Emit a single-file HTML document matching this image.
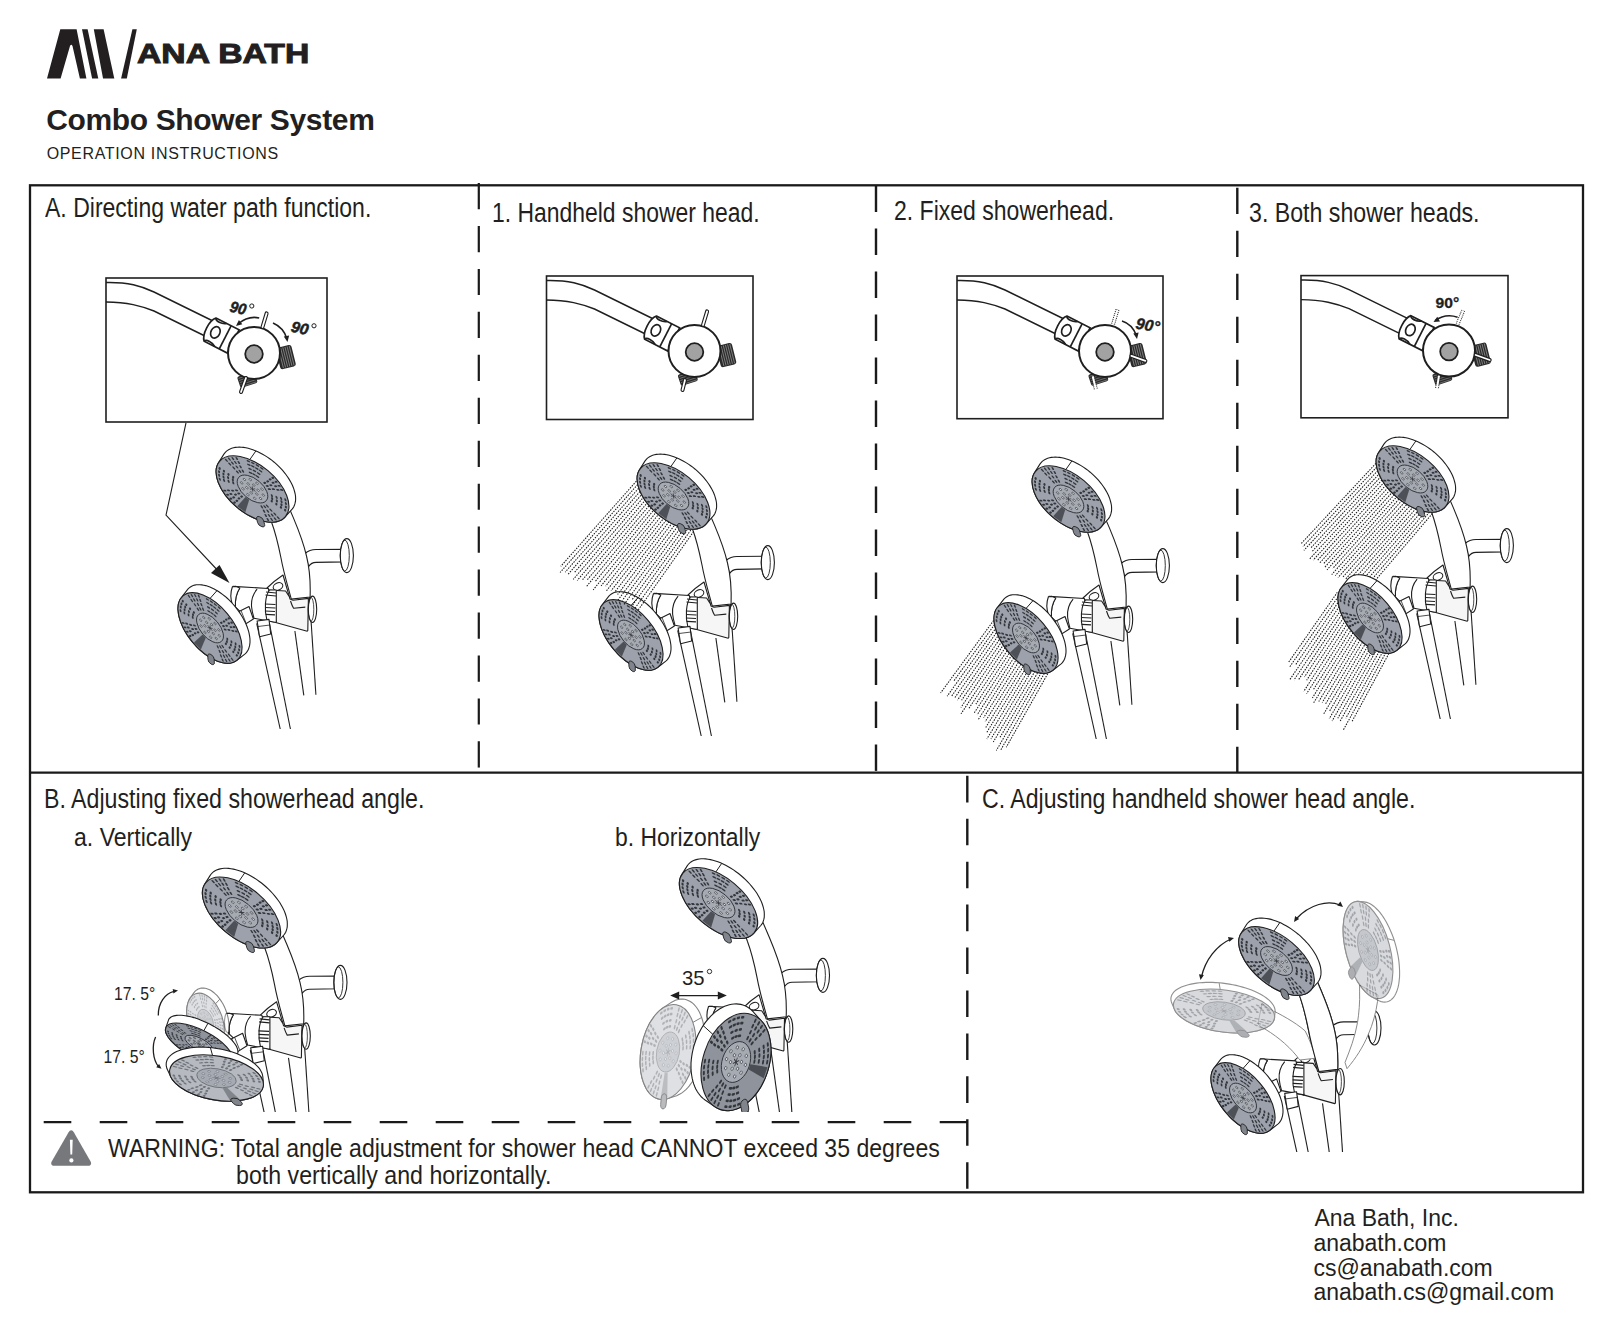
<!DOCTYPE html>
<html><head><meta charset="utf-8"><style>
html,body{margin:0;padding:0;background:#fff;}
body{width:1618px;height:1336px;position:relative;overflow:hidden;font-family:"Liberation Sans",sans-serif;}
.abs{position:absolute;left:0;top:0;}
.t{position:absolute;white-space:nowrap;line-height:1;transform-origin:0 0;}
</style></head><body>

<svg class="abs" width="1618" height="1336" viewBox="0 0 1618 1336">
 <g fill="#231f20">
  <path d="M47,78.5 L60.3,29.3 L76.6,29.3 L86.4,78.5 L79.9,78.5 L72.5,46 Q71.3,43.5 70,46 L60.6,78.5 Z"/>
  <path d="M82,29.3 L87.6,29.3 L98.3,78.5 L92.1,78.5 Z"/>
  <path d="M93.8,29.3 L103.6,29.3 L114.3,78.5 L103,78.5 Z"/>
  <path d="M132.4,29.3 L136.8,29.3 L126.8,78.5 L121.1,78.5 Z"/>
 </g>
</svg>
<svg class="abs" width="1618" height="1336" viewBox="0 0 1618 1336"><defs></defs>
<clipPath id="clipA"><rect x="106" y="278" width="221" height="144"/></clipPath><rect x="106" y="278" width="221" height="144" fill="#fff" stroke="#1f1f1f" stroke-width="1.6"/><g clip-path="url(#clipA)"><g transform="translate(106,278)"><g fill="none" stroke="#1f1f1f" stroke-width="1.45"><path d="M0,4.5 C22,4 35,8 48,14 L108,43.5"/><path d="M-2,24 C22,24 35,28 48,33 L101,59"/></g><g transform="translate(116.5,58) rotate(27)" stroke="#1f1f1f" stroke-width="1.7" fill="#fff"><path d="M-14,-13 L12,-13 L12,13 L-14,13 C-19,8 -19,-8 -14,-13 Z"/><ellipse cx="-8" cy="0" rx="4.5" ry="6" fill="none"/><path d="M-2,-13 C-6,-10 -13,-10 -14,-13" fill="none"/><path d="M-2,13 C-6,10 -13,10 -14,13" fill="none"/><path d="M3,-13 L3,13"/></g><g transform="translate(174,80.5) rotate(-14)"><rect x="-2" y="-11" width="16" height="22" rx="2.5" fill="#2a2a2a"/><g stroke="#8a8a8a" stroke-width="0.8"><line x1="1.0" y1="-10" x2="1.0" y2="10"/><line x1="3.2" y1="-10" x2="3.2" y2="10"/><line x1="5.4" y1="-10" x2="5.4" y2="10"/><line x1="7.6" y1="-10" x2="7.6" y2="10"/><line x1="9.8" y1="-10" x2="9.8" y2="10"/><line x1="12.0" y1="-10" x2="12.0" y2="10"/></g></g><g transform="translate(139.5,96) rotate(72)"><rect x="0" y="-9" width="12" height="18" rx="2" fill="#2a2a2a"/><g stroke="#777" stroke-width="0.8"><line x1="2.0" y1="-8" x2="2.0" y2="8"/><line x1="4.2" y1="-8" x2="4.2" y2="8"/><line x1="6.4" y1="-8" x2="6.4" y2="8"/><line x1="8.6" y1="-8" x2="8.6" y2="8"/><line x1="10.8" y1="-8" x2="10.8" y2="8"/></g></g><circle cx="148" cy="75" r="26" fill="#fff" stroke="#1f1f1f" stroke-width="2"/><circle cx="148" cy="76" r="8.8" fill="#a2a2a2" stroke="#1f1f1f" stroke-width="1.8"/><line x1="160.6" y1="35.4" x2="156.5" y2="49" stroke="#1f1f1f" stroke-width="4" stroke-linecap="round"/><line x1="160.6" y1="35.4" x2="156.5" y2="49" stroke="#fff" stroke-width="1.8" stroke-linecap="round"/><line x1="140" y1="100" x2="135" y2="114" stroke="#1f1f1f" stroke-width="4" stroke-linecap="round"/><line x1="140" y1="100" x2="135" y2="114" stroke="#fff" stroke-width="1.8" stroke-linecap="round"/><path d="M153.2,40 C145,38 138,41 132,46" fill="none" stroke="#1f1f1f" stroke-width="1.6"/><path d="M130.0,48.0 L132.9,42.1 L136.3,46.2 Z" fill="#1f1f1f"/><path d="M167,45 C174,48 179,54 181,61" fill="none" stroke="#1f1f1f" stroke-width="1.6"/><path d="M181.5,64.0 L177.8,58.6 L183.1,57.6 Z" fill="#1f1f1f"/><text x="122.96" y="33.50" font-family="Liberation Sans" font-size="15.5" font-weight="bold" font-style="italic" fill="#1f1f1f" stroke="#1f1f1f" stroke-width="0.5" textLength="16.47" lengthAdjust="spacingAndGlyphs" transform="rotate(12 123.2 33.5)">90</text><circle cx="145.8" cy="28" r="2.1" fill="none" stroke="#1f1f1f" stroke-width="1"/><text x="184.25" y="53.50" font-family="Liberation Sans" font-size="15.5" font-weight="bold" font-style="italic" fill="#1f1f1f" stroke="#1f1f1f" stroke-width="0.5" textLength="17.40" lengthAdjust="spacingAndGlyphs" transform="rotate(12 184.5 53.5)">90</text><circle cx="208" cy="47.8" r="2.1" fill="none" stroke="#1f1f1f" stroke-width="1"/></g></g>
<path d="M186,422.8 L166,515.2 L222,575" fill="none" stroke="#1f1f1f" stroke-width="1.1"/>
<path d="M229.5,583 L211,573 L219.5,565 Z" fill="#1f1f1f"/>
<g stroke="#1f1f1f" stroke-width="1.1" fill="none"><path d="M256.7,623.4 L280.2,729"/><path d="M269.4,623.4 L290.4,729"/><path d="M294.9,631 L303.8,695.3"/><path d="M309.5,597 L315.9,694.7"/></g><path d="M305,553.5 C309,550 312,549.5 316,549.5 L344,549.3 L344,561.9 L316,562.4 C313,562.4 311,563 308.5,566.6 Z" fill="#fff" stroke="#1f1f1f" stroke-width="1.1"/><ellipse cx="346.8" cy="555.6" rx="6.6" ry="17" fill="#fff" stroke="#1f1f1f" stroke-width="1.1"/><ellipse cx="344.8" cy="555.6" rx="4.5" ry="15.5" fill="none" stroke="#1f1f1f" stroke-width="0.9"/><path d="M266,506 L271.3,521.5 C276,534 279,548 281,558 C283.5,572 287.5,585 291.3,599.1 L310.1,597 C310.5,585 309.5,568 306.5,556 C303.5,543 298.5,530 293.4,517.9 L287,503 Z" fill="#fff" stroke="#1f1f1f" stroke-width="1.1"/><g stroke="#1f1f1f" stroke-width="1.1" fill="#fff" stroke-linejoin="round"><path d="M267,588 C271,584 277,579 283,575 L289.3,596.6 L270,592 Z"/><ellipse cx="278" cy="586.5" rx="5" ry="3.6" transform="rotate(-25 278 586.5)"/><path d="M285.6,591 L289.3,596.6 L290,599 L293,600.3 L308.4,598.4 L307.8,630.6 L307.2,631.2 L275.7,622.5 L268,590 Z" fill="#f6f6f6"/><path d="M290.5,601 C291.5,604 292.5,606.5 293.6,608.3 L305.3,607.1" fill="none"/><path d="M233,586.4 L268.3,588.5 L276.3,622.5 L254,618.2 C246,616 240,612 235.5,607 Z"/><path d="M257.1,589.2 C253,594 251,600 251.6,607 C252,611 253,615 254,618.2" fill="none"/><path d="M239.8,588 C236.5,593 235,600 235.5,607" fill="none"/><path d="M232.4,586.7 L236.1,586.4 L239.8,588 C236.5,593 235,600 235.5,607 L232.4,604.6 C230.5,599 230.5,592 232.4,586.7 Z"/><path d="M269.5,590 C265,596 264,610 267,620.7 L276.3,622.5 L276.3,590 Z" fill="#fff"/><path d="M265,604 L275.5,604.5 M265,607.5 L275.5,608 M265.2,611 L275,611.5 M265.6,614.3 L275,614.8 M266,592 L276,593 M265.5,595 L276,596" stroke-width="1.2"/><ellipse cx="312.5" cy="609.3" rx="4.2" ry="13.2"/><ellipse cx="311" cy="609.3" rx="2.8" ry="12" fill="none" stroke-width="0.8"/><path d="M238,612 L249,606.5 L253.4,619 L243,625.6 Z"/><path d="M241,610.5 L246,623" fill="none" stroke-width="0.8"/><path d="M257.1,621 L269,619.4 L270.7,634 L259.6,636.8 Z"/><path d="M258,626.5 L270,625" fill="none" stroke-width="0.8"/></g>
<g opacity="1.0"><path d="M178.0,609.3 L178.0,607.4 L178.2,605.5 L178.5,603.8 L178.9,602.2 L179.5,600.7 L180.2,599.3 L181.0,598.0 L187.1,590.1 L188.1,588.9 L189.2,587.9 L190.4,587.0 L191.7,586.2 L193.2,585.6 L194.7,585.1 L196.4,584.8 L198.1,584.7 L199.9,584.7 L201.8,584.9 L203.7,585.2 L205.7,585.6 L207.8,586.3 L209.9,587.0 L212.0,588.0 L214.2,589.0 L216.3,590.2 L218.5,591.5 L220.6,593.0 L222.8,594.6 L224.9,596.2 L227.0,598.0 L229.0,599.9 L231.0,601.9 L232.9,604.0 L234.8,606.1 L236.5,608.3 L238.2,610.6 L239.8,612.9 L241.3,615.2 L242.7,617.5 L244.0,619.9 L245.2,622.3 L246.3,624.7 L247.2,627.0 L248.0,629.4 L248.7,631.7 L249.2,633.9 L249.6,636.1 L249.9,638.2 L250.0,640.3 L250.0,642.3 L249.8,644.1 L249.5,645.9 L249.0,647.6 L248.5,649.2 L247.7,650.6 L246.9,651.9 L245.9,653.1 L244.8,654.1 L237.0,660.2 L235.8,661.1 L234.5,661.8 L233.1,662.4 L231.6,662.8 L230.0,663.1 L228.3,663.3 L226.6,663.3 L224.8,663.1 L222.9,662.8 L220.9,662.3 L218.9,661.7 L216.9,661.0 L214.8,660.1 L212.8,659.1 L210.7,657.9 L208.6,656.6 L206.5,655.2 L204.4,653.7 L202.4,652.0 L200.3,650.3 L198.4,648.5 L196.4,646.5 L194.6,644.5 L192.8,642.5 L191.0,640.3 L189.4,638.1 L187.8,635.9 L186.4,633.6 L185.0,631.4 L183.7,629.0 L182.6,626.7 L181.6,624.4 L180.7,622.2 L179.9,619.9 L179.2,617.7 L178.7,615.5 L178.3,613.3 L178.1,611.3 Z" fill="#fff" stroke="#1f1f1f" stroke-width="1.1"/><line x1="210.0" y1="598.5" x2="217.0" y2="590.6" stroke="#1f1f1f" stroke-width="1"/><g transform="translate(210.0,628.0) rotate(50.0) scale(0.8400,0.4500)"><circle r="50" fill="#9ca1ab" stroke="#1f1f1f" stroke-width="1.1" vector-effect="non-scaling-stroke"/><g fill="#33363b"><rect x="-2.4" y="-1.35" width="4.8" height="2.7" rx="1.3" transform="translate(26.6,4.7) rotate(10)"/><rect x="-2.4" y="-1.35" width="4.8" height="2.7" rx="1.3" transform="translate(25.3,9.4) rotate(20)"/><rect x="-2.4" y="-1.35" width="4.8" height="2.7" rx="1.3" transform="translate(23.2,13.8) rotate(31)"/><rect x="-2.4" y="-1.35" width="4.8" height="2.7" rx="1.3" transform="translate(33.0,5.9) rotate(10)"/><rect x="-2.4" y="-1.35" width="4.8" height="2.7" rx="1.3" transform="translate(31.4,11.7) rotate(20)"/><rect x="-2.4" y="-1.35" width="4.8" height="2.7" rx="1.3" transform="translate(28.8,17.1) rotate(31)"/><rect x="-2.4" y="-1.35" width="4.8" height="2.7" rx="1.3" transform="translate(39.5,6.1) rotate(9)"/><rect x="-2.4" y="-1.35" width="4.8" height="2.7" rx="1.3" transform="translate(38.3,11.4) rotate(17)"/><rect x="-2.4" y="-1.35" width="4.8" height="2.7" rx="1.3" transform="translate(36.5,16.4) rotate(24)"/><rect x="-2.4" y="-1.35" width="4.8" height="2.7" rx="1.3" transform="translate(33.9,21.2) rotate(32)"/><rect x="-2.4" y="-1.35" width="4.8" height="2.7" rx="1.3" transform="translate(45.5,7.0) rotate(9)"/><rect x="-2.4" y="-1.35" width="4.8" height="2.7" rx="1.3" transform="translate(44.1,13.1) rotate(17)"/><rect x="-2.4" y="-1.35" width="4.8" height="2.7" rx="1.3" transform="translate(41.9,18.9) rotate(24)"/><rect x="-2.4" y="-1.35" width="4.8" height="2.7" rx="1.3" transform="translate(39.0,24.4) rotate(32)"/><rect x="-2.4" y="-1.35" width="4.8" height="2.7" rx="1.3" transform="translate(-5.2,26.5) rotate(101)"/><rect x="-2.4" y="-1.35" width="4.8" height="2.7" rx="1.3" transform="translate(-9.9,25.1) rotate(111)"/><rect x="-2.4" y="-1.35" width="4.8" height="2.7" rx="1.3" transform="translate(-14.2,22.9) rotate(122)"/><rect x="-2.4" y="-1.35" width="4.8" height="2.7" rx="1.3" transform="translate(-6.5,32.9) rotate(101)"/><rect x="-2.4" y="-1.35" width="4.8" height="2.7" rx="1.3" transform="translate(-12.3,31.2) rotate(111)"/><rect x="-2.4" y="-1.35" width="4.8" height="2.7" rx="1.3" transform="translate(-17.6,28.5) rotate(122)"/><rect x="-2.4" y="-1.35" width="4.8" height="2.7" rx="1.3" transform="translate(-6.8,39.4) rotate(100)"/><rect x="-2.4" y="-1.35" width="4.8" height="2.7" rx="1.3" transform="translate(-12.1,38.1) rotate(108)"/><rect x="-2.4" y="-1.35" width="4.8" height="2.7" rx="1.3" transform="translate(-17.1,36.2) rotate(115)"/><rect x="-2.4" y="-1.35" width="4.8" height="2.7" rx="1.3" transform="translate(-21.8,33.5) rotate(123)"/><rect x="-2.4" y="-1.35" width="4.8" height="2.7" rx="1.3" transform="translate(-7.9,45.3) rotate(100)"/><rect x="-2.4" y="-1.35" width="4.8" height="2.7" rx="1.3" transform="translate(-13.9,43.9) rotate(108)"/><rect x="-2.4" y="-1.35" width="4.8" height="2.7" rx="1.3" transform="translate(-19.7,41.6) rotate(115)"/><rect x="-2.4" y="-1.35" width="4.8" height="2.7" rx="1.3" transform="translate(-25.1,38.5) rotate(123)"/><rect x="-2.4" y="-1.35" width="4.8" height="2.7" rx="1.3" transform="translate(-22.9,14.3) rotate(238)"/><rect x="-2.4" y="-1.35" width="4.8" height="2.7" rx="1.3" transform="translate(-25.1,10.0) rotate(248)"/><rect x="-2.4" y="-1.35" width="4.8" height="2.7" rx="1.3" transform="translate(-26.5,5.3) rotate(259)"/><rect x="-2.4" y="-1.35" width="4.8" height="2.7" rx="1.3" transform="translate(-28.4,17.8) rotate(238)"/><rect x="-2.4" y="-1.35" width="4.8" height="2.7" rx="1.3" transform="translate(-31.1,12.4) rotate(248)"/><rect x="-2.4" y="-1.35" width="4.8" height="2.7" rx="1.3" transform="translate(-32.8,6.6) rotate(259)"/><rect x="-2.4" y="-1.35" width="4.8" height="2.7" rx="1.3" transform="translate(-33.4,22.0) rotate(237)"/><rect x="-2.4" y="-1.35" width="4.8" height="2.7" rx="1.3" transform="translate(-36.1,17.2) rotate(244)"/><rect x="-2.4" y="-1.35" width="4.8" height="2.7" rx="1.3" transform="translate(-38.1,12.2) rotate(252)"/><rect x="-2.4" y="-1.35" width="4.8" height="2.7" rx="1.3" transform="translate(-39.4,7.0) rotate(260)"/><rect x="-2.4" y="-1.35" width="4.8" height="2.7" rx="1.3" transform="translate(-38.4,25.3) rotate(237)"/><rect x="-2.4" y="-1.35" width="4.8" height="2.7" rx="1.3" transform="translate(-41.5,19.8) rotate(244)"/><rect x="-2.4" y="-1.35" width="4.8" height="2.7" rx="1.3" transform="translate(-43.8,14.1) rotate(252)"/><rect x="-2.4" y="-1.35" width="4.8" height="2.7" rx="1.3" transform="translate(-45.3,8.0) rotate(260)"/><rect x="-2.4" y="-1.35" width="4.8" height="2.7" rx="1.3" transform="translate(-26.3,-6.2) rotate(193)"/><rect x="-2.4" y="-1.35" width="4.8" height="2.7" rx="1.3" transform="translate(-24.8,-10.8) rotate(204)"/><rect x="-2.4" y="-1.35" width="4.8" height="2.7" rx="1.3" transform="translate(-22.4,-15.0) rotate(214)"/><rect x="-2.4" y="-1.35" width="4.8" height="2.7" rx="1.3" transform="translate(-32.6,-7.6) rotate(193)"/><rect x="-2.4" y="-1.35" width="4.8" height="2.7" rx="1.3" transform="translate(-30.7,-13.4) rotate(204)"/><rect x="-2.4" y="-1.35" width="4.8" height="2.7" rx="1.3" transform="translate(-27.8,-18.7) rotate(214)"/><rect x="-2.4" y="-1.35" width="4.8" height="2.7" rx="1.3" transform="translate(-39.1,-8.2) rotate(192)"/><rect x="-2.4" y="-1.35" width="4.8" height="2.7" rx="1.3" transform="translate(-37.7,-13.4) rotate(200)"/><rect x="-2.4" y="-1.35" width="4.8" height="2.7" rx="1.3" transform="translate(-35.5,-18.4) rotate(207)"/><rect x="-2.4" y="-1.35" width="4.8" height="2.7" rx="1.3" transform="translate(-32.7,-23.0) rotate(215)"/><rect x="-2.4" y="-1.35" width="4.8" height="2.7" rx="1.3" transform="translate(-45.0,-9.5) rotate(192)"/><rect x="-2.4" y="-1.35" width="4.8" height="2.7" rx="1.3" transform="translate(-43.3,-15.5) rotate(200)"/><rect x="-2.4" y="-1.35" width="4.8" height="2.7" rx="1.3" transform="translate(-40.8,-21.2) rotate(207)"/><rect x="-2.4" y="-1.35" width="4.8" height="2.7" rx="1.3" transform="translate(-37.6,-26.5) rotate(215)"/><rect x="-2.4" y="-1.35" width="4.8" height="2.7" rx="1.3" transform="translate(-16.0,-21.8) rotate(324)"/><rect x="-2.4" y="-1.35" width="4.8" height="2.7" rx="1.3" transform="translate(-11.8,-24.3) rotate(334)"/><rect x="-2.4" y="-1.35" width="4.8" height="2.7" rx="1.3" transform="translate(-7.3,-26.0) rotate(344)"/><rect x="-2.4" y="-1.35" width="4.8" height="2.7" rx="1.3" transform="translate(-19.8,-27.0) rotate(324)"/><rect x="-2.4" y="-1.35" width="4.8" height="2.7" rx="1.3" transform="translate(-14.7,-30.1) rotate(334)"/><rect x="-2.4" y="-1.35" width="4.8" height="2.7" rx="1.3" transform="translate(-9.0,-32.3) rotate(344)"/><rect x="-2.4" y="-1.35" width="4.8" height="2.7" rx="1.3" transform="translate(-24.4,-31.7) rotate(322)"/><rect x="-2.4" y="-1.35" width="4.8" height="2.7" rx="1.3" transform="translate(-19.9,-34.7) rotate(330)"/><rect x="-2.4" y="-1.35" width="4.8" height="2.7" rx="1.3" transform="translate(-15.0,-37.1) rotate(338)"/><rect x="-2.4" y="-1.35" width="4.8" height="2.7" rx="1.3" transform="translate(-9.9,-38.8) rotate(346)"/><rect x="-2.4" y="-1.35" width="4.8" height="2.7" rx="1.3" transform="translate(-28.1,-36.4) rotate(322)"/><rect x="-2.4" y="-1.35" width="4.8" height="2.7" rx="1.3" transform="translate(-22.9,-39.9) rotate(330)"/><rect x="-2.4" y="-1.35" width="4.8" height="2.7" rx="1.3" transform="translate(-17.3,-42.6) rotate(338)"/><rect x="-2.4" y="-1.35" width="4.8" height="2.7" rx="1.3" transform="translate(-11.4,-44.6) rotate(346)"/><rect x="-2.4" y="-1.35" width="4.8" height="2.7" rx="1.3" transform="translate(3.9,-26.7) rotate(278)"/><rect x="-2.4" y="-1.35" width="4.8" height="2.7" rx="1.3" transform="translate(8.6,-25.6) rotate(289)"/><rect x="-2.4" y="-1.35" width="4.8" height="2.7" rx="1.3" transform="translate(13.1,-23.6) rotate(299)"/><rect x="-2.4" y="-1.35" width="4.8" height="2.7" rx="1.3" transform="translate(4.8,-33.2) rotate(278)"/><rect x="-2.4" y="-1.35" width="4.8" height="2.7" rx="1.3" transform="translate(10.7,-31.7) rotate(289)"/><rect x="-2.4" y="-1.35" width="4.8" height="2.7" rx="1.3" transform="translate(16.2,-29.3) rotate(299)"/><rect x="-2.4" y="-1.35" width="4.8" height="2.7" rx="1.3" transform="translate(4.9,-39.7) rotate(277)"/><rect x="-2.4" y="-1.35" width="4.8" height="2.7" rx="1.3" transform="translate(10.2,-38.7) rotate(285)"/><rect x="-2.4" y="-1.35" width="4.8" height="2.7" rx="1.3" transform="translate(15.3,-37.0) rotate(292)"/><rect x="-2.4" y="-1.35" width="4.8" height="2.7" rx="1.3" transform="translate(20.1,-34.6) rotate(300)"/><rect x="-2.4" y="-1.35" width="4.8" height="2.7" rx="1.3" transform="translate(5.6,-45.7) rotate(277)"/><rect x="-2.4" y="-1.35" width="4.8" height="2.7" rx="1.3" transform="translate(11.7,-44.5) rotate(285)"/><rect x="-2.4" y="-1.35" width="4.8" height="2.7" rx="1.3" transform="translate(17.6,-42.5) rotate(292)"/><rect x="-2.4" y="-1.35" width="4.8" height="2.7" rx="1.3" transform="translate(23.2,-39.7) rotate(300)"/><rect x="-2.4" y="-1.35" width="4.8" height="2.7" rx="1.3" transform="translate(23.4,-13.6) rotate(420)"/><rect x="-2.4" y="-1.35" width="4.8" height="2.7" rx="1.3" transform="translate(25.4,-9.1) rotate(430)"/><rect x="-2.4" y="-1.35" width="4.8" height="2.7" rx="1.3" transform="translate(26.6,-4.4) rotate(441)"/><rect x="-2.4" y="-1.35" width="4.8" height="2.7" rx="1.3" transform="translate(29.0,-16.8) rotate(420)"/><rect x="-2.4" y="-1.35" width="4.8" height="2.7" rx="1.3" transform="translate(31.5,-11.3) rotate(430)"/><rect x="-2.4" y="-1.35" width="4.8" height="2.7" rx="1.3" transform="translate(33.0,-5.5) rotate(441)"/><rect x="-2.4" y="-1.35" width="4.8" height="2.7" rx="1.3" transform="translate(34.1,-20.9) rotate(419)"/><rect x="-2.4" y="-1.35" width="4.8" height="2.7" rx="1.3" transform="translate(36.6,-16.1) rotate(426)"/><rect x="-2.4" y="-1.35" width="4.8" height="2.7" rx="1.3" transform="translate(38.5,-11.0) rotate(434)"/><rect x="-2.4" y="-1.35" width="4.8" height="2.7" rx="1.3" transform="translate(39.6,-5.7) rotate(442)"/><rect x="-2.4" y="-1.35" width="4.8" height="2.7" rx="1.3" transform="translate(39.3,-24.0) rotate(419)"/><rect x="-2.4" y="-1.35" width="4.8" height="2.7" rx="1.3" transform="translate(42.1,-18.5) rotate(426)"/><rect x="-2.4" y="-1.35" width="4.8" height="2.7" rx="1.3" transform="translate(44.2,-12.6) rotate(434)"/><rect x="-2.4" y="-1.35" width="4.8" height="2.7" rx="1.3" transform="translate(45.5,-6.5) rotate(442)"/></g><path d="M5.8,21.2 L12.6,46.3 L1.0,48.0 L0.4,22.0 Z" fill="#33363b" opacity="0.75"/><circle r="21" fill="#a6aab2" stroke="#33363b" stroke-width="1" vector-effect="non-scaling-stroke"/><circle cx="7.6" cy="2.4" r="1.7" fill="#dfe1e4" stroke="#33363b" stroke-width="0.7" vector-effect="non-scaling-stroke"/><circle cx="1.8" cy="7.8" r="1.7" fill="#dfe1e4" stroke="#33363b" stroke-width="0.7" vector-effect="non-scaling-stroke"/><circle cx="-5.9" cy="5.4" r="1.7" fill="#dfe1e4" stroke="#33363b" stroke-width="0.7" vector-effect="non-scaling-stroke"/><circle cx="-7.6" cy="-2.4" r="1.7" fill="#dfe1e4" stroke="#33363b" stroke-width="0.7" vector-effect="non-scaling-stroke"/><circle cx="-1.8" cy="-7.8" r="1.7" fill="#dfe1e4" stroke="#33363b" stroke-width="0.7" vector-effect="non-scaling-stroke"/><circle cx="5.9" cy="-5.4" r="1.7" fill="#dfe1e4" stroke="#33363b" stroke-width="0.7" vector-effect="non-scaling-stroke"/><circle cx="14.3" cy="4.4" r="1.7" fill="#dfe1e4" stroke="#33363b" stroke-width="0.7" vector-effect="non-scaling-stroke"/><circle cx="9.0" cy="12.0" r="1.7" fill="#dfe1e4" stroke="#33363b" stroke-width="0.7" vector-effect="non-scaling-stroke"/><circle cx="0.2" cy="15.0" r="1.7" fill="#dfe1e4" stroke="#33363b" stroke-width="0.7" vector-effect="non-scaling-stroke"/><circle cx="-8.6" cy="12.3" r="1.7" fill="#dfe1e4" stroke="#33363b" stroke-width="0.7" vector-effect="non-scaling-stroke"/><circle cx="-14.2" cy="4.8" r="1.7" fill="#dfe1e4" stroke="#33363b" stroke-width="0.7" vector-effect="non-scaling-stroke"/><circle cx="-14.3" cy="-4.4" r="1.7" fill="#dfe1e4" stroke="#33363b" stroke-width="0.7" vector-effect="non-scaling-stroke"/><circle cx="-9.0" cy="-12.0" r="1.7" fill="#dfe1e4" stroke="#33363b" stroke-width="0.7" vector-effect="non-scaling-stroke"/><circle cx="-0.2" cy="-15.0" r="1.7" fill="#dfe1e4" stroke="#33363b" stroke-width="0.7" vector-effect="non-scaling-stroke"/><circle cx="8.6" cy="-12.3" r="1.7" fill="#dfe1e4" stroke="#33363b" stroke-width="0.7" vector-effect="non-scaling-stroke"/><circle cx="14.2" cy="-4.8" r="1.7" fill="#dfe1e4" stroke="#33363b" stroke-width="0.7" vector-effect="non-scaling-stroke"/><g stroke="#33363b" stroke-width="1.1" vector-effect="non-scaling-stroke"><line x1="0" y1="0" x2="4.5" y2="0.0"/><line x1="0" y1="0" x2="2.3" y2="3.9"/><line x1="0" y1="0" x2="-2.2" y2="3.9"/><line x1="0" y1="0" x2="-4.5" y2="0.0"/><line x1="0" y1="0" x2="-2.3" y2="-3.9"/><line x1="0" y1="0" x2="2.3" y2="-3.9"/></g><g transform="rotate(55.6)"><rect x="44" y="-5" width="16" height="10" rx="5" fill="#80848c" stroke="#1f1f1f" stroke-width="0.9" vector-effect="non-scaling-stroke"/></g></g></g><g opacity="1.0"><path d="M216.1,472.3 L216.2,470.5 L216.3,468.7 L216.7,467.1 L217.2,465.5 L217.8,464.0 L218.6,462.6 L223.9,454.1 L224.9,452.8 L226.0,451.6 L227.2,450.6 L228.6,449.7 L230.1,448.9 L231.7,448.3 L233.5,447.8 L235.3,447.4 L237.3,447.2 L239.3,447.1 L241.4,447.2 L243.6,447.4 L245.9,447.8 L248.2,448.3 L250.5,449.0 L252.9,449.7 L255.3,450.7 L257.8,451.7 L260.2,452.9 L262.6,454.2 L265.0,455.6 L267.4,457.1 L269.7,458.7 L272.0,460.4 L274.2,462.2 L276.4,464.1 L278.5,466.1 L280.5,468.1 L282.4,470.2 L284.2,472.3 L285.9,474.5 L287.5,476.7 L288.9,478.9 L290.2,481.1 L291.4,483.3 L292.5,485.5 L293.4,487.7 L294.1,489.8 L294.7,492.0 L295.2,494.0 L295.5,496.0 L295.6,498.0 L295.6,499.9 L295.4,501.7 L295.0,503.4 L294.5,505.0 L293.9,506.5 L293.1,507.9 L292.1,509.2 L285.4,516.6 L284.4,517.8 L283.1,518.8 L281.8,519.7 L280.3,520.5 L278.7,521.1 L277.0,521.6 L275.2,521.9 L273.3,522.1 L271.3,522.2 L269.2,522.1 L267.1,521.9 L264.9,521.5 L262.6,521.0 L260.3,520.4 L258.0,519.6 L255.6,518.7 L253.2,517.7 L250.9,516.6 L248.5,515.3 L246.1,513.9 L243.8,512.4 L241.5,510.8 L239.3,509.2 L237.1,507.4 L235.0,505.5 L232.9,503.6 L230.9,501.6 L229.1,499.6 L227.3,497.5 L225.6,495.4 L224.1,493.3 L222.7,491.1 L221.4,488.9 L220.2,486.8 L219.2,484.6 L218.3,482.5 L217.6,480.3 L217.0,478.3 L216.5,476.2 L216.3,474.3 Z" fill="#fff" stroke="#1f1f1f" stroke-width="1.1"/><line x1="249.9" y1="459.5" x2="255.9" y2="450.9" stroke="#1f1f1f" stroke-width="1"/><g transform="translate(252.5,489.0) rotate(40.0) scale(0.8600,0.4800)"><circle r="50" fill="#9ca1ab" stroke="#1f1f1f" stroke-width="1.1" vector-effect="non-scaling-stroke"/><g fill="#33363b"><rect x="-2.4" y="-1.35" width="4.8" height="2.7" rx="1.3" transform="translate(26.0,7.4) rotate(16)"/><rect x="-2.4" y="-1.35" width="4.8" height="2.7" rx="1.3" transform="translate(24.2,11.9) rotate(26)"/><rect x="-2.4" y="-1.35" width="4.8" height="2.7" rx="1.3" transform="translate(21.7,16.1) rotate(36)"/><rect x="-2.4" y="-1.35" width="4.8" height="2.7" rx="1.3" transform="translate(32.2,9.1) rotate(16)"/><rect x="-2.4" y="-1.35" width="4.8" height="2.7" rx="1.3" transform="translate(30.1,14.8) rotate(26)"/><rect x="-2.4" y="-1.35" width="4.8" height="2.7" rx="1.3" transform="translate(26.9,19.9) rotate(36)"/><rect x="-2.4" y="-1.35" width="4.8" height="2.7" rx="1.3" transform="translate(38.7,10.0) rotate(15)"/><rect x="-2.4" y="-1.35" width="4.8" height="2.7" rx="1.3" transform="translate(37.0,15.2) rotate(22)"/><rect x="-2.4" y="-1.35" width="4.8" height="2.7" rx="1.3" transform="translate(34.6,20.0) rotate(30)"/><rect x="-2.4" y="-1.35" width="4.8" height="2.7" rx="1.3" transform="translate(31.6,24.5) rotate(38)"/><rect x="-2.4" y="-1.35" width="4.8" height="2.7" rx="1.3" transform="translate(44.5,11.5) rotate(15)"/><rect x="-2.4" y="-1.35" width="4.8" height="2.7" rx="1.3" transform="translate(42.6,17.4) rotate(22)"/><rect x="-2.4" y="-1.35" width="4.8" height="2.7" rx="1.3" transform="translate(39.8,23.0) rotate(30)"/><rect x="-2.4" y="-1.35" width="4.8" height="2.7" rx="1.3" transform="translate(36.4,28.2) rotate(38)"/><rect x="-2.4" y="-1.35" width="4.8" height="2.7" rx="1.3" transform="translate(-4.0,26.7) rotate(99)"/><rect x="-2.4" y="-1.35" width="4.8" height="2.7" rx="1.3" transform="translate(-8.8,25.5) rotate(109)"/><rect x="-2.4" y="-1.35" width="4.8" height="2.7" rx="1.3" transform="translate(-13.2,23.5) rotate(119)"/><rect x="-2.4" y="-1.35" width="4.8" height="2.7" rx="1.3" transform="translate(-5.0,33.1) rotate(99)"/><rect x="-2.4" y="-1.35" width="4.8" height="2.7" rx="1.3" transform="translate(-10.9,31.7) rotate(109)"/><rect x="-2.4" y="-1.35" width="4.8" height="2.7" rx="1.3" transform="translate(-16.4,29.2) rotate(119)"/><rect x="-2.4" y="-1.35" width="4.8" height="2.7" rx="1.3" transform="translate(-5.1,39.7) rotate(97)"/><rect x="-2.4" y="-1.35" width="4.8" height="2.7" rx="1.3" transform="translate(-10.4,38.6) rotate(105)"/><rect x="-2.4" y="-1.35" width="4.8" height="2.7" rx="1.3" transform="translate(-15.5,36.9) rotate(113)"/><rect x="-2.4" y="-1.35" width="4.8" height="2.7" rx="1.3" transform="translate(-20.3,34.4) rotate(121)"/><rect x="-2.4" y="-1.35" width="4.8" height="2.7" rx="1.3" transform="translate(-5.9,45.6) rotate(97)"/><rect x="-2.4" y="-1.35" width="4.8" height="2.7" rx="1.3" transform="translate(-12.0,44.4) rotate(105)"/><rect x="-2.4" y="-1.35" width="4.8" height="2.7" rx="1.3" transform="translate(-17.8,42.4) rotate(113)"/><rect x="-2.4" y="-1.35" width="4.8" height="2.7" rx="1.3" transform="translate(-23.4,39.6) rotate(121)"/><rect x="-2.4" y="-1.35" width="4.8" height="2.7" rx="1.3" transform="translate(-21.8,15.9) rotate(234)"/><rect x="-2.4" y="-1.35" width="4.8" height="2.7" rx="1.3" transform="translate(-24.3,11.8) rotate(244)"/><rect x="-2.4" y="-1.35" width="4.8" height="2.7" rx="1.3" transform="translate(-26.0,7.2) rotate(255)"/><rect x="-2.4" y="-1.35" width="4.8" height="2.7" rx="1.3" transform="translate(-27.0,19.8) rotate(234)"/><rect x="-2.4" y="-1.35" width="4.8" height="2.7" rx="1.3" transform="translate(-30.2,14.6) rotate(244)"/><rect x="-2.4" y="-1.35" width="4.8" height="2.7" rx="1.3" transform="translate(-32.3,8.9) rotate(255)"/><rect x="-2.4" y="-1.35" width="4.8" height="2.7" rx="1.3" transform="translate(-31.8,24.3) rotate(233)"/><rect x="-2.4" y="-1.35" width="4.8" height="2.7" rx="1.3" transform="translate(-34.7,19.8) rotate(240)"/><rect x="-2.4" y="-1.35" width="4.8" height="2.7" rx="1.3" transform="translate(-37.1,14.9) rotate(248)"/><rect x="-2.4" y="-1.35" width="4.8" height="2.7" rx="1.3" transform="translate(-38.8,9.8) rotate(256)"/><rect x="-2.4" y="-1.35" width="4.8" height="2.7" rx="1.3" transform="translate(-36.5,28.0) rotate(233)"/><rect x="-2.4" y="-1.35" width="4.8" height="2.7" rx="1.3" transform="translate(-40.0,22.8) rotate(240)"/><rect x="-2.4" y="-1.35" width="4.8" height="2.7" rx="1.3" transform="translate(-42.7,17.2) rotate(248)"/><rect x="-2.4" y="-1.35" width="4.8" height="2.7" rx="1.3" transform="translate(-44.6,11.3) rotate(256)"/><rect x="-2.4" y="-1.35" width="4.8" height="2.7" rx="1.3" transform="translate(-26.1,-6.9) rotate(195)"/><rect x="-2.4" y="-1.35" width="4.8" height="2.7" rx="1.3" transform="translate(-24.4,-11.5) rotate(205)"/><rect x="-2.4" y="-1.35" width="4.8" height="2.7" rx="1.3" transform="translate(-22.0,-15.7) rotate(216)"/><rect x="-2.4" y="-1.35" width="4.8" height="2.7" rx="1.3" transform="translate(-32.4,-8.6) rotate(195)"/><rect x="-2.4" y="-1.35" width="4.8" height="2.7" rx="1.3" transform="translate(-30.3,-14.3) rotate(205)"/><rect x="-2.4" y="-1.35" width="4.8" height="2.7" rx="1.3" transform="translate(-27.3,-19.5) rotate(216)"/><rect x="-2.4" y="-1.35" width="4.8" height="2.7" rx="1.3" transform="translate(-38.9,-9.4) rotate(194)"/><rect x="-2.4" y="-1.35" width="4.8" height="2.7" rx="1.3" transform="translate(-37.3,-14.5) rotate(201)"/><rect x="-2.4" y="-1.35" width="4.8" height="2.7" rx="1.3" transform="translate(-35.0,-19.4) rotate(209)"/><rect x="-2.4" y="-1.35" width="4.8" height="2.7" rx="1.3" transform="translate(-32.0,-24.0) rotate(217)"/><rect x="-2.4" y="-1.35" width="4.8" height="2.7" rx="1.3" transform="translate(-44.7,-10.8) rotate(194)"/><rect x="-2.4" y="-1.35" width="4.8" height="2.7" rx="1.3" transform="translate(-42.9,-16.7) rotate(201)"/><rect x="-2.4" y="-1.35" width="4.8" height="2.7" rx="1.3" transform="translate(-40.2,-22.3) rotate(209)"/><rect x="-2.4" y="-1.35" width="4.8" height="2.7" rx="1.3" transform="translate(-36.8,-27.6) rotate(217)"/><rect x="-2.4" y="-1.35" width="4.8" height="2.7" rx="1.3" transform="translate(-13.9,-23.2) rotate(329)"/><rect x="-2.4" y="-1.35" width="4.8" height="2.7" rx="1.3" transform="translate(-9.5,-25.3) rotate(339)"/><rect x="-2.4" y="-1.35" width="4.8" height="2.7" rx="1.3" transform="translate(-4.8,-26.6) rotate(350)"/><rect x="-2.4" y="-1.35" width="4.8" height="2.7" rx="1.3" transform="translate(-17.2,-28.7) rotate(329)"/><rect x="-2.4" y="-1.35" width="4.8" height="2.7" rx="1.3" transform="translate(-11.8,-31.4) rotate(339)"/><rect x="-2.4" y="-1.35" width="4.8" height="2.7" rx="1.3" transform="translate(-6.0,-33.0) rotate(350)"/><rect x="-2.4" y="-1.35" width="4.8" height="2.7" rx="1.3" transform="translate(-21.3,-33.8) rotate(328)"/><rect x="-2.4" y="-1.35" width="4.8" height="2.7" rx="1.3" transform="translate(-16.6,-36.4) rotate(336)"/><rect x="-2.4" y="-1.35" width="4.8" height="2.7" rx="1.3" transform="translate(-11.5,-38.3) rotate(343)"/><rect x="-2.4" y="-1.35" width="4.8" height="2.7" rx="1.3" transform="translate(-6.2,-39.5) rotate(351)"/><rect x="-2.4" y="-1.35" width="4.8" height="2.7" rx="1.3" transform="translate(-24.5,-38.9) rotate(328)"/><rect x="-2.4" y="-1.35" width="4.8" height="2.7" rx="1.3" transform="translate(-19.1,-41.9) rotate(336)"/><rect x="-2.4" y="-1.35" width="4.8" height="2.7" rx="1.3" transform="translate(-13.2,-44.1) rotate(343)"/><rect x="-2.4" y="-1.35" width="4.8" height="2.7" rx="1.3" transform="translate(-7.2,-45.4) rotate(351)"/><rect x="-2.4" y="-1.35" width="4.8" height="2.7" rx="1.3" transform="translate(6.3,-26.3) rotate(284)"/><rect x="-2.4" y="-1.35" width="4.8" height="2.7" rx="1.3" transform="translate(10.9,-24.7) rotate(294)"/><rect x="-2.4" y="-1.35" width="4.8" height="2.7" rx="1.3" transform="translate(15.2,-22.3) rotate(304)"/><rect x="-2.4" y="-1.35" width="4.8" height="2.7" rx="1.3" transform="translate(7.8,-32.6) rotate(284)"/><rect x="-2.4" y="-1.35" width="4.8" height="2.7" rx="1.3" transform="translate(13.5,-30.6) rotate(294)"/><rect x="-2.4" y="-1.35" width="4.8" height="2.7" rx="1.3" transform="translate(18.8,-27.7) rotate(304)"/><rect x="-2.4" y="-1.35" width="4.8" height="2.7" rx="1.3" transform="translate(8.5,-39.1) rotate(282)"/><rect x="-2.4" y="-1.35" width="4.8" height="2.7" rx="1.3" transform="translate(13.7,-37.6) rotate(290)"/><rect x="-2.4" y="-1.35" width="4.8" height="2.7" rx="1.3" transform="translate(18.6,-35.4) rotate(298)"/><rect x="-2.4" y="-1.35" width="4.8" height="2.7" rx="1.3" transform="translate(23.2,-32.6) rotate(305)"/><rect x="-2.4" y="-1.35" width="4.8" height="2.7" rx="1.3" transform="translate(9.7,-45.0) rotate(282)"/><rect x="-2.4" y="-1.35" width="4.8" height="2.7" rx="1.3" transform="translate(15.7,-43.2) rotate(290)"/><rect x="-2.4" y="-1.35" width="4.8" height="2.7" rx="1.3" transform="translate(21.4,-40.7) rotate(298)"/><rect x="-2.4" y="-1.35" width="4.8" height="2.7" rx="1.3" transform="translate(26.7,-37.5) rotate(305)"/><rect x="-2.4" y="-1.35" width="4.8" height="2.7" rx="1.3" transform="translate(22.3,-15.2) rotate(416)"/><rect x="-2.4" y="-1.35" width="4.8" height="2.7" rx="1.3" transform="translate(24.7,-11.0) rotate(426)"/><rect x="-2.4" y="-1.35" width="4.8" height="2.7" rx="1.3" transform="translate(26.2,-6.4) rotate(436)"/><rect x="-2.4" y="-1.35" width="4.8" height="2.7" rx="1.3" transform="translate(27.7,-18.9) rotate(416)"/><rect x="-2.4" y="-1.35" width="4.8" height="2.7" rx="1.3" transform="translate(30.6,-13.6) rotate(426)"/><rect x="-2.4" y="-1.35" width="4.8" height="2.7" rx="1.3" transform="translate(32.5,-7.9) rotate(436)"/><rect x="-2.4" y="-1.35" width="4.8" height="2.7" rx="1.3" transform="translate(32.5,-23.3) rotate(414)"/><rect x="-2.4" y="-1.35" width="4.8" height="2.7" rx="1.3" transform="translate(35.3,-18.7) rotate(422)"/><rect x="-2.4" y="-1.35" width="4.8" height="2.7" rx="1.3" transform="translate(37.5,-13.8) rotate(430)"/><rect x="-2.4" y="-1.35" width="4.8" height="2.7" rx="1.3" transform="translate(39.1,-8.6) rotate(438)"/><rect x="-2.4" y="-1.35" width="4.8" height="2.7" rx="1.3" transform="translate(37.4,-26.8) rotate(414)"/><rect x="-2.4" y="-1.35" width="4.8" height="2.7" rx="1.3" transform="translate(40.6,-21.5) rotate(422)"/><rect x="-2.4" y="-1.35" width="4.8" height="2.7" rx="1.3" transform="translate(43.2,-15.9) rotate(430)"/><rect x="-2.4" y="-1.35" width="4.8" height="2.7" rx="1.3" transform="translate(44.9,-9.9) rotate(438)"/></g><path d="M5.0,21.4 L11.0,46.7 L-0.7,48.0 L-0.3,22.0 Z" fill="#33363b" opacity="0.75"/><circle r="21" fill="#a6aab2" stroke="#33363b" stroke-width="1" vector-effect="non-scaling-stroke"/><circle cx="7.6" cy="2.4" r="1.7" fill="#dfe1e4" stroke="#33363b" stroke-width="0.7" vector-effect="non-scaling-stroke"/><circle cx="1.8" cy="7.8" r="1.7" fill="#dfe1e4" stroke="#33363b" stroke-width="0.7" vector-effect="non-scaling-stroke"/><circle cx="-5.9" cy="5.4" r="1.7" fill="#dfe1e4" stroke="#33363b" stroke-width="0.7" vector-effect="non-scaling-stroke"/><circle cx="-7.6" cy="-2.4" r="1.7" fill="#dfe1e4" stroke="#33363b" stroke-width="0.7" vector-effect="non-scaling-stroke"/><circle cx="-1.8" cy="-7.8" r="1.7" fill="#dfe1e4" stroke="#33363b" stroke-width="0.7" vector-effect="non-scaling-stroke"/><circle cx="5.9" cy="-5.4" r="1.7" fill="#dfe1e4" stroke="#33363b" stroke-width="0.7" vector-effect="non-scaling-stroke"/><circle cx="14.3" cy="4.4" r="1.7" fill="#dfe1e4" stroke="#33363b" stroke-width="0.7" vector-effect="non-scaling-stroke"/><circle cx="9.0" cy="12.0" r="1.7" fill="#dfe1e4" stroke="#33363b" stroke-width="0.7" vector-effect="non-scaling-stroke"/><circle cx="0.2" cy="15.0" r="1.7" fill="#dfe1e4" stroke="#33363b" stroke-width="0.7" vector-effect="non-scaling-stroke"/><circle cx="-8.6" cy="12.3" r="1.7" fill="#dfe1e4" stroke="#33363b" stroke-width="0.7" vector-effect="non-scaling-stroke"/><circle cx="-14.2" cy="4.8" r="1.7" fill="#dfe1e4" stroke="#33363b" stroke-width="0.7" vector-effect="non-scaling-stroke"/><circle cx="-14.3" cy="-4.4" r="1.7" fill="#dfe1e4" stroke="#33363b" stroke-width="0.7" vector-effect="non-scaling-stroke"/><circle cx="-9.0" cy="-12.0" r="1.7" fill="#dfe1e4" stroke="#33363b" stroke-width="0.7" vector-effect="non-scaling-stroke"/><circle cx="-0.2" cy="-15.0" r="1.7" fill="#dfe1e4" stroke="#33363b" stroke-width="0.7" vector-effect="non-scaling-stroke"/><circle cx="8.6" cy="-12.3" r="1.7" fill="#dfe1e4" stroke="#33363b" stroke-width="0.7" vector-effect="non-scaling-stroke"/><circle cx="14.2" cy="-4.8" r="1.7" fill="#dfe1e4" stroke="#33363b" stroke-width="0.7" vector-effect="non-scaling-stroke"/><g stroke="#33363b" stroke-width="1.1" vector-effect="non-scaling-stroke"><line x1="0" y1="0" x2="4.5" y2="0.0"/><line x1="0" y1="0" x2="2.3" y2="3.9"/><line x1="0" y1="0" x2="-2.2" y2="3.9"/><line x1="0" y1="0" x2="-4.5" y2="0.0"/><line x1="0" y1="0" x2="-2.3" y2="-3.9"/><line x1="0" y1="0" x2="2.3" y2="-3.9"/></g><g transform="rotate(52.5)"><rect x="44" y="-5" width="16" height="10" rx="5" fill="#80848c" stroke="#1f1f1f" stroke-width="0.9" vector-effect="non-scaling-stroke"/></g></g></g>
<clipPath id="clipB"><rect x="546.5" y="276" width="206.5" height="143.5"/></clipPath><rect x="546.5" y="276" width="206.5" height="143.5" fill="#fff" stroke="#1f1f1f" stroke-width="1.6"/><g clip-path="url(#clipB)"><g transform="translate(546.5,276)"><g fill="none" stroke="#1f1f1f" stroke-width="1.45"><path d="M0,4.5 C22,4 35,8 48,14 L108,43.5"/><path d="M-2,24 C22,24 35,28 48,33 L101,59"/></g><g transform="translate(116.5,58) rotate(27)" stroke="#1f1f1f" stroke-width="1.7" fill="#fff"><path d="M-14,-13 L12,-13 L12,13 L-14,13 C-19,8 -19,-8 -14,-13 Z"/><ellipse cx="-8" cy="0" rx="4.5" ry="6" fill="none"/><path d="M-2,-13 C-6,-10 -13,-10 -14,-13" fill="none"/><path d="M-2,13 C-6,10 -13,10 -14,13" fill="none"/><path d="M3,-13 L3,13"/></g><g transform="translate(174,80.5) rotate(-14)"><rect x="-2" y="-11" width="16" height="22" rx="2.5" fill="#2a2a2a"/><g stroke="#8a8a8a" stroke-width="0.8"><line x1="1.0" y1="-10" x2="1.0" y2="10"/><line x1="3.2" y1="-10" x2="3.2" y2="10"/><line x1="5.4" y1="-10" x2="5.4" y2="10"/><line x1="7.6" y1="-10" x2="7.6" y2="10"/><line x1="9.8" y1="-10" x2="9.8" y2="10"/><line x1="12.0" y1="-10" x2="12.0" y2="10"/></g></g><g transform="translate(139.5,96) rotate(72)"><rect x="0" y="-9" width="12" height="18" rx="2" fill="#2a2a2a"/><g stroke="#777" stroke-width="0.8"><line x1="2.0" y1="-8" x2="2.0" y2="8"/><line x1="4.2" y1="-8" x2="4.2" y2="8"/><line x1="6.4" y1="-8" x2="6.4" y2="8"/><line x1="8.6" y1="-8" x2="8.6" y2="8"/><line x1="10.8" y1="-8" x2="10.8" y2="8"/></g></g><circle cx="148" cy="75" r="26" fill="#fff" stroke="#1f1f1f" stroke-width="2"/><circle cx="148" cy="76" r="8.8" fill="#a2a2a2" stroke="#1f1f1f" stroke-width="1.8"/><line x1="160.6" y1="35.4" x2="156.5" y2="49" stroke="#1f1f1f" stroke-width="4" stroke-linecap="round"/><line x1="160.6" y1="35.4" x2="156.5" y2="49" stroke="#fff" stroke-width="1.8" stroke-linecap="round"/><line x1="138.5" y1="104" x2="136" y2="114" stroke="#1f1f1f" stroke-width="4" stroke-linecap="round"/><line x1="138.5" y1="104" x2="136" y2="114" stroke="#fff" stroke-width="1.8" stroke-linecap="round"/></g></g>
<g transform="translate(421,7)"><g stroke="#1f1f1f" stroke-width="1.1" fill="none"><path d="M256.7,623.4 L280.2,729"/><path d="M269.4,623.4 L290.4,729"/><path d="M294.9,631 L303.8,695.3"/><path d="M309.5,597 L315.9,694.7"/></g><path d="M305,553.5 C309,550 312,549.5 316,549.5 L344,549.3 L344,561.9 L316,562.4 C313,562.4 311,563 308.5,566.6 Z" fill="#fff" stroke="#1f1f1f" stroke-width="1.1"/><ellipse cx="346.8" cy="555.6" rx="6.6" ry="17" fill="#fff" stroke="#1f1f1f" stroke-width="1.1"/><ellipse cx="344.8" cy="555.6" rx="4.5" ry="15.5" fill="none" stroke="#1f1f1f" stroke-width="0.9"/><path d="M266,506 L271.3,521.5 C276,534 279,548 281,558 C283.5,572 287.5,585 291.3,599.1 L310.1,597 C310.5,585 309.5,568 306.5,556 C303.5,543 298.5,530 293.4,517.9 L287,503 Z" fill="#fff" stroke="#1f1f1f" stroke-width="1.1"/><g stroke="#1f1f1f" stroke-width="1.1" fill="#fff" stroke-linejoin="round"><path d="M267,588 C271,584 277,579 283,575 L289.3,596.6 L270,592 Z"/><ellipse cx="278" cy="586.5" rx="5" ry="3.6" transform="rotate(-25 278 586.5)"/><path d="M285.6,591 L289.3,596.6 L290,599 L293,600.3 L308.4,598.4 L307.8,630.6 L307.2,631.2 L275.7,622.5 L268,590 Z" fill="#f6f6f6"/><path d="M290.5,601 C291.5,604 292.5,606.5 293.6,608.3 L305.3,607.1" fill="none"/><path d="M233,586.4 L268.3,588.5 L276.3,622.5 L254,618.2 C246,616 240,612 235.5,607 Z"/><path d="M257.1,589.2 C253,594 251,600 251.6,607 C252,611 253,615 254,618.2" fill="none"/><path d="M239.8,588 C236.5,593 235,600 235.5,607" fill="none"/><path d="M232.4,586.7 L236.1,586.4 L239.8,588 C236.5,593 235,600 235.5,607 L232.4,604.6 C230.5,599 230.5,592 232.4,586.7 Z"/><path d="M269.5,590 C265,596 264,610 267,620.7 L276.3,622.5 L276.3,590 Z" fill="#fff"/><path d="M265,604 L275.5,604.5 M265,607.5 L275.5,608 M265.2,611 L275,611.5 M265.6,614.3 L275,614.8 M266,592 L276,593 M265.5,595 L276,596" stroke-width="1.2"/><ellipse cx="312.5" cy="609.3" rx="4.2" ry="13.2"/><ellipse cx="311" cy="609.3" rx="2.8" ry="12" fill="none" stroke-width="0.8"/><path d="M238,612 L249,606.5 L253.4,619 L243,625.6 Z"/><path d="M241,610.5 L246,623" fill="none" stroke-width="0.8"/><path d="M257.1,621 L269,619.4 L270.7,634 L259.6,636.8 Z"/><path d="M258,626.5 L270,625" fill="none" stroke-width="0.8"/></g></g>
<g transform="translate(421,7)"><g opacity="1.0"><path d="M178.0,609.3 L178.0,607.4 L178.2,605.5 L178.5,603.8 L178.9,602.2 L179.5,600.7 L180.2,599.3 L181.0,598.0 L187.1,590.1 L188.1,588.9 L189.2,587.9 L190.4,587.0 L191.7,586.2 L193.2,585.6 L194.7,585.1 L196.4,584.8 L198.1,584.7 L199.9,584.7 L201.8,584.9 L203.7,585.2 L205.7,585.6 L207.8,586.3 L209.9,587.0 L212.0,588.0 L214.2,589.0 L216.3,590.2 L218.5,591.5 L220.6,593.0 L222.8,594.6 L224.9,596.2 L227.0,598.0 L229.0,599.9 L231.0,601.9 L232.9,604.0 L234.8,606.1 L236.5,608.3 L238.2,610.6 L239.8,612.9 L241.3,615.2 L242.7,617.5 L244.0,619.9 L245.2,622.3 L246.3,624.7 L247.2,627.0 L248.0,629.4 L248.7,631.7 L249.2,633.9 L249.6,636.1 L249.9,638.2 L250.0,640.3 L250.0,642.3 L249.8,644.1 L249.5,645.9 L249.0,647.6 L248.5,649.2 L247.7,650.6 L246.9,651.9 L245.9,653.1 L244.8,654.1 L237.0,660.2 L235.8,661.1 L234.5,661.8 L233.1,662.4 L231.6,662.8 L230.0,663.1 L228.3,663.3 L226.6,663.3 L224.8,663.1 L222.9,662.8 L220.9,662.3 L218.9,661.7 L216.9,661.0 L214.8,660.1 L212.8,659.1 L210.7,657.9 L208.6,656.6 L206.5,655.2 L204.4,653.7 L202.4,652.0 L200.3,650.3 L198.4,648.5 L196.4,646.5 L194.6,644.5 L192.8,642.5 L191.0,640.3 L189.4,638.1 L187.8,635.9 L186.4,633.6 L185.0,631.4 L183.7,629.0 L182.6,626.7 L181.6,624.4 L180.7,622.2 L179.9,619.9 L179.2,617.7 L178.7,615.5 L178.3,613.3 L178.1,611.3 Z" fill="#fff" stroke="#1f1f1f" stroke-width="1.1"/><line x1="210.0" y1="598.5" x2="217.0" y2="590.6" stroke="#1f1f1f" stroke-width="1"/><g transform="translate(210.0,628.0) rotate(50.0) scale(0.8400,0.4500)"><circle r="50" fill="#9ca1ab" stroke="#1f1f1f" stroke-width="1.1" vector-effect="non-scaling-stroke"/><g fill="#33363b"><rect x="-2.4" y="-1.35" width="4.8" height="2.7" rx="1.3" transform="translate(26.6,4.7) rotate(10)"/><rect x="-2.4" y="-1.35" width="4.8" height="2.7" rx="1.3" transform="translate(25.3,9.4) rotate(20)"/><rect x="-2.4" y="-1.35" width="4.8" height="2.7" rx="1.3" transform="translate(23.2,13.8) rotate(31)"/><rect x="-2.4" y="-1.35" width="4.8" height="2.7" rx="1.3" transform="translate(33.0,5.9) rotate(10)"/><rect x="-2.4" y="-1.35" width="4.8" height="2.7" rx="1.3" transform="translate(31.4,11.7) rotate(20)"/><rect x="-2.4" y="-1.35" width="4.8" height="2.7" rx="1.3" transform="translate(28.8,17.1) rotate(31)"/><rect x="-2.4" y="-1.35" width="4.8" height="2.7" rx="1.3" transform="translate(39.5,6.1) rotate(9)"/><rect x="-2.4" y="-1.35" width="4.8" height="2.7" rx="1.3" transform="translate(38.3,11.4) rotate(17)"/><rect x="-2.4" y="-1.35" width="4.8" height="2.7" rx="1.3" transform="translate(36.5,16.4) rotate(24)"/><rect x="-2.4" y="-1.35" width="4.8" height="2.7" rx="1.3" transform="translate(33.9,21.2) rotate(32)"/><rect x="-2.4" y="-1.35" width="4.8" height="2.7" rx="1.3" transform="translate(45.5,7.0) rotate(9)"/><rect x="-2.4" y="-1.35" width="4.8" height="2.7" rx="1.3" transform="translate(44.1,13.1) rotate(17)"/><rect x="-2.4" y="-1.35" width="4.8" height="2.7" rx="1.3" transform="translate(41.9,18.9) rotate(24)"/><rect x="-2.4" y="-1.35" width="4.8" height="2.7" rx="1.3" transform="translate(39.0,24.4) rotate(32)"/><rect x="-2.4" y="-1.35" width="4.8" height="2.7" rx="1.3" transform="translate(-5.2,26.5) rotate(101)"/><rect x="-2.4" y="-1.35" width="4.8" height="2.7" rx="1.3" transform="translate(-9.9,25.1) rotate(111)"/><rect x="-2.4" y="-1.35" width="4.8" height="2.7" rx="1.3" transform="translate(-14.2,22.9) rotate(122)"/><rect x="-2.4" y="-1.35" width="4.8" height="2.7" rx="1.3" transform="translate(-6.5,32.9) rotate(101)"/><rect x="-2.4" y="-1.35" width="4.8" height="2.7" rx="1.3" transform="translate(-12.3,31.2) rotate(111)"/><rect x="-2.4" y="-1.35" width="4.8" height="2.7" rx="1.3" transform="translate(-17.6,28.5) rotate(122)"/><rect x="-2.4" y="-1.35" width="4.8" height="2.7" rx="1.3" transform="translate(-6.8,39.4) rotate(100)"/><rect x="-2.4" y="-1.35" width="4.8" height="2.7" rx="1.3" transform="translate(-12.1,38.1) rotate(108)"/><rect x="-2.4" y="-1.35" width="4.8" height="2.7" rx="1.3" transform="translate(-17.1,36.2) rotate(115)"/><rect x="-2.4" y="-1.35" width="4.8" height="2.7" rx="1.3" transform="translate(-21.8,33.5) rotate(123)"/><rect x="-2.4" y="-1.35" width="4.8" height="2.7" rx="1.3" transform="translate(-7.9,45.3) rotate(100)"/><rect x="-2.4" y="-1.35" width="4.8" height="2.7" rx="1.3" transform="translate(-13.9,43.9) rotate(108)"/><rect x="-2.4" y="-1.35" width="4.8" height="2.7" rx="1.3" transform="translate(-19.7,41.6) rotate(115)"/><rect x="-2.4" y="-1.35" width="4.8" height="2.7" rx="1.3" transform="translate(-25.1,38.5) rotate(123)"/><rect x="-2.4" y="-1.35" width="4.8" height="2.7" rx="1.3" transform="translate(-22.9,14.3) rotate(238)"/><rect x="-2.4" y="-1.35" width="4.8" height="2.7" rx="1.3" transform="translate(-25.1,10.0) rotate(248)"/><rect x="-2.4" y="-1.35" width="4.8" height="2.7" rx="1.3" transform="translate(-26.5,5.3) rotate(259)"/><rect x="-2.4" y="-1.35" width="4.8" height="2.7" rx="1.3" transform="translate(-28.4,17.8) rotate(238)"/><rect x="-2.4" y="-1.35" width="4.8" height="2.7" rx="1.3" transform="translate(-31.1,12.4) rotate(248)"/><rect x="-2.4" y="-1.35" width="4.8" height="2.7" rx="1.3" transform="translate(-32.8,6.6) rotate(259)"/><rect x="-2.4" y="-1.35" width="4.8" height="2.7" rx="1.3" transform="translate(-33.4,22.0) rotate(237)"/><rect x="-2.4" y="-1.35" width="4.8" height="2.7" rx="1.3" transform="translate(-36.1,17.2) rotate(244)"/><rect x="-2.4" y="-1.35" width="4.8" height="2.7" rx="1.3" transform="translate(-38.1,12.2) rotate(252)"/><rect x="-2.4" y="-1.35" width="4.8" height="2.7" rx="1.3" transform="translate(-39.4,7.0) rotate(260)"/><rect x="-2.4" y="-1.35" width="4.8" height="2.7" rx="1.3" transform="translate(-38.4,25.3) rotate(237)"/><rect x="-2.4" y="-1.35" width="4.8" height="2.7" rx="1.3" transform="translate(-41.5,19.8) rotate(244)"/><rect x="-2.4" y="-1.35" width="4.8" height="2.7" rx="1.3" transform="translate(-43.8,14.1) rotate(252)"/><rect x="-2.4" y="-1.35" width="4.8" height="2.7" rx="1.3" transform="translate(-45.3,8.0) rotate(260)"/><rect x="-2.4" y="-1.35" width="4.8" height="2.7" rx="1.3" transform="translate(-26.3,-6.2) rotate(193)"/><rect x="-2.4" y="-1.35" width="4.8" height="2.7" rx="1.3" transform="translate(-24.8,-10.8) rotate(204)"/><rect x="-2.4" y="-1.35" width="4.8" height="2.7" rx="1.3" transform="translate(-22.4,-15.0) rotate(214)"/><rect x="-2.4" y="-1.35" width="4.8" height="2.7" rx="1.3" transform="translate(-32.6,-7.6) rotate(193)"/><rect x="-2.4" y="-1.35" width="4.8" height="2.7" rx="1.3" transform="translate(-30.7,-13.4) rotate(204)"/><rect x="-2.4" y="-1.35" width="4.8" height="2.7" rx="1.3" transform="translate(-27.8,-18.7) rotate(214)"/><rect x="-2.4" y="-1.35" width="4.8" height="2.7" rx="1.3" transform="translate(-39.1,-8.2) rotate(192)"/><rect x="-2.4" y="-1.35" width="4.8" height="2.7" rx="1.3" transform="translate(-37.7,-13.4) rotate(200)"/><rect x="-2.4" y="-1.35" width="4.8" height="2.7" rx="1.3" transform="translate(-35.5,-18.4) rotate(207)"/><rect x="-2.4" y="-1.35" width="4.8" height="2.7" rx="1.3" transform="translate(-32.7,-23.0) rotate(215)"/><rect x="-2.4" y="-1.35" width="4.8" height="2.7" rx="1.3" transform="translate(-45.0,-9.5) rotate(192)"/><rect x="-2.4" y="-1.35" width="4.8" height="2.7" rx="1.3" transform="translate(-43.3,-15.5) rotate(200)"/><rect x="-2.4" y="-1.35" width="4.8" height="2.7" rx="1.3" transform="translate(-40.8,-21.2) rotate(207)"/><rect x="-2.4" y="-1.35" width="4.8" height="2.7" rx="1.3" transform="translate(-37.6,-26.5) rotate(215)"/><rect x="-2.4" y="-1.35" width="4.8" height="2.7" rx="1.3" transform="translate(-16.0,-21.8) rotate(324)"/><rect x="-2.4" y="-1.35" width="4.8" height="2.7" rx="1.3" transform="translate(-11.8,-24.3) rotate(334)"/><rect x="-2.4" y="-1.35" width="4.8" height="2.7" rx="1.3" transform="translate(-7.3,-26.0) rotate(344)"/><rect x="-2.4" y="-1.35" width="4.8" height="2.7" rx="1.3" transform="translate(-19.8,-27.0) rotate(324)"/><rect x="-2.4" y="-1.35" width="4.8" height="2.7" rx="1.3" transform="translate(-14.7,-30.1) rotate(334)"/><rect x="-2.4" y="-1.35" width="4.8" height="2.7" rx="1.3" transform="translate(-9.0,-32.3) rotate(344)"/><rect x="-2.4" y="-1.35" width="4.8" height="2.7" rx="1.3" transform="translate(-24.4,-31.7) rotate(322)"/><rect x="-2.4" y="-1.35" width="4.8" height="2.7" rx="1.3" transform="translate(-19.9,-34.7) rotate(330)"/><rect x="-2.4" y="-1.35" width="4.8" height="2.7" rx="1.3" transform="translate(-15.0,-37.1) rotate(338)"/><rect x="-2.4" y="-1.35" width="4.8" height="2.7" rx="1.3" transform="translate(-9.9,-38.8) rotate(346)"/><rect x="-2.4" y="-1.35" width="4.8" height="2.7" rx="1.3" transform="translate(-28.1,-36.4) rotate(322)"/><rect x="-2.4" y="-1.35" width="4.8" height="2.7" rx="1.3" transform="translate(-22.9,-39.9) rotate(330)"/><rect x="-2.4" y="-1.35" width="4.8" height="2.7" rx="1.3" transform="translate(-17.3,-42.6) rotate(338)"/><rect x="-2.4" y="-1.35" width="4.8" height="2.7" rx="1.3" transform="translate(-11.4,-44.6) rotate(346)"/><rect x="-2.4" y="-1.35" width="4.8" height="2.7" rx="1.3" transform="translate(3.9,-26.7) rotate(278)"/><rect x="-2.4" y="-1.35" width="4.8" height="2.7" rx="1.3" transform="translate(8.6,-25.6) rotate(289)"/><rect x="-2.4" y="-1.35" width="4.8" height="2.7" rx="1.3" transform="translate(13.1,-23.6) rotate(299)"/><rect x="-2.4" y="-1.35" width="4.8" height="2.7" rx="1.3" transform="translate(4.8,-33.2) rotate(278)"/><rect x="-2.4" y="-1.35" width="4.8" height="2.7" rx="1.3" transform="translate(10.7,-31.7) rotate(289)"/><rect x="-2.4" y="-1.35" width="4.8" height="2.7" rx="1.3" transform="translate(16.2,-29.3) rotate(299)"/><rect x="-2.4" y="-1.35" width="4.8" height="2.7" rx="1.3" transform="translate(4.9,-39.7) rotate(277)"/><rect x="-2.4" y="-1.35" width="4.8" height="2.7" rx="1.3" transform="translate(10.2,-38.7) rotate(285)"/><rect x="-2.4" y="-1.35" width="4.8" height="2.7" rx="1.3" transform="translate(15.3,-37.0) rotate(292)"/><rect x="-2.4" y="-1.35" width="4.8" height="2.7" rx="1.3" transform="translate(20.1,-34.6) rotate(300)"/><rect x="-2.4" y="-1.35" width="4.8" height="2.7" rx="1.3" transform="translate(5.6,-45.7) rotate(277)"/><rect x="-2.4" y="-1.35" width="4.8" height="2.7" rx="1.3" transform="translate(11.7,-44.5) rotate(285)"/><rect x="-2.4" y="-1.35" width="4.8" height="2.7" rx="1.3" transform="translate(17.6,-42.5) rotate(292)"/><rect x="-2.4" y="-1.35" width="4.8" height="2.7" rx="1.3" transform="translate(23.2,-39.7) rotate(300)"/><rect x="-2.4" y="-1.35" width="4.8" height="2.7" rx="1.3" transform="translate(23.4,-13.6) rotate(420)"/><rect x="-2.4" y="-1.35" width="4.8" height="2.7" rx="1.3" transform="translate(25.4,-9.1) rotate(430)"/><rect x="-2.4" y="-1.35" width="4.8" height="2.7" rx="1.3" transform="translate(26.6,-4.4) rotate(441)"/><rect x="-2.4" y="-1.35" width="4.8" height="2.7" rx="1.3" transform="translate(29.0,-16.8) rotate(420)"/><rect x="-2.4" y="-1.35" width="4.8" height="2.7" rx="1.3" transform="translate(31.5,-11.3) rotate(430)"/><rect x="-2.4" y="-1.35" width="4.8" height="2.7" rx="1.3" transform="translate(33.0,-5.5) rotate(441)"/><rect x="-2.4" y="-1.35" width="4.8" height="2.7" rx="1.3" transform="translate(34.1,-20.9) rotate(419)"/><rect x="-2.4" y="-1.35" width="4.8" height="2.7" rx="1.3" transform="translate(36.6,-16.1) rotate(426)"/><rect x="-2.4" y="-1.35" width="4.8" height="2.7" rx="1.3" transform="translate(38.5,-11.0) rotate(434)"/><rect x="-2.4" y="-1.35" width="4.8" height="2.7" rx="1.3" transform="translate(39.6,-5.7) rotate(442)"/><rect x="-2.4" y="-1.35" width="4.8" height="2.7" rx="1.3" transform="translate(39.3,-24.0) rotate(419)"/><rect x="-2.4" y="-1.35" width="4.8" height="2.7" rx="1.3" transform="translate(42.1,-18.5) rotate(426)"/><rect x="-2.4" y="-1.35" width="4.8" height="2.7" rx="1.3" transform="translate(44.2,-12.6) rotate(434)"/><rect x="-2.4" y="-1.35" width="4.8" height="2.7" rx="1.3" transform="translate(45.5,-6.5) rotate(442)"/></g><path d="M5.8,21.2 L12.6,46.3 L1.0,48.0 L0.4,22.0 Z" fill="#33363b" opacity="0.75"/><circle r="21" fill="#a6aab2" stroke="#33363b" stroke-width="1" vector-effect="non-scaling-stroke"/><circle cx="7.6" cy="2.4" r="1.7" fill="#dfe1e4" stroke="#33363b" stroke-width="0.7" vector-effect="non-scaling-stroke"/><circle cx="1.8" cy="7.8" r="1.7" fill="#dfe1e4" stroke="#33363b" stroke-width="0.7" vector-effect="non-scaling-stroke"/><circle cx="-5.9" cy="5.4" r="1.7" fill="#dfe1e4" stroke="#33363b" stroke-width="0.7" vector-effect="non-scaling-stroke"/><circle cx="-7.6" cy="-2.4" r="1.7" fill="#dfe1e4" stroke="#33363b" stroke-width="0.7" vector-effect="non-scaling-stroke"/><circle cx="-1.8" cy="-7.8" r="1.7" fill="#dfe1e4" stroke="#33363b" stroke-width="0.7" vector-effect="non-scaling-stroke"/><circle cx="5.9" cy="-5.4" r="1.7" fill="#dfe1e4" stroke="#33363b" stroke-width="0.7" vector-effect="non-scaling-stroke"/><circle cx="14.3" cy="4.4" r="1.7" fill="#dfe1e4" stroke="#33363b" stroke-width="0.7" vector-effect="non-scaling-stroke"/><circle cx="9.0" cy="12.0" r="1.7" fill="#dfe1e4" stroke="#33363b" stroke-width="0.7" vector-effect="non-scaling-stroke"/><circle cx="0.2" cy="15.0" r="1.7" fill="#dfe1e4" stroke="#33363b" stroke-width="0.7" vector-effect="non-scaling-stroke"/><circle cx="-8.6" cy="12.3" r="1.7" fill="#dfe1e4" stroke="#33363b" stroke-width="0.7" vector-effect="non-scaling-stroke"/><circle cx="-14.2" cy="4.8" r="1.7" fill="#dfe1e4" stroke="#33363b" stroke-width="0.7" vector-effect="non-scaling-stroke"/><circle cx="-14.3" cy="-4.4" r="1.7" fill="#dfe1e4" stroke="#33363b" stroke-width="0.7" vector-effect="non-scaling-stroke"/><circle cx="-9.0" cy="-12.0" r="1.7" fill="#dfe1e4" stroke="#33363b" stroke-width="0.7" vector-effect="non-scaling-stroke"/><circle cx="-0.2" cy="-15.0" r="1.7" fill="#dfe1e4" stroke="#33363b" stroke-width="0.7" vector-effect="non-scaling-stroke"/><circle cx="8.6" cy="-12.3" r="1.7" fill="#dfe1e4" stroke="#33363b" stroke-width="0.7" vector-effect="non-scaling-stroke"/><circle cx="14.2" cy="-4.8" r="1.7" fill="#dfe1e4" stroke="#33363b" stroke-width="0.7" vector-effect="non-scaling-stroke"/><g stroke="#33363b" stroke-width="1.1" vector-effect="non-scaling-stroke"><line x1="0" y1="0" x2="4.5" y2="0.0"/><line x1="0" y1="0" x2="2.3" y2="3.9"/><line x1="0" y1="0" x2="-2.2" y2="3.9"/><line x1="0" y1="0" x2="-4.5" y2="0.0"/><line x1="0" y1="0" x2="-2.3" y2="-3.9"/><line x1="0" y1="0" x2="2.3" y2="-3.9"/></g><g transform="rotate(55.6)"><rect x="44" y="-5" width="16" height="10" rx="5" fill="#80848c" stroke="#1f1f1f" stroke-width="0.9" vector-effect="non-scaling-stroke"/></g></g></g></g>
<g stroke="#1a1a1a" stroke-width="1.05" stroke-dasharray="1.5 1.2" fill="none"><line x1="636.5" y1="481.0" x2="560.8" y2="566.3" stroke-dashoffset="2.5"/><line x1="638.9" y1="483.1" x2="560.1" y2="572.5" stroke-dashoffset="0.8"/><line x1="641.3" y1="485.2" x2="565.2" y2="572.1" stroke-dashoffset="1.3"/><line x1="643.7" y1="487.2" x2="567.7" y2="574.8" stroke-dashoffset="2.4"/><line x1="646.1" y1="489.3" x2="574.6" y2="572.3" stroke-dashoffset="0.1"/><line x1="648.5" y1="491.4" x2="573.3" y2="579.4" stroke-dashoffset="1.3"/><line x1="650.9" y1="493.5" x2="577.2" y2="580.5" stroke-dashoffset="0.0"/><line x1="653.3" y1="495.6" x2="582.6" y2="579.7" stroke-dashoffset="2.2"/><line x1="655.7" y1="497.7" x2="587.4" y2="579.7" stroke-dashoffset="2.8"/><line x1="658.1" y1="499.8" x2="586.6" y2="586.4" stroke-dashoffset="0.1"/><line x1="660.5" y1="501.8" x2="595.4" y2="581.3" stroke-dashoffset="1.6"/><line x1="662.9" y1="503.9" x2="593.2" y2="589.9" stroke-dashoffset="1.1"/><line x1="665.2" y1="506.0" x2="601.1" y2="585.9" stroke-dashoffset="1.3"/><line x1="667.6" y1="508.1" x2="605.6" y2="586.1" stroke-dashoffset="0.7"/><line x1="670.0" y1="510.2" x2="606.5" y2="590.8" stroke-dashoffset="1.5"/><line x1="672.4" y1="512.2" x2="611.1" y2="590.8" stroke-dashoffset="0.7"/><line x1="674.8" y1="514.3" x2="614.6" y2="592.3" stroke-dashoffset="1.4"/><line x1="677.2" y1="516.4" x2="617.6" y2="594.5" stroke-dashoffset="0.1"/><line x1="679.6" y1="518.5" x2="617.8" y2="600.3" stroke-dashoffset="1.7"/><line x1="682.0" y1="520.6" x2="622.3" y2="600.4" stroke-dashoffset="0.6"/><line x1="684.4" y1="522.7" x2="623.7" y2="604.8" stroke-dashoffset="2.6"/><line x1="686.8" y1="524.8" x2="632.2" y2="599.5" stroke-dashoffset="1.0"/><line x1="689.2" y1="526.8" x2="632.1" y2="605.8" stroke-dashoffset="2.1"/><line x1="691.6" y1="528.9" x2="634.3" y2="609.2" stroke-dashoffset="1.3"/><line x1="694.0" y1="531.0" x2="638.3" y2="609.9" stroke-dashoffset="2.0"/></g>
<g transform="translate(421,7)"><g opacity="1.0"><path d="M216.1,472.3 L216.2,470.5 L216.3,468.7 L216.7,467.1 L217.2,465.5 L217.8,464.0 L218.6,462.6 L223.9,454.1 L224.9,452.8 L226.0,451.6 L227.2,450.6 L228.6,449.7 L230.1,448.9 L231.7,448.3 L233.5,447.8 L235.3,447.4 L237.3,447.2 L239.3,447.1 L241.4,447.2 L243.6,447.4 L245.9,447.8 L248.2,448.3 L250.5,449.0 L252.9,449.7 L255.3,450.7 L257.8,451.7 L260.2,452.9 L262.6,454.2 L265.0,455.6 L267.4,457.1 L269.7,458.7 L272.0,460.4 L274.2,462.2 L276.4,464.1 L278.5,466.1 L280.5,468.1 L282.4,470.2 L284.2,472.3 L285.9,474.5 L287.5,476.7 L288.9,478.9 L290.2,481.1 L291.4,483.3 L292.5,485.5 L293.4,487.7 L294.1,489.8 L294.7,492.0 L295.2,494.0 L295.5,496.0 L295.6,498.0 L295.6,499.9 L295.4,501.7 L295.0,503.4 L294.5,505.0 L293.9,506.5 L293.1,507.9 L292.1,509.2 L285.4,516.6 L284.4,517.8 L283.1,518.8 L281.8,519.7 L280.3,520.5 L278.7,521.1 L277.0,521.6 L275.2,521.9 L273.3,522.1 L271.3,522.2 L269.2,522.1 L267.1,521.9 L264.9,521.5 L262.6,521.0 L260.3,520.4 L258.0,519.6 L255.6,518.7 L253.2,517.7 L250.9,516.6 L248.5,515.3 L246.1,513.9 L243.8,512.4 L241.5,510.8 L239.3,509.2 L237.1,507.4 L235.0,505.5 L232.9,503.6 L230.9,501.6 L229.1,499.6 L227.3,497.5 L225.6,495.4 L224.1,493.3 L222.7,491.1 L221.4,488.9 L220.2,486.8 L219.2,484.6 L218.3,482.5 L217.6,480.3 L217.0,478.3 L216.5,476.2 L216.3,474.3 Z" fill="#fff" stroke="#1f1f1f" stroke-width="1.1"/><line x1="249.9" y1="459.5" x2="255.9" y2="450.9" stroke="#1f1f1f" stroke-width="1"/><g transform="translate(252.5,489.0) rotate(40.0) scale(0.8600,0.4800)"><circle r="50" fill="#9ca1ab" stroke="#1f1f1f" stroke-width="1.1" vector-effect="non-scaling-stroke"/><g fill="#33363b"><rect x="-2.4" y="-1.35" width="4.8" height="2.7" rx="1.3" transform="translate(26.0,7.4) rotate(16)"/><rect x="-2.4" y="-1.35" width="4.8" height="2.7" rx="1.3" transform="translate(24.2,11.9) rotate(26)"/><rect x="-2.4" y="-1.35" width="4.8" height="2.7" rx="1.3" transform="translate(21.7,16.1) rotate(36)"/><rect x="-2.4" y="-1.35" width="4.8" height="2.7" rx="1.3" transform="translate(32.2,9.1) rotate(16)"/><rect x="-2.4" y="-1.35" width="4.8" height="2.7" rx="1.3" transform="translate(30.1,14.8) rotate(26)"/><rect x="-2.4" y="-1.35" width="4.8" height="2.7" rx="1.3" transform="translate(26.9,19.9) rotate(36)"/><rect x="-2.4" y="-1.35" width="4.8" height="2.7" rx="1.3" transform="translate(38.7,10.0) rotate(15)"/><rect x="-2.4" y="-1.35" width="4.8" height="2.7" rx="1.3" transform="translate(37.0,15.2) rotate(22)"/><rect x="-2.4" y="-1.35" width="4.8" height="2.7" rx="1.3" transform="translate(34.6,20.0) rotate(30)"/><rect x="-2.4" y="-1.35" width="4.8" height="2.7" rx="1.3" transform="translate(31.6,24.5) rotate(38)"/><rect x="-2.4" y="-1.35" width="4.8" height="2.7" rx="1.3" transform="translate(44.5,11.5) rotate(15)"/><rect x="-2.4" y="-1.35" width="4.8" height="2.7" rx="1.3" transform="translate(42.6,17.4) rotate(22)"/><rect x="-2.4" y="-1.35" width="4.8" height="2.7" rx="1.3" transform="translate(39.8,23.0) rotate(30)"/><rect x="-2.4" y="-1.35" width="4.8" height="2.7" rx="1.3" transform="translate(36.4,28.2) rotate(38)"/><rect x="-2.4" y="-1.35" width="4.8" height="2.7" rx="1.3" transform="translate(-4.0,26.7) rotate(99)"/><rect x="-2.4" y="-1.35" width="4.8" height="2.7" rx="1.3" transform="translate(-8.8,25.5) rotate(109)"/><rect x="-2.4" y="-1.35" width="4.8" height="2.7" rx="1.3" transform="translate(-13.2,23.5) rotate(119)"/><rect x="-2.4" y="-1.35" width="4.8" height="2.7" rx="1.3" transform="translate(-5.0,33.1) rotate(99)"/><rect x="-2.4" y="-1.35" width="4.8" height="2.7" rx="1.3" transform="translate(-10.9,31.7) rotate(109)"/><rect x="-2.4" y="-1.35" width="4.8" height="2.7" rx="1.3" transform="translate(-16.4,29.2) rotate(119)"/><rect x="-2.4" y="-1.35" width="4.8" height="2.7" rx="1.3" transform="translate(-5.1,39.7) rotate(97)"/><rect x="-2.4" y="-1.35" width="4.8" height="2.7" rx="1.3" transform="translate(-10.4,38.6) rotate(105)"/><rect x="-2.4" y="-1.35" width="4.8" height="2.7" rx="1.3" transform="translate(-15.5,36.9) rotate(113)"/><rect x="-2.4" y="-1.35" width="4.8" height="2.7" rx="1.3" transform="translate(-20.3,34.4) rotate(121)"/><rect x="-2.4" y="-1.35" width="4.8" height="2.7" rx="1.3" transform="translate(-5.9,45.6) rotate(97)"/><rect x="-2.4" y="-1.35" width="4.8" height="2.7" rx="1.3" transform="translate(-12.0,44.4) rotate(105)"/><rect x="-2.4" y="-1.35" width="4.8" height="2.7" rx="1.3" transform="translate(-17.8,42.4) rotate(113)"/><rect x="-2.4" y="-1.35" width="4.8" height="2.7" rx="1.3" transform="translate(-23.4,39.6) rotate(121)"/><rect x="-2.4" y="-1.35" width="4.8" height="2.7" rx="1.3" transform="translate(-21.8,15.9) rotate(234)"/><rect x="-2.4" y="-1.35" width="4.8" height="2.7" rx="1.3" transform="translate(-24.3,11.8) rotate(244)"/><rect x="-2.4" y="-1.35" width="4.8" height="2.7" rx="1.3" transform="translate(-26.0,7.2) rotate(255)"/><rect x="-2.4" y="-1.35" width="4.8" height="2.7" rx="1.3" transform="translate(-27.0,19.8) rotate(234)"/><rect x="-2.4" y="-1.35" width="4.8" height="2.7" rx="1.3" transform="translate(-30.2,14.6) rotate(244)"/><rect x="-2.4" y="-1.35" width="4.8" height="2.7" rx="1.3" transform="translate(-32.3,8.9) rotate(255)"/><rect x="-2.4" y="-1.35" width="4.8" height="2.7" rx="1.3" transform="translate(-31.8,24.3) rotate(233)"/><rect x="-2.4" y="-1.35" width="4.8" height="2.7" rx="1.3" transform="translate(-34.7,19.8) rotate(240)"/><rect x="-2.4" y="-1.35" width="4.8" height="2.7" rx="1.3" transform="translate(-37.1,14.9) rotate(248)"/><rect x="-2.4" y="-1.35" width="4.8" height="2.7" rx="1.3" transform="translate(-38.8,9.8) rotate(256)"/><rect x="-2.4" y="-1.35" width="4.8" height="2.7" rx="1.3" transform="translate(-36.5,28.0) rotate(233)"/><rect x="-2.4" y="-1.35" width="4.8" height="2.7" rx="1.3" transform="translate(-40.0,22.8) rotate(240)"/><rect x="-2.4" y="-1.35" width="4.8" height="2.7" rx="1.3" transform="translate(-42.7,17.2) rotate(248)"/><rect x="-2.4" y="-1.35" width="4.8" height="2.7" rx="1.3" transform="translate(-44.6,11.3) rotate(256)"/><rect x="-2.4" y="-1.35" width="4.8" height="2.7" rx="1.3" transform="translate(-26.1,-6.9) rotate(195)"/><rect x="-2.4" y="-1.35" width="4.8" height="2.7" rx="1.3" transform="translate(-24.4,-11.5) rotate(205)"/><rect x="-2.4" y="-1.35" width="4.8" height="2.7" rx="1.3" transform="translate(-22.0,-15.7) rotate(216)"/><rect x="-2.4" y="-1.35" width="4.8" height="2.7" rx="1.3" transform="translate(-32.4,-8.6) rotate(195)"/><rect x="-2.4" y="-1.35" width="4.8" height="2.7" rx="1.3" transform="translate(-30.3,-14.3) rotate(205)"/><rect x="-2.4" y="-1.35" width="4.8" height="2.7" rx="1.3" transform="translate(-27.3,-19.5) rotate(216)"/><rect x="-2.4" y="-1.35" width="4.8" height="2.7" rx="1.3" transform="translate(-38.9,-9.4) rotate(194)"/><rect x="-2.4" y="-1.35" width="4.8" height="2.7" rx="1.3" transform="translate(-37.3,-14.5) rotate(201)"/><rect x="-2.4" y="-1.35" width="4.8" height="2.7" rx="1.3" transform="translate(-35.0,-19.4) rotate(209)"/><rect x="-2.4" y="-1.35" width="4.8" height="2.7" rx="1.3" transform="translate(-32.0,-24.0) rotate(217)"/><rect x="-2.4" y="-1.35" width="4.8" height="2.7" rx="1.3" transform="translate(-44.7,-10.8) rotate(194)"/><rect x="-2.4" y="-1.35" width="4.8" height="2.7" rx="1.3" transform="translate(-42.9,-16.7) rotate(201)"/><rect x="-2.4" y="-1.35" width="4.8" height="2.7" rx="1.3" transform="translate(-40.2,-22.3) rotate(209)"/><rect x="-2.4" y="-1.35" width="4.8" height="2.7" rx="1.3" transform="translate(-36.8,-27.6) rotate(217)"/><rect x="-2.4" y="-1.35" width="4.8" height="2.7" rx="1.3" transform="translate(-13.9,-23.2) rotate(329)"/><rect x="-2.4" y="-1.35" width="4.8" height="2.7" rx="1.3" transform="translate(-9.5,-25.3) rotate(339)"/><rect x="-2.4" y="-1.35" width="4.8" height="2.7" rx="1.3" transform="translate(-4.8,-26.6) rotate(350)"/><rect x="-2.4" y="-1.35" width="4.8" height="2.7" rx="1.3" transform="translate(-17.2,-28.7) rotate(329)"/><rect x="-2.4" y="-1.35" width="4.8" height="2.7" rx="1.3" transform="translate(-11.8,-31.4) rotate(339)"/><rect x="-2.4" y="-1.35" width="4.8" height="2.7" rx="1.3" transform="translate(-6.0,-33.0) rotate(350)"/><rect x="-2.4" y="-1.35" width="4.8" height="2.7" rx="1.3" transform="translate(-21.3,-33.8) rotate(328)"/><rect x="-2.4" y="-1.35" width="4.8" height="2.7" rx="1.3" transform="translate(-16.6,-36.4) rotate(336)"/><rect x="-2.4" y="-1.35" width="4.8" height="2.7" rx="1.3" transform="translate(-11.5,-38.3) rotate(343)"/><rect x="-2.4" y="-1.35" width="4.8" height="2.7" rx="1.3" transform="translate(-6.2,-39.5) rotate(351)"/><rect x="-2.4" y="-1.35" width="4.8" height="2.7" rx="1.3" transform="translate(-24.5,-38.9) rotate(328)"/><rect x="-2.4" y="-1.35" width="4.8" height="2.7" rx="1.3" transform="translate(-19.1,-41.9) rotate(336)"/><rect x="-2.4" y="-1.35" width="4.8" height="2.7" rx="1.3" transform="translate(-13.2,-44.1) rotate(343)"/><rect x="-2.4" y="-1.35" width="4.8" height="2.7" rx="1.3" transform="translate(-7.2,-45.4) rotate(351)"/><rect x="-2.4" y="-1.35" width="4.8" height="2.7" rx="1.3" transform="translate(6.3,-26.3) rotate(284)"/><rect x="-2.4" y="-1.35" width="4.8" height="2.7" rx="1.3" transform="translate(10.9,-24.7) rotate(294)"/><rect x="-2.4" y="-1.35" width="4.8" height="2.7" rx="1.3" transform="translate(15.2,-22.3) rotate(304)"/><rect x="-2.4" y="-1.35" width="4.8" height="2.7" rx="1.3" transform="translate(7.8,-32.6) rotate(284)"/><rect x="-2.4" y="-1.35" width="4.8" height="2.7" rx="1.3" transform="translate(13.5,-30.6) rotate(294)"/><rect x="-2.4" y="-1.35" width="4.8" height="2.7" rx="1.3" transform="translate(18.8,-27.7) rotate(304)"/><rect x="-2.4" y="-1.35" width="4.8" height="2.7" rx="1.3" transform="translate(8.5,-39.1) rotate(282)"/><rect x="-2.4" y="-1.35" width="4.8" height="2.7" rx="1.3" transform="translate(13.7,-37.6) rotate(290)"/><rect x="-2.4" y="-1.35" width="4.8" height="2.7" rx="1.3" transform="translate(18.6,-35.4) rotate(298)"/><rect x="-2.4" y="-1.35" width="4.8" height="2.7" rx="1.3" transform="translate(23.2,-32.6) rotate(305)"/><rect x="-2.4" y="-1.35" width="4.8" height="2.7" rx="1.3" transform="translate(9.7,-45.0) rotate(282)"/><rect x="-2.4" y="-1.35" width="4.8" height="2.7" rx="1.3" transform="translate(15.7,-43.2) rotate(290)"/><rect x="-2.4" y="-1.35" width="4.8" height="2.7" rx="1.3" transform="translate(21.4,-40.7) rotate(298)"/><rect x="-2.4" y="-1.35" width="4.8" height="2.7" rx="1.3" transform="translate(26.7,-37.5) rotate(305)"/><rect x="-2.4" y="-1.35" width="4.8" height="2.7" rx="1.3" transform="translate(22.3,-15.2) rotate(416)"/><rect x="-2.4" y="-1.35" width="4.8" height="2.7" rx="1.3" transform="translate(24.7,-11.0) rotate(426)"/><rect x="-2.4" y="-1.35" width="4.8" height="2.7" rx="1.3" transform="translate(26.2,-6.4) rotate(436)"/><rect x="-2.4" y="-1.35" width="4.8" height="2.7" rx="1.3" transform="translate(27.7,-18.9) rotate(416)"/><rect x="-2.4" y="-1.35" width="4.8" height="2.7" rx="1.3" transform="translate(30.6,-13.6) rotate(426)"/><rect x="-2.4" y="-1.35" width="4.8" height="2.7" rx="1.3" transform="translate(32.5,-7.9) rotate(436)"/><rect x="-2.4" y="-1.35" width="4.8" height="2.7" rx="1.3" transform="translate(32.5,-23.3) rotate(414)"/><rect x="-2.4" y="-1.35" width="4.8" height="2.7" rx="1.3" transform="translate(35.3,-18.7) rotate(422)"/><rect x="-2.4" y="-1.35" width="4.8" height="2.7" rx="1.3" transform="translate(37.5,-13.8) rotate(430)"/><rect x="-2.4" y="-1.35" width="4.8" height="2.7" rx="1.3" transform="translate(39.1,-8.6) rotate(438)"/><rect x="-2.4" y="-1.35" width="4.8" height="2.7" rx="1.3" transform="translate(37.4,-26.8) rotate(414)"/><rect x="-2.4" y="-1.35" width="4.8" height="2.7" rx="1.3" transform="translate(40.6,-21.5) rotate(422)"/><rect x="-2.4" y="-1.35" width="4.8" height="2.7" rx="1.3" transform="translate(43.2,-15.9) rotate(430)"/><rect x="-2.4" y="-1.35" width="4.8" height="2.7" rx="1.3" transform="translate(44.9,-9.9) rotate(438)"/></g><path d="M5.0,21.4 L11.0,46.7 L-0.7,48.0 L-0.3,22.0 Z" fill="#33363b" opacity="0.75"/><circle r="21" fill="#a6aab2" stroke="#33363b" stroke-width="1" vector-effect="non-scaling-stroke"/><circle cx="7.6" cy="2.4" r="1.7" fill="#dfe1e4" stroke="#33363b" stroke-width="0.7" vector-effect="non-scaling-stroke"/><circle cx="1.8" cy="7.8" r="1.7" fill="#dfe1e4" stroke="#33363b" stroke-width="0.7" vector-effect="non-scaling-stroke"/><circle cx="-5.9" cy="5.4" r="1.7" fill="#dfe1e4" stroke="#33363b" stroke-width="0.7" vector-effect="non-scaling-stroke"/><circle cx="-7.6" cy="-2.4" r="1.7" fill="#dfe1e4" stroke="#33363b" stroke-width="0.7" vector-effect="non-scaling-stroke"/><circle cx="-1.8" cy="-7.8" r="1.7" fill="#dfe1e4" stroke="#33363b" stroke-width="0.7" vector-effect="non-scaling-stroke"/><circle cx="5.9" cy="-5.4" r="1.7" fill="#dfe1e4" stroke="#33363b" stroke-width="0.7" vector-effect="non-scaling-stroke"/><circle cx="14.3" cy="4.4" r="1.7" fill="#dfe1e4" stroke="#33363b" stroke-width="0.7" vector-effect="non-scaling-stroke"/><circle cx="9.0" cy="12.0" r="1.7" fill="#dfe1e4" stroke="#33363b" stroke-width="0.7" vector-effect="non-scaling-stroke"/><circle cx="0.2" cy="15.0" r="1.7" fill="#dfe1e4" stroke="#33363b" stroke-width="0.7" vector-effect="non-scaling-stroke"/><circle cx="-8.6" cy="12.3" r="1.7" fill="#dfe1e4" stroke="#33363b" stroke-width="0.7" vector-effect="non-scaling-stroke"/><circle cx="-14.2" cy="4.8" r="1.7" fill="#dfe1e4" stroke="#33363b" stroke-width="0.7" vector-effect="non-scaling-stroke"/><circle cx="-14.3" cy="-4.4" r="1.7" fill="#dfe1e4" stroke="#33363b" stroke-width="0.7" vector-effect="non-scaling-stroke"/><circle cx="-9.0" cy="-12.0" r="1.7" fill="#dfe1e4" stroke="#33363b" stroke-width="0.7" vector-effect="non-scaling-stroke"/><circle cx="-0.2" cy="-15.0" r="1.7" fill="#dfe1e4" stroke="#33363b" stroke-width="0.7" vector-effect="non-scaling-stroke"/><circle cx="8.6" cy="-12.3" r="1.7" fill="#dfe1e4" stroke="#33363b" stroke-width="0.7" vector-effect="non-scaling-stroke"/><circle cx="14.2" cy="-4.8" r="1.7" fill="#dfe1e4" stroke="#33363b" stroke-width="0.7" vector-effect="non-scaling-stroke"/><g stroke="#33363b" stroke-width="1.1" vector-effect="non-scaling-stroke"><line x1="0" y1="0" x2="4.5" y2="0.0"/><line x1="0" y1="0" x2="2.3" y2="3.9"/><line x1="0" y1="0" x2="-2.2" y2="3.9"/><line x1="0" y1="0" x2="-4.5" y2="0.0"/><line x1="0" y1="0" x2="-2.3" y2="-3.9"/><line x1="0" y1="0" x2="2.3" y2="-3.9"/></g><g transform="rotate(52.5)"><rect x="44" y="-5" width="16" height="10" rx="5" fill="#80848c" stroke="#1f1f1f" stroke-width="0.9" vector-effect="non-scaling-stroke"/></g></g></g></g>
<clipPath id="clipC"><rect x="957" y="276" width="206" height="142.7"/></clipPath><rect x="957" y="276" width="206" height="142.7" fill="#fff" stroke="#1f1f1f" stroke-width="1.6"/><g clip-path="url(#clipC)"><g transform="translate(957,276)"><g fill="none" stroke="#1f1f1f" stroke-width="1.45"><path d="M0,4.5 C22,4 35,8 48,14 L108,43.5"/><path d="M-2,24 C22,24 35,28 48,33 L101,59"/></g><g transform="translate(116.5,58) rotate(27)" stroke="#1f1f1f" stroke-width="1.7" fill="#fff"><path d="M-14,-13 L12,-13 L12,13 L-14,13 C-19,8 -19,-8 -14,-13 Z"/><ellipse cx="-8" cy="0" rx="4.5" ry="6" fill="none"/><path d="M-2,-13 C-6,-10 -13,-10 -14,-13" fill="none"/><path d="M-2,13 C-6,10 -13,10 -14,13" fill="none"/><path d="M3,-13 L3,13"/></g><g transform="translate(174,80.5) rotate(-14)"><rect x="-2" y="-11" width="16" height="22" rx="2.5" fill="#2a2a2a"/><g stroke="#8a8a8a" stroke-width="0.8"><line x1="1.0" y1="-10" x2="1.0" y2="10"/><line x1="3.2" y1="-10" x2="3.2" y2="10"/><line x1="5.4" y1="-10" x2="5.4" y2="10"/><line x1="7.6" y1="-10" x2="7.6" y2="10"/><line x1="9.8" y1="-10" x2="9.8" y2="10"/><line x1="12.0" y1="-10" x2="12.0" y2="10"/></g></g><g transform="translate(139.5,96) rotate(72)"><rect x="0" y="-9" width="12" height="18" rx="2" fill="#2a2a2a"/><g stroke="#777" stroke-width="0.8"><line x1="2.0" y1="-8" x2="2.0" y2="8"/><line x1="4.2" y1="-8" x2="4.2" y2="8"/><line x1="6.4" y1="-8" x2="6.4" y2="8"/><line x1="8.6" y1="-8" x2="8.6" y2="8"/><line x1="10.8" y1="-8" x2="10.8" y2="8"/></g></g><circle cx="148" cy="75" r="26" fill="#fff" stroke="#1f1f1f" stroke-width="2"/><circle cx="148" cy="76" r="8.8" fill="#a2a2a2" stroke="#1f1f1f" stroke-width="1.8"/><line x1="174.4" y1="79.9" x2="188.4" y2="84.8" stroke="#1f1f1f" stroke-width="4" stroke-linecap="round"/><line x1="174.4" y1="79.9" x2="188.4" y2="84.8" stroke="#fff" stroke-width="1.8" stroke-linecap="round"/><line x1="160.5" y1="33.7" x2="156" y2="48.4" stroke="#1f1f1f" stroke-width="4" stroke-dasharray="1 1"/><line x1="160.5" y1="33.7" x2="156" y2="48.4" stroke="#fff" stroke-width="2"/><line x1="135.7" y1="100.3" x2="139" y2="113.8" stroke="#1f1f1f" stroke-width="4" stroke-dasharray="1 1"/><line x1="135.7" y1="100.3" x2="139" y2="113.8" stroke="#fff" stroke-width="2"/><path d="M165,45 C172,47 177,53 179.7,60" fill="none" stroke="#1f1f1f" stroke-width="1.6"/><path d="M180.0,63.0 L176.3,57.6 L181.6,56.6 Z" fill="#1f1f1f"/><text x="178.11" y="52.50" font-family="Liberation Sans" font-size="16" font-weight="bold" font-style="italic" fill="#1f1f1f" stroke="#1f1f1f" stroke-width="0.4" textLength="23.84" lengthAdjust="spacingAndGlyphs" transform="rotate(10 178.6 52.5)">90°</text></g></g>
<g transform="translate(816,10)"><g stroke="#1f1f1f" stroke-width="1.1" fill="none"><path d="M256.7,623.4 L280.2,729"/><path d="M269.4,623.4 L290.4,729"/><path d="M294.9,631 L303.8,695.3"/><path d="M309.5,597 L315.9,694.7"/></g><path d="M305,553.5 C309,550 312,549.5 316,549.5 L344,549.3 L344,561.9 L316,562.4 C313,562.4 311,563 308.5,566.6 Z" fill="#fff" stroke="#1f1f1f" stroke-width="1.1"/><ellipse cx="346.8" cy="555.6" rx="6.6" ry="17" fill="#fff" stroke="#1f1f1f" stroke-width="1.1"/><ellipse cx="344.8" cy="555.6" rx="4.5" ry="15.5" fill="none" stroke="#1f1f1f" stroke-width="0.9"/><path d="M266,506 L271.3,521.5 C276,534 279,548 281,558 C283.5,572 287.5,585 291.3,599.1 L310.1,597 C310.5,585 309.5,568 306.5,556 C303.5,543 298.5,530 293.4,517.9 L287,503 Z" fill="#fff" stroke="#1f1f1f" stroke-width="1.1"/><g stroke="#1f1f1f" stroke-width="1.1" fill="#fff" stroke-linejoin="round"><path d="M267,588 C271,584 277,579 283,575 L289.3,596.6 L270,592 Z"/><ellipse cx="278" cy="586.5" rx="5" ry="3.6" transform="rotate(-25 278 586.5)"/><path d="M285.6,591 L289.3,596.6 L290,599 L293,600.3 L308.4,598.4 L307.8,630.6 L307.2,631.2 L275.7,622.5 L268,590 Z" fill="#f6f6f6"/><path d="M290.5,601 C291.5,604 292.5,606.5 293.6,608.3 L305.3,607.1" fill="none"/><path d="M233,586.4 L268.3,588.5 L276.3,622.5 L254,618.2 C246,616 240,612 235.5,607 Z"/><path d="M257.1,589.2 C253,594 251,600 251.6,607 C252,611 253,615 254,618.2" fill="none"/><path d="M239.8,588 C236.5,593 235,600 235.5,607" fill="none"/><path d="M232.4,586.7 L236.1,586.4 L239.8,588 C236.5,593 235,600 235.5,607 L232.4,604.6 C230.5,599 230.5,592 232.4,586.7 Z"/><path d="M269.5,590 C265,596 264,610 267,620.7 L276.3,622.5 L276.3,590 Z" fill="#fff"/><path d="M265,604 L275.5,604.5 M265,607.5 L275.5,608 M265.2,611 L275,611.5 M265.6,614.3 L275,614.8 M266,592 L276,593 M265.5,595 L276,596" stroke-width="1.2"/><ellipse cx="312.5" cy="609.3" rx="4.2" ry="13.2"/><ellipse cx="311" cy="609.3" rx="2.8" ry="12" fill="none" stroke-width="0.8"/><path d="M238,612 L249,606.5 L253.4,619 L243,625.6 Z"/><path d="M241,610.5 L246,623" fill="none" stroke-width="0.8"/><path d="M257.1,621 L269,619.4 L270.7,634 L259.6,636.8 Z"/><path d="M258,626.5 L270,625" fill="none" stroke-width="0.8"/></g></g>
<g stroke="#1a1a1a" stroke-width="1.05" stroke-dasharray="1.5 1.2" fill="none"><line x1="993.6" y1="620.5" x2="940.6" y2="693.0" stroke-dashoffset="2.8"/><line x1="995.9" y1="622.7" x2="953.5" y2="681.4" stroke-dashoffset="0.3"/><line x1="998.2" y1="624.9" x2="947.1" y2="696.3" stroke-dashoffset="2.2"/><line x1="1000.4" y1="627.0" x2="951.5" y2="696.3" stroke-dashoffset="0.9"/><line x1="1002.7" y1="629.2" x2="954.7" y2="697.9" stroke-dashoffset="1.8"/><line x1="1005.0" y1="631.4" x2="957.5" y2="700.1" stroke-dashoffset="0.5"/><line x1="1007.3" y1="633.5" x2="961.6" y2="700.2" stroke-dashoffset="1.2"/><line x1="1009.6" y1="635.7" x2="960.9" y2="707.5" stroke-dashoffset="3.0"/><line x1="1011.8" y1="637.9" x2="961.0" y2="713.8" stroke-dashoffset="1.6"/><line x1="1014.1" y1="640.1" x2="969.0" y2="708.2" stroke-dashoffset="0.8"/><line x1="1016.4" y1="642.2" x2="975.9" y2="704.1" stroke-dashoffset="0.1"/><line x1="1018.7" y1="644.4" x2="973.7" y2="713.7" stroke-dashoffset="1.0"/><line x1="1021.0" y1="646.6" x2="977.1" y2="714.9" stroke-dashoffset="2.7"/><line x1="1023.2" y1="648.8" x2="978.1" y2="719.9" stroke-dashoffset="1.7"/><line x1="1025.5" y1="651.0" x2="983.6" y2="717.7" stroke-dashoffset="0.1"/><line x1="1027.8" y1="653.1" x2="985.2" y2="721.7" stroke-dashoffset="0.4"/><line x1="1030.1" y1="655.3" x2="985.8" y2="727.4" stroke-dashoffset="3.0"/><line x1="1032.3" y1="657.5" x2="986.6" y2="732.7" stroke-dashoffset="0.5"/><line x1="1034.6" y1="659.7" x2="986.9" y2="739.0" stroke-dashoffset="2.4"/><line x1="1036.9" y1="661.8" x2="991.0" y2="738.9" stroke-dashoffset="2.7"/><line x1="1039.2" y1="664.0" x2="993.3" y2="742.0" stroke-dashoffset="2.4"/><line x1="1041.5" y1="666.2" x2="999.8" y2="737.7" stroke-dashoffset="2.9"/><line x1="1043.7" y1="668.4" x2="996.3" y2="750.6" stroke-dashoffset="0.5"/><line x1="1046.0" y1="670.5" x2="1000.9" y2="749.7" stroke-dashoffset="2.1"/><line x1="1048.3" y1="672.7" x2="1006.2" y2="747.3" stroke-dashoffset="1.6"/></g>
<g transform="translate(816,10)"><g opacity="1.0"><path d="M178.0,609.3 L178.0,607.4 L178.2,605.5 L178.5,603.8 L178.9,602.2 L179.5,600.7 L180.2,599.3 L181.0,598.0 L187.1,590.1 L188.1,588.9 L189.2,587.9 L190.4,587.0 L191.7,586.2 L193.2,585.6 L194.7,585.1 L196.4,584.8 L198.1,584.7 L199.9,584.7 L201.8,584.9 L203.7,585.2 L205.7,585.6 L207.8,586.3 L209.9,587.0 L212.0,588.0 L214.2,589.0 L216.3,590.2 L218.5,591.5 L220.6,593.0 L222.8,594.6 L224.9,596.2 L227.0,598.0 L229.0,599.9 L231.0,601.9 L232.9,604.0 L234.8,606.1 L236.5,608.3 L238.2,610.6 L239.8,612.9 L241.3,615.2 L242.7,617.5 L244.0,619.9 L245.2,622.3 L246.3,624.7 L247.2,627.0 L248.0,629.4 L248.7,631.7 L249.2,633.9 L249.6,636.1 L249.9,638.2 L250.0,640.3 L250.0,642.3 L249.8,644.1 L249.5,645.9 L249.0,647.6 L248.5,649.2 L247.7,650.6 L246.9,651.9 L245.9,653.1 L244.8,654.1 L237.0,660.2 L235.8,661.1 L234.5,661.8 L233.1,662.4 L231.6,662.8 L230.0,663.1 L228.3,663.3 L226.6,663.3 L224.8,663.1 L222.9,662.8 L220.9,662.3 L218.9,661.7 L216.9,661.0 L214.8,660.1 L212.8,659.1 L210.7,657.9 L208.6,656.6 L206.5,655.2 L204.4,653.7 L202.4,652.0 L200.3,650.3 L198.4,648.5 L196.4,646.5 L194.6,644.5 L192.8,642.5 L191.0,640.3 L189.4,638.1 L187.8,635.9 L186.4,633.6 L185.0,631.4 L183.7,629.0 L182.6,626.7 L181.6,624.4 L180.7,622.2 L179.9,619.9 L179.2,617.7 L178.7,615.5 L178.3,613.3 L178.1,611.3 Z" fill="#fff" stroke="#1f1f1f" stroke-width="1.1"/><line x1="210.0" y1="598.5" x2="217.0" y2="590.6" stroke="#1f1f1f" stroke-width="1"/><g transform="translate(210.0,628.0) rotate(50.0) scale(0.8400,0.4500)"><circle r="50" fill="#9ca1ab" stroke="#1f1f1f" stroke-width="1.1" vector-effect="non-scaling-stroke"/><g fill="#33363b"><rect x="-2.4" y="-1.35" width="4.8" height="2.7" rx="1.3" transform="translate(26.6,4.7) rotate(10)"/><rect x="-2.4" y="-1.35" width="4.8" height="2.7" rx="1.3" transform="translate(25.3,9.4) rotate(20)"/><rect x="-2.4" y="-1.35" width="4.8" height="2.7" rx="1.3" transform="translate(23.2,13.8) rotate(31)"/><rect x="-2.4" y="-1.35" width="4.8" height="2.7" rx="1.3" transform="translate(33.0,5.9) rotate(10)"/><rect x="-2.4" y="-1.35" width="4.8" height="2.7" rx="1.3" transform="translate(31.4,11.7) rotate(20)"/><rect x="-2.4" y="-1.35" width="4.8" height="2.7" rx="1.3" transform="translate(28.8,17.1) rotate(31)"/><rect x="-2.4" y="-1.35" width="4.8" height="2.7" rx="1.3" transform="translate(39.5,6.1) rotate(9)"/><rect x="-2.4" y="-1.35" width="4.8" height="2.7" rx="1.3" transform="translate(38.3,11.4) rotate(17)"/><rect x="-2.4" y="-1.35" width="4.8" height="2.7" rx="1.3" transform="translate(36.5,16.4) rotate(24)"/><rect x="-2.4" y="-1.35" width="4.8" height="2.7" rx="1.3" transform="translate(33.9,21.2) rotate(32)"/><rect x="-2.4" y="-1.35" width="4.8" height="2.7" rx="1.3" transform="translate(45.5,7.0) rotate(9)"/><rect x="-2.4" y="-1.35" width="4.8" height="2.7" rx="1.3" transform="translate(44.1,13.1) rotate(17)"/><rect x="-2.4" y="-1.35" width="4.8" height="2.7" rx="1.3" transform="translate(41.9,18.9) rotate(24)"/><rect x="-2.4" y="-1.35" width="4.8" height="2.7" rx="1.3" transform="translate(39.0,24.4) rotate(32)"/><rect x="-2.4" y="-1.35" width="4.8" height="2.7" rx="1.3" transform="translate(-5.2,26.5) rotate(101)"/><rect x="-2.4" y="-1.35" width="4.8" height="2.7" rx="1.3" transform="translate(-9.9,25.1) rotate(111)"/><rect x="-2.4" y="-1.35" width="4.8" height="2.7" rx="1.3" transform="translate(-14.2,22.9) rotate(122)"/><rect x="-2.4" y="-1.35" width="4.8" height="2.7" rx="1.3" transform="translate(-6.5,32.9) rotate(101)"/><rect x="-2.4" y="-1.35" width="4.8" height="2.7" rx="1.3" transform="translate(-12.3,31.2) rotate(111)"/><rect x="-2.4" y="-1.35" width="4.8" height="2.7" rx="1.3" transform="translate(-17.6,28.5) rotate(122)"/><rect x="-2.4" y="-1.35" width="4.8" height="2.7" rx="1.3" transform="translate(-6.8,39.4) rotate(100)"/><rect x="-2.4" y="-1.35" width="4.8" height="2.7" rx="1.3" transform="translate(-12.1,38.1) rotate(108)"/><rect x="-2.4" y="-1.35" width="4.8" height="2.7" rx="1.3" transform="translate(-17.1,36.2) rotate(115)"/><rect x="-2.4" y="-1.35" width="4.8" height="2.7" rx="1.3" transform="translate(-21.8,33.5) rotate(123)"/><rect x="-2.4" y="-1.35" width="4.8" height="2.7" rx="1.3" transform="translate(-7.9,45.3) rotate(100)"/><rect x="-2.4" y="-1.35" width="4.8" height="2.7" rx="1.3" transform="translate(-13.9,43.9) rotate(108)"/><rect x="-2.4" y="-1.35" width="4.8" height="2.7" rx="1.3" transform="translate(-19.7,41.6) rotate(115)"/><rect x="-2.4" y="-1.35" width="4.8" height="2.7" rx="1.3" transform="translate(-25.1,38.5) rotate(123)"/><rect x="-2.4" y="-1.35" width="4.8" height="2.7" rx="1.3" transform="translate(-22.9,14.3) rotate(238)"/><rect x="-2.4" y="-1.35" width="4.8" height="2.7" rx="1.3" transform="translate(-25.1,10.0) rotate(248)"/><rect x="-2.4" y="-1.35" width="4.8" height="2.7" rx="1.3" transform="translate(-26.5,5.3) rotate(259)"/><rect x="-2.4" y="-1.35" width="4.8" height="2.7" rx="1.3" transform="translate(-28.4,17.8) rotate(238)"/><rect x="-2.4" y="-1.35" width="4.8" height="2.7" rx="1.3" transform="translate(-31.1,12.4) rotate(248)"/><rect x="-2.4" y="-1.35" width="4.8" height="2.7" rx="1.3" transform="translate(-32.8,6.6) rotate(259)"/><rect x="-2.4" y="-1.35" width="4.8" height="2.7" rx="1.3" transform="translate(-33.4,22.0) rotate(237)"/><rect x="-2.4" y="-1.35" width="4.8" height="2.7" rx="1.3" transform="translate(-36.1,17.2) rotate(244)"/><rect x="-2.4" y="-1.35" width="4.8" height="2.7" rx="1.3" transform="translate(-38.1,12.2) rotate(252)"/><rect x="-2.4" y="-1.35" width="4.8" height="2.7" rx="1.3" transform="translate(-39.4,7.0) rotate(260)"/><rect x="-2.4" y="-1.35" width="4.8" height="2.7" rx="1.3" transform="translate(-38.4,25.3) rotate(237)"/><rect x="-2.4" y="-1.35" width="4.8" height="2.7" rx="1.3" transform="translate(-41.5,19.8) rotate(244)"/><rect x="-2.4" y="-1.35" width="4.8" height="2.7" rx="1.3" transform="translate(-43.8,14.1) rotate(252)"/><rect x="-2.4" y="-1.35" width="4.8" height="2.7" rx="1.3" transform="translate(-45.3,8.0) rotate(260)"/><rect x="-2.4" y="-1.35" width="4.8" height="2.7" rx="1.3" transform="translate(-26.3,-6.2) rotate(193)"/><rect x="-2.4" y="-1.35" width="4.8" height="2.7" rx="1.3" transform="translate(-24.8,-10.8) rotate(204)"/><rect x="-2.4" y="-1.35" width="4.8" height="2.7" rx="1.3" transform="translate(-22.4,-15.0) rotate(214)"/><rect x="-2.4" y="-1.35" width="4.8" height="2.7" rx="1.3" transform="translate(-32.6,-7.6) rotate(193)"/><rect x="-2.4" y="-1.35" width="4.8" height="2.7" rx="1.3" transform="translate(-30.7,-13.4) rotate(204)"/><rect x="-2.4" y="-1.35" width="4.8" height="2.7" rx="1.3" transform="translate(-27.8,-18.7) rotate(214)"/><rect x="-2.4" y="-1.35" width="4.8" height="2.7" rx="1.3" transform="translate(-39.1,-8.2) rotate(192)"/><rect x="-2.4" y="-1.35" width="4.8" height="2.7" rx="1.3" transform="translate(-37.7,-13.4) rotate(200)"/><rect x="-2.4" y="-1.35" width="4.8" height="2.7" rx="1.3" transform="translate(-35.5,-18.4) rotate(207)"/><rect x="-2.4" y="-1.35" width="4.8" height="2.7" rx="1.3" transform="translate(-32.7,-23.0) rotate(215)"/><rect x="-2.4" y="-1.35" width="4.8" height="2.7" rx="1.3" transform="translate(-45.0,-9.5) rotate(192)"/><rect x="-2.4" y="-1.35" width="4.8" height="2.7" rx="1.3" transform="translate(-43.3,-15.5) rotate(200)"/><rect x="-2.4" y="-1.35" width="4.8" height="2.7" rx="1.3" transform="translate(-40.8,-21.2) rotate(207)"/><rect x="-2.4" y="-1.35" width="4.8" height="2.7" rx="1.3" transform="translate(-37.6,-26.5) rotate(215)"/><rect x="-2.4" y="-1.35" width="4.8" height="2.7" rx="1.3" transform="translate(-16.0,-21.8) rotate(324)"/><rect x="-2.4" y="-1.35" width="4.8" height="2.7" rx="1.3" transform="translate(-11.8,-24.3) rotate(334)"/><rect x="-2.4" y="-1.35" width="4.8" height="2.7" rx="1.3" transform="translate(-7.3,-26.0) rotate(344)"/><rect x="-2.4" y="-1.35" width="4.8" height="2.7" rx="1.3" transform="translate(-19.8,-27.0) rotate(324)"/><rect x="-2.4" y="-1.35" width="4.8" height="2.7" rx="1.3" transform="translate(-14.7,-30.1) rotate(334)"/><rect x="-2.4" y="-1.35" width="4.8" height="2.7" rx="1.3" transform="translate(-9.0,-32.3) rotate(344)"/><rect x="-2.4" y="-1.35" width="4.8" height="2.7" rx="1.3" transform="translate(-24.4,-31.7) rotate(322)"/><rect x="-2.4" y="-1.35" width="4.8" height="2.7" rx="1.3" transform="translate(-19.9,-34.7) rotate(330)"/><rect x="-2.4" y="-1.35" width="4.8" height="2.7" rx="1.3" transform="translate(-15.0,-37.1) rotate(338)"/><rect x="-2.4" y="-1.35" width="4.8" height="2.7" rx="1.3" transform="translate(-9.9,-38.8) rotate(346)"/><rect x="-2.4" y="-1.35" width="4.8" height="2.7" rx="1.3" transform="translate(-28.1,-36.4) rotate(322)"/><rect x="-2.4" y="-1.35" width="4.8" height="2.7" rx="1.3" transform="translate(-22.9,-39.9) rotate(330)"/><rect x="-2.4" y="-1.35" width="4.8" height="2.7" rx="1.3" transform="translate(-17.3,-42.6) rotate(338)"/><rect x="-2.4" y="-1.35" width="4.8" height="2.7" rx="1.3" transform="translate(-11.4,-44.6) rotate(346)"/><rect x="-2.4" y="-1.35" width="4.8" height="2.7" rx="1.3" transform="translate(3.9,-26.7) rotate(278)"/><rect x="-2.4" y="-1.35" width="4.8" height="2.7" rx="1.3" transform="translate(8.6,-25.6) rotate(289)"/><rect x="-2.4" y="-1.35" width="4.8" height="2.7" rx="1.3" transform="translate(13.1,-23.6) rotate(299)"/><rect x="-2.4" y="-1.35" width="4.8" height="2.7" rx="1.3" transform="translate(4.8,-33.2) rotate(278)"/><rect x="-2.4" y="-1.35" width="4.8" height="2.7" rx="1.3" transform="translate(10.7,-31.7) rotate(289)"/><rect x="-2.4" y="-1.35" width="4.8" height="2.7" rx="1.3" transform="translate(16.2,-29.3) rotate(299)"/><rect x="-2.4" y="-1.35" width="4.8" height="2.7" rx="1.3" transform="translate(4.9,-39.7) rotate(277)"/><rect x="-2.4" y="-1.35" width="4.8" height="2.7" rx="1.3" transform="translate(10.2,-38.7) rotate(285)"/><rect x="-2.4" y="-1.35" width="4.8" height="2.7" rx="1.3" transform="translate(15.3,-37.0) rotate(292)"/><rect x="-2.4" y="-1.35" width="4.8" height="2.7" rx="1.3" transform="translate(20.1,-34.6) rotate(300)"/><rect x="-2.4" y="-1.35" width="4.8" height="2.7" rx="1.3" transform="translate(5.6,-45.7) rotate(277)"/><rect x="-2.4" y="-1.35" width="4.8" height="2.7" rx="1.3" transform="translate(11.7,-44.5) rotate(285)"/><rect x="-2.4" y="-1.35" width="4.8" height="2.7" rx="1.3" transform="translate(17.6,-42.5) rotate(292)"/><rect x="-2.4" y="-1.35" width="4.8" height="2.7" rx="1.3" transform="translate(23.2,-39.7) rotate(300)"/><rect x="-2.4" y="-1.35" width="4.8" height="2.7" rx="1.3" transform="translate(23.4,-13.6) rotate(420)"/><rect x="-2.4" y="-1.35" width="4.8" height="2.7" rx="1.3" transform="translate(25.4,-9.1) rotate(430)"/><rect x="-2.4" y="-1.35" width="4.8" height="2.7" rx="1.3" transform="translate(26.6,-4.4) rotate(441)"/><rect x="-2.4" y="-1.35" width="4.8" height="2.7" rx="1.3" transform="translate(29.0,-16.8) rotate(420)"/><rect x="-2.4" y="-1.35" width="4.8" height="2.7" rx="1.3" transform="translate(31.5,-11.3) rotate(430)"/><rect x="-2.4" y="-1.35" width="4.8" height="2.7" rx="1.3" transform="translate(33.0,-5.5) rotate(441)"/><rect x="-2.4" y="-1.35" width="4.8" height="2.7" rx="1.3" transform="translate(34.1,-20.9) rotate(419)"/><rect x="-2.4" y="-1.35" width="4.8" height="2.7" rx="1.3" transform="translate(36.6,-16.1) rotate(426)"/><rect x="-2.4" y="-1.35" width="4.8" height="2.7" rx="1.3" transform="translate(38.5,-11.0) rotate(434)"/><rect x="-2.4" y="-1.35" width="4.8" height="2.7" rx="1.3" transform="translate(39.6,-5.7) rotate(442)"/><rect x="-2.4" y="-1.35" width="4.8" height="2.7" rx="1.3" transform="translate(39.3,-24.0) rotate(419)"/><rect x="-2.4" y="-1.35" width="4.8" height="2.7" rx="1.3" transform="translate(42.1,-18.5) rotate(426)"/><rect x="-2.4" y="-1.35" width="4.8" height="2.7" rx="1.3" transform="translate(44.2,-12.6) rotate(434)"/><rect x="-2.4" y="-1.35" width="4.8" height="2.7" rx="1.3" transform="translate(45.5,-6.5) rotate(442)"/></g><path d="M5.8,21.2 L12.6,46.3 L1.0,48.0 L0.4,22.0 Z" fill="#33363b" opacity="0.75"/><circle r="21" fill="#a6aab2" stroke="#33363b" stroke-width="1" vector-effect="non-scaling-stroke"/><circle cx="7.6" cy="2.4" r="1.7" fill="#dfe1e4" stroke="#33363b" stroke-width="0.7" vector-effect="non-scaling-stroke"/><circle cx="1.8" cy="7.8" r="1.7" fill="#dfe1e4" stroke="#33363b" stroke-width="0.7" vector-effect="non-scaling-stroke"/><circle cx="-5.9" cy="5.4" r="1.7" fill="#dfe1e4" stroke="#33363b" stroke-width="0.7" vector-effect="non-scaling-stroke"/><circle cx="-7.6" cy="-2.4" r="1.7" fill="#dfe1e4" stroke="#33363b" stroke-width="0.7" vector-effect="non-scaling-stroke"/><circle cx="-1.8" cy="-7.8" r="1.7" fill="#dfe1e4" stroke="#33363b" stroke-width="0.7" vector-effect="non-scaling-stroke"/><circle cx="5.9" cy="-5.4" r="1.7" fill="#dfe1e4" stroke="#33363b" stroke-width="0.7" vector-effect="non-scaling-stroke"/><circle cx="14.3" cy="4.4" r="1.7" fill="#dfe1e4" stroke="#33363b" stroke-width="0.7" vector-effect="non-scaling-stroke"/><circle cx="9.0" cy="12.0" r="1.7" fill="#dfe1e4" stroke="#33363b" stroke-width="0.7" vector-effect="non-scaling-stroke"/><circle cx="0.2" cy="15.0" r="1.7" fill="#dfe1e4" stroke="#33363b" stroke-width="0.7" vector-effect="non-scaling-stroke"/><circle cx="-8.6" cy="12.3" r="1.7" fill="#dfe1e4" stroke="#33363b" stroke-width="0.7" vector-effect="non-scaling-stroke"/><circle cx="-14.2" cy="4.8" r="1.7" fill="#dfe1e4" stroke="#33363b" stroke-width="0.7" vector-effect="non-scaling-stroke"/><circle cx="-14.3" cy="-4.4" r="1.7" fill="#dfe1e4" stroke="#33363b" stroke-width="0.7" vector-effect="non-scaling-stroke"/><circle cx="-9.0" cy="-12.0" r="1.7" fill="#dfe1e4" stroke="#33363b" stroke-width="0.7" vector-effect="non-scaling-stroke"/><circle cx="-0.2" cy="-15.0" r="1.7" fill="#dfe1e4" stroke="#33363b" stroke-width="0.7" vector-effect="non-scaling-stroke"/><circle cx="8.6" cy="-12.3" r="1.7" fill="#dfe1e4" stroke="#33363b" stroke-width="0.7" vector-effect="non-scaling-stroke"/><circle cx="14.2" cy="-4.8" r="1.7" fill="#dfe1e4" stroke="#33363b" stroke-width="0.7" vector-effect="non-scaling-stroke"/><g stroke="#33363b" stroke-width="1.1" vector-effect="non-scaling-stroke"><line x1="0" y1="0" x2="4.5" y2="0.0"/><line x1="0" y1="0" x2="2.3" y2="3.9"/><line x1="0" y1="0" x2="-2.2" y2="3.9"/><line x1="0" y1="0" x2="-4.5" y2="0.0"/><line x1="0" y1="0" x2="-2.3" y2="-3.9"/><line x1="0" y1="0" x2="2.3" y2="-3.9"/></g><g transform="rotate(55.6)"><rect x="44" y="-5" width="16" height="10" rx="5" fill="#80848c" stroke="#1f1f1f" stroke-width="0.9" vector-effect="non-scaling-stroke"/></g></g></g><g opacity="1.0"><path d="M216.1,472.3 L216.2,470.5 L216.3,468.7 L216.7,467.1 L217.2,465.5 L217.8,464.0 L218.6,462.6 L223.9,454.1 L224.9,452.8 L226.0,451.6 L227.2,450.6 L228.6,449.7 L230.1,448.9 L231.7,448.3 L233.5,447.8 L235.3,447.4 L237.3,447.2 L239.3,447.1 L241.4,447.2 L243.6,447.4 L245.9,447.8 L248.2,448.3 L250.5,449.0 L252.9,449.7 L255.3,450.7 L257.8,451.7 L260.2,452.9 L262.6,454.2 L265.0,455.6 L267.4,457.1 L269.7,458.7 L272.0,460.4 L274.2,462.2 L276.4,464.1 L278.5,466.1 L280.5,468.1 L282.4,470.2 L284.2,472.3 L285.9,474.5 L287.5,476.7 L288.9,478.9 L290.2,481.1 L291.4,483.3 L292.5,485.5 L293.4,487.7 L294.1,489.8 L294.7,492.0 L295.2,494.0 L295.5,496.0 L295.6,498.0 L295.6,499.9 L295.4,501.7 L295.0,503.4 L294.5,505.0 L293.9,506.5 L293.1,507.9 L292.1,509.2 L285.4,516.6 L284.4,517.8 L283.1,518.8 L281.8,519.7 L280.3,520.5 L278.7,521.1 L277.0,521.6 L275.2,521.9 L273.3,522.1 L271.3,522.2 L269.2,522.1 L267.1,521.9 L264.9,521.5 L262.6,521.0 L260.3,520.4 L258.0,519.6 L255.6,518.7 L253.2,517.7 L250.9,516.6 L248.5,515.3 L246.1,513.9 L243.8,512.4 L241.5,510.8 L239.3,509.2 L237.1,507.4 L235.0,505.5 L232.9,503.6 L230.9,501.6 L229.1,499.6 L227.3,497.5 L225.6,495.4 L224.1,493.3 L222.7,491.1 L221.4,488.9 L220.2,486.8 L219.2,484.6 L218.3,482.5 L217.6,480.3 L217.0,478.3 L216.5,476.2 L216.3,474.3 Z" fill="#fff" stroke="#1f1f1f" stroke-width="1.1"/><line x1="249.9" y1="459.5" x2="255.9" y2="450.9" stroke="#1f1f1f" stroke-width="1"/><g transform="translate(252.5,489.0) rotate(40.0) scale(0.8600,0.4800)"><circle r="50" fill="#9ca1ab" stroke="#1f1f1f" stroke-width="1.1" vector-effect="non-scaling-stroke"/><g fill="#33363b"><rect x="-2.4" y="-1.35" width="4.8" height="2.7" rx="1.3" transform="translate(26.0,7.4) rotate(16)"/><rect x="-2.4" y="-1.35" width="4.8" height="2.7" rx="1.3" transform="translate(24.2,11.9) rotate(26)"/><rect x="-2.4" y="-1.35" width="4.8" height="2.7" rx="1.3" transform="translate(21.7,16.1) rotate(36)"/><rect x="-2.4" y="-1.35" width="4.8" height="2.7" rx="1.3" transform="translate(32.2,9.1) rotate(16)"/><rect x="-2.4" y="-1.35" width="4.8" height="2.7" rx="1.3" transform="translate(30.1,14.8) rotate(26)"/><rect x="-2.4" y="-1.35" width="4.8" height="2.7" rx="1.3" transform="translate(26.9,19.9) rotate(36)"/><rect x="-2.4" y="-1.35" width="4.8" height="2.7" rx="1.3" transform="translate(38.7,10.0) rotate(15)"/><rect x="-2.4" y="-1.35" width="4.8" height="2.7" rx="1.3" transform="translate(37.0,15.2) rotate(22)"/><rect x="-2.4" y="-1.35" width="4.8" height="2.7" rx="1.3" transform="translate(34.6,20.0) rotate(30)"/><rect x="-2.4" y="-1.35" width="4.8" height="2.7" rx="1.3" transform="translate(31.6,24.5) rotate(38)"/><rect x="-2.4" y="-1.35" width="4.8" height="2.7" rx="1.3" transform="translate(44.5,11.5) rotate(15)"/><rect x="-2.4" y="-1.35" width="4.8" height="2.7" rx="1.3" transform="translate(42.6,17.4) rotate(22)"/><rect x="-2.4" y="-1.35" width="4.8" height="2.7" rx="1.3" transform="translate(39.8,23.0) rotate(30)"/><rect x="-2.4" y="-1.35" width="4.8" height="2.7" rx="1.3" transform="translate(36.4,28.2) rotate(38)"/><rect x="-2.4" y="-1.35" width="4.8" height="2.7" rx="1.3" transform="translate(-4.0,26.7) rotate(99)"/><rect x="-2.4" y="-1.35" width="4.8" height="2.7" rx="1.3" transform="translate(-8.8,25.5) rotate(109)"/><rect x="-2.4" y="-1.35" width="4.8" height="2.7" rx="1.3" transform="translate(-13.2,23.5) rotate(119)"/><rect x="-2.4" y="-1.35" width="4.8" height="2.7" rx="1.3" transform="translate(-5.0,33.1) rotate(99)"/><rect x="-2.4" y="-1.35" width="4.8" height="2.7" rx="1.3" transform="translate(-10.9,31.7) rotate(109)"/><rect x="-2.4" y="-1.35" width="4.8" height="2.7" rx="1.3" transform="translate(-16.4,29.2) rotate(119)"/><rect x="-2.4" y="-1.35" width="4.8" height="2.7" rx="1.3" transform="translate(-5.1,39.7) rotate(97)"/><rect x="-2.4" y="-1.35" width="4.8" height="2.7" rx="1.3" transform="translate(-10.4,38.6) rotate(105)"/><rect x="-2.4" y="-1.35" width="4.8" height="2.7" rx="1.3" transform="translate(-15.5,36.9) rotate(113)"/><rect x="-2.4" y="-1.35" width="4.8" height="2.7" rx="1.3" transform="translate(-20.3,34.4) rotate(121)"/><rect x="-2.4" y="-1.35" width="4.8" height="2.7" rx="1.3" transform="translate(-5.9,45.6) rotate(97)"/><rect x="-2.4" y="-1.35" width="4.8" height="2.7" rx="1.3" transform="translate(-12.0,44.4) rotate(105)"/><rect x="-2.4" y="-1.35" width="4.8" height="2.7" rx="1.3" transform="translate(-17.8,42.4) rotate(113)"/><rect x="-2.4" y="-1.35" width="4.8" height="2.7" rx="1.3" transform="translate(-23.4,39.6) rotate(121)"/><rect x="-2.4" y="-1.35" width="4.8" height="2.7" rx="1.3" transform="translate(-21.8,15.9) rotate(234)"/><rect x="-2.4" y="-1.35" width="4.8" height="2.7" rx="1.3" transform="translate(-24.3,11.8) rotate(244)"/><rect x="-2.4" y="-1.35" width="4.8" height="2.7" rx="1.3" transform="translate(-26.0,7.2) rotate(255)"/><rect x="-2.4" y="-1.35" width="4.8" height="2.7" rx="1.3" transform="translate(-27.0,19.8) rotate(234)"/><rect x="-2.4" y="-1.35" width="4.8" height="2.7" rx="1.3" transform="translate(-30.2,14.6) rotate(244)"/><rect x="-2.4" y="-1.35" width="4.8" height="2.7" rx="1.3" transform="translate(-32.3,8.9) rotate(255)"/><rect x="-2.4" y="-1.35" width="4.8" height="2.7" rx="1.3" transform="translate(-31.8,24.3) rotate(233)"/><rect x="-2.4" y="-1.35" width="4.8" height="2.7" rx="1.3" transform="translate(-34.7,19.8) rotate(240)"/><rect x="-2.4" y="-1.35" width="4.8" height="2.7" rx="1.3" transform="translate(-37.1,14.9) rotate(248)"/><rect x="-2.4" y="-1.35" width="4.8" height="2.7" rx="1.3" transform="translate(-38.8,9.8) rotate(256)"/><rect x="-2.4" y="-1.35" width="4.8" height="2.7" rx="1.3" transform="translate(-36.5,28.0) rotate(233)"/><rect x="-2.4" y="-1.35" width="4.8" height="2.7" rx="1.3" transform="translate(-40.0,22.8) rotate(240)"/><rect x="-2.4" y="-1.35" width="4.8" height="2.7" rx="1.3" transform="translate(-42.7,17.2) rotate(248)"/><rect x="-2.4" y="-1.35" width="4.8" height="2.7" rx="1.3" transform="translate(-44.6,11.3) rotate(256)"/><rect x="-2.4" y="-1.35" width="4.8" height="2.7" rx="1.3" transform="translate(-26.1,-6.9) rotate(195)"/><rect x="-2.4" y="-1.35" width="4.8" height="2.7" rx="1.3" transform="translate(-24.4,-11.5) rotate(205)"/><rect x="-2.4" y="-1.35" width="4.8" height="2.7" rx="1.3" transform="translate(-22.0,-15.7) rotate(216)"/><rect x="-2.4" y="-1.35" width="4.8" height="2.7" rx="1.3" transform="translate(-32.4,-8.6) rotate(195)"/><rect x="-2.4" y="-1.35" width="4.8" height="2.7" rx="1.3" transform="translate(-30.3,-14.3) rotate(205)"/><rect x="-2.4" y="-1.35" width="4.8" height="2.7" rx="1.3" transform="translate(-27.3,-19.5) rotate(216)"/><rect x="-2.4" y="-1.35" width="4.8" height="2.7" rx="1.3" transform="translate(-38.9,-9.4) rotate(194)"/><rect x="-2.4" y="-1.35" width="4.8" height="2.7" rx="1.3" transform="translate(-37.3,-14.5) rotate(201)"/><rect x="-2.4" y="-1.35" width="4.8" height="2.7" rx="1.3" transform="translate(-35.0,-19.4) rotate(209)"/><rect x="-2.4" y="-1.35" width="4.8" height="2.7" rx="1.3" transform="translate(-32.0,-24.0) rotate(217)"/><rect x="-2.4" y="-1.35" width="4.8" height="2.7" rx="1.3" transform="translate(-44.7,-10.8) rotate(194)"/><rect x="-2.4" y="-1.35" width="4.8" height="2.7" rx="1.3" transform="translate(-42.9,-16.7) rotate(201)"/><rect x="-2.4" y="-1.35" width="4.8" height="2.7" rx="1.3" transform="translate(-40.2,-22.3) rotate(209)"/><rect x="-2.4" y="-1.35" width="4.8" height="2.7" rx="1.3" transform="translate(-36.8,-27.6) rotate(217)"/><rect x="-2.4" y="-1.35" width="4.8" height="2.7" rx="1.3" transform="translate(-13.9,-23.2) rotate(329)"/><rect x="-2.4" y="-1.35" width="4.8" height="2.7" rx="1.3" transform="translate(-9.5,-25.3) rotate(339)"/><rect x="-2.4" y="-1.35" width="4.8" height="2.7" rx="1.3" transform="translate(-4.8,-26.6) rotate(350)"/><rect x="-2.4" y="-1.35" width="4.8" height="2.7" rx="1.3" transform="translate(-17.2,-28.7) rotate(329)"/><rect x="-2.4" y="-1.35" width="4.8" height="2.7" rx="1.3" transform="translate(-11.8,-31.4) rotate(339)"/><rect x="-2.4" y="-1.35" width="4.8" height="2.7" rx="1.3" transform="translate(-6.0,-33.0) rotate(350)"/><rect x="-2.4" y="-1.35" width="4.8" height="2.7" rx="1.3" transform="translate(-21.3,-33.8) rotate(328)"/><rect x="-2.4" y="-1.35" width="4.8" height="2.7" rx="1.3" transform="translate(-16.6,-36.4) rotate(336)"/><rect x="-2.4" y="-1.35" width="4.8" height="2.7" rx="1.3" transform="translate(-11.5,-38.3) rotate(343)"/><rect x="-2.4" y="-1.35" width="4.8" height="2.7" rx="1.3" transform="translate(-6.2,-39.5) rotate(351)"/><rect x="-2.4" y="-1.35" width="4.8" height="2.7" rx="1.3" transform="translate(-24.5,-38.9) rotate(328)"/><rect x="-2.4" y="-1.35" width="4.8" height="2.7" rx="1.3" transform="translate(-19.1,-41.9) rotate(336)"/><rect x="-2.4" y="-1.35" width="4.8" height="2.7" rx="1.3" transform="translate(-13.2,-44.1) rotate(343)"/><rect x="-2.4" y="-1.35" width="4.8" height="2.7" rx="1.3" transform="translate(-7.2,-45.4) rotate(351)"/><rect x="-2.4" y="-1.35" width="4.8" height="2.7" rx="1.3" transform="translate(6.3,-26.3) rotate(284)"/><rect x="-2.4" y="-1.35" width="4.8" height="2.7" rx="1.3" transform="translate(10.9,-24.7) rotate(294)"/><rect x="-2.4" y="-1.35" width="4.8" height="2.7" rx="1.3" transform="translate(15.2,-22.3) rotate(304)"/><rect x="-2.4" y="-1.35" width="4.8" height="2.7" rx="1.3" transform="translate(7.8,-32.6) rotate(284)"/><rect x="-2.4" y="-1.35" width="4.8" height="2.7" rx="1.3" transform="translate(13.5,-30.6) rotate(294)"/><rect x="-2.4" y="-1.35" width="4.8" height="2.7" rx="1.3" transform="translate(18.8,-27.7) rotate(304)"/><rect x="-2.4" y="-1.35" width="4.8" height="2.7" rx="1.3" transform="translate(8.5,-39.1) rotate(282)"/><rect x="-2.4" y="-1.35" width="4.8" height="2.7" rx="1.3" transform="translate(13.7,-37.6) rotate(290)"/><rect x="-2.4" y="-1.35" width="4.8" height="2.7" rx="1.3" transform="translate(18.6,-35.4) rotate(298)"/><rect x="-2.4" y="-1.35" width="4.8" height="2.7" rx="1.3" transform="translate(23.2,-32.6) rotate(305)"/><rect x="-2.4" y="-1.35" width="4.8" height="2.7" rx="1.3" transform="translate(9.7,-45.0) rotate(282)"/><rect x="-2.4" y="-1.35" width="4.8" height="2.7" rx="1.3" transform="translate(15.7,-43.2) rotate(290)"/><rect x="-2.4" y="-1.35" width="4.8" height="2.7" rx="1.3" transform="translate(21.4,-40.7) rotate(298)"/><rect x="-2.4" y="-1.35" width="4.8" height="2.7" rx="1.3" transform="translate(26.7,-37.5) rotate(305)"/><rect x="-2.4" y="-1.35" width="4.8" height="2.7" rx="1.3" transform="translate(22.3,-15.2) rotate(416)"/><rect x="-2.4" y="-1.35" width="4.8" height="2.7" rx="1.3" transform="translate(24.7,-11.0) rotate(426)"/><rect x="-2.4" y="-1.35" width="4.8" height="2.7" rx="1.3" transform="translate(26.2,-6.4) rotate(436)"/><rect x="-2.4" y="-1.35" width="4.8" height="2.7" rx="1.3" transform="translate(27.7,-18.9) rotate(416)"/><rect x="-2.4" y="-1.35" width="4.8" height="2.7" rx="1.3" transform="translate(30.6,-13.6) rotate(426)"/><rect x="-2.4" y="-1.35" width="4.8" height="2.7" rx="1.3" transform="translate(32.5,-7.9) rotate(436)"/><rect x="-2.4" y="-1.35" width="4.8" height="2.7" rx="1.3" transform="translate(32.5,-23.3) rotate(414)"/><rect x="-2.4" y="-1.35" width="4.8" height="2.7" rx="1.3" transform="translate(35.3,-18.7) rotate(422)"/><rect x="-2.4" y="-1.35" width="4.8" height="2.7" rx="1.3" transform="translate(37.5,-13.8) rotate(430)"/><rect x="-2.4" y="-1.35" width="4.8" height="2.7" rx="1.3" transform="translate(39.1,-8.6) rotate(438)"/><rect x="-2.4" y="-1.35" width="4.8" height="2.7" rx="1.3" transform="translate(37.4,-26.8) rotate(414)"/><rect x="-2.4" y="-1.35" width="4.8" height="2.7" rx="1.3" transform="translate(40.6,-21.5) rotate(422)"/><rect x="-2.4" y="-1.35" width="4.8" height="2.7" rx="1.3" transform="translate(43.2,-15.9) rotate(430)"/><rect x="-2.4" y="-1.35" width="4.8" height="2.7" rx="1.3" transform="translate(44.9,-9.9) rotate(438)"/></g><path d="M5.0,21.4 L11.0,46.7 L-0.7,48.0 L-0.3,22.0 Z" fill="#33363b" opacity="0.75"/><circle r="21" fill="#a6aab2" stroke="#33363b" stroke-width="1" vector-effect="non-scaling-stroke"/><circle cx="7.6" cy="2.4" r="1.7" fill="#dfe1e4" stroke="#33363b" stroke-width="0.7" vector-effect="non-scaling-stroke"/><circle cx="1.8" cy="7.8" r="1.7" fill="#dfe1e4" stroke="#33363b" stroke-width="0.7" vector-effect="non-scaling-stroke"/><circle cx="-5.9" cy="5.4" r="1.7" fill="#dfe1e4" stroke="#33363b" stroke-width="0.7" vector-effect="non-scaling-stroke"/><circle cx="-7.6" cy="-2.4" r="1.7" fill="#dfe1e4" stroke="#33363b" stroke-width="0.7" vector-effect="non-scaling-stroke"/><circle cx="-1.8" cy="-7.8" r="1.7" fill="#dfe1e4" stroke="#33363b" stroke-width="0.7" vector-effect="non-scaling-stroke"/><circle cx="5.9" cy="-5.4" r="1.7" fill="#dfe1e4" stroke="#33363b" stroke-width="0.7" vector-effect="non-scaling-stroke"/><circle cx="14.3" cy="4.4" r="1.7" fill="#dfe1e4" stroke="#33363b" stroke-width="0.7" vector-effect="non-scaling-stroke"/><circle cx="9.0" cy="12.0" r="1.7" fill="#dfe1e4" stroke="#33363b" stroke-width="0.7" vector-effect="non-scaling-stroke"/><circle cx="0.2" cy="15.0" r="1.7" fill="#dfe1e4" stroke="#33363b" stroke-width="0.7" vector-effect="non-scaling-stroke"/><circle cx="-8.6" cy="12.3" r="1.7" fill="#dfe1e4" stroke="#33363b" stroke-width="0.7" vector-effect="non-scaling-stroke"/><circle cx="-14.2" cy="4.8" r="1.7" fill="#dfe1e4" stroke="#33363b" stroke-width="0.7" vector-effect="non-scaling-stroke"/><circle cx="-14.3" cy="-4.4" r="1.7" fill="#dfe1e4" stroke="#33363b" stroke-width="0.7" vector-effect="non-scaling-stroke"/><circle cx="-9.0" cy="-12.0" r="1.7" fill="#dfe1e4" stroke="#33363b" stroke-width="0.7" vector-effect="non-scaling-stroke"/><circle cx="-0.2" cy="-15.0" r="1.7" fill="#dfe1e4" stroke="#33363b" stroke-width="0.7" vector-effect="non-scaling-stroke"/><circle cx="8.6" cy="-12.3" r="1.7" fill="#dfe1e4" stroke="#33363b" stroke-width="0.7" vector-effect="non-scaling-stroke"/><circle cx="14.2" cy="-4.8" r="1.7" fill="#dfe1e4" stroke="#33363b" stroke-width="0.7" vector-effect="non-scaling-stroke"/><g stroke="#33363b" stroke-width="1.1" vector-effect="non-scaling-stroke"><line x1="0" y1="0" x2="4.5" y2="0.0"/><line x1="0" y1="0" x2="2.3" y2="3.9"/><line x1="0" y1="0" x2="-2.2" y2="3.9"/><line x1="0" y1="0" x2="-4.5" y2="0.0"/><line x1="0" y1="0" x2="-2.3" y2="-3.9"/><line x1="0" y1="0" x2="2.3" y2="-3.9"/></g><g transform="rotate(52.5)"><rect x="44" y="-5" width="16" height="10" rx="5" fill="#80848c" stroke="#1f1f1f" stroke-width="0.9" vector-effect="non-scaling-stroke"/></g></g></g></g>
<clipPath id="clipD"><rect x="1301" y="275.6" width="207" height="142.2"/></clipPath><rect x="1301" y="275.6" width="207" height="142.2" fill="#fff" stroke="#1f1f1f" stroke-width="1.6"/><g clip-path="url(#clipD)"><g transform="translate(1301,275.6)"><g fill="none" stroke="#1f1f1f" stroke-width="1.45"><path d="M0,4.5 C22,4 35,8 48,14 L108,43.5"/><path d="M-2,24 C22,24 35,28 48,33 L101,59"/></g><g transform="translate(116.5,58) rotate(27)" stroke="#1f1f1f" stroke-width="1.7" fill="#fff"><path d="M-14,-13 L12,-13 L12,13 L-14,13 C-19,8 -19,-8 -14,-13 Z"/><ellipse cx="-8" cy="0" rx="4.5" ry="6" fill="none"/><path d="M-2,-13 C-6,-10 -13,-10 -14,-13" fill="none"/><path d="M-2,13 C-6,10 -13,10 -14,13" fill="none"/><path d="M3,-13 L3,13"/></g><g transform="translate(174,80.5) rotate(-14)"><rect x="-2" y="-11" width="16" height="22" rx="2.5" fill="#2a2a2a"/><g stroke="#8a8a8a" stroke-width="0.8"><line x1="1.0" y1="-10" x2="1.0" y2="10"/><line x1="3.2" y1="-10" x2="3.2" y2="10"/><line x1="5.4" y1="-10" x2="5.4" y2="10"/><line x1="7.6" y1="-10" x2="7.6" y2="10"/><line x1="9.8" y1="-10" x2="9.8" y2="10"/><line x1="12.0" y1="-10" x2="12.0" y2="10"/></g></g><g transform="translate(139.5,96) rotate(72)"><rect x="0" y="-9" width="12" height="18" rx="2" fill="#2a2a2a"/><g stroke="#777" stroke-width="0.8"><line x1="2.0" y1="-8" x2="2.0" y2="8"/><line x1="4.2" y1="-8" x2="4.2" y2="8"/><line x1="6.4" y1="-8" x2="6.4" y2="8"/><line x1="8.6" y1="-8" x2="8.6" y2="8"/><line x1="10.8" y1="-8" x2="10.8" y2="8"/></g></g><circle cx="148" cy="75" r="26" fill="#fff" stroke="#1f1f1f" stroke-width="2"/><circle cx="148" cy="76" r="8.8" fill="#a2a2a2" stroke="#1f1f1f" stroke-width="1.8"/><line x1="174.7" y1="79.4" x2="188.7" y2="84.4" stroke="#1f1f1f" stroke-width="4" stroke-linecap="round"/><line x1="174.7" y1="79.4" x2="188.7" y2="84.4" stroke="#fff" stroke-width="1.8" stroke-linecap="round"/><line x1="162.3" y1="34.8" x2="156.6" y2="48.4" stroke="#1f1f1f" stroke-width="4" stroke-dasharray="1 1"/><line x1="162.3" y1="34.8" x2="156.6" y2="48.4" stroke="#fff" stroke-width="2"/><line x1="136" y1="112.4" x2="138" y2="100" stroke="#1f1f1f" stroke-width="4" stroke-dasharray="1 1"/><line x1="136" y1="112.4" x2="138" y2="100" stroke="#fff" stroke-width="2"/><path d="M156.6,41.6 C149,39 141,40 134,45" fill="none" stroke="#1f1f1f" stroke-width="1.6"/><path d="M132.5,46.5 L136.3,41.2 L139.0,45.8 Z" fill="#1f1f1f"/><text x="134.56" y="32.90" font-family="Liberation Sans" font-size="14.5" font-weight="bold" font-style="normal" fill="#1f1f1f" stroke="#1f1f1f" stroke-width="0.3" textLength="23.70" lengthAdjust="spacingAndGlyphs">90°</text></g></g>
<g transform="translate(1160,-10)"><g stroke="#1f1f1f" stroke-width="1.1" fill="none"><path d="M256.7,623.4 L280.2,729"/><path d="M269.4,623.4 L290.4,729"/><path d="M294.9,631 L303.8,695.3"/><path d="M309.5,597 L315.9,694.7"/></g><path d="M305,553.5 C309,550 312,549.5 316,549.5 L344,549.3 L344,561.9 L316,562.4 C313,562.4 311,563 308.5,566.6 Z" fill="#fff" stroke="#1f1f1f" stroke-width="1.1"/><ellipse cx="346.8" cy="555.6" rx="6.6" ry="17" fill="#fff" stroke="#1f1f1f" stroke-width="1.1"/><ellipse cx="344.8" cy="555.6" rx="4.5" ry="15.5" fill="none" stroke="#1f1f1f" stroke-width="0.9"/><path d="M266,506 L271.3,521.5 C276,534 279,548 281,558 C283.5,572 287.5,585 291.3,599.1 L310.1,597 C310.5,585 309.5,568 306.5,556 C303.5,543 298.5,530 293.4,517.9 L287,503 Z" fill="#fff" stroke="#1f1f1f" stroke-width="1.1"/><g stroke="#1f1f1f" stroke-width="1.1" fill="#fff" stroke-linejoin="round"><path d="M267,588 C271,584 277,579 283,575 L289.3,596.6 L270,592 Z"/><ellipse cx="278" cy="586.5" rx="5" ry="3.6" transform="rotate(-25 278 586.5)"/><path d="M285.6,591 L289.3,596.6 L290,599 L293,600.3 L308.4,598.4 L307.8,630.6 L307.2,631.2 L275.7,622.5 L268,590 Z" fill="#f6f6f6"/><path d="M290.5,601 C291.5,604 292.5,606.5 293.6,608.3 L305.3,607.1" fill="none"/><path d="M233,586.4 L268.3,588.5 L276.3,622.5 L254,618.2 C246,616 240,612 235.5,607 Z"/><path d="M257.1,589.2 C253,594 251,600 251.6,607 C252,611 253,615 254,618.2" fill="none"/><path d="M239.8,588 C236.5,593 235,600 235.5,607" fill="none"/><path d="M232.4,586.7 L236.1,586.4 L239.8,588 C236.5,593 235,600 235.5,607 L232.4,604.6 C230.5,599 230.5,592 232.4,586.7 Z"/><path d="M269.5,590 C265,596 264,610 267,620.7 L276.3,622.5 L276.3,590 Z" fill="#fff"/><path d="M265,604 L275.5,604.5 M265,607.5 L275.5,608 M265.2,611 L275,611.5 M265.6,614.3 L275,614.8 M266,592 L276,593 M265.5,595 L276,596" stroke-width="1.2"/><ellipse cx="312.5" cy="609.3" rx="4.2" ry="13.2"/><ellipse cx="311" cy="609.3" rx="2.8" ry="12" fill="none" stroke-width="0.8"/><path d="M238,612 L249,606.5 L253.4,619 L243,625.6 Z"/><path d="M241,610.5 L246,623" fill="none" stroke-width="0.8"/><path d="M257.1,621 L269,619.4 L270.7,634 L259.6,636.8 Z"/><path d="M258,626.5 L270,625" fill="none" stroke-width="0.8"/></g></g>
<g stroke="#1a1a1a" stroke-width="1.05" stroke-dasharray="1.5 1.2" fill="none"><line x1="1376.7" y1="462.5" x2="1301.2" y2="543.6" stroke-dashoffset="1.6"/><line x1="1379.0" y1="464.6" x2="1303.0" y2="546.6" stroke-dashoffset="1.8"/><line x1="1381.3" y1="466.8" x2="1303.9" y2="550.4" stroke-dashoffset="0.2"/><line x1="1383.7" y1="468.9" x2="1310.7" y2="548.1" stroke-dashoffset="2.5"/><line x1="1386.0" y1="471.0" x2="1311.7" y2="551.9" stroke-dashoffset="0.7"/><line x1="1388.3" y1="473.1" x2="1309.5" y2="559.2" stroke-dashoffset="1.4"/><line x1="1390.6" y1="475.2" x2="1313.2" y2="560.1" stroke-dashoffset="1.4"/><line x1="1392.9" y1="477.4" x2="1317.2" y2="560.7" stroke-dashoffset="0.5"/><line x1="1395.3" y1="479.5" x2="1319.9" y2="562.8" stroke-dashoffset="2.6"/><line x1="1397.6" y1="481.6" x2="1323.3" y2="564.0" stroke-dashoffset="2.2"/><line x1="1399.9" y1="483.8" x2="1324.9" y2="567.1" stroke-dashoffset="0.2"/><line x1="1402.2" y1="485.9" x2="1327.0" y2="569.8" stroke-dashoffset="1.8"/><line x1="1404.6" y1="488.0" x2="1332.7" y2="568.5" stroke-dashoffset="0.1"/><line x1="1406.9" y1="490.1" x2="1331.7" y2="574.6" stroke-dashoffset="1.4"/><line x1="1409.2" y1="492.2" x2="1335.3" y2="575.6" stroke-dashoffset="2.6"/><line x1="1411.5" y1="494.4" x2="1338.0" y2="577.6" stroke-dashoffset="2.8"/><line x1="1413.8" y1="496.5" x2="1342.7" y2="577.3" stroke-dashoffset="2.4"/><line x1="1416.2" y1="498.6" x2="1345.1" y2="579.7" stroke-dashoffset="2.8"/><line x1="1418.5" y1="500.8" x2="1344.9" y2="585.0" stroke-dashoffset="0.3"/><line x1="1420.8" y1="502.9" x2="1352.4" y2="581.5" stroke-dashoffset="0.7"/><line x1="1423.1" y1="505.0" x2="1349.7" y2="589.7" stroke-dashoffset="1.3"/><line x1="1425.4" y1="507.1" x2="1354.6" y2="589.2" stroke-dashoffset="0.9"/><line x1="1427.8" y1="509.2" x2="1358.0" y2="590.4" stroke-dashoffset="1.2"/><line x1="1430.1" y1="511.4" x2="1361.7" y2="591.3" stroke-dashoffset="1.8"/><line x1="1432.4" y1="513.5" x2="1362.8" y2="595.0" stroke-dashoffset="2.7"/></g>
<g stroke="#1a1a1a" stroke-width="1.05" stroke-dasharray="1.5 1.2" fill="none"><line x1="1337.3" y1="592.4" x2="1288.5" y2="662.4" stroke-dashoffset="0.3"/><line x1="1339.5" y1="594.8" x2="1289.5" y2="667.2" stroke-dashoffset="0.5"/><line x1="1341.7" y1="597.2" x2="1295.3" y2="665.2" stroke-dashoffset="1.2"/><line x1="1344.0" y1="599.6" x2="1289.8" y2="679.7" stroke-dashoffset="2.4"/><line x1="1346.2" y1="602.1" x2="1293.9" y2="680.1" stroke-dashoffset="0.7"/><line x1="1348.4" y1="604.5" x2="1298.6" y2="679.6" stroke-dashoffset="0.8"/><line x1="1350.6" y1="606.9" x2="1304.5" y2="677.0" stroke-dashoffset="0.3"/><line x1="1352.8" y1="609.3" x2="1306.7" y2="680.2" stroke-dashoffset="2.8"/><line x1="1355.1" y1="611.7" x2="1303.7" y2="691.5" stroke-dashoffset="2.4"/><line x1="1357.3" y1="614.1" x2="1306.6" y2="693.7" stroke-dashoffset="0.6"/><line x1="1359.5" y1="616.6" x2="1313.6" y2="689.3" stroke-dashoffset="1.9"/><line x1="1361.7" y1="619.0" x2="1312.4" y2="697.9" stroke-dashoffset="2.6"/><line x1="1363.9" y1="621.4" x2="1313.7" y2="702.7" stroke-dashoffset="0.3"/><line x1="1366.2" y1="623.8" x2="1318.8" y2="701.4" stroke-dashoffset="2.0"/><line x1="1368.4" y1="626.2" x2="1322.2" y2="702.5" stroke-dashoffset="0.5"/><line x1="1370.6" y1="628.6" x2="1325.1" y2="704.7" stroke-dashoffset="0.3"/><line x1="1372.8" y1="631.1" x2="1323.7" y2="713.9" stroke-dashoffset="2.6"/><line x1="1375.1" y1="633.5" x2="1329.7" y2="710.9" stroke-dashoffset="0.9"/><line x1="1377.3" y1="635.9" x2="1329.2" y2="718.8" stroke-dashoffset="1.7"/><line x1="1379.5" y1="638.3" x2="1332.1" y2="721.0" stroke-dashoffset="2.5"/><line x1="1381.7" y1="640.7" x2="1337.8" y2="718.2" stroke-dashoffset="1.2"/><line x1="1383.9" y1="643.1" x2="1339.6" y2="722.1" stroke-dashoffset="1.3"/><line x1="1386.2" y1="645.6" x2="1345.8" y2="718.3" stroke-dashoffset="0.9"/><line x1="1388.4" y1="648.0" x2="1343.1" y2="730.4" stroke-dashoffset="0.1"/><line x1="1390.6" y1="650.4" x2="1351.9" y2="721.7" stroke-dashoffset="1.9"/></g>
<g transform="translate(1160,-10)"><g opacity="1.0"><path d="M178.0,609.3 L178.0,607.4 L178.2,605.5 L178.5,603.8 L178.9,602.2 L179.5,600.7 L180.2,599.3 L181.0,598.0 L187.1,590.1 L188.1,588.9 L189.2,587.9 L190.4,587.0 L191.7,586.2 L193.2,585.6 L194.7,585.1 L196.4,584.8 L198.1,584.7 L199.9,584.7 L201.8,584.9 L203.7,585.2 L205.7,585.6 L207.8,586.3 L209.9,587.0 L212.0,588.0 L214.2,589.0 L216.3,590.2 L218.5,591.5 L220.6,593.0 L222.8,594.6 L224.9,596.2 L227.0,598.0 L229.0,599.9 L231.0,601.9 L232.9,604.0 L234.8,606.1 L236.5,608.3 L238.2,610.6 L239.8,612.9 L241.3,615.2 L242.7,617.5 L244.0,619.9 L245.2,622.3 L246.3,624.7 L247.2,627.0 L248.0,629.4 L248.7,631.7 L249.2,633.9 L249.6,636.1 L249.9,638.2 L250.0,640.3 L250.0,642.3 L249.8,644.1 L249.5,645.9 L249.0,647.6 L248.5,649.2 L247.7,650.6 L246.9,651.9 L245.9,653.1 L244.8,654.1 L237.0,660.2 L235.8,661.1 L234.5,661.8 L233.1,662.4 L231.6,662.8 L230.0,663.1 L228.3,663.3 L226.6,663.3 L224.8,663.1 L222.9,662.8 L220.9,662.3 L218.9,661.7 L216.9,661.0 L214.8,660.1 L212.8,659.1 L210.7,657.9 L208.6,656.6 L206.5,655.2 L204.4,653.7 L202.4,652.0 L200.3,650.3 L198.4,648.5 L196.4,646.5 L194.6,644.5 L192.8,642.5 L191.0,640.3 L189.4,638.1 L187.8,635.9 L186.4,633.6 L185.0,631.4 L183.7,629.0 L182.6,626.7 L181.6,624.4 L180.7,622.2 L179.9,619.9 L179.2,617.7 L178.7,615.5 L178.3,613.3 L178.1,611.3 Z" fill="#fff" stroke="#1f1f1f" stroke-width="1.1"/><line x1="210.0" y1="598.5" x2="217.0" y2="590.6" stroke="#1f1f1f" stroke-width="1"/><g transform="translate(210.0,628.0) rotate(50.0) scale(0.8400,0.4500)"><circle r="50" fill="#9ca1ab" stroke="#1f1f1f" stroke-width="1.1" vector-effect="non-scaling-stroke"/><g fill="#33363b"><rect x="-2.4" y="-1.35" width="4.8" height="2.7" rx="1.3" transform="translate(26.6,4.7) rotate(10)"/><rect x="-2.4" y="-1.35" width="4.8" height="2.7" rx="1.3" transform="translate(25.3,9.4) rotate(20)"/><rect x="-2.4" y="-1.35" width="4.8" height="2.7" rx="1.3" transform="translate(23.2,13.8) rotate(31)"/><rect x="-2.4" y="-1.35" width="4.8" height="2.7" rx="1.3" transform="translate(33.0,5.9) rotate(10)"/><rect x="-2.4" y="-1.35" width="4.8" height="2.7" rx="1.3" transform="translate(31.4,11.7) rotate(20)"/><rect x="-2.4" y="-1.35" width="4.8" height="2.7" rx="1.3" transform="translate(28.8,17.1) rotate(31)"/><rect x="-2.4" y="-1.35" width="4.8" height="2.7" rx="1.3" transform="translate(39.5,6.1) rotate(9)"/><rect x="-2.4" y="-1.35" width="4.8" height="2.7" rx="1.3" transform="translate(38.3,11.4) rotate(17)"/><rect x="-2.4" y="-1.35" width="4.8" height="2.7" rx="1.3" transform="translate(36.5,16.4) rotate(24)"/><rect x="-2.4" y="-1.35" width="4.8" height="2.7" rx="1.3" transform="translate(33.9,21.2) rotate(32)"/><rect x="-2.4" y="-1.35" width="4.8" height="2.7" rx="1.3" transform="translate(45.5,7.0) rotate(9)"/><rect x="-2.4" y="-1.35" width="4.8" height="2.7" rx="1.3" transform="translate(44.1,13.1) rotate(17)"/><rect x="-2.4" y="-1.35" width="4.8" height="2.7" rx="1.3" transform="translate(41.9,18.9) rotate(24)"/><rect x="-2.4" y="-1.35" width="4.8" height="2.7" rx="1.3" transform="translate(39.0,24.4) rotate(32)"/><rect x="-2.4" y="-1.35" width="4.8" height="2.7" rx="1.3" transform="translate(-5.2,26.5) rotate(101)"/><rect x="-2.4" y="-1.35" width="4.8" height="2.7" rx="1.3" transform="translate(-9.9,25.1) rotate(111)"/><rect x="-2.4" y="-1.35" width="4.8" height="2.7" rx="1.3" transform="translate(-14.2,22.9) rotate(122)"/><rect x="-2.4" y="-1.35" width="4.8" height="2.7" rx="1.3" transform="translate(-6.5,32.9) rotate(101)"/><rect x="-2.4" y="-1.35" width="4.8" height="2.7" rx="1.3" transform="translate(-12.3,31.2) rotate(111)"/><rect x="-2.4" y="-1.35" width="4.8" height="2.7" rx="1.3" transform="translate(-17.6,28.5) rotate(122)"/><rect x="-2.4" y="-1.35" width="4.8" height="2.7" rx="1.3" transform="translate(-6.8,39.4) rotate(100)"/><rect x="-2.4" y="-1.35" width="4.8" height="2.7" rx="1.3" transform="translate(-12.1,38.1) rotate(108)"/><rect x="-2.4" y="-1.35" width="4.8" height="2.7" rx="1.3" transform="translate(-17.1,36.2) rotate(115)"/><rect x="-2.4" y="-1.35" width="4.8" height="2.7" rx="1.3" transform="translate(-21.8,33.5) rotate(123)"/><rect x="-2.4" y="-1.35" width="4.8" height="2.7" rx="1.3" transform="translate(-7.9,45.3) rotate(100)"/><rect x="-2.4" y="-1.35" width="4.8" height="2.7" rx="1.3" transform="translate(-13.9,43.9) rotate(108)"/><rect x="-2.4" y="-1.35" width="4.8" height="2.7" rx="1.3" transform="translate(-19.7,41.6) rotate(115)"/><rect x="-2.4" y="-1.35" width="4.8" height="2.7" rx="1.3" transform="translate(-25.1,38.5) rotate(123)"/><rect x="-2.4" y="-1.35" width="4.8" height="2.7" rx="1.3" transform="translate(-22.9,14.3) rotate(238)"/><rect x="-2.4" y="-1.35" width="4.8" height="2.7" rx="1.3" transform="translate(-25.1,10.0) rotate(248)"/><rect x="-2.4" y="-1.35" width="4.8" height="2.7" rx="1.3" transform="translate(-26.5,5.3) rotate(259)"/><rect x="-2.4" y="-1.35" width="4.8" height="2.7" rx="1.3" transform="translate(-28.4,17.8) rotate(238)"/><rect x="-2.4" y="-1.35" width="4.8" height="2.7" rx="1.3" transform="translate(-31.1,12.4) rotate(248)"/><rect x="-2.4" y="-1.35" width="4.8" height="2.7" rx="1.3" transform="translate(-32.8,6.6) rotate(259)"/><rect x="-2.4" y="-1.35" width="4.8" height="2.7" rx="1.3" transform="translate(-33.4,22.0) rotate(237)"/><rect x="-2.4" y="-1.35" width="4.8" height="2.7" rx="1.3" transform="translate(-36.1,17.2) rotate(244)"/><rect x="-2.4" y="-1.35" width="4.8" height="2.7" rx="1.3" transform="translate(-38.1,12.2) rotate(252)"/><rect x="-2.4" y="-1.35" width="4.8" height="2.7" rx="1.3" transform="translate(-39.4,7.0) rotate(260)"/><rect x="-2.4" y="-1.35" width="4.8" height="2.7" rx="1.3" transform="translate(-38.4,25.3) rotate(237)"/><rect x="-2.4" y="-1.35" width="4.8" height="2.7" rx="1.3" transform="translate(-41.5,19.8) rotate(244)"/><rect x="-2.4" y="-1.35" width="4.8" height="2.7" rx="1.3" transform="translate(-43.8,14.1) rotate(252)"/><rect x="-2.4" y="-1.35" width="4.8" height="2.7" rx="1.3" transform="translate(-45.3,8.0) rotate(260)"/><rect x="-2.4" y="-1.35" width="4.8" height="2.7" rx="1.3" transform="translate(-26.3,-6.2) rotate(193)"/><rect x="-2.4" y="-1.35" width="4.8" height="2.7" rx="1.3" transform="translate(-24.8,-10.8) rotate(204)"/><rect x="-2.4" y="-1.35" width="4.8" height="2.7" rx="1.3" transform="translate(-22.4,-15.0) rotate(214)"/><rect x="-2.4" y="-1.35" width="4.8" height="2.7" rx="1.3" transform="translate(-32.6,-7.6) rotate(193)"/><rect x="-2.4" y="-1.35" width="4.8" height="2.7" rx="1.3" transform="translate(-30.7,-13.4) rotate(204)"/><rect x="-2.4" y="-1.35" width="4.8" height="2.7" rx="1.3" transform="translate(-27.8,-18.7) rotate(214)"/><rect x="-2.4" y="-1.35" width="4.8" height="2.7" rx="1.3" transform="translate(-39.1,-8.2) rotate(192)"/><rect x="-2.4" y="-1.35" width="4.8" height="2.7" rx="1.3" transform="translate(-37.7,-13.4) rotate(200)"/><rect x="-2.4" y="-1.35" width="4.8" height="2.7" rx="1.3" transform="translate(-35.5,-18.4) rotate(207)"/><rect x="-2.4" y="-1.35" width="4.8" height="2.7" rx="1.3" transform="translate(-32.7,-23.0) rotate(215)"/><rect x="-2.4" y="-1.35" width="4.8" height="2.7" rx="1.3" transform="translate(-45.0,-9.5) rotate(192)"/><rect x="-2.4" y="-1.35" width="4.8" height="2.7" rx="1.3" transform="translate(-43.3,-15.5) rotate(200)"/><rect x="-2.4" y="-1.35" width="4.8" height="2.7" rx="1.3" transform="translate(-40.8,-21.2) rotate(207)"/><rect x="-2.4" y="-1.35" width="4.8" height="2.7" rx="1.3" transform="translate(-37.6,-26.5) rotate(215)"/><rect x="-2.4" y="-1.35" width="4.8" height="2.7" rx="1.3" transform="translate(-16.0,-21.8) rotate(324)"/><rect x="-2.4" y="-1.35" width="4.8" height="2.7" rx="1.3" transform="translate(-11.8,-24.3) rotate(334)"/><rect x="-2.4" y="-1.35" width="4.8" height="2.7" rx="1.3" transform="translate(-7.3,-26.0) rotate(344)"/><rect x="-2.4" y="-1.35" width="4.8" height="2.7" rx="1.3" transform="translate(-19.8,-27.0) rotate(324)"/><rect x="-2.4" y="-1.35" width="4.8" height="2.7" rx="1.3" transform="translate(-14.7,-30.1) rotate(334)"/><rect x="-2.4" y="-1.35" width="4.8" height="2.7" rx="1.3" transform="translate(-9.0,-32.3) rotate(344)"/><rect x="-2.4" y="-1.35" width="4.8" height="2.7" rx="1.3" transform="translate(-24.4,-31.7) rotate(322)"/><rect x="-2.4" y="-1.35" width="4.8" height="2.7" rx="1.3" transform="translate(-19.9,-34.7) rotate(330)"/><rect x="-2.4" y="-1.35" width="4.8" height="2.7" rx="1.3" transform="translate(-15.0,-37.1) rotate(338)"/><rect x="-2.4" y="-1.35" width="4.8" height="2.7" rx="1.3" transform="translate(-9.9,-38.8) rotate(346)"/><rect x="-2.4" y="-1.35" width="4.8" height="2.7" rx="1.3" transform="translate(-28.1,-36.4) rotate(322)"/><rect x="-2.4" y="-1.35" width="4.8" height="2.7" rx="1.3" transform="translate(-22.9,-39.9) rotate(330)"/><rect x="-2.4" y="-1.35" width="4.8" height="2.7" rx="1.3" transform="translate(-17.3,-42.6) rotate(338)"/><rect x="-2.4" y="-1.35" width="4.8" height="2.7" rx="1.3" transform="translate(-11.4,-44.6) rotate(346)"/><rect x="-2.4" y="-1.35" width="4.8" height="2.7" rx="1.3" transform="translate(3.9,-26.7) rotate(278)"/><rect x="-2.4" y="-1.35" width="4.8" height="2.7" rx="1.3" transform="translate(8.6,-25.6) rotate(289)"/><rect x="-2.4" y="-1.35" width="4.8" height="2.7" rx="1.3" transform="translate(13.1,-23.6) rotate(299)"/><rect x="-2.4" y="-1.35" width="4.8" height="2.7" rx="1.3" transform="translate(4.8,-33.2) rotate(278)"/><rect x="-2.4" y="-1.35" width="4.8" height="2.7" rx="1.3" transform="translate(10.7,-31.7) rotate(289)"/><rect x="-2.4" y="-1.35" width="4.8" height="2.7" rx="1.3" transform="translate(16.2,-29.3) rotate(299)"/><rect x="-2.4" y="-1.35" width="4.8" height="2.7" rx="1.3" transform="translate(4.9,-39.7) rotate(277)"/><rect x="-2.4" y="-1.35" width="4.8" height="2.7" rx="1.3" transform="translate(10.2,-38.7) rotate(285)"/><rect x="-2.4" y="-1.35" width="4.8" height="2.7" rx="1.3" transform="translate(15.3,-37.0) rotate(292)"/><rect x="-2.4" y="-1.35" width="4.8" height="2.7" rx="1.3" transform="translate(20.1,-34.6) rotate(300)"/><rect x="-2.4" y="-1.35" width="4.8" height="2.7" rx="1.3" transform="translate(5.6,-45.7) rotate(277)"/><rect x="-2.4" y="-1.35" width="4.8" height="2.7" rx="1.3" transform="translate(11.7,-44.5) rotate(285)"/><rect x="-2.4" y="-1.35" width="4.8" height="2.7" rx="1.3" transform="translate(17.6,-42.5) rotate(292)"/><rect x="-2.4" y="-1.35" width="4.8" height="2.7" rx="1.3" transform="translate(23.2,-39.7) rotate(300)"/><rect x="-2.4" y="-1.35" width="4.8" height="2.7" rx="1.3" transform="translate(23.4,-13.6) rotate(420)"/><rect x="-2.4" y="-1.35" width="4.8" height="2.7" rx="1.3" transform="translate(25.4,-9.1) rotate(430)"/><rect x="-2.4" y="-1.35" width="4.8" height="2.7" rx="1.3" transform="translate(26.6,-4.4) rotate(441)"/><rect x="-2.4" y="-1.35" width="4.8" height="2.7" rx="1.3" transform="translate(29.0,-16.8) rotate(420)"/><rect x="-2.4" y="-1.35" width="4.8" height="2.7" rx="1.3" transform="translate(31.5,-11.3) rotate(430)"/><rect x="-2.4" y="-1.35" width="4.8" height="2.7" rx="1.3" transform="translate(33.0,-5.5) rotate(441)"/><rect x="-2.4" y="-1.35" width="4.8" height="2.7" rx="1.3" transform="translate(34.1,-20.9) rotate(419)"/><rect x="-2.4" y="-1.35" width="4.8" height="2.7" rx="1.3" transform="translate(36.6,-16.1) rotate(426)"/><rect x="-2.4" y="-1.35" width="4.8" height="2.7" rx="1.3" transform="translate(38.5,-11.0) rotate(434)"/><rect x="-2.4" y="-1.35" width="4.8" height="2.7" rx="1.3" transform="translate(39.6,-5.7) rotate(442)"/><rect x="-2.4" y="-1.35" width="4.8" height="2.7" rx="1.3" transform="translate(39.3,-24.0) rotate(419)"/><rect x="-2.4" y="-1.35" width="4.8" height="2.7" rx="1.3" transform="translate(42.1,-18.5) rotate(426)"/><rect x="-2.4" y="-1.35" width="4.8" height="2.7" rx="1.3" transform="translate(44.2,-12.6) rotate(434)"/><rect x="-2.4" y="-1.35" width="4.8" height="2.7" rx="1.3" transform="translate(45.5,-6.5) rotate(442)"/></g><path d="M5.8,21.2 L12.6,46.3 L1.0,48.0 L0.4,22.0 Z" fill="#33363b" opacity="0.75"/><circle r="21" fill="#a6aab2" stroke="#33363b" stroke-width="1" vector-effect="non-scaling-stroke"/><circle cx="7.6" cy="2.4" r="1.7" fill="#dfe1e4" stroke="#33363b" stroke-width="0.7" vector-effect="non-scaling-stroke"/><circle cx="1.8" cy="7.8" r="1.7" fill="#dfe1e4" stroke="#33363b" stroke-width="0.7" vector-effect="non-scaling-stroke"/><circle cx="-5.9" cy="5.4" r="1.7" fill="#dfe1e4" stroke="#33363b" stroke-width="0.7" vector-effect="non-scaling-stroke"/><circle cx="-7.6" cy="-2.4" r="1.7" fill="#dfe1e4" stroke="#33363b" stroke-width="0.7" vector-effect="non-scaling-stroke"/><circle cx="-1.8" cy="-7.8" r="1.7" fill="#dfe1e4" stroke="#33363b" stroke-width="0.7" vector-effect="non-scaling-stroke"/><circle cx="5.9" cy="-5.4" r="1.7" fill="#dfe1e4" stroke="#33363b" stroke-width="0.7" vector-effect="non-scaling-stroke"/><circle cx="14.3" cy="4.4" r="1.7" fill="#dfe1e4" stroke="#33363b" stroke-width="0.7" vector-effect="non-scaling-stroke"/><circle cx="9.0" cy="12.0" r="1.7" fill="#dfe1e4" stroke="#33363b" stroke-width="0.7" vector-effect="non-scaling-stroke"/><circle cx="0.2" cy="15.0" r="1.7" fill="#dfe1e4" stroke="#33363b" stroke-width="0.7" vector-effect="non-scaling-stroke"/><circle cx="-8.6" cy="12.3" r="1.7" fill="#dfe1e4" stroke="#33363b" stroke-width="0.7" vector-effect="non-scaling-stroke"/><circle cx="-14.2" cy="4.8" r="1.7" fill="#dfe1e4" stroke="#33363b" stroke-width="0.7" vector-effect="non-scaling-stroke"/><circle cx="-14.3" cy="-4.4" r="1.7" fill="#dfe1e4" stroke="#33363b" stroke-width="0.7" vector-effect="non-scaling-stroke"/><circle cx="-9.0" cy="-12.0" r="1.7" fill="#dfe1e4" stroke="#33363b" stroke-width="0.7" vector-effect="non-scaling-stroke"/><circle cx="-0.2" cy="-15.0" r="1.7" fill="#dfe1e4" stroke="#33363b" stroke-width="0.7" vector-effect="non-scaling-stroke"/><circle cx="8.6" cy="-12.3" r="1.7" fill="#dfe1e4" stroke="#33363b" stroke-width="0.7" vector-effect="non-scaling-stroke"/><circle cx="14.2" cy="-4.8" r="1.7" fill="#dfe1e4" stroke="#33363b" stroke-width="0.7" vector-effect="non-scaling-stroke"/><g stroke="#33363b" stroke-width="1.1" vector-effect="non-scaling-stroke"><line x1="0" y1="0" x2="4.5" y2="0.0"/><line x1="0" y1="0" x2="2.3" y2="3.9"/><line x1="0" y1="0" x2="-2.2" y2="3.9"/><line x1="0" y1="0" x2="-4.5" y2="0.0"/><line x1="0" y1="0" x2="-2.3" y2="-3.9"/><line x1="0" y1="0" x2="2.3" y2="-3.9"/></g><g transform="rotate(55.6)"><rect x="44" y="-5" width="16" height="10" rx="5" fill="#80848c" stroke="#1f1f1f" stroke-width="0.9" vector-effect="non-scaling-stroke"/></g></g></g><g opacity="1.0"><path d="M216.1,472.3 L216.2,470.5 L216.3,468.7 L216.7,467.1 L217.2,465.5 L217.8,464.0 L218.6,462.6 L223.9,454.1 L224.9,452.8 L226.0,451.6 L227.2,450.6 L228.6,449.7 L230.1,448.9 L231.7,448.3 L233.5,447.8 L235.3,447.4 L237.3,447.2 L239.3,447.1 L241.4,447.2 L243.6,447.4 L245.9,447.8 L248.2,448.3 L250.5,449.0 L252.9,449.7 L255.3,450.7 L257.8,451.7 L260.2,452.9 L262.6,454.2 L265.0,455.6 L267.4,457.1 L269.7,458.7 L272.0,460.4 L274.2,462.2 L276.4,464.1 L278.5,466.1 L280.5,468.1 L282.4,470.2 L284.2,472.3 L285.9,474.5 L287.5,476.7 L288.9,478.9 L290.2,481.1 L291.4,483.3 L292.5,485.5 L293.4,487.7 L294.1,489.8 L294.7,492.0 L295.2,494.0 L295.5,496.0 L295.6,498.0 L295.6,499.9 L295.4,501.7 L295.0,503.4 L294.5,505.0 L293.9,506.5 L293.1,507.9 L292.1,509.2 L285.4,516.6 L284.4,517.8 L283.1,518.8 L281.8,519.7 L280.3,520.5 L278.7,521.1 L277.0,521.6 L275.2,521.9 L273.3,522.1 L271.3,522.2 L269.2,522.1 L267.1,521.9 L264.9,521.5 L262.6,521.0 L260.3,520.4 L258.0,519.6 L255.6,518.7 L253.2,517.7 L250.9,516.6 L248.5,515.3 L246.1,513.9 L243.8,512.4 L241.5,510.8 L239.3,509.2 L237.1,507.4 L235.0,505.5 L232.9,503.6 L230.9,501.6 L229.1,499.6 L227.3,497.5 L225.6,495.4 L224.1,493.3 L222.7,491.1 L221.4,488.9 L220.2,486.8 L219.2,484.6 L218.3,482.5 L217.6,480.3 L217.0,478.3 L216.5,476.2 L216.3,474.3 Z" fill="#fff" stroke="#1f1f1f" stroke-width="1.1"/><line x1="249.9" y1="459.5" x2="255.9" y2="450.9" stroke="#1f1f1f" stroke-width="1"/><g transform="translate(252.5,489.0) rotate(40.0) scale(0.8600,0.4800)"><circle r="50" fill="#9ca1ab" stroke="#1f1f1f" stroke-width="1.1" vector-effect="non-scaling-stroke"/><g fill="#33363b"><rect x="-2.4" y="-1.35" width="4.8" height="2.7" rx="1.3" transform="translate(26.0,7.4) rotate(16)"/><rect x="-2.4" y="-1.35" width="4.8" height="2.7" rx="1.3" transform="translate(24.2,11.9) rotate(26)"/><rect x="-2.4" y="-1.35" width="4.8" height="2.7" rx="1.3" transform="translate(21.7,16.1) rotate(36)"/><rect x="-2.4" y="-1.35" width="4.8" height="2.7" rx="1.3" transform="translate(32.2,9.1) rotate(16)"/><rect x="-2.4" y="-1.35" width="4.8" height="2.7" rx="1.3" transform="translate(30.1,14.8) rotate(26)"/><rect x="-2.4" y="-1.35" width="4.8" height="2.7" rx="1.3" transform="translate(26.9,19.9) rotate(36)"/><rect x="-2.4" y="-1.35" width="4.8" height="2.7" rx="1.3" transform="translate(38.7,10.0) rotate(15)"/><rect x="-2.4" y="-1.35" width="4.8" height="2.7" rx="1.3" transform="translate(37.0,15.2) rotate(22)"/><rect x="-2.4" y="-1.35" width="4.8" height="2.7" rx="1.3" transform="translate(34.6,20.0) rotate(30)"/><rect x="-2.4" y="-1.35" width="4.8" height="2.7" rx="1.3" transform="translate(31.6,24.5) rotate(38)"/><rect x="-2.4" y="-1.35" width="4.8" height="2.7" rx="1.3" transform="translate(44.5,11.5) rotate(15)"/><rect x="-2.4" y="-1.35" width="4.8" height="2.7" rx="1.3" transform="translate(42.6,17.4) rotate(22)"/><rect x="-2.4" y="-1.35" width="4.8" height="2.7" rx="1.3" transform="translate(39.8,23.0) rotate(30)"/><rect x="-2.4" y="-1.35" width="4.8" height="2.7" rx="1.3" transform="translate(36.4,28.2) rotate(38)"/><rect x="-2.4" y="-1.35" width="4.8" height="2.7" rx="1.3" transform="translate(-4.0,26.7) rotate(99)"/><rect x="-2.4" y="-1.35" width="4.8" height="2.7" rx="1.3" transform="translate(-8.8,25.5) rotate(109)"/><rect x="-2.4" y="-1.35" width="4.8" height="2.7" rx="1.3" transform="translate(-13.2,23.5) rotate(119)"/><rect x="-2.4" y="-1.35" width="4.8" height="2.7" rx="1.3" transform="translate(-5.0,33.1) rotate(99)"/><rect x="-2.4" y="-1.35" width="4.8" height="2.7" rx="1.3" transform="translate(-10.9,31.7) rotate(109)"/><rect x="-2.4" y="-1.35" width="4.8" height="2.7" rx="1.3" transform="translate(-16.4,29.2) rotate(119)"/><rect x="-2.4" y="-1.35" width="4.8" height="2.7" rx="1.3" transform="translate(-5.1,39.7) rotate(97)"/><rect x="-2.4" y="-1.35" width="4.8" height="2.7" rx="1.3" transform="translate(-10.4,38.6) rotate(105)"/><rect x="-2.4" y="-1.35" width="4.8" height="2.7" rx="1.3" transform="translate(-15.5,36.9) rotate(113)"/><rect x="-2.4" y="-1.35" width="4.8" height="2.7" rx="1.3" transform="translate(-20.3,34.4) rotate(121)"/><rect x="-2.4" y="-1.35" width="4.8" height="2.7" rx="1.3" transform="translate(-5.9,45.6) rotate(97)"/><rect x="-2.4" y="-1.35" width="4.8" height="2.7" rx="1.3" transform="translate(-12.0,44.4) rotate(105)"/><rect x="-2.4" y="-1.35" width="4.8" height="2.7" rx="1.3" transform="translate(-17.8,42.4) rotate(113)"/><rect x="-2.4" y="-1.35" width="4.8" height="2.7" rx="1.3" transform="translate(-23.4,39.6) rotate(121)"/><rect x="-2.4" y="-1.35" width="4.8" height="2.7" rx="1.3" transform="translate(-21.8,15.9) rotate(234)"/><rect x="-2.4" y="-1.35" width="4.8" height="2.7" rx="1.3" transform="translate(-24.3,11.8) rotate(244)"/><rect x="-2.4" y="-1.35" width="4.8" height="2.7" rx="1.3" transform="translate(-26.0,7.2) rotate(255)"/><rect x="-2.4" y="-1.35" width="4.8" height="2.7" rx="1.3" transform="translate(-27.0,19.8) rotate(234)"/><rect x="-2.4" y="-1.35" width="4.8" height="2.7" rx="1.3" transform="translate(-30.2,14.6) rotate(244)"/><rect x="-2.4" y="-1.35" width="4.8" height="2.7" rx="1.3" transform="translate(-32.3,8.9) rotate(255)"/><rect x="-2.4" y="-1.35" width="4.8" height="2.7" rx="1.3" transform="translate(-31.8,24.3) rotate(233)"/><rect x="-2.4" y="-1.35" width="4.8" height="2.7" rx="1.3" transform="translate(-34.7,19.8) rotate(240)"/><rect x="-2.4" y="-1.35" width="4.8" height="2.7" rx="1.3" transform="translate(-37.1,14.9) rotate(248)"/><rect x="-2.4" y="-1.35" width="4.8" height="2.7" rx="1.3" transform="translate(-38.8,9.8) rotate(256)"/><rect x="-2.4" y="-1.35" width="4.8" height="2.7" rx="1.3" transform="translate(-36.5,28.0) rotate(233)"/><rect x="-2.4" y="-1.35" width="4.8" height="2.7" rx="1.3" transform="translate(-40.0,22.8) rotate(240)"/><rect x="-2.4" y="-1.35" width="4.8" height="2.7" rx="1.3" transform="translate(-42.7,17.2) rotate(248)"/><rect x="-2.4" y="-1.35" width="4.8" height="2.7" rx="1.3" transform="translate(-44.6,11.3) rotate(256)"/><rect x="-2.4" y="-1.35" width="4.8" height="2.7" rx="1.3" transform="translate(-26.1,-6.9) rotate(195)"/><rect x="-2.4" y="-1.35" width="4.8" height="2.7" rx="1.3" transform="translate(-24.4,-11.5) rotate(205)"/><rect x="-2.4" y="-1.35" width="4.8" height="2.7" rx="1.3" transform="translate(-22.0,-15.7) rotate(216)"/><rect x="-2.4" y="-1.35" width="4.8" height="2.7" rx="1.3" transform="translate(-32.4,-8.6) rotate(195)"/><rect x="-2.4" y="-1.35" width="4.8" height="2.7" rx="1.3" transform="translate(-30.3,-14.3) rotate(205)"/><rect x="-2.4" y="-1.35" width="4.8" height="2.7" rx="1.3" transform="translate(-27.3,-19.5) rotate(216)"/><rect x="-2.4" y="-1.35" width="4.8" height="2.7" rx="1.3" transform="translate(-38.9,-9.4) rotate(194)"/><rect x="-2.4" y="-1.35" width="4.8" height="2.7" rx="1.3" transform="translate(-37.3,-14.5) rotate(201)"/><rect x="-2.4" y="-1.35" width="4.8" height="2.7" rx="1.3" transform="translate(-35.0,-19.4) rotate(209)"/><rect x="-2.4" y="-1.35" width="4.8" height="2.7" rx="1.3" transform="translate(-32.0,-24.0) rotate(217)"/><rect x="-2.4" y="-1.35" width="4.8" height="2.7" rx="1.3" transform="translate(-44.7,-10.8) rotate(194)"/><rect x="-2.4" y="-1.35" width="4.8" height="2.7" rx="1.3" transform="translate(-42.9,-16.7) rotate(201)"/><rect x="-2.4" y="-1.35" width="4.8" height="2.7" rx="1.3" transform="translate(-40.2,-22.3) rotate(209)"/><rect x="-2.4" y="-1.35" width="4.8" height="2.7" rx="1.3" transform="translate(-36.8,-27.6) rotate(217)"/><rect x="-2.4" y="-1.35" width="4.8" height="2.7" rx="1.3" transform="translate(-13.9,-23.2) rotate(329)"/><rect x="-2.4" y="-1.35" width="4.8" height="2.7" rx="1.3" transform="translate(-9.5,-25.3) rotate(339)"/><rect x="-2.4" y="-1.35" width="4.8" height="2.7" rx="1.3" transform="translate(-4.8,-26.6) rotate(350)"/><rect x="-2.4" y="-1.35" width="4.8" height="2.7" rx="1.3" transform="translate(-17.2,-28.7) rotate(329)"/><rect x="-2.4" y="-1.35" width="4.8" height="2.7" rx="1.3" transform="translate(-11.8,-31.4) rotate(339)"/><rect x="-2.4" y="-1.35" width="4.8" height="2.7" rx="1.3" transform="translate(-6.0,-33.0) rotate(350)"/><rect x="-2.4" y="-1.35" width="4.8" height="2.7" rx="1.3" transform="translate(-21.3,-33.8) rotate(328)"/><rect x="-2.4" y="-1.35" width="4.8" height="2.7" rx="1.3" transform="translate(-16.6,-36.4) rotate(336)"/><rect x="-2.4" y="-1.35" width="4.8" height="2.7" rx="1.3" transform="translate(-11.5,-38.3) rotate(343)"/><rect x="-2.4" y="-1.35" width="4.8" height="2.7" rx="1.3" transform="translate(-6.2,-39.5) rotate(351)"/><rect x="-2.4" y="-1.35" width="4.8" height="2.7" rx="1.3" transform="translate(-24.5,-38.9) rotate(328)"/><rect x="-2.4" y="-1.35" width="4.8" height="2.7" rx="1.3" transform="translate(-19.1,-41.9) rotate(336)"/><rect x="-2.4" y="-1.35" width="4.8" height="2.7" rx="1.3" transform="translate(-13.2,-44.1) rotate(343)"/><rect x="-2.4" y="-1.35" width="4.8" height="2.7" rx="1.3" transform="translate(-7.2,-45.4) rotate(351)"/><rect x="-2.4" y="-1.35" width="4.8" height="2.7" rx="1.3" transform="translate(6.3,-26.3) rotate(284)"/><rect x="-2.4" y="-1.35" width="4.8" height="2.7" rx="1.3" transform="translate(10.9,-24.7) rotate(294)"/><rect x="-2.4" y="-1.35" width="4.8" height="2.7" rx="1.3" transform="translate(15.2,-22.3) rotate(304)"/><rect x="-2.4" y="-1.35" width="4.8" height="2.7" rx="1.3" transform="translate(7.8,-32.6) rotate(284)"/><rect x="-2.4" y="-1.35" width="4.8" height="2.7" rx="1.3" transform="translate(13.5,-30.6) rotate(294)"/><rect x="-2.4" y="-1.35" width="4.8" height="2.7" rx="1.3" transform="translate(18.8,-27.7) rotate(304)"/><rect x="-2.4" y="-1.35" width="4.8" height="2.7" rx="1.3" transform="translate(8.5,-39.1) rotate(282)"/><rect x="-2.4" y="-1.35" width="4.8" height="2.7" rx="1.3" transform="translate(13.7,-37.6) rotate(290)"/><rect x="-2.4" y="-1.35" width="4.8" height="2.7" rx="1.3" transform="translate(18.6,-35.4) rotate(298)"/><rect x="-2.4" y="-1.35" width="4.8" height="2.7" rx="1.3" transform="translate(23.2,-32.6) rotate(305)"/><rect x="-2.4" y="-1.35" width="4.8" height="2.7" rx="1.3" transform="translate(9.7,-45.0) rotate(282)"/><rect x="-2.4" y="-1.35" width="4.8" height="2.7" rx="1.3" transform="translate(15.7,-43.2) rotate(290)"/><rect x="-2.4" y="-1.35" width="4.8" height="2.7" rx="1.3" transform="translate(21.4,-40.7) rotate(298)"/><rect x="-2.4" y="-1.35" width="4.8" height="2.7" rx="1.3" transform="translate(26.7,-37.5) rotate(305)"/><rect x="-2.4" y="-1.35" width="4.8" height="2.7" rx="1.3" transform="translate(22.3,-15.2) rotate(416)"/><rect x="-2.4" y="-1.35" width="4.8" height="2.7" rx="1.3" transform="translate(24.7,-11.0) rotate(426)"/><rect x="-2.4" y="-1.35" width="4.8" height="2.7" rx="1.3" transform="translate(26.2,-6.4) rotate(436)"/><rect x="-2.4" y="-1.35" width="4.8" height="2.7" rx="1.3" transform="translate(27.7,-18.9) rotate(416)"/><rect x="-2.4" y="-1.35" width="4.8" height="2.7" rx="1.3" transform="translate(30.6,-13.6) rotate(426)"/><rect x="-2.4" y="-1.35" width="4.8" height="2.7" rx="1.3" transform="translate(32.5,-7.9) rotate(436)"/><rect x="-2.4" y="-1.35" width="4.8" height="2.7" rx="1.3" transform="translate(32.5,-23.3) rotate(414)"/><rect x="-2.4" y="-1.35" width="4.8" height="2.7" rx="1.3" transform="translate(35.3,-18.7) rotate(422)"/><rect x="-2.4" y="-1.35" width="4.8" height="2.7" rx="1.3" transform="translate(37.5,-13.8) rotate(430)"/><rect x="-2.4" y="-1.35" width="4.8" height="2.7" rx="1.3" transform="translate(39.1,-8.6) rotate(438)"/><rect x="-2.4" y="-1.35" width="4.8" height="2.7" rx="1.3" transform="translate(37.4,-26.8) rotate(414)"/><rect x="-2.4" y="-1.35" width="4.8" height="2.7" rx="1.3" transform="translate(40.6,-21.5) rotate(422)"/><rect x="-2.4" y="-1.35" width="4.8" height="2.7" rx="1.3" transform="translate(43.2,-15.9) rotate(430)"/><rect x="-2.4" y="-1.35" width="4.8" height="2.7" rx="1.3" transform="translate(44.9,-9.9) rotate(438)"/></g><path d="M5.0,21.4 L11.0,46.7 L-0.7,48.0 L-0.3,22.0 Z" fill="#33363b" opacity="0.75"/><circle r="21" fill="#a6aab2" stroke="#33363b" stroke-width="1" vector-effect="non-scaling-stroke"/><circle cx="7.6" cy="2.4" r="1.7" fill="#dfe1e4" stroke="#33363b" stroke-width="0.7" vector-effect="non-scaling-stroke"/><circle cx="1.8" cy="7.8" r="1.7" fill="#dfe1e4" stroke="#33363b" stroke-width="0.7" vector-effect="non-scaling-stroke"/><circle cx="-5.9" cy="5.4" r="1.7" fill="#dfe1e4" stroke="#33363b" stroke-width="0.7" vector-effect="non-scaling-stroke"/><circle cx="-7.6" cy="-2.4" r="1.7" fill="#dfe1e4" stroke="#33363b" stroke-width="0.7" vector-effect="non-scaling-stroke"/><circle cx="-1.8" cy="-7.8" r="1.7" fill="#dfe1e4" stroke="#33363b" stroke-width="0.7" vector-effect="non-scaling-stroke"/><circle cx="5.9" cy="-5.4" r="1.7" fill="#dfe1e4" stroke="#33363b" stroke-width="0.7" vector-effect="non-scaling-stroke"/><circle cx="14.3" cy="4.4" r="1.7" fill="#dfe1e4" stroke="#33363b" stroke-width="0.7" vector-effect="non-scaling-stroke"/><circle cx="9.0" cy="12.0" r="1.7" fill="#dfe1e4" stroke="#33363b" stroke-width="0.7" vector-effect="non-scaling-stroke"/><circle cx="0.2" cy="15.0" r="1.7" fill="#dfe1e4" stroke="#33363b" stroke-width="0.7" vector-effect="non-scaling-stroke"/><circle cx="-8.6" cy="12.3" r="1.7" fill="#dfe1e4" stroke="#33363b" stroke-width="0.7" vector-effect="non-scaling-stroke"/><circle cx="-14.2" cy="4.8" r="1.7" fill="#dfe1e4" stroke="#33363b" stroke-width="0.7" vector-effect="non-scaling-stroke"/><circle cx="-14.3" cy="-4.4" r="1.7" fill="#dfe1e4" stroke="#33363b" stroke-width="0.7" vector-effect="non-scaling-stroke"/><circle cx="-9.0" cy="-12.0" r="1.7" fill="#dfe1e4" stroke="#33363b" stroke-width="0.7" vector-effect="non-scaling-stroke"/><circle cx="-0.2" cy="-15.0" r="1.7" fill="#dfe1e4" stroke="#33363b" stroke-width="0.7" vector-effect="non-scaling-stroke"/><circle cx="8.6" cy="-12.3" r="1.7" fill="#dfe1e4" stroke="#33363b" stroke-width="0.7" vector-effect="non-scaling-stroke"/><circle cx="14.2" cy="-4.8" r="1.7" fill="#dfe1e4" stroke="#33363b" stroke-width="0.7" vector-effect="non-scaling-stroke"/><g stroke="#33363b" stroke-width="1.1" vector-effect="non-scaling-stroke"><line x1="0" y1="0" x2="4.5" y2="0.0"/><line x1="0" y1="0" x2="2.3" y2="3.9"/><line x1="0" y1="0" x2="-2.2" y2="3.9"/><line x1="0" y1="0" x2="-4.5" y2="0.0"/><line x1="0" y1="0" x2="-2.3" y2="-3.9"/><line x1="0" y1="0" x2="2.3" y2="-3.9"/></g><g transform="rotate(52.5)"><rect x="44" y="-5" width="16" height="10" rx="5" fill="#80848c" stroke="#1f1f1f" stroke-width="0.9" vector-effect="non-scaling-stroke"/></g></g></g></g>
<clipPath id="clipBa"><rect x="40" y="840" width="900" height="272"/></clipPath>
<g clip-path="url(#clipBa)">
<g transform="translate(-6.4,426.8)"><g stroke="#1f1f1f" stroke-width="1.1" fill="none"><path d="M256.7,623.4 L280.2,729"/><path d="M269.4,623.4 L290.4,729"/><path d="M294.9,631 L303.8,695.3"/><path d="M309.5,597 L315.9,694.7"/></g><path d="M305,553.5 C309,550 312,549.5 316,549.5 L344,549.3 L344,561.9 L316,562.4 C313,562.4 311,563 308.5,566.6 Z" fill="#fff" stroke="#1f1f1f" stroke-width="1.1"/><ellipse cx="346.8" cy="555.6" rx="6.6" ry="17" fill="#fff" stroke="#1f1f1f" stroke-width="1.1"/><ellipse cx="344.8" cy="555.6" rx="4.5" ry="15.5" fill="none" stroke="#1f1f1f" stroke-width="0.9"/><path d="M266,506 L271.3,521.5 C276,534 279,548 281,558 C283.5,572 287.5,585 291.3,599.1 L310.1,597 C310.5,585 309.5,568 306.5,556 C303.5,543 298.5,530 293.4,517.9 L287,503 Z" fill="#fff" stroke="#1f1f1f" stroke-width="1.1"/><g stroke="#1f1f1f" stroke-width="1.1" fill="#fff" stroke-linejoin="round"><path d="M267,588 C271,584 277,579 283,575 L289.3,596.6 L270,592 Z"/><ellipse cx="278" cy="586.5" rx="5" ry="3.6" transform="rotate(-25 278 586.5)"/><path d="M285.6,591 L289.3,596.6 L290,599 L293,600.3 L308.4,598.4 L307.8,630.6 L307.2,631.2 L275.7,622.5 L268,590 Z" fill="#f6f6f6"/><path d="M290.5,601 C291.5,604 292.5,606.5 293.6,608.3 L305.3,607.1" fill="none"/><path d="M233,586.4 L268.3,588.5 L276.3,622.5 L254,618.2 C246,616 240,612 235.5,607 Z"/><path d="M257.1,589.2 C253,594 251,600 251.6,607 C252,611 253,615 254,618.2" fill="none"/><path d="M239.8,588 C236.5,593 235,600 235.5,607" fill="none"/><path d="M232.4,586.7 L236.1,586.4 L239.8,588 C236.5,593 235,600 235.5,607 L232.4,604.6 C230.5,599 230.5,592 232.4,586.7 Z"/><path d="M269.5,590 C265,596 264,610 267,620.7 L276.3,622.5 L276.3,590 Z" fill="#fff"/><path d="M265,604 L275.5,604.5 M265,607.5 L275.5,608 M265.2,611 L275,611.5 M265.6,614.3 L275,614.8 M266,592 L276,593 M265.5,595 L276,596" stroke-width="1.2"/><ellipse cx="312.5" cy="609.3" rx="4.2" ry="13.2"/><ellipse cx="311" cy="609.3" rx="2.8" ry="12" fill="none" stroke-width="0.8"/><path d="M238,612 L249,606.5 L253.4,619 L243,625.6 Z"/><path d="M241,610.5 L246,623" fill="none" stroke-width="0.8"/><path d="M257.1,621 L269,619.4 L270.7,634 L259.6,636.8 Z"/><path d="M258,626.5 L270,625" fill="none" stroke-width="0.8"/></g></g>
<g opacity="0.55"><path d="M186.7,1012.4 L186.7,1010.7 L186.8,1009.0 L186.9,1007.4 L187.2,1005.8 L187.5,1004.3 L187.9,1002.9 L188.4,1001.6 L188.9,1000.3 L189.5,999.1 L190.2,998.0 L193.6,993.1 L194.4,992.1 L195.2,991.2 L196.1,990.4 L197.1,989.7 L198.1,989.1 L199.2,988.7 L200.3,988.3 L201.4,988.1 L202.6,988.0 L203.8,988.1 L205.1,988.2 L206.3,988.5 L207.6,988.9 L208.9,989.4 L210.2,990.1 L211.4,990.8 L212.7,991.7 L214.0,992.7 L215.2,993.8 L216.4,994.9 L217.6,996.2 L218.7,997.6 L219.8,999.0 L220.9,1000.6 L221.9,1002.2 L222.9,1003.8 L223.8,1005.5 L224.6,1007.3 L225.4,1009.1 L226.1,1011.0 L226.8,1012.8 L227.3,1014.7 L227.8,1016.6 L228.2,1018.5 L228.5,1020.4 L228.8,1022.3 L229.0,1024.1 L229.0,1025.9 L229.0,1027.7 L229.0,1029.5 L228.8,1031.1 L228.5,1032.8 L228.2,1034.3 L227.8,1035.8 L227.3,1037.2 L226.7,1038.5 L226.1,1039.7 L225.4,1040.9 L224.6,1041.9 L223.8,1042.8 L222.9,1043.6 L221.9,1044.3 L217.4,1047.3 L216.4,1047.8 L215.4,1048.3 L214.4,1048.6 L213.2,1048.8 L212.1,1048.9 L210.9,1048.8 L209.8,1048.7 L208.6,1048.4 L207.3,1048.0 L206.1,1047.5 L204.9,1046.9 L203.6,1046.2 L202.4,1045.3 L201.2,1044.4 L200.0,1043.3 L198.9,1042.2 L197.7,1041.0 L196.6,1039.7 L195.6,1038.3 L194.5,1036.8 L193.6,1035.3 L192.6,1033.7 L191.8,1032.0 L191.0,1030.3 L190.2,1028.6 L189.5,1026.8 L188.9,1025.0 L188.4,1023.2 L187.9,1021.4 L187.5,1019.6 L187.2,1017.7 L186.9,1015.9 L186.8,1014.2 Z" fill="#fff" stroke="#1f1f1f" stroke-width="1.1"/><line x1="215.5" y1="1003.8" x2="219.9" y2="999.1" stroke="#1f1f1f" stroke-width="1"/><g transform="translate(205.5,1021.0) rotate(70.0) scale(0.5800,0.3400)"><circle r="50" fill="#c4c7cd" stroke="#1f1f1f" stroke-width="1.1" vector-effect="non-scaling-stroke"/><g fill="#6f737a"><rect x="-2.4" y="-1.35" width="4.8" height="2.7" rx="1.3" transform="translate(26.3,6.1) rotate(13)"/><rect x="-2.4" y="-1.35" width="4.8" height="2.7" rx="1.3" transform="translate(24.8,10.8) rotate(23)"/><rect x="-2.4" y="-1.35" width="4.8" height="2.7" rx="1.3" transform="translate(22.4,15.0) rotate(34)"/><rect x="-2.4" y="-1.35" width="4.8" height="2.7" rx="1.3" transform="translate(32.6,7.6) rotate(13)"/><rect x="-2.4" y="-1.35" width="4.8" height="2.7" rx="1.3" transform="translate(30.7,13.3) rotate(23)"/><rect x="-2.4" y="-1.35" width="4.8" height="2.7" rx="1.3" transform="translate(27.8,18.6) rotate(34)"/><rect x="-2.4" y="-1.35" width="4.8" height="2.7" rx="1.3" transform="translate(39.1,8.2) rotate(12)"/><rect x="-2.4" y="-1.35" width="4.8" height="2.7" rx="1.3" transform="translate(37.7,13.4) rotate(20)"/><rect x="-2.4" y="-1.35" width="4.8" height="2.7" rx="1.3" transform="translate(35.5,18.4) rotate(27)"/><rect x="-2.4" y="-1.35" width="4.8" height="2.7" rx="1.3" transform="translate(32.7,23.0) rotate(35)"/><rect x="-2.4" y="-1.35" width="4.8" height="2.7" rx="1.3" transform="translate(45.0,9.5) rotate(12)"/><rect x="-2.4" y="-1.35" width="4.8" height="2.7" rx="1.3" transform="translate(43.3,15.4) rotate(20)"/><rect x="-2.4" y="-1.35" width="4.8" height="2.7" rx="1.3" transform="translate(40.9,21.1) rotate(27)"/><rect x="-2.4" y="-1.35" width="4.8" height="2.7" rx="1.3" transform="translate(37.6,26.5) rotate(35)"/><rect x="-2.4" y="-1.35" width="4.8" height="2.7" rx="1.3" transform="translate(-6.8,26.1) rotate(105)"/><rect x="-2.4" y="-1.35" width="4.8" height="2.7" rx="1.3" transform="translate(-11.4,24.5) rotate(115)"/><rect x="-2.4" y="-1.35" width="4.8" height="2.7" rx="1.3" transform="translate(-15.6,22.1) rotate(125)"/><rect x="-2.4" y="-1.35" width="4.8" height="2.7" rx="1.3" transform="translate(-8.4,32.4) rotate(105)"/><rect x="-2.4" y="-1.35" width="4.8" height="2.7" rx="1.3" transform="translate(-14.1,30.4) rotate(115)"/><rect x="-2.4" y="-1.35" width="4.8" height="2.7" rx="1.3" transform="translate(-19.3,27.4) rotate(125)"/><rect x="-2.4" y="-1.35" width="4.8" height="2.7" rx="1.3" transform="translate(-9.2,38.9) rotate(103)"/><rect x="-2.4" y="-1.35" width="4.8" height="2.7" rx="1.3" transform="translate(-14.3,37.3) rotate(111)"/><rect x="-2.4" y="-1.35" width="4.8" height="2.7" rx="1.3" transform="translate(-19.2,35.1) rotate(119)"/><rect x="-2.4" y="-1.35" width="4.8" height="2.7" rx="1.3" transform="translate(-23.8,32.2) rotate(126)"/><rect x="-2.4" y="-1.35" width="4.8" height="2.7" rx="1.3" transform="translate(-10.5,44.8) rotate(103)"/><rect x="-2.4" y="-1.35" width="4.8" height="2.7" rx="1.3" transform="translate(-16.5,42.9) rotate(111)"/><rect x="-2.4" y="-1.35" width="4.8" height="2.7" rx="1.3" transform="translate(-22.1,40.3) rotate(119)"/><rect x="-2.4" y="-1.35" width="4.8" height="2.7" rx="1.3" transform="translate(-27.4,37.0) rotate(126)"/><rect x="-2.4" y="-1.35" width="4.8" height="2.7" rx="1.3" transform="translate(-23.5,13.2) rotate(241)"/><rect x="-2.4" y="-1.35" width="4.8" height="2.7" rx="1.3" transform="translate(-25.5,8.8) rotate(251)"/><rect x="-2.4" y="-1.35" width="4.8" height="2.7" rx="1.3" transform="translate(-26.7,4.1) rotate(261)"/><rect x="-2.4" y="-1.35" width="4.8" height="2.7" rx="1.3" transform="translate(-29.2,16.4) rotate(241)"/><rect x="-2.4" y="-1.35" width="4.8" height="2.7" rx="1.3" transform="translate(-31.7,10.9) rotate(251)"/><rect x="-2.4" y="-1.35" width="4.8" height="2.7" rx="1.3" transform="translate(-33.1,5.0) rotate(261)"/><rect x="-2.4" y="-1.35" width="4.8" height="2.7" rx="1.3" transform="translate(-34.4,20.4) rotate(239)"/><rect x="-2.4" y="-1.35" width="4.8" height="2.7" rx="1.3" transform="translate(-36.9,15.5) rotate(247)"/><rect x="-2.4" y="-1.35" width="4.8" height="2.7" rx="1.3" transform="translate(-38.6,10.4) rotate(255)"/><rect x="-2.4" y="-1.35" width="4.8" height="2.7" rx="1.3" transform="translate(-39.7,5.1) rotate(263)"/><rect x="-2.4" y="-1.35" width="4.8" height="2.7" rx="1.3" transform="translate(-39.6,23.4) rotate(239)"/><rect x="-2.4" y="-1.35" width="4.8" height="2.7" rx="1.3" transform="translate(-42.4,17.9) rotate(247)"/><rect x="-2.4" y="-1.35" width="4.8" height="2.7" rx="1.3" transform="translate(-44.4,12.0) rotate(255)"/><rect x="-2.4" y="-1.35" width="4.8" height="2.7" rx="1.3" transform="translate(-45.6,5.9) rotate(263)"/><rect x="-2.4" y="-1.35" width="4.8" height="2.7" rx="1.3" transform="translate(-26.2,-6.6) rotate(194)"/><rect x="-2.4" y="-1.35" width="4.8" height="2.7" rx="1.3" transform="translate(-24.6,-11.2) rotate(204)"/><rect x="-2.4" y="-1.35" width="4.8" height="2.7" rx="1.3" transform="translate(-22.2,-15.4) rotate(215)"/><rect x="-2.4" y="-1.35" width="4.8" height="2.7" rx="1.3" transform="translate(-32.5,-8.2) rotate(194)"/><rect x="-2.4" y="-1.35" width="4.8" height="2.7" rx="1.3" transform="translate(-30.5,-13.8) rotate(204)"/><rect x="-2.4" y="-1.35" width="4.8" height="2.7" rx="1.3" transform="translate(-27.5,-19.1) rotate(215)"/><rect x="-2.4" y="-1.35" width="4.8" height="2.7" rx="1.3" transform="translate(-39.0,-8.9) rotate(193)"/><rect x="-2.4" y="-1.35" width="4.8" height="2.7" rx="1.3" transform="translate(-37.5,-14.0) rotate(201)"/><rect x="-2.4" y="-1.35" width="4.8" height="2.7" rx="1.3" transform="translate(-35.2,-19.0) rotate(208)"/><rect x="-2.4" y="-1.35" width="4.8" height="2.7" rx="1.3" transform="translate(-32.3,-23.5) rotate(216)"/><rect x="-2.4" y="-1.35" width="4.8" height="2.7" rx="1.3" transform="translate(-44.9,-10.2) rotate(193)"/><rect x="-2.4" y="-1.35" width="4.8" height="2.7" rx="1.3" transform="translate(-43.1,-16.1) rotate(201)"/><rect x="-2.4" y="-1.35" width="4.8" height="2.7" rx="1.3" transform="translate(-40.5,-21.8) rotate(208)"/><rect x="-2.4" y="-1.35" width="4.8" height="2.7" rx="1.3" transform="translate(-37.2,-27.1) rotate(216)"/><rect x="-2.4" y="-1.35" width="4.8" height="2.7" rx="1.3" transform="translate(-13.3,-23.5) rotate(331)"/><rect x="-2.4" y="-1.35" width="4.8" height="2.7" rx="1.3" transform="translate(-8.8,-25.5) rotate(341)"/><rect x="-2.4" y="-1.35" width="4.8" height="2.7" rx="1.3" transform="translate(-4.1,-26.7) rotate(351)"/><rect x="-2.4" y="-1.35" width="4.8" height="2.7" rx="1.3" transform="translate(-16.5,-29.2) rotate(331)"/><rect x="-2.4" y="-1.35" width="4.8" height="2.7" rx="1.3" transform="translate(-11.0,-31.7) rotate(341)"/><rect x="-2.4" y="-1.35" width="4.8" height="2.7" rx="1.3" transform="translate(-5.1,-33.1) rotate(351)"/><rect x="-2.4" y="-1.35" width="4.8" height="2.7" rx="1.3" transform="translate(-20.4,-34.4) rotate(329)"/><rect x="-2.4" y="-1.35" width="4.8" height="2.7" rx="1.3" transform="translate(-15.6,-36.8) rotate(337)"/><rect x="-2.4" y="-1.35" width="4.8" height="2.7" rx="1.3" transform="translate(-10.5,-38.6) rotate(345)"/><rect x="-2.4" y="-1.35" width="4.8" height="2.7" rx="1.3" transform="translate(-5.2,-39.7) rotate(353)"/><rect x="-2.4" y="-1.35" width="4.8" height="2.7" rx="1.3" transform="translate(-23.5,-39.5) rotate(329)"/><rect x="-2.4" y="-1.35" width="4.8" height="2.7" rx="1.3" transform="translate(-18.0,-42.3) rotate(337)"/><rect x="-2.4" y="-1.35" width="4.8" height="2.7" rx="1.3" transform="translate(-12.1,-44.4) rotate(345)"/><rect x="-2.4" y="-1.35" width="4.8" height="2.7" rx="1.3" transform="translate(-6.0,-45.6) rotate(353)"/><rect x="-2.4" y="-1.35" width="4.8" height="2.7" rx="1.3" transform="translate(3.9,-26.7) rotate(278)"/><rect x="-2.4" y="-1.35" width="4.8" height="2.7" rx="1.3" transform="translate(8.7,-25.6) rotate(289)"/><rect x="-2.4" y="-1.35" width="4.8" height="2.7" rx="1.3" transform="translate(13.1,-23.6) rotate(299)"/><rect x="-2.4" y="-1.35" width="4.8" height="2.7" rx="1.3" transform="translate(4.9,-33.1) rotate(278)"/><rect x="-2.4" y="-1.35" width="4.8" height="2.7" rx="1.3" transform="translate(10.8,-31.7) rotate(289)"/><rect x="-2.4" y="-1.35" width="4.8" height="2.7" rx="1.3" transform="translate(16.3,-29.3) rotate(299)"/><rect x="-2.4" y="-1.35" width="4.8" height="2.7" rx="1.3" transform="translate(4.9,-39.7) rotate(277)"/><rect x="-2.4" y="-1.35" width="4.8" height="2.7" rx="1.3" transform="translate(10.3,-38.7) rotate(285)"/><rect x="-2.4" y="-1.35" width="4.8" height="2.7" rx="1.3" transform="translate(15.4,-36.9) rotate(293)"/><rect x="-2.4" y="-1.35" width="4.8" height="2.7" rx="1.3" transform="translate(20.2,-34.5) rotate(300)"/><rect x="-2.4" y="-1.35" width="4.8" height="2.7" rx="1.3" transform="translate(5.7,-45.6) rotate(277)"/><rect x="-2.4" y="-1.35" width="4.8" height="2.7" rx="1.3" transform="translate(11.8,-44.5) rotate(285)"/><rect x="-2.4" y="-1.35" width="4.8" height="2.7" rx="1.3" transform="translate(17.7,-42.5) rotate(293)"/><rect x="-2.4" y="-1.35" width="4.8" height="2.7" rx="1.3" transform="translate(23.2,-39.7) rotate(300)"/><rect x="-2.4" y="-1.35" width="4.8" height="2.7" rx="1.3" transform="translate(22.6,-14.7) rotate(417)"/><rect x="-2.4" y="-1.35" width="4.8" height="2.7" rx="1.3" transform="translate(24.9,-10.5) rotate(427)"/><rect x="-2.4" y="-1.35" width="4.8" height="2.7" rx="1.3" transform="translate(26.4,-5.8) rotate(438)"/><rect x="-2.4" y="-1.35" width="4.8" height="2.7" rx="1.3" transform="translate(28.1,-18.3) rotate(417)"/><rect x="-2.4" y="-1.35" width="4.8" height="2.7" rx="1.3" transform="translate(30.9,-13.0) rotate(427)"/><rect x="-2.4" y="-1.35" width="4.8" height="2.7" rx="1.3" transform="translate(32.7,-7.2) rotate(438)"/><rect x="-2.4" y="-1.35" width="4.8" height="2.7" rx="1.3" transform="translate(33.0,-22.6) rotate(416)"/><rect x="-2.4" y="-1.35" width="4.8" height="2.7" rx="1.3" transform="translate(35.8,-17.9) rotate(423)"/><rect x="-2.4" y="-1.35" width="4.8" height="2.7" rx="1.3" transform="translate(37.8,-13.0) rotate(431)"/><rect x="-2.4" y="-1.35" width="4.8" height="2.7" rx="1.3" transform="translate(39.2,-7.7) rotate(439)"/><rect x="-2.4" y="-1.35" width="4.8" height="2.7" rx="1.3" transform="translate(38.0,-26.0) rotate(416)"/><rect x="-2.4" y="-1.35" width="4.8" height="2.7" rx="1.3" transform="translate(41.1,-20.6) rotate(423)"/><rect x="-2.4" y="-1.35" width="4.8" height="2.7" rx="1.3" transform="translate(43.5,-14.9) rotate(431)"/><rect x="-2.4" y="-1.35" width="4.8" height="2.7" rx="1.3" transform="translate(45.1,-8.9) rotate(439)"/></g><path d="M12.0,18.4 L26.3,40.2 L15.8,45.3 L7.2,20.8 Z" fill="#6f737a" opacity="0.75"/><circle r="21" fill="#a6aab2" stroke="#6f737a" stroke-width="1" vector-effect="non-scaling-stroke"/><circle cx="7.6" cy="2.4" r="1.7" fill="#dfe1e4" stroke="#6f737a" stroke-width="0.7" vector-effect="non-scaling-stroke"/><circle cx="1.8" cy="7.8" r="1.7" fill="#dfe1e4" stroke="#6f737a" stroke-width="0.7" vector-effect="non-scaling-stroke"/><circle cx="-5.9" cy="5.4" r="1.7" fill="#dfe1e4" stroke="#6f737a" stroke-width="0.7" vector-effect="non-scaling-stroke"/><circle cx="-7.6" cy="-2.4" r="1.7" fill="#dfe1e4" stroke="#6f737a" stroke-width="0.7" vector-effect="non-scaling-stroke"/><circle cx="-1.8" cy="-7.8" r="1.7" fill="#dfe1e4" stroke="#6f737a" stroke-width="0.7" vector-effect="non-scaling-stroke"/><circle cx="5.9" cy="-5.4" r="1.7" fill="#dfe1e4" stroke="#6f737a" stroke-width="0.7" vector-effect="non-scaling-stroke"/><circle cx="14.3" cy="4.4" r="1.7" fill="#dfe1e4" stroke="#6f737a" stroke-width="0.7" vector-effect="non-scaling-stroke"/><circle cx="9.0" cy="12.0" r="1.7" fill="#dfe1e4" stroke="#6f737a" stroke-width="0.7" vector-effect="non-scaling-stroke"/><circle cx="0.2" cy="15.0" r="1.7" fill="#dfe1e4" stroke="#6f737a" stroke-width="0.7" vector-effect="non-scaling-stroke"/><circle cx="-8.6" cy="12.3" r="1.7" fill="#dfe1e4" stroke="#6f737a" stroke-width="0.7" vector-effect="non-scaling-stroke"/><circle cx="-14.2" cy="4.8" r="1.7" fill="#dfe1e4" stroke="#6f737a" stroke-width="0.7" vector-effect="non-scaling-stroke"/><circle cx="-14.3" cy="-4.4" r="1.7" fill="#dfe1e4" stroke="#6f737a" stroke-width="0.7" vector-effect="non-scaling-stroke"/><circle cx="-9.0" cy="-12.0" r="1.7" fill="#dfe1e4" stroke="#6f737a" stroke-width="0.7" vector-effect="non-scaling-stroke"/><circle cx="-0.2" cy="-15.0" r="1.7" fill="#dfe1e4" stroke="#6f737a" stroke-width="0.7" vector-effect="non-scaling-stroke"/><circle cx="8.6" cy="-12.3" r="1.7" fill="#dfe1e4" stroke="#6f737a" stroke-width="0.7" vector-effect="non-scaling-stroke"/><circle cx="14.2" cy="-4.8" r="1.7" fill="#dfe1e4" stroke="#6f737a" stroke-width="0.7" vector-effect="non-scaling-stroke"/><g stroke="#6f737a" stroke-width="1.1" vector-effect="non-scaling-stroke"><line x1="0" y1="0" x2="4.5" y2="0.0"/><line x1="0" y1="0" x2="2.3" y2="3.9"/><line x1="0" y1="0" x2="-2.2" y2="3.9"/><line x1="0" y1="0" x2="-4.5" y2="0.0"/><line x1="0" y1="0" x2="-2.3" y2="-3.9"/><line x1="0" y1="0" x2="2.3" y2="-3.9"/></g></g></g>
<g opacity="1.0"><path d="M165.4,1030.0 L165.5,1029.0 L165.7,1028.1 L168.4,1020.4 L168.7,1019.5 L169.2,1018.7 L169.9,1018.0 L170.7,1017.3 L171.6,1016.8 L172.7,1016.3 L173.9,1015.9 L175.2,1015.6 L176.6,1015.4 L178.2,1015.3 L179.8,1015.2 L181.6,1015.3 L183.4,1015.5 L185.4,1015.7 L187.4,1016.1 L189.4,1016.5 L191.6,1017.0 L193.8,1017.6 L196.0,1018.3 L198.2,1019.1 L200.5,1019.9 L202.8,1020.9 L205.1,1021.9 L207.4,1022.9 L209.6,1024.0 L211.8,1025.2 L214.0,1026.4 L216.2,1027.7 L218.3,1029.0 L220.3,1030.3 L222.2,1031.7 L224.1,1033.1 L225.9,1034.5 L227.5,1035.9 L229.1,1037.3 L230.6,1038.8 L231.9,1040.2 L233.1,1041.6 L234.2,1043.0 L235.2,1044.3 L236.0,1045.6 L236.7,1046.9 L237.2,1048.2 L237.6,1049.4 L237.8,1050.5 L237.9,1051.6 L237.9,1052.6 L237.6,1053.6 L237.3,1054.5 L236.8,1055.3 L231.5,1061.6 L230.9,1062.3 L230.1,1062.9 L229.2,1063.5 L228.2,1063.9 L227.0,1064.3 L225.8,1064.6 L224.4,1064.8 L222.9,1064.9 L221.3,1064.9 L219.6,1064.9 L217.8,1064.7 L216.0,1064.5 L214.0,1064.1 L212.0,1063.7 L210.0,1063.2 L207.9,1062.6 L205.7,1062.0 L203.6,1061.2 L201.4,1060.4 L199.2,1059.5 L197.0,1058.6 L194.8,1057.5 L192.6,1056.5 L190.5,1055.3 L188.4,1054.2 L186.3,1053.0 L184.3,1051.7 L182.4,1050.4 L180.5,1049.1 L178.7,1047.8 L177.0,1046.4 L175.4,1045.0 L173.9,1043.7 L172.5,1042.3 L171.2,1040.9 L170.0,1039.6 L169.0,1038.3 L168.1,1037.0 L167.3,1035.7 L166.6,1034.5 L166.1,1033.3 L165.7,1032.1 L165.5,1031.0 Z" fill="#fff" stroke="#1f1f1f" stroke-width="1.1"/><line x1="203.8" y1="1030.8" x2="208.0" y2="1023.2" stroke="#1f1f1f" stroke-width="1"/><g transform="translate(199.0,1044.0) rotate(27.0) scale(0.7400,0.2800)"><circle r="50" fill="#8f939c" stroke="#1f1f1f" stroke-width="1.1" vector-effect="non-scaling-stroke"/><g fill="#33363b"><rect x="-2.4" y="-1.35" width="4.8" height="2.7" rx="1.3" transform="translate(26.1,6.8) rotate(15)"/><rect x="-2.4" y="-1.35" width="4.8" height="2.7" rx="1.3" transform="translate(24.5,11.3) rotate(25)"/><rect x="-2.4" y="-1.35" width="4.8" height="2.7" rx="1.3" transform="translate(22.1,15.6) rotate(35)"/><rect x="-2.4" y="-1.35" width="4.8" height="2.7" rx="1.3" transform="translate(32.4,8.4) rotate(15)"/><rect x="-2.4" y="-1.35" width="4.8" height="2.7" rx="1.3" transform="translate(30.4,14.1) rotate(25)"/><rect x="-2.4" y="-1.35" width="4.8" height="2.7" rx="1.3" transform="translate(27.4,19.3) rotate(35)"/><rect x="-2.4" y="-1.35" width="4.8" height="2.7" rx="1.3" transform="translate(38.9,9.1) rotate(13)"/><rect x="-2.4" y="-1.35" width="4.8" height="2.7" rx="1.3" transform="translate(37.4,14.3) rotate(21)"/><rect x="-2.4" y="-1.35" width="4.8" height="2.7" rx="1.3" transform="translate(35.1,19.2) rotate(29)"/><rect x="-2.4" y="-1.35" width="4.8" height="2.7" rx="1.3" transform="translate(32.2,23.8) rotate(36)"/><rect x="-2.4" y="-1.35" width="4.8" height="2.7" rx="1.3" transform="translate(44.8,10.5) rotate(13)"/><rect x="-2.4" y="-1.35" width="4.8" height="2.7" rx="1.3" transform="translate(43.0,16.5) rotate(21)"/><rect x="-2.4" y="-1.35" width="4.8" height="2.7" rx="1.3" transform="translate(40.3,22.1) rotate(29)"/><rect x="-2.4" y="-1.35" width="4.8" height="2.7" rx="1.3" transform="translate(37.0,27.3) rotate(36)"/><rect x="-2.4" y="-1.35" width="4.8" height="2.7" rx="1.3" transform="translate(13.6,23.3) rotate(150)"/><rect x="-2.4" y="-1.35" width="4.8" height="2.7" rx="1.3" transform="translate(9.2,25.4) rotate(160)"/><rect x="-2.4" y="-1.35" width="4.8" height="2.7" rx="1.3" transform="translate(4.5,26.6) rotate(170)"/><rect x="-2.4" y="-1.35" width="4.8" height="2.7" rx="1.3" transform="translate(16.9,28.9) rotate(150)"/><rect x="-2.4" y="-1.35" width="4.8" height="2.7" rx="1.3" transform="translate(11.4,31.5) rotate(160)"/><rect x="-2.4" y="-1.35" width="4.8" height="2.7" rx="1.3" transform="translate(5.6,33.0) rotate(170)"/><rect x="-2.4" y="-1.35" width="4.8" height="2.7" rx="1.3" transform="translate(20.9,34.1) rotate(148)"/><rect x="-2.4" y="-1.35" width="4.8" height="2.7" rx="1.3" transform="translate(16.1,36.6) rotate(156)"/><rect x="-2.4" y="-1.35" width="4.8" height="2.7" rx="1.3" transform="translate(11.1,38.4) rotate(164)"/><rect x="-2.4" y="-1.35" width="4.8" height="2.7" rx="1.3" transform="translate(5.8,39.6) rotate(172)"/><rect x="-2.4" y="-1.35" width="4.8" height="2.7" rx="1.3" transform="translate(24.1,39.2) rotate(148)"/><rect x="-2.4" y="-1.35" width="4.8" height="2.7" rx="1.3" transform="translate(18.6,42.1) rotate(156)"/><rect x="-2.4" y="-1.35" width="4.8" height="2.7" rx="1.3" transform="translate(12.7,44.2) rotate(164)"/><rect x="-2.4" y="-1.35" width="4.8" height="2.7" rx="1.3" transform="translate(6.6,45.5) rotate(172)"/><rect x="-2.4" y="-1.35" width="4.8" height="2.7" rx="1.3" transform="translate(-5.6,26.4) rotate(102)"/><rect x="-2.4" y="-1.35" width="4.8" height="2.7" rx="1.3" transform="translate(-10.3,25.0) rotate(112)"/><rect x="-2.4" y="-1.35" width="4.8" height="2.7" rx="1.3" transform="translate(-14.6,22.7) rotate(123)"/><rect x="-2.4" y="-1.35" width="4.8" height="2.7" rx="1.3" transform="translate(-7.0,32.8) rotate(102)"/><rect x="-2.4" y="-1.35" width="4.8" height="2.7" rx="1.3" transform="translate(-12.8,31.0) rotate(112)"/><rect x="-2.4" y="-1.35" width="4.8" height="2.7" rx="1.3" transform="translate(-18.1,28.2) rotate(123)"/><rect x="-2.4" y="-1.35" width="4.8" height="2.7" rx="1.3" transform="translate(-7.5,39.3) rotate(101)"/><rect x="-2.4" y="-1.35" width="4.8" height="2.7" rx="1.3" transform="translate(-12.7,37.9) rotate(109)"/><rect x="-2.4" y="-1.35" width="4.8" height="2.7" rx="1.3" transform="translate(-17.7,35.9) rotate(116)"/><rect x="-2.4" y="-1.35" width="4.8" height="2.7" rx="1.3" transform="translate(-22.4,33.2) rotate(124)"/><rect x="-2.4" y="-1.35" width="4.8" height="2.7" rx="1.3" transform="translate(-8.6,45.2) rotate(101)"/><rect x="-2.4" y="-1.35" width="4.8" height="2.7" rx="1.3" transform="translate(-14.6,43.6) rotate(109)"/><rect x="-2.4" y="-1.35" width="4.8" height="2.7" rx="1.3" transform="translate(-20.3,41.3) rotate(116)"/><rect x="-2.4" y="-1.35" width="4.8" height="2.7" rx="1.3" transform="translate(-25.7,38.1) rotate(124)"/><rect x="-2.4" y="-1.35" width="4.8" height="2.7" rx="1.3" transform="translate(-22.2,15.4) rotate(235)"/><rect x="-2.4" y="-1.35" width="4.8" height="2.7" rx="1.3" transform="translate(-24.6,11.2) rotate(246)"/><rect x="-2.4" y="-1.35" width="4.8" height="2.7" rx="1.3" transform="translate(-26.2,6.6) rotate(256)"/><rect x="-2.4" y="-1.35" width="4.8" height="2.7" rx="1.3" transform="translate(-27.5,19.1) rotate(235)"/><rect x="-2.4" y="-1.35" width="4.8" height="2.7" rx="1.3" transform="translate(-30.5,13.8) rotate(246)"/><rect x="-2.4" y="-1.35" width="4.8" height="2.7" rx="1.3" transform="translate(-32.5,8.1) rotate(256)"/><rect x="-2.4" y="-1.35" width="4.8" height="2.7" rx="1.3" transform="translate(-32.3,23.5) rotate(234)"/><rect x="-2.4" y="-1.35" width="4.8" height="2.7" rx="1.3" transform="translate(-35.2,19.0) rotate(242)"/><rect x="-2.4" y="-1.35" width="4.8" height="2.7" rx="1.3" transform="translate(-37.5,14.0) rotate(249)"/><rect x="-2.4" y="-1.35" width="4.8" height="2.7" rx="1.3" transform="translate(-39.0,8.8) rotate(257)"/><rect x="-2.4" y="-1.35" width="4.8" height="2.7" rx="1.3" transform="translate(-37.2,27.1) rotate(234)"/><rect x="-2.4" y="-1.35" width="4.8" height="2.7" rx="1.3" transform="translate(-40.5,21.8) rotate(242)"/><rect x="-2.4" y="-1.35" width="4.8" height="2.7" rx="1.3" transform="translate(-43.1,16.1) rotate(249)"/><rect x="-2.4" y="-1.35" width="4.8" height="2.7" rx="1.3" transform="translate(-44.9,10.2) rotate(257)"/><rect x="-2.4" y="-1.35" width="4.8" height="2.7" rx="1.3" transform="translate(-26.7,-3.8) rotate(188)"/><rect x="-2.4" y="-1.35" width="4.8" height="2.7" rx="1.3" transform="translate(-25.6,-8.6) rotate(199)"/><rect x="-2.4" y="-1.35" width="4.8" height="2.7" rx="1.3" transform="translate(-23.7,-13.0) rotate(209)"/><rect x="-2.4" y="-1.35" width="4.8" height="2.7" rx="1.3" transform="translate(-33.2,-4.8) rotate(188)"/><rect x="-2.4" y="-1.35" width="4.8" height="2.7" rx="1.3" transform="translate(-31.8,-10.6) rotate(199)"/><rect x="-2.4" y="-1.35" width="4.8" height="2.7" rx="1.3" transform="translate(-29.3,-16.2) rotate(209)"/><rect x="-2.4" y="-1.35" width="4.8" height="2.7" rx="1.3" transform="translate(-39.7,-4.8) rotate(187)"/><rect x="-2.4" y="-1.35" width="4.8" height="2.7" rx="1.3" transform="translate(-38.7,-10.1) rotate(195)"/><rect x="-2.4" y="-1.35" width="4.8" height="2.7" rx="1.3" transform="translate(-37.0,-15.2) rotate(202)"/><rect x="-2.4" y="-1.35" width="4.8" height="2.7" rx="1.3" transform="translate(-34.6,-20.1) rotate(210)"/><rect x="-2.4" y="-1.35" width="4.8" height="2.7" rx="1.3" transform="translate(-45.7,-5.5) rotate(187)"/><rect x="-2.4" y="-1.35" width="4.8" height="2.7" rx="1.3" transform="translate(-44.5,-11.6) rotate(195)"/><rect x="-2.4" y="-1.35" width="4.8" height="2.7" rx="1.3" transform="translate(-42.5,-17.5) rotate(202)"/><rect x="-2.4" y="-1.35" width="4.8" height="2.7" rx="1.3" transform="translate(-39.8,-23.1) rotate(210)"/><rect x="-2.4" y="-1.35" width="4.8" height="2.7" rx="1.3" transform="translate(-14.1,-23.0) rotate(328)"/><rect x="-2.4" y="-1.35" width="4.8" height="2.7" rx="1.3" transform="translate(-9.8,-25.2) rotate(339)"/><rect x="-2.4" y="-1.35" width="4.8" height="2.7" rx="1.3" transform="translate(-5.1,-26.5) rotate(349)"/><rect x="-2.4" y="-1.35" width="4.8" height="2.7" rx="1.3" transform="translate(-17.5,-28.6) rotate(328)"/><rect x="-2.4" y="-1.35" width="4.8" height="2.7" rx="1.3" transform="translate(-12.1,-31.2) rotate(339)"/><rect x="-2.4" y="-1.35" width="4.8" height="2.7" rx="1.3" transform="translate(-6.3,-32.9) rotate(349)"/><rect x="-2.4" y="-1.35" width="4.8" height="2.7" rx="1.3" transform="translate(-21.7,-33.6) rotate(327)"/><rect x="-2.4" y="-1.35" width="4.8" height="2.7" rx="1.3" transform="translate(-17.0,-36.2) rotate(335)"/><rect x="-2.4" y="-1.35" width="4.8" height="2.7" rx="1.3" transform="translate(-11.9,-38.2) rotate(343)"/><rect x="-2.4" y="-1.35" width="4.8" height="2.7" rx="1.3" transform="translate(-6.7,-39.4) rotate(350)"/><rect x="-2.4" y="-1.35" width="4.8" height="2.7" rx="1.3" transform="translate(-24.9,-38.7) rotate(327)"/><rect x="-2.4" y="-1.35" width="4.8" height="2.7" rx="1.3" transform="translate(-19.5,-41.7) rotate(335)"/><rect x="-2.4" y="-1.35" width="4.8" height="2.7" rx="1.3" transform="translate(-13.7,-43.9) rotate(343)"/><rect x="-2.4" y="-1.35" width="4.8" height="2.7" rx="1.3" transform="translate(-7.6,-45.4) rotate(350)"/><rect x="-2.4" y="-1.35" width="4.8" height="2.7" rx="1.3" transform="translate(5.6,-26.4) rotate(282)"/><rect x="-2.4" y="-1.35" width="4.8" height="2.7" rx="1.3" transform="translate(10.2,-25.0) rotate(292)"/><rect x="-2.4" y="-1.35" width="4.8" height="2.7" rx="1.3" transform="translate(14.5,-22.7) rotate(303)"/><rect x="-2.4" y="-1.35" width="4.8" height="2.7" rx="1.3" transform="translate(6.9,-32.8) rotate(282)"/><rect x="-2.4" y="-1.35" width="4.8" height="2.7" rx="1.3" transform="translate(12.7,-31.0) rotate(292)"/><rect x="-2.4" y="-1.35" width="4.8" height="2.7" rx="1.3" transform="translate(18.0,-28.2) rotate(303)"/><rect x="-2.4" y="-1.35" width="4.8" height="2.7" rx="1.3" transform="translate(7.4,-39.3) rotate(281)"/><rect x="-2.4" y="-1.35" width="4.8" height="2.7" rx="1.3" transform="translate(12.6,-38.0) rotate(288)"/><rect x="-2.4" y="-1.35" width="4.8" height="2.7" rx="1.3" transform="translate(17.6,-35.9) rotate(296)"/><rect x="-2.4" y="-1.35" width="4.8" height="2.7" rx="1.3" transform="translate(22.3,-33.2) rotate(304)"/><rect x="-2.4" y="-1.35" width="4.8" height="2.7" rx="1.3" transform="translate(8.5,-45.2) rotate(281)"/><rect x="-2.4" y="-1.35" width="4.8" height="2.7" rx="1.3" transform="translate(14.5,-43.7) rotate(288)"/><rect x="-2.4" y="-1.35" width="4.8" height="2.7" rx="1.3" transform="translate(20.3,-41.3) rotate(296)"/><rect x="-2.4" y="-1.35" width="4.8" height="2.7" rx="1.3" transform="translate(25.6,-38.2) rotate(304)"/><rect x="-2.4" y="-1.35" width="4.8" height="2.7" rx="1.3" transform="translate(23.2,-13.8) rotate(419)"/><rect x="-2.4" y="-1.35" width="4.8" height="2.7" rx="1.3" transform="translate(25.3,-9.4) rotate(430)"/><rect x="-2.4" y="-1.35" width="4.8" height="2.7" rx="1.3" transform="translate(26.6,-4.7) rotate(440)"/><rect x="-2.4" y="-1.35" width="4.8" height="2.7" rx="1.3" transform="translate(28.8,-17.1) rotate(419)"/><rect x="-2.4" y="-1.35" width="4.8" height="2.7" rx="1.3" transform="translate(31.4,-11.7) rotate(430)"/><rect x="-2.4" y="-1.35" width="4.8" height="2.7" rx="1.3" transform="translate(33.0,-5.9) rotate(440)"/><rect x="-2.4" y="-1.35" width="4.8" height="2.7" rx="1.3" transform="translate(33.9,-21.2) rotate(418)"/><rect x="-2.4" y="-1.35" width="4.8" height="2.7" rx="1.3" transform="translate(36.5,-16.5) rotate(426)"/><rect x="-2.4" y="-1.35" width="4.8" height="2.7" rx="1.3" transform="translate(38.3,-11.4) rotate(433)"/><rect x="-2.4" y="-1.35" width="4.8" height="2.7" rx="1.3" transform="translate(39.5,-6.1) rotate(441)"/><rect x="-2.4" y="-1.35" width="4.8" height="2.7" rx="1.3" transform="translate(39.0,-24.4) rotate(418)"/><rect x="-2.4" y="-1.35" width="4.8" height="2.7" rx="1.3" transform="translate(41.9,-18.9) rotate(426)"/><rect x="-2.4" y="-1.35" width="4.8" height="2.7" rx="1.3" transform="translate(44.1,-13.1) rotate(433)"/><rect x="-2.4" y="-1.35" width="4.8" height="2.7" rx="1.3" transform="translate(45.5,-7.0) rotate(441)"/></g><path d="M2.2,21.9 L4.9,47.7 L-6.8,47.5 L-3.1,21.8 Z" fill="#33363b" opacity="0.75"/><circle r="21" fill="#a6aab2" stroke="#33363b" stroke-width="1" vector-effect="non-scaling-stroke"/><circle cx="7.6" cy="2.4" r="1.7" fill="#dfe1e4" stroke="#33363b" stroke-width="0.7" vector-effect="non-scaling-stroke"/><circle cx="1.8" cy="7.8" r="1.7" fill="#dfe1e4" stroke="#33363b" stroke-width="0.7" vector-effect="non-scaling-stroke"/><circle cx="-5.9" cy="5.4" r="1.7" fill="#dfe1e4" stroke="#33363b" stroke-width="0.7" vector-effect="non-scaling-stroke"/><circle cx="-7.6" cy="-2.4" r="1.7" fill="#dfe1e4" stroke="#33363b" stroke-width="0.7" vector-effect="non-scaling-stroke"/><circle cx="-1.8" cy="-7.8" r="1.7" fill="#dfe1e4" stroke="#33363b" stroke-width="0.7" vector-effect="non-scaling-stroke"/><circle cx="5.9" cy="-5.4" r="1.7" fill="#dfe1e4" stroke="#33363b" stroke-width="0.7" vector-effect="non-scaling-stroke"/><circle cx="14.3" cy="4.4" r="1.7" fill="#dfe1e4" stroke="#33363b" stroke-width="0.7" vector-effect="non-scaling-stroke"/><circle cx="9.0" cy="12.0" r="1.7" fill="#dfe1e4" stroke="#33363b" stroke-width="0.7" vector-effect="non-scaling-stroke"/><circle cx="0.2" cy="15.0" r="1.7" fill="#dfe1e4" stroke="#33363b" stroke-width="0.7" vector-effect="non-scaling-stroke"/><circle cx="-8.6" cy="12.3" r="1.7" fill="#dfe1e4" stroke="#33363b" stroke-width="0.7" vector-effect="non-scaling-stroke"/><circle cx="-14.2" cy="4.8" r="1.7" fill="#dfe1e4" stroke="#33363b" stroke-width="0.7" vector-effect="non-scaling-stroke"/><circle cx="-14.3" cy="-4.4" r="1.7" fill="#dfe1e4" stroke="#33363b" stroke-width="0.7" vector-effect="non-scaling-stroke"/><circle cx="-9.0" cy="-12.0" r="1.7" fill="#dfe1e4" stroke="#33363b" stroke-width="0.7" vector-effect="non-scaling-stroke"/><circle cx="-0.2" cy="-15.0" r="1.7" fill="#dfe1e4" stroke="#33363b" stroke-width="0.7" vector-effect="non-scaling-stroke"/><circle cx="8.6" cy="-12.3" r="1.7" fill="#dfe1e4" stroke="#33363b" stroke-width="0.7" vector-effect="non-scaling-stroke"/><circle cx="14.2" cy="-4.8" r="1.7" fill="#dfe1e4" stroke="#33363b" stroke-width="0.7" vector-effect="non-scaling-stroke"/><g stroke="#33363b" stroke-width="1.1" vector-effect="non-scaling-stroke"><line x1="0" y1="0" x2="4.5" y2="0.0"/><line x1="0" y1="0" x2="2.3" y2="3.9"/><line x1="0" y1="0" x2="-2.2" y2="3.9"/><line x1="0" y1="0" x2="-4.5" y2="0.0"/><line x1="0" y1="0" x2="-2.3" y2="-3.9"/><line x1="0" y1="0" x2="2.3" y2="-3.9"/></g></g></g>
<g opacity="1.0"><path d="M166.2,1064.0 L166.3,1062.5 L166.7,1061.1 L167.2,1059.7 L168.0,1058.3 L169.0,1057.0 L170.1,1055.8 L171.5,1054.6 L173.0,1053.5 L174.7,1052.5 L176.6,1051.5 L178.7,1050.7 L180.9,1049.9 L183.2,1049.2 L185.7,1048.6 L188.3,1048.1 L191.0,1047.7 L193.8,1047.4 L196.7,1047.2 L199.7,1047.1 L202.7,1047.1 L205.8,1047.2 L209.0,1047.5 L212.1,1047.8 L215.3,1048.2 L218.4,1048.7 L221.6,1049.3 L224.7,1050.0 L227.8,1050.8 L230.8,1051.6 L233.7,1052.6 L236.6,1053.6 L239.3,1054.7 L242.0,1055.9 L244.5,1057.2 L247.0,1058.5 L249.2,1059.8 L251.4,1061.2 L253.3,1062.7 L255.1,1064.2 L256.7,1065.7 L258.2,1067.2 L259.5,1068.7 L260.5,1070.3 L261.4,1071.9 L262.1,1073.4 L262.5,1075.0 L262.8,1076.5 L263.4,1083.3 L263.4,1084.8 L263.3,1086.2 L262.9,1087.6 L262.4,1089.0 L261.6,1090.3 L260.7,1091.6 L259.6,1092.8 L258.3,1093.9 L256.8,1095.0 L255.1,1096.0 L253.3,1096.9 L251.3,1097.7 L249.2,1098.5 L246.9,1099.2 L244.5,1099.7 L241.9,1100.2 L239.3,1100.6 L236.6,1100.9 L233.8,1101.1 L230.9,1101.2 L227.9,1101.2 L224.9,1101.1 L221.9,1100.9 L218.8,1100.6 L215.7,1100.2 L212.7,1099.7 L209.6,1099.1 L206.6,1098.4 L203.6,1097.6 L200.7,1096.8 L197.8,1095.9 L195.1,1094.9 L192.4,1093.8 L189.8,1092.6 L187.3,1091.4 L185.0,1090.2 L182.8,1088.9 L180.7,1087.5 L178.8,1086.1 L177.1,1084.6 L175.5,1083.2 L174.1,1081.7 L172.9,1080.2 L171.8,1078.7 L171.0,1077.2 L167.6,1070.1 L166.9,1068.6 L166.5,1067.0 L166.2,1065.5 Z" fill="#fff" stroke="#1f1f1f" stroke-width="1.1"/><line x1="212.5" y1="1055.3" x2="210.4" y2="1047.6" stroke="#1f1f1f" stroke-width="1"/><g transform="translate(216.5,1078.0) rotate(10.0) scale(0.9500,0.4400)"><circle r="50" fill="#b6b9c0" stroke="#1f1f1f" stroke-width="1.1" vector-effect="non-scaling-stroke"/><g fill="#6f737a"><rect x="-2.4" y="-1.35" width="4.8" height="2.7" rx="1.3" transform="translate(26.5,5.0) rotate(11)"/><rect x="-2.4" y="-1.35" width="4.8" height="2.7" rx="1.3" transform="translate(25.2,9.7) rotate(21)"/><rect x="-2.4" y="-1.35" width="4.8" height="2.7" rx="1.3" transform="translate(23.0,14.1) rotate(31)"/><rect x="-2.4" y="-1.35" width="4.8" height="2.7" rx="1.3" transform="translate(32.9,6.3) rotate(11)"/><rect x="-2.4" y="-1.35" width="4.8" height="2.7" rx="1.3" transform="translate(31.3,12.1) rotate(21)"/><rect x="-2.4" y="-1.35" width="4.8" height="2.7" rx="1.3" transform="translate(28.6,17.5) rotate(31)"/><rect x="-2.4" y="-1.35" width="4.8" height="2.7" rx="1.3" transform="translate(39.5,6.6) rotate(9)"/><rect x="-2.4" y="-1.35" width="4.8" height="2.7" rx="1.3" transform="translate(38.2,11.8) rotate(17)"/><rect x="-2.4" y="-1.35" width="4.8" height="2.7" rx="1.3" transform="translate(36.3,16.9) rotate(25)"/><rect x="-2.4" y="-1.35" width="4.8" height="2.7" rx="1.3" transform="translate(33.7,21.6) rotate(33)"/><rect x="-2.4" y="-1.35" width="4.8" height="2.7" rx="1.3" transform="translate(45.4,7.6) rotate(9)"/><rect x="-2.4" y="-1.35" width="4.8" height="2.7" rx="1.3" transform="translate(43.9,13.6) rotate(17)"/><rect x="-2.4" y="-1.35" width="4.8" height="2.7" rx="1.3" transform="translate(41.7,19.4) rotate(25)"/><rect x="-2.4" y="-1.35" width="4.8" height="2.7" rx="1.3" transform="translate(38.7,24.9) rotate(33)"/><rect x="-2.4" y="-1.35" width="4.8" height="2.7" rx="1.3" transform="translate(-6.2,26.3) rotate(103)"/><rect x="-2.4" y="-1.35" width="4.8" height="2.7" rx="1.3" transform="translate(-10.9,24.7) rotate(114)"/><rect x="-2.4" y="-1.35" width="4.8" height="2.7" rx="1.3" transform="translate(-15.1,22.4) rotate(124)"/><rect x="-2.4" y="-1.35" width="4.8" height="2.7" rx="1.3" transform="translate(-7.7,32.6) rotate(103)"/><rect x="-2.4" y="-1.35" width="4.8" height="2.7" rx="1.3" transform="translate(-13.5,30.7) rotate(114)"/><rect x="-2.4" y="-1.35" width="4.8" height="2.7" rx="1.3" transform="translate(-18.8,27.8) rotate(124)"/><rect x="-2.4" y="-1.35" width="4.8" height="2.7" rx="1.3" transform="translate(-8.4,39.1) rotate(102)"/><rect x="-2.4" y="-1.35" width="4.8" height="2.7" rx="1.3" transform="translate(-13.6,37.6) rotate(110)"/><rect x="-2.4" y="-1.35" width="4.8" height="2.7" rx="1.3" transform="translate(-18.5,35.5) rotate(118)"/><rect x="-2.4" y="-1.35" width="4.8" height="2.7" rx="1.3" transform="translate(-23.1,32.6) rotate(125)"/><rect x="-2.4" y="-1.35" width="4.8" height="2.7" rx="1.3" transform="translate(-9.6,45.0) rotate(102)"/><rect x="-2.4" y="-1.35" width="4.8" height="2.7" rx="1.3" transform="translate(-15.6,43.3) rotate(110)"/><rect x="-2.4" y="-1.35" width="4.8" height="2.7" rx="1.3" transform="translate(-21.3,40.8) rotate(118)"/><rect x="-2.4" y="-1.35" width="4.8" height="2.7" rx="1.3" transform="translate(-26.6,37.5) rotate(125)"/><rect x="-2.4" y="-1.35" width="4.8" height="2.7" rx="1.3" transform="translate(-21.8,16.0) rotate(234)"/><rect x="-2.4" y="-1.35" width="4.8" height="2.7" rx="1.3" transform="translate(-24.3,11.8) rotate(244)"/><rect x="-2.4" y="-1.35" width="4.8" height="2.7" rx="1.3" transform="translate(-26.0,7.3) rotate(254)"/><rect x="-2.4" y="-1.35" width="4.8" height="2.7" rx="1.3" transform="translate(-27.0,19.8) rotate(234)"/><rect x="-2.4" y="-1.35" width="4.8" height="2.7" rx="1.3" transform="translate(-30.1,14.6) rotate(244)"/><rect x="-2.4" y="-1.35" width="4.8" height="2.7" rx="1.3" transform="translate(-32.3,9.0) rotate(254)"/><rect x="-2.4" y="-1.35" width="4.8" height="2.7" rx="1.3" transform="translate(-31.7,24.4) rotate(232)"/><rect x="-2.4" y="-1.35" width="4.8" height="2.7" rx="1.3" transform="translate(-34.7,19.9) rotate(240)"/><rect x="-2.4" y="-1.35" width="4.8" height="2.7" rx="1.3" transform="translate(-37.1,15.0) rotate(248)"/><rect x="-2.4" y="-1.35" width="4.8" height="2.7" rx="1.3" transform="translate(-38.8,9.9) rotate(256)"/><rect x="-2.4" y="-1.35" width="4.8" height="2.7" rx="1.3" transform="translate(-36.5,28.0) rotate(232)"/><rect x="-2.4" y="-1.35" width="4.8" height="2.7" rx="1.3" transform="translate(-39.9,22.9) rotate(240)"/><rect x="-2.4" y="-1.35" width="4.8" height="2.7" rx="1.3" transform="translate(-42.6,17.3) rotate(248)"/><rect x="-2.4" y="-1.35" width="4.8" height="2.7" rx="1.3" transform="translate(-44.6,11.4) rotate(256)"/><rect x="-2.4" y="-1.35" width="4.8" height="2.7" rx="1.3" transform="translate(-26.4,-5.8) rotate(192)"/><rect x="-2.4" y="-1.35" width="4.8" height="2.7" rx="1.3" transform="translate(-24.9,-10.5) rotate(203)"/><rect x="-2.4" y="-1.35" width="4.8" height="2.7" rx="1.3" transform="translate(-22.6,-14.8) rotate(213)"/><rect x="-2.4" y="-1.35" width="4.8" height="2.7" rx="1.3" transform="translate(-32.7,-7.2) rotate(192)"/><rect x="-2.4" y="-1.35" width="4.8" height="2.7" rx="1.3" transform="translate(-30.9,-13.0) rotate(203)"/><rect x="-2.4" y="-1.35" width="4.8" height="2.7" rx="1.3" transform="translate(-28.1,-18.3) rotate(213)"/><rect x="-2.4" y="-1.35" width="4.8" height="2.7" rx="1.3" transform="translate(-39.2,-7.7) rotate(191)"/><rect x="-2.4" y="-1.35" width="4.8" height="2.7" rx="1.3" transform="translate(-37.8,-13.0) rotate(199)"/><rect x="-2.4" y="-1.35" width="4.8" height="2.7" rx="1.3" transform="translate(-35.7,-17.9) rotate(207)"/><rect x="-2.4" y="-1.35" width="4.8" height="2.7" rx="1.3" transform="translate(-33.0,-22.6) rotate(214)"/><rect x="-2.4" y="-1.35" width="4.8" height="2.7" rx="1.3" transform="translate(-45.1,-8.9) rotate(191)"/><rect x="-2.4" y="-1.35" width="4.8" height="2.7" rx="1.3" transform="translate(-43.5,-14.9) rotate(199)"/><rect x="-2.4" y="-1.35" width="4.8" height="2.7" rx="1.3" transform="translate(-41.1,-20.6) rotate(207)"/><rect x="-2.4" y="-1.35" width="4.8" height="2.7" rx="1.3" transform="translate(-37.9,-26.0) rotate(214)"/><rect x="-2.4" y="-1.35" width="4.8" height="2.7" rx="1.3" transform="translate(-15.1,-22.4) rotate(326)"/><rect x="-2.4" y="-1.35" width="4.8" height="2.7" rx="1.3" transform="translate(-10.8,-24.7) rotate(336)"/><rect x="-2.4" y="-1.35" width="4.8" height="2.7" rx="1.3" transform="translate(-6.2,-26.3) rotate(347)"/><rect x="-2.4" y="-1.35" width="4.8" height="2.7" rx="1.3" transform="translate(-18.7,-27.8) rotate(326)"/><rect x="-2.4" y="-1.35" width="4.8" height="2.7" rx="1.3" transform="translate(-13.4,-30.7) rotate(336)"/><rect x="-2.4" y="-1.35" width="4.8" height="2.7" rx="1.3" transform="translate(-7.7,-32.6) rotate(347)"/><rect x="-2.4" y="-1.35" width="4.8" height="2.7" rx="1.3" transform="translate(-23.1,-32.7) rotate(325)"/><rect x="-2.4" y="-1.35" width="4.8" height="2.7" rx="1.3" transform="translate(-18.4,-35.5) rotate(333)"/><rect x="-2.4" y="-1.35" width="4.8" height="2.7" rx="1.3" transform="translate(-13.5,-37.7) rotate(340)"/><rect x="-2.4" y="-1.35" width="4.8" height="2.7" rx="1.3" transform="translate(-8.3,-39.1) rotate(348)"/><rect x="-2.4" y="-1.35" width="4.8" height="2.7" rx="1.3" transform="translate(-26.5,-37.6) rotate(325)"/><rect x="-2.4" y="-1.35" width="4.8" height="2.7" rx="1.3" transform="translate(-21.2,-40.8) rotate(333)"/><rect x="-2.4" y="-1.35" width="4.8" height="2.7" rx="1.3" transform="translate(-15.5,-43.3) rotate(340)"/><rect x="-2.4" y="-1.35" width="4.8" height="2.7" rx="1.3" transform="translate(-9.5,-45.0) rotate(348)"/><rect x="-2.4" y="-1.35" width="4.8" height="2.7" rx="1.3" transform="translate(4.1,-26.7) rotate(279)"/><rect x="-2.4" y="-1.35" width="4.8" height="2.7" rx="1.3" transform="translate(8.8,-25.5) rotate(289)"/><rect x="-2.4" y="-1.35" width="4.8" height="2.7" rx="1.3" transform="translate(13.2,-23.5) rotate(299)"/><rect x="-2.4" y="-1.35" width="4.8" height="2.7" rx="1.3" transform="translate(5.0,-33.1) rotate(279)"/><rect x="-2.4" y="-1.35" width="4.8" height="2.7" rx="1.3" transform="translate(10.9,-31.7) rotate(289)"/><rect x="-2.4" y="-1.35" width="4.8" height="2.7" rx="1.3" transform="translate(16.4,-29.2) rotate(299)"/><rect x="-2.4" y="-1.35" width="4.8" height="2.7" rx="1.3" transform="translate(5.1,-39.7) rotate(277)"/><rect x="-2.4" y="-1.35" width="4.8" height="2.7" rx="1.3" transform="translate(10.4,-38.6) rotate(285)"/><rect x="-2.4" y="-1.35" width="4.8" height="2.7" rx="1.3" transform="translate(15.5,-36.9) rotate(293)"/><rect x="-2.4" y="-1.35" width="4.8" height="2.7" rx="1.3" transform="translate(20.4,-34.4) rotate(301)"/><rect x="-2.4" y="-1.35" width="4.8" height="2.7" rx="1.3" transform="translate(5.9,-45.6) rotate(277)"/><rect x="-2.4" y="-1.35" width="4.8" height="2.7" rx="1.3" transform="translate(12.0,-44.4) rotate(285)"/><rect x="-2.4" y="-1.35" width="4.8" height="2.7" rx="1.3" transform="translate(17.9,-42.4) rotate(293)"/><rect x="-2.4" y="-1.35" width="4.8" height="2.7" rx="1.3" transform="translate(23.4,-39.6) rotate(301)"/><rect x="-2.4" y="-1.35" width="4.8" height="2.7" rx="1.3" transform="translate(22.7,-14.6) rotate(417)"/><rect x="-2.4" y="-1.35" width="4.8" height="2.7" rx="1.3" transform="translate(25.0,-10.3) rotate(428)"/><rect x="-2.4" y="-1.35" width="4.8" height="2.7" rx="1.3" transform="translate(26.4,-5.7) rotate(438)"/><rect x="-2.4" y="-1.35" width="4.8" height="2.7" rx="1.3" transform="translate(28.2,-18.1) rotate(417)"/><rect x="-2.4" y="-1.35" width="4.8" height="2.7" rx="1.3" transform="translate(31.0,-12.8) rotate(428)"/><rect x="-2.4" y="-1.35" width="4.8" height="2.7" rx="1.3" transform="translate(32.8,-7.0) rotate(438)"/><rect x="-2.4" y="-1.35" width="4.8" height="2.7" rx="1.3" transform="translate(33.1,-22.4) rotate(416)"/><rect x="-2.4" y="-1.35" width="4.8" height="2.7" rx="1.3" transform="translate(35.9,-17.7) rotate(424)"/><rect x="-2.4" y="-1.35" width="4.8" height="2.7" rx="1.3" transform="translate(37.9,-12.7) rotate(431)"/><rect x="-2.4" y="-1.35" width="4.8" height="2.7" rx="1.3" transform="translate(39.3,-7.5) rotate(439)"/><rect x="-2.4" y="-1.35" width="4.8" height="2.7" rx="1.3" transform="translate(38.1,-25.8) rotate(416)"/><rect x="-2.4" y="-1.35" width="4.8" height="2.7" rx="1.3" transform="translate(41.2,-20.4) rotate(424)"/><rect x="-2.4" y="-1.35" width="4.8" height="2.7" rx="1.3" transform="translate(43.6,-14.6) rotate(431)"/><rect x="-2.4" y="-1.35" width="4.8" height="2.7" rx="1.3" transform="translate(45.2,-8.6) rotate(439)"/></g><path d="M12.9,17.8 L28.1,38.9 L17.9,44.5 L8.2,20.4 Z" fill="#6f737a" opacity="0.75"/><circle r="21" fill="#a6aab2" stroke="#6f737a" stroke-width="1" vector-effect="non-scaling-stroke"/><circle cx="7.6" cy="2.4" r="1.7" fill="#dfe1e4" stroke="#6f737a" stroke-width="0.7" vector-effect="non-scaling-stroke"/><circle cx="1.8" cy="7.8" r="1.7" fill="#dfe1e4" stroke="#6f737a" stroke-width="0.7" vector-effect="non-scaling-stroke"/><circle cx="-5.9" cy="5.4" r="1.7" fill="#dfe1e4" stroke="#6f737a" stroke-width="0.7" vector-effect="non-scaling-stroke"/><circle cx="-7.6" cy="-2.4" r="1.7" fill="#dfe1e4" stroke="#6f737a" stroke-width="0.7" vector-effect="non-scaling-stroke"/><circle cx="-1.8" cy="-7.8" r="1.7" fill="#dfe1e4" stroke="#6f737a" stroke-width="0.7" vector-effect="non-scaling-stroke"/><circle cx="5.9" cy="-5.4" r="1.7" fill="#dfe1e4" stroke="#6f737a" stroke-width="0.7" vector-effect="non-scaling-stroke"/><circle cx="14.3" cy="4.4" r="1.7" fill="#dfe1e4" stroke="#6f737a" stroke-width="0.7" vector-effect="non-scaling-stroke"/><circle cx="9.0" cy="12.0" r="1.7" fill="#dfe1e4" stroke="#6f737a" stroke-width="0.7" vector-effect="non-scaling-stroke"/><circle cx="0.2" cy="15.0" r="1.7" fill="#dfe1e4" stroke="#6f737a" stroke-width="0.7" vector-effect="non-scaling-stroke"/><circle cx="-8.6" cy="12.3" r="1.7" fill="#dfe1e4" stroke="#6f737a" stroke-width="0.7" vector-effect="non-scaling-stroke"/><circle cx="-14.2" cy="4.8" r="1.7" fill="#dfe1e4" stroke="#6f737a" stroke-width="0.7" vector-effect="non-scaling-stroke"/><circle cx="-14.3" cy="-4.4" r="1.7" fill="#dfe1e4" stroke="#6f737a" stroke-width="0.7" vector-effect="non-scaling-stroke"/><circle cx="-9.0" cy="-12.0" r="1.7" fill="#dfe1e4" stroke="#6f737a" stroke-width="0.7" vector-effect="non-scaling-stroke"/><circle cx="-0.2" cy="-15.0" r="1.7" fill="#dfe1e4" stroke="#6f737a" stroke-width="0.7" vector-effect="non-scaling-stroke"/><circle cx="8.6" cy="-12.3" r="1.7" fill="#dfe1e4" stroke="#6f737a" stroke-width="0.7" vector-effect="non-scaling-stroke"/><circle cx="14.2" cy="-4.8" r="1.7" fill="#dfe1e4" stroke="#6f737a" stroke-width="0.7" vector-effect="non-scaling-stroke"/><g stroke="#6f737a" stroke-width="1.1" vector-effect="non-scaling-stroke"><line x1="0" y1="0" x2="4.5" y2="0.0"/><line x1="0" y1="0" x2="2.3" y2="3.9"/><line x1="0" y1="0" x2="-2.2" y2="3.9"/><line x1="0" y1="0" x2="-4.5" y2="0.0"/><line x1="0" y1="0" x2="-2.3" y2="-3.9"/><line x1="0" y1="0" x2="2.3" y2="-3.9"/></g><g transform="rotate(61.1)"><rect x="44" y="-5" width="16" height="10" rx="5" fill="#80848c" stroke="#1f1f1f" stroke-width="0.9" vector-effect="non-scaling-stroke"/></g></g></g>
</g>
<g opacity="1.0"><path d="M202.4,892.2 L202.6,890.4 L202.9,888.6 L203.4,886.9 L204.1,885.4 L204.9,883.9 L210.2,875.4 L211.2,874.0 L212.3,872.8 L213.6,871.7 L215.1,870.8 L216.6,870.0 L218.4,869.4 L220.2,868.9 L222.2,868.5 L224.2,868.3 L226.4,868.3 L228.7,868.4 L231.0,868.7 L233.4,869.1 L235.9,869.7 L238.4,870.4 L240.9,871.3 L243.5,872.3 L246.1,873.5 L248.7,874.8 L251.3,876.2 L253.9,877.7 L256.5,879.4 L259.0,881.2 L261.5,883.0 L263.9,885.0 L266.2,887.0 L268.5,889.1 L270.7,891.3 L272.7,893.5 L274.7,895.8 L276.5,898.1 L278.3,900.5 L279.9,902.8 L281.3,905.2 L282.6,907.6 L283.8,909.9 L284.8,912.2 L285.6,914.5 L286.3,916.8 L286.8,919.0 L287.2,921.1 L287.3,923.2 L287.3,925.2 L287.2,927.1 L286.8,928.9 L286.3,930.6 L285.7,932.2 L284.8,933.6 L283.8,935.0 L277.1,942.4 L276.0,943.6 L274.7,944.6 L273.3,945.6 L271.7,946.3 L270.1,947.0 L268.3,947.4 L266.3,947.8 L264.3,948.0 L262.2,948.0 L260.0,947.9 L257.7,947.6 L255.3,947.2 L252.9,946.6 L250.4,945.9 L247.9,945.0 L245.4,944.0 L242.8,942.9 L240.3,941.6 L237.7,940.2 L235.2,938.7 L232.7,937.1 L230.2,935.4 L227.8,933.6 L225.4,931.7 L223.1,929.7 L220.9,927.6 L218.8,925.5 L216.8,923.3 L214.8,921.0 L213.0,918.8 L211.3,916.5 L209.8,914.1 L208.3,911.8 L207.1,909.5 L205.9,907.2 L204.9,904.9 L204.1,902.7 L203.5,900.4 L203.0,898.3 L202.6,896.2 L202.4,894.2 Z" fill="#fff" stroke="#1f1f1f" stroke-width="1.1"/><line x1="238.8" y1="881.5" x2="244.7" y2="872.9" stroke="#1f1f1f" stroke-width="1"/><g transform="translate(241.5,912.5) rotate(40.0) scale(0.9300,0.5000)"><circle r="50" fill="#9ca1ab" stroke="#1f1f1f" stroke-width="1.1" vector-effect="non-scaling-stroke"/><g fill="#33363b"><rect x="-2.4" y="-1.35" width="4.8" height="2.7" rx="1.3" transform="translate(26.0,7.4) rotate(16)"/><rect x="-2.4" y="-1.35" width="4.8" height="2.7" rx="1.3" transform="translate(24.2,11.9) rotate(26)"/><rect x="-2.4" y="-1.35" width="4.8" height="2.7" rx="1.3" transform="translate(21.7,16.1) rotate(36)"/><rect x="-2.4" y="-1.35" width="4.8" height="2.7" rx="1.3" transform="translate(32.2,9.1) rotate(16)"/><rect x="-2.4" y="-1.35" width="4.8" height="2.7" rx="1.3" transform="translate(30.1,14.8) rotate(26)"/><rect x="-2.4" y="-1.35" width="4.8" height="2.7" rx="1.3" transform="translate(26.9,19.9) rotate(36)"/><rect x="-2.4" y="-1.35" width="4.8" height="2.7" rx="1.3" transform="translate(38.7,10.0) rotate(15)"/><rect x="-2.4" y="-1.35" width="4.8" height="2.7" rx="1.3" transform="translate(37.0,15.2) rotate(22)"/><rect x="-2.4" y="-1.35" width="4.8" height="2.7" rx="1.3" transform="translate(34.6,20.0) rotate(30)"/><rect x="-2.4" y="-1.35" width="4.8" height="2.7" rx="1.3" transform="translate(31.6,24.5) rotate(38)"/><rect x="-2.4" y="-1.35" width="4.8" height="2.7" rx="1.3" transform="translate(44.5,11.5) rotate(15)"/><rect x="-2.4" y="-1.35" width="4.8" height="2.7" rx="1.3" transform="translate(42.6,17.4) rotate(22)"/><rect x="-2.4" y="-1.35" width="4.8" height="2.7" rx="1.3" transform="translate(39.8,23.0) rotate(30)"/><rect x="-2.4" y="-1.35" width="4.8" height="2.7" rx="1.3" transform="translate(36.4,28.2) rotate(38)"/><rect x="-2.4" y="-1.35" width="4.8" height="2.7" rx="1.3" transform="translate(-4.0,26.7) rotate(99)"/><rect x="-2.4" y="-1.35" width="4.8" height="2.7" rx="1.3" transform="translate(-8.8,25.5) rotate(109)"/><rect x="-2.4" y="-1.35" width="4.8" height="2.7" rx="1.3" transform="translate(-13.2,23.5) rotate(119)"/><rect x="-2.4" y="-1.35" width="4.8" height="2.7" rx="1.3" transform="translate(-5.0,33.1) rotate(99)"/><rect x="-2.4" y="-1.35" width="4.8" height="2.7" rx="1.3" transform="translate(-10.9,31.7) rotate(109)"/><rect x="-2.4" y="-1.35" width="4.8" height="2.7" rx="1.3" transform="translate(-16.4,29.2) rotate(119)"/><rect x="-2.4" y="-1.35" width="4.8" height="2.7" rx="1.3" transform="translate(-5.1,39.7) rotate(97)"/><rect x="-2.4" y="-1.35" width="4.8" height="2.7" rx="1.3" transform="translate(-10.4,38.6) rotate(105)"/><rect x="-2.4" y="-1.35" width="4.8" height="2.7" rx="1.3" transform="translate(-15.5,36.9) rotate(113)"/><rect x="-2.4" y="-1.35" width="4.8" height="2.7" rx="1.3" transform="translate(-20.3,34.4) rotate(121)"/><rect x="-2.4" y="-1.35" width="4.8" height="2.7" rx="1.3" transform="translate(-5.9,45.6) rotate(97)"/><rect x="-2.4" y="-1.35" width="4.8" height="2.7" rx="1.3" transform="translate(-12.0,44.4) rotate(105)"/><rect x="-2.4" y="-1.35" width="4.8" height="2.7" rx="1.3" transform="translate(-17.8,42.4) rotate(113)"/><rect x="-2.4" y="-1.35" width="4.8" height="2.7" rx="1.3" transform="translate(-23.4,39.6) rotate(121)"/><rect x="-2.4" y="-1.35" width="4.8" height="2.7" rx="1.3" transform="translate(-21.8,15.9) rotate(234)"/><rect x="-2.4" y="-1.35" width="4.8" height="2.7" rx="1.3" transform="translate(-24.3,11.8) rotate(244)"/><rect x="-2.4" y="-1.35" width="4.8" height="2.7" rx="1.3" transform="translate(-26.0,7.2) rotate(255)"/><rect x="-2.4" y="-1.35" width="4.8" height="2.7" rx="1.3" transform="translate(-27.0,19.8) rotate(234)"/><rect x="-2.4" y="-1.35" width="4.8" height="2.7" rx="1.3" transform="translate(-30.2,14.6) rotate(244)"/><rect x="-2.4" y="-1.35" width="4.8" height="2.7" rx="1.3" transform="translate(-32.3,8.9) rotate(255)"/><rect x="-2.4" y="-1.35" width="4.8" height="2.7" rx="1.3" transform="translate(-31.8,24.3) rotate(233)"/><rect x="-2.4" y="-1.35" width="4.8" height="2.7" rx="1.3" transform="translate(-34.7,19.8) rotate(240)"/><rect x="-2.4" y="-1.35" width="4.8" height="2.7" rx="1.3" transform="translate(-37.1,14.9) rotate(248)"/><rect x="-2.4" y="-1.35" width="4.8" height="2.7" rx="1.3" transform="translate(-38.8,9.8) rotate(256)"/><rect x="-2.4" y="-1.35" width="4.8" height="2.7" rx="1.3" transform="translate(-36.5,28.0) rotate(233)"/><rect x="-2.4" y="-1.35" width="4.8" height="2.7" rx="1.3" transform="translate(-40.0,22.8) rotate(240)"/><rect x="-2.4" y="-1.35" width="4.8" height="2.7" rx="1.3" transform="translate(-42.7,17.2) rotate(248)"/><rect x="-2.4" y="-1.35" width="4.8" height="2.7" rx="1.3" transform="translate(-44.6,11.3) rotate(256)"/><rect x="-2.4" y="-1.35" width="4.8" height="2.7" rx="1.3" transform="translate(-26.1,-6.9) rotate(195)"/><rect x="-2.4" y="-1.35" width="4.8" height="2.7" rx="1.3" transform="translate(-24.4,-11.5) rotate(205)"/><rect x="-2.4" y="-1.35" width="4.8" height="2.7" rx="1.3" transform="translate(-22.0,-15.7) rotate(216)"/><rect x="-2.4" y="-1.35" width="4.8" height="2.7" rx="1.3" transform="translate(-32.4,-8.6) rotate(195)"/><rect x="-2.4" y="-1.35" width="4.8" height="2.7" rx="1.3" transform="translate(-30.3,-14.3) rotate(205)"/><rect x="-2.4" y="-1.35" width="4.8" height="2.7" rx="1.3" transform="translate(-27.3,-19.5) rotate(216)"/><rect x="-2.4" y="-1.35" width="4.8" height="2.7" rx="1.3" transform="translate(-38.9,-9.4) rotate(194)"/><rect x="-2.4" y="-1.35" width="4.8" height="2.7" rx="1.3" transform="translate(-37.3,-14.5) rotate(201)"/><rect x="-2.4" y="-1.35" width="4.8" height="2.7" rx="1.3" transform="translate(-35.0,-19.4) rotate(209)"/><rect x="-2.4" y="-1.35" width="4.8" height="2.7" rx="1.3" transform="translate(-32.0,-24.0) rotate(217)"/><rect x="-2.4" y="-1.35" width="4.8" height="2.7" rx="1.3" transform="translate(-44.7,-10.8) rotate(194)"/><rect x="-2.4" y="-1.35" width="4.8" height="2.7" rx="1.3" transform="translate(-42.9,-16.7) rotate(201)"/><rect x="-2.4" y="-1.35" width="4.8" height="2.7" rx="1.3" transform="translate(-40.2,-22.3) rotate(209)"/><rect x="-2.4" y="-1.35" width="4.8" height="2.7" rx="1.3" transform="translate(-36.8,-27.6) rotate(217)"/><rect x="-2.4" y="-1.35" width="4.8" height="2.7" rx="1.3" transform="translate(-13.9,-23.2) rotate(329)"/><rect x="-2.4" y="-1.35" width="4.8" height="2.7" rx="1.3" transform="translate(-9.5,-25.3) rotate(339)"/><rect x="-2.4" y="-1.35" width="4.8" height="2.7" rx="1.3" transform="translate(-4.8,-26.6) rotate(350)"/><rect x="-2.4" y="-1.35" width="4.8" height="2.7" rx="1.3" transform="translate(-17.2,-28.7) rotate(329)"/><rect x="-2.4" y="-1.35" width="4.8" height="2.7" rx="1.3" transform="translate(-11.8,-31.4) rotate(339)"/><rect x="-2.4" y="-1.35" width="4.8" height="2.7" rx="1.3" transform="translate(-6.0,-33.0) rotate(350)"/><rect x="-2.4" y="-1.35" width="4.8" height="2.7" rx="1.3" transform="translate(-21.3,-33.8) rotate(328)"/><rect x="-2.4" y="-1.35" width="4.8" height="2.7" rx="1.3" transform="translate(-16.6,-36.4) rotate(336)"/><rect x="-2.4" y="-1.35" width="4.8" height="2.7" rx="1.3" transform="translate(-11.5,-38.3) rotate(343)"/><rect x="-2.4" y="-1.35" width="4.8" height="2.7" rx="1.3" transform="translate(-6.2,-39.5) rotate(351)"/><rect x="-2.4" y="-1.35" width="4.8" height="2.7" rx="1.3" transform="translate(-24.5,-38.9) rotate(328)"/><rect x="-2.4" y="-1.35" width="4.8" height="2.7" rx="1.3" transform="translate(-19.1,-41.9) rotate(336)"/><rect x="-2.4" y="-1.35" width="4.8" height="2.7" rx="1.3" transform="translate(-13.2,-44.1) rotate(343)"/><rect x="-2.4" y="-1.35" width="4.8" height="2.7" rx="1.3" transform="translate(-7.2,-45.4) rotate(351)"/><rect x="-2.4" y="-1.35" width="4.8" height="2.7" rx="1.3" transform="translate(6.3,-26.3) rotate(284)"/><rect x="-2.4" y="-1.35" width="4.8" height="2.7" rx="1.3" transform="translate(10.9,-24.7) rotate(294)"/><rect x="-2.4" y="-1.35" width="4.8" height="2.7" rx="1.3" transform="translate(15.2,-22.3) rotate(304)"/><rect x="-2.4" y="-1.35" width="4.8" height="2.7" rx="1.3" transform="translate(7.8,-32.6) rotate(284)"/><rect x="-2.4" y="-1.35" width="4.8" height="2.7" rx="1.3" transform="translate(13.5,-30.6) rotate(294)"/><rect x="-2.4" y="-1.35" width="4.8" height="2.7" rx="1.3" transform="translate(18.8,-27.7) rotate(304)"/><rect x="-2.4" y="-1.35" width="4.8" height="2.7" rx="1.3" transform="translate(8.5,-39.1) rotate(282)"/><rect x="-2.4" y="-1.35" width="4.8" height="2.7" rx="1.3" transform="translate(13.7,-37.6) rotate(290)"/><rect x="-2.4" y="-1.35" width="4.8" height="2.7" rx="1.3" transform="translate(18.6,-35.4) rotate(298)"/><rect x="-2.4" y="-1.35" width="4.8" height="2.7" rx="1.3" transform="translate(23.2,-32.6) rotate(305)"/><rect x="-2.4" y="-1.35" width="4.8" height="2.7" rx="1.3" transform="translate(9.7,-45.0) rotate(282)"/><rect x="-2.4" y="-1.35" width="4.8" height="2.7" rx="1.3" transform="translate(15.7,-43.2) rotate(290)"/><rect x="-2.4" y="-1.35" width="4.8" height="2.7" rx="1.3" transform="translate(21.4,-40.7) rotate(298)"/><rect x="-2.4" y="-1.35" width="4.8" height="2.7" rx="1.3" transform="translate(26.7,-37.5) rotate(305)"/><rect x="-2.4" y="-1.35" width="4.8" height="2.7" rx="1.3" transform="translate(22.3,-15.2) rotate(416)"/><rect x="-2.4" y="-1.35" width="4.8" height="2.7" rx="1.3" transform="translate(24.7,-11.0) rotate(426)"/><rect x="-2.4" y="-1.35" width="4.8" height="2.7" rx="1.3" transform="translate(26.2,-6.4) rotate(436)"/><rect x="-2.4" y="-1.35" width="4.8" height="2.7" rx="1.3" transform="translate(27.7,-18.9) rotate(416)"/><rect x="-2.4" y="-1.35" width="4.8" height="2.7" rx="1.3" transform="translate(30.6,-13.6) rotate(426)"/><rect x="-2.4" y="-1.35" width="4.8" height="2.7" rx="1.3" transform="translate(32.5,-7.9) rotate(436)"/><rect x="-2.4" y="-1.35" width="4.8" height="2.7" rx="1.3" transform="translate(32.5,-23.3) rotate(414)"/><rect x="-2.4" y="-1.35" width="4.8" height="2.7" rx="1.3" transform="translate(35.3,-18.7) rotate(422)"/><rect x="-2.4" y="-1.35" width="4.8" height="2.7" rx="1.3" transform="translate(37.5,-13.8) rotate(430)"/><rect x="-2.4" y="-1.35" width="4.8" height="2.7" rx="1.3" transform="translate(39.1,-8.6) rotate(438)"/><rect x="-2.4" y="-1.35" width="4.8" height="2.7" rx="1.3" transform="translate(37.4,-26.8) rotate(414)"/><rect x="-2.4" y="-1.35" width="4.8" height="2.7" rx="1.3" transform="translate(40.6,-21.5) rotate(422)"/><rect x="-2.4" y="-1.35" width="4.8" height="2.7" rx="1.3" transform="translate(43.2,-15.9) rotate(430)"/><rect x="-2.4" y="-1.35" width="4.8" height="2.7" rx="1.3" transform="translate(44.9,-9.9) rotate(438)"/></g><path d="M4.9,21.4 L10.8,46.8 L-0.9,48.0 L-0.4,22.0 Z" fill="#33363b" opacity="0.75"/><circle r="21" fill="#a6aab2" stroke="#33363b" stroke-width="1" vector-effect="non-scaling-stroke"/><circle cx="7.6" cy="2.4" r="1.7" fill="#dfe1e4" stroke="#33363b" stroke-width="0.7" vector-effect="non-scaling-stroke"/><circle cx="1.8" cy="7.8" r="1.7" fill="#dfe1e4" stroke="#33363b" stroke-width="0.7" vector-effect="non-scaling-stroke"/><circle cx="-5.9" cy="5.4" r="1.7" fill="#dfe1e4" stroke="#33363b" stroke-width="0.7" vector-effect="non-scaling-stroke"/><circle cx="-7.6" cy="-2.4" r="1.7" fill="#dfe1e4" stroke="#33363b" stroke-width="0.7" vector-effect="non-scaling-stroke"/><circle cx="-1.8" cy="-7.8" r="1.7" fill="#dfe1e4" stroke="#33363b" stroke-width="0.7" vector-effect="non-scaling-stroke"/><circle cx="5.9" cy="-5.4" r="1.7" fill="#dfe1e4" stroke="#33363b" stroke-width="0.7" vector-effect="non-scaling-stroke"/><circle cx="14.3" cy="4.4" r="1.7" fill="#dfe1e4" stroke="#33363b" stroke-width="0.7" vector-effect="non-scaling-stroke"/><circle cx="9.0" cy="12.0" r="1.7" fill="#dfe1e4" stroke="#33363b" stroke-width="0.7" vector-effect="non-scaling-stroke"/><circle cx="0.2" cy="15.0" r="1.7" fill="#dfe1e4" stroke="#33363b" stroke-width="0.7" vector-effect="non-scaling-stroke"/><circle cx="-8.6" cy="12.3" r="1.7" fill="#dfe1e4" stroke="#33363b" stroke-width="0.7" vector-effect="non-scaling-stroke"/><circle cx="-14.2" cy="4.8" r="1.7" fill="#dfe1e4" stroke="#33363b" stroke-width="0.7" vector-effect="non-scaling-stroke"/><circle cx="-14.3" cy="-4.4" r="1.7" fill="#dfe1e4" stroke="#33363b" stroke-width="0.7" vector-effect="non-scaling-stroke"/><circle cx="-9.0" cy="-12.0" r="1.7" fill="#dfe1e4" stroke="#33363b" stroke-width="0.7" vector-effect="non-scaling-stroke"/><circle cx="-0.2" cy="-15.0" r="1.7" fill="#dfe1e4" stroke="#33363b" stroke-width="0.7" vector-effect="non-scaling-stroke"/><circle cx="8.6" cy="-12.3" r="1.7" fill="#dfe1e4" stroke="#33363b" stroke-width="0.7" vector-effect="non-scaling-stroke"/><circle cx="14.2" cy="-4.8" r="1.7" fill="#dfe1e4" stroke="#33363b" stroke-width="0.7" vector-effect="non-scaling-stroke"/><g stroke="#33363b" stroke-width="1.1" vector-effect="non-scaling-stroke"><line x1="0" y1="0" x2="4.5" y2="0.0"/><line x1="0" y1="0" x2="2.3" y2="3.9"/><line x1="0" y1="0" x2="-2.2" y2="3.9"/><line x1="0" y1="0" x2="-4.5" y2="0.0"/><line x1="0" y1="0" x2="-2.3" y2="-3.9"/><line x1="0" y1="0" x2="2.3" y2="-3.9"/></g><g transform="rotate(53.5)"><rect x="44" y="-5" width="16" height="10" rx="5" fill="#80848c" stroke="#1f1f1f" stroke-width="0.9" vector-effect="non-scaling-stroke"/></g></g></g>
<text x="114.09" y="999.50" font-family="Liberation Sans" font-size="17.9" font-weight="normal" font-style="normal" fill="#1f1f1f" textLength="41.31" lengthAdjust="spacingAndGlyphs">17. 5°</text>
<text x="103.59" y="1062.50" font-family="Liberation Sans" font-size="17.9" font-weight="normal" font-style="normal" fill="#1f1f1f" textLength="41.31" lengthAdjust="spacingAndGlyphs">17. 5°</text>
<path d="M158.3,1015.4 C158,1003 165,993.5 174,991.3" fill="none" stroke="#1f1f1f" stroke-width="1.3"/><path d="M178.0,990.6 L173.4,993.5 L172.7,989.1 Z" fill="#1f1f1f"/>
<path d="M155.6,1037.1 C151.5,1046 153,1060 158.5,1066.5" fill="none" stroke="#1f1f1f" stroke-width="1.3"/><path d="M161.5,1068.8 L156.2,1067.3 L159.1,1063.9 Z" fill="#1f1f1f"/>
<g clip-path="url(#clipBa)">
<g transform="translate(476.1,419.8)"><g stroke="#1f1f1f" stroke-width="1.1" fill="none"><path d="M256.7,623.4 L280.2,729"/><path d="M269.4,623.4 L290.4,729"/><path d="M294.9,631 L303.8,695.3"/><path d="M309.5,597 L315.9,694.7"/></g><path d="M305,553.5 C309,550 312,549.5 316,549.5 L344,549.3 L344,561.9 L316,562.4 C313,562.4 311,563 308.5,566.6 Z" fill="#fff" stroke="#1f1f1f" stroke-width="1.1"/><ellipse cx="346.8" cy="555.6" rx="6.6" ry="17" fill="#fff" stroke="#1f1f1f" stroke-width="1.1"/><ellipse cx="344.8" cy="555.6" rx="4.5" ry="15.5" fill="none" stroke="#1f1f1f" stroke-width="0.9"/><path d="M266,506 L271.3,521.5 C276,534 279,548 281,558 C283.5,572 287.5,585 291.3,599.1 L310.1,597 C310.5,585 309.5,568 306.5,556 C303.5,543 298.5,530 293.4,517.9 L287,503 Z" fill="#fff" stroke="#1f1f1f" stroke-width="1.1"/><g stroke="#1f1f1f" stroke-width="1.1" fill="#fff" stroke-linejoin="round"><path d="M267,588 C271,584 277,579 283,575 L289.3,596.6 L270,592 Z"/><ellipse cx="278" cy="586.5" rx="5" ry="3.6" transform="rotate(-25 278 586.5)"/><path d="M285.6,591 L289.3,596.6 L290,599 L293,600.3 L308.4,598.4 L307.8,630.6 L307.2,631.2 L275.7,622.5 L268,590 Z" fill="#f6f6f6"/><path d="M290.5,601 C291.5,604 292.5,606.5 293.6,608.3 L305.3,607.1" fill="none"/><path d="M233,586.4 L268.3,588.5 L276.3,622.5 L254,618.2 C246,616 240,612 235.5,607 Z"/><path d="M257.1,589.2 C253,594 251,600 251.6,607 C252,611 253,615 254,618.2" fill="none"/><path d="M239.8,588 C236.5,593 235,600 235.5,607" fill="none"/><path d="M232.4,586.7 L236.1,586.4 L239.8,588 C236.5,593 235,600 235.5,607 L232.4,604.6 C230.5,599 230.5,592 232.4,586.7 Z"/><path d="M269.5,590 C265,596 264,610 267,620.7 L276.3,622.5 L276.3,590 Z" fill="#fff"/><path d="M265,604 L275.5,604.5 M265,607.5 L275.5,608 M265.2,611 L275,611.5 M265.6,614.3 L275,614.8 M266,592 L276,593 M265.5,595 L276,596" stroke-width="1.2"/><ellipse cx="312.5" cy="609.3" rx="4.2" ry="13.2"/><ellipse cx="311" cy="609.3" rx="2.8" ry="12" fill="none" stroke-width="0.8"/><path d="M238,612 L249,606.5 L253.4,619 L243,625.6 Z"/><path d="M241,610.5 L246,623" fill="none" stroke-width="0.8"/><path d="M257.1,621 L269,619.4 L270.7,634 L259.6,636.8 Z"/><path d="M258,626.5 L270,625" fill="none" stroke-width="0.8"/></g></g>
<g opacity="0.55"><path d="M640.1,1062.8 L640.2,1059.7 L640.3,1056.6 L640.5,1053.5 L640.9,1050.4 L641.4,1047.3 L642.0,1044.2 L642.7,1041.2 L643.5,1038.2 L644.5,1035.2 L645.5,1032.4 L646.6,1029.6 L647.8,1026.9 L649.1,1024.3 L650.5,1021.8 L652.0,1019.5 L653.5,1017.3 L655.1,1015.3 L656.7,1013.4 L658.4,1011.6 L660.2,1010.1 L661.9,1008.7 L669.7,1003.4 L671.6,1002.2 L673.5,1001.2 L675.3,1000.3 L677.2,999.7 L679.1,999.3 L680.9,999.1 L682.8,999.1 L684.6,999.3 L686.4,999.7 L688.1,1000.4 L689.8,1001.2 L691.4,1002.2 L692.9,1003.4 L694.4,1004.9 L695.8,1006.5 L697.1,1008.2 L698.4,1010.2 L699.5,1012.3 L700.5,1014.6 L701.4,1017.0 L702.3,1019.5 L703.0,1022.2 L703.5,1025.0 L704.0,1027.8 L704.4,1030.8 L704.6,1033.8 L704.7,1036.9 L704.7,1040.1 L704.5,1043.2 L704.3,1046.4 L703.9,1049.6 L703.4,1052.8 L702.8,1056.0 L702.0,1059.1 L701.2,1062.2 L700.2,1065.3 L699.2,1068.2 L698.0,1071.1 L696.8,1073.9 L695.4,1076.5 L694.0,1079.1 L692.5,1081.5 L690.9,1083.7 L689.3,1085.8 L687.6,1087.8 L685.9,1089.6 L684.1,1091.2 L682.3,1092.6 L680.4,1093.8 L678.5,1094.8 L676.7,1095.7 L674.8,1096.3 L666.8,1098.9 L665.0,1099.3 L663.2,1099.5 L661.4,1099.5 L659.7,1099.3 L657.9,1098.9 L656.3,1098.3 L654.6,1097.4 L653.1,1096.4 L651.6,1095.3 L650.1,1093.9 L648.8,1092.3 L647.5,1090.6 L646.3,1088.7 L645.2,1086.6 L644.2,1084.4 L643.3,1082.1 L642.5,1079.6 L641.8,1077.1 L641.3,1074.4 L640.8,1071.6 L640.5,1068.7 L640.2,1065.8 Z" fill="#fff" stroke="#1f1f1f" stroke-width="1.1"/><line x1="692.9" y1="1022.4" x2="701.6" y2="1017.5" stroke="#1f1f1f" stroke-width="1"/><g transform="translate(668.0,1052.0) rotate(100.0) scale(0.9600,0.5400)"><circle r="50" fill="#c4c7cd" stroke="#1f1f1f" stroke-width="1.1" vector-effect="non-scaling-stroke"/><g fill="#6f737a"><rect x="-2.4" y="-1.35" width="4.8" height="2.7" rx="1.3" transform="translate(26.6,4.7) rotate(10)"/><rect x="-2.4" y="-1.35" width="4.8" height="2.7" rx="1.3" transform="translate(25.3,9.4) rotate(20)"/><rect x="-2.4" y="-1.35" width="4.8" height="2.7" rx="1.3" transform="translate(23.2,13.8) rotate(31)"/><rect x="-2.4" y="-1.35" width="4.8" height="2.7" rx="1.3" transform="translate(33.0,5.8) rotate(10)"/><rect x="-2.4" y="-1.35" width="4.8" height="2.7" rx="1.3" transform="translate(31.4,11.6) rotate(20)"/><rect x="-2.4" y="-1.35" width="4.8" height="2.7" rx="1.3" transform="translate(28.8,17.1) rotate(31)"/><rect x="-2.4" y="-1.35" width="4.8" height="2.7" rx="1.3" transform="translate(39.5,6.0) rotate(9)"/><rect x="-2.4" y="-1.35" width="4.8" height="2.7" rx="1.3" transform="translate(38.4,11.3) rotate(16)"/><rect x="-2.4" y="-1.35" width="4.8" height="2.7" rx="1.3" transform="translate(36.5,16.4) rotate(24)"/><rect x="-2.4" y="-1.35" width="4.8" height="2.7" rx="1.3" transform="translate(33.9,21.2) rotate(32)"/><rect x="-2.4" y="-1.35" width="4.8" height="2.7" rx="1.3" transform="translate(45.5,6.9) rotate(9)"/><rect x="-2.4" y="-1.35" width="4.8" height="2.7" rx="1.3" transform="translate(44.1,13.0) rotate(16)"/><rect x="-2.4" y="-1.35" width="4.8" height="2.7" rx="1.3" transform="translate(42.0,18.8) rotate(24)"/><rect x="-2.4" y="-1.35" width="4.8" height="2.7" rx="1.3" transform="translate(39.0,24.3) rotate(32)"/><rect x="-2.4" y="-1.35" width="4.8" height="2.7" rx="1.3" transform="translate(13.1,23.6) rotate(151)"/><rect x="-2.4" y="-1.35" width="4.8" height="2.7" rx="1.3" transform="translate(8.7,25.6) rotate(161)"/><rect x="-2.4" y="-1.35" width="4.8" height="2.7" rx="1.3" transform="translate(4.0,26.7) rotate(172)"/><rect x="-2.4" y="-1.35" width="4.8" height="2.7" rx="1.3" transform="translate(16.3,29.3) rotate(151)"/><rect x="-2.4" y="-1.35" width="4.8" height="2.7" rx="1.3" transform="translate(10.8,31.7) rotate(161)"/><rect x="-2.4" y="-1.35" width="4.8" height="2.7" rx="1.3" transform="translate(4.9,33.1) rotate(172)"/><rect x="-2.4" y="-1.35" width="4.8" height="2.7" rx="1.3" transform="translate(20.3,34.5) rotate(150)"/><rect x="-2.4" y="-1.35" width="4.8" height="2.7" rx="1.3" transform="translate(15.4,36.9) rotate(157)"/><rect x="-2.4" y="-1.35" width="4.8" height="2.7" rx="1.3" transform="translate(10.3,38.7) rotate(165)"/><rect x="-2.4" y="-1.35" width="4.8" height="2.7" rx="1.3" transform="translate(5.0,39.7) rotate(173)"/><rect x="-2.4" y="-1.35" width="4.8" height="2.7" rx="1.3" transform="translate(23.3,39.7) rotate(150)"/><rect x="-2.4" y="-1.35" width="4.8" height="2.7" rx="1.3" transform="translate(17.7,42.4) rotate(157)"/><rect x="-2.4" y="-1.35" width="4.8" height="2.7" rx="1.3" transform="translate(11.8,44.4) rotate(165)"/><rect x="-2.4" y="-1.35" width="4.8" height="2.7" rx="1.3" transform="translate(5.7,45.6) rotate(173)"/><rect x="-2.4" y="-1.35" width="4.8" height="2.7" rx="1.3" transform="translate(-4.3,26.7) rotate(99)"/><rect x="-2.4" y="-1.35" width="4.8" height="2.7" rx="1.3" transform="translate(-9.0,25.4) rotate(110)"/><rect x="-2.4" y="-1.35" width="4.8" height="2.7" rx="1.3" transform="translate(-13.4,23.4) rotate(120)"/><rect x="-2.4" y="-1.35" width="4.8" height="2.7" rx="1.3" transform="translate(-5.3,33.1) rotate(99)"/><rect x="-2.4" y="-1.35" width="4.8" height="2.7" rx="1.3" transform="translate(-11.2,31.6) rotate(110)"/><rect x="-2.4" y="-1.35" width="4.8" height="2.7" rx="1.3" transform="translate(-16.7,29.1) rotate(120)"/><rect x="-2.4" y="-1.35" width="4.8" height="2.7" rx="1.3" transform="translate(-5.5,39.6) rotate(98)"/><rect x="-2.4" y="-1.35" width="4.8" height="2.7" rx="1.3" transform="translate(-10.8,38.5) rotate(106)"/><rect x="-2.4" y="-1.35" width="4.8" height="2.7" rx="1.3" transform="translate(-15.9,36.7) rotate(113)"/><rect x="-2.4" y="-1.35" width="4.8" height="2.7" rx="1.3" transform="translate(-20.7,34.2) rotate(121)"/><rect x="-2.4" y="-1.35" width="4.8" height="2.7" rx="1.3" transform="translate(-6.3,45.6) rotate(98)"/><rect x="-2.4" y="-1.35" width="4.8" height="2.7" rx="1.3" transform="translate(-12.4,44.3) rotate(106)"/><rect x="-2.4" y="-1.35" width="4.8" height="2.7" rx="1.3" transform="translate(-18.3,42.2) rotate(113)"/><rect x="-2.4" y="-1.35" width="4.8" height="2.7" rx="1.3" transform="translate(-23.8,39.4) rotate(121)"/><rect x="-2.4" y="-1.35" width="4.8" height="2.7" rx="1.3" transform="translate(-23.1,14.0) rotate(239)"/><rect x="-2.4" y="-1.35" width="4.8" height="2.7" rx="1.3" transform="translate(-25.2,9.6) rotate(249)"/><rect x="-2.4" y="-1.35" width="4.8" height="2.7" rx="1.3" transform="translate(-26.5,4.9) rotate(259)"/><rect x="-2.4" y="-1.35" width="4.8" height="2.7" rx="1.3" transform="translate(-28.7,17.4) rotate(239)"/><rect x="-2.4" y="-1.35" width="4.8" height="2.7" rx="1.3" transform="translate(-31.3,11.9) rotate(249)"/><rect x="-2.4" y="-1.35" width="4.8" height="2.7" rx="1.3" transform="translate(-32.9,6.1) rotate(259)"/><rect x="-2.4" y="-1.35" width="4.8" height="2.7" rx="1.3" transform="translate(-33.7,21.5) rotate(238)"/><rect x="-2.4" y="-1.35" width="4.8" height="2.7" rx="1.3" transform="translate(-36.3,16.7) rotate(245)"/><rect x="-2.4" y="-1.35" width="4.8" height="2.7" rx="1.3" transform="translate(-38.3,11.7) rotate(253)"/><rect x="-2.4" y="-1.35" width="4.8" height="2.7" rx="1.3" transform="translate(-39.5,6.4) rotate(261)"/><rect x="-2.4" y="-1.35" width="4.8" height="2.7" rx="1.3" transform="translate(-38.8,24.7) rotate(238)"/><rect x="-2.4" y="-1.35" width="4.8" height="2.7" rx="1.3" transform="translate(-41.8,19.2) rotate(245)"/><rect x="-2.4" y="-1.35" width="4.8" height="2.7" rx="1.3" transform="translate(-44.0,13.4) rotate(253)"/><rect x="-2.4" y="-1.35" width="4.8" height="2.7" rx="1.3" transform="translate(-45.4,7.4) rotate(261)"/><rect x="-2.4" y="-1.35" width="4.8" height="2.7" rx="1.3" transform="translate(-26.7,-4.2) rotate(189)"/><rect x="-2.4" y="-1.35" width="4.8" height="2.7" rx="1.3" transform="translate(-25.5,-8.9) rotate(199)"/><rect x="-2.4" y="-1.35" width="4.8" height="2.7" rx="1.3" transform="translate(-23.5,-13.3) rotate(210)"/><rect x="-2.4" y="-1.35" width="4.8" height="2.7" rx="1.3" transform="translate(-33.1,-5.2) rotate(189)"/><rect x="-2.4" y="-1.35" width="4.8" height="2.7" rx="1.3" transform="translate(-31.6,-11.0) rotate(199)"/><rect x="-2.4" y="-1.35" width="4.8" height="2.7" rx="1.3" transform="translate(-29.2,-16.5) rotate(210)"/><rect x="-2.4" y="-1.35" width="4.8" height="2.7" rx="1.3" transform="translate(-39.7,-5.3) rotate(188)"/><rect x="-2.4" y="-1.35" width="4.8" height="2.7" rx="1.3" transform="translate(-38.6,-10.6) rotate(195)"/><rect x="-2.4" y="-1.35" width="4.8" height="2.7" rx="1.3" transform="translate(-36.8,-15.7) rotate(203)"/><rect x="-2.4" y="-1.35" width="4.8" height="2.7" rx="1.3" transform="translate(-34.4,-20.5) rotate(211)"/><rect x="-2.4" y="-1.35" width="4.8" height="2.7" rx="1.3" transform="translate(-45.6,-6.0) rotate(188)"/><rect x="-2.4" y="-1.35" width="4.8" height="2.7" rx="1.3" transform="translate(-44.4,-12.1) rotate(195)"/><rect x="-2.4" y="-1.35" width="4.8" height="2.7" rx="1.3" transform="translate(-42.3,-18.0) rotate(203)"/><rect x="-2.4" y="-1.35" width="4.8" height="2.7" rx="1.3" transform="translate(-39.5,-23.6) rotate(211)"/><rect x="-2.4" y="-1.35" width="4.8" height="2.7" rx="1.3" transform="translate(-15.4,-22.2) rotate(325)"/><rect x="-2.4" y="-1.35" width="4.8" height="2.7" rx="1.3" transform="translate(-11.2,-24.6) rotate(335)"/><rect x="-2.4" y="-1.35" width="4.8" height="2.7" rx="1.3" transform="translate(-6.6,-26.2) rotate(346)"/><rect x="-2.4" y="-1.35" width="4.8" height="2.7" rx="1.3" transform="translate(-19.1,-27.5) rotate(325)"/><rect x="-2.4" y="-1.35" width="4.8" height="2.7" rx="1.3" transform="translate(-13.9,-30.5) rotate(335)"/><rect x="-2.4" y="-1.35" width="4.8" height="2.7" rx="1.3" transform="translate(-8.2,-32.5) rotate(346)"/><rect x="-2.4" y="-1.35" width="4.8" height="2.7" rx="1.3" transform="translate(-23.6,-32.3) rotate(324)"/><rect x="-2.4" y="-1.35" width="4.8" height="2.7" rx="1.3" transform="translate(-19.0,-35.2) rotate(332)"/><rect x="-2.4" y="-1.35" width="4.8" height="2.7" rx="1.3" transform="translate(-14.1,-37.4) rotate(339)"/><rect x="-2.4" y="-1.35" width="4.8" height="2.7" rx="1.3" transform="translate(-8.9,-39.0) rotate(347)"/><rect x="-2.4" y="-1.35" width="4.8" height="2.7" rx="1.3" transform="translate(-27.1,-37.1) rotate(324)"/><rect x="-2.4" y="-1.35" width="4.8" height="2.7" rx="1.3" transform="translate(-21.9,-40.5) rotate(332)"/><rect x="-2.4" y="-1.35" width="4.8" height="2.7" rx="1.3" transform="translate(-16.2,-43.0) rotate(339)"/><rect x="-2.4" y="-1.35" width="4.8" height="2.7" rx="1.3" transform="translate(-10.3,-44.8) rotate(347)"/><rect x="-2.4" y="-1.35" width="4.8" height="2.7" rx="1.3" transform="translate(7.5,-25.9) rotate(286)"/><rect x="-2.4" y="-1.35" width="4.8" height="2.7" rx="1.3" transform="translate(12.0,-24.2) rotate(296)"/><rect x="-2.4" y="-1.35" width="4.8" height="2.7" rx="1.3" transform="translate(16.2,-21.6) rotate(307)"/><rect x="-2.4" y="-1.35" width="4.8" height="2.7" rx="1.3" transform="translate(9.3,-32.2) rotate(286)"/><rect x="-2.4" y="-1.35" width="4.8" height="2.7" rx="1.3" transform="translate(14.9,-30.0) rotate(296)"/><rect x="-2.4" y="-1.35" width="4.8" height="2.7" rx="1.3" transform="translate(20.1,-26.8) rotate(307)"/><rect x="-2.4" y="-1.35" width="4.8" height="2.7" rx="1.3" transform="translate(10.3,-38.7) rotate(285)"/><rect x="-2.4" y="-1.35" width="4.8" height="2.7" rx="1.3" transform="translate(15.4,-36.9) rotate(293)"/><rect x="-2.4" y="-1.35" width="4.8" height="2.7" rx="1.3" transform="translate(20.2,-34.5) rotate(300)"/><rect x="-2.4" y="-1.35" width="4.8" height="2.7" rx="1.3" transform="translate(24.7,-31.5) rotate(308)"/><rect x="-2.4" y="-1.35" width="4.8" height="2.7" rx="1.3" transform="translate(11.8,-44.5) rotate(285)"/><rect x="-2.4" y="-1.35" width="4.8" height="2.7" rx="1.3" transform="translate(17.7,-42.5) rotate(293)"/><rect x="-2.4" y="-1.35" width="4.8" height="2.7" rx="1.3" transform="translate(23.3,-39.7) rotate(300)"/><rect x="-2.4" y="-1.35" width="4.8" height="2.7" rx="1.3" transform="translate(28.4,-36.2) rotate(308)"/></g><path d="M21.2,-6.0 L46.2,-13.1 L48.0,-1.5 L22.0,-0.7 Z" fill="#6f737a" opacity="0.75"/><circle r="21" fill="#a6aab2" stroke="#6f737a" stroke-width="1" vector-effect="non-scaling-stroke"/><circle cx="7.6" cy="2.4" r="1.7" fill="#dfe1e4" stroke="#6f737a" stroke-width="0.7" vector-effect="non-scaling-stroke"/><circle cx="1.8" cy="7.8" r="1.7" fill="#dfe1e4" stroke="#6f737a" stroke-width="0.7" vector-effect="non-scaling-stroke"/><circle cx="-5.9" cy="5.4" r="1.7" fill="#dfe1e4" stroke="#6f737a" stroke-width="0.7" vector-effect="non-scaling-stroke"/><circle cx="-7.6" cy="-2.4" r="1.7" fill="#dfe1e4" stroke="#6f737a" stroke-width="0.7" vector-effect="non-scaling-stroke"/><circle cx="-1.8" cy="-7.8" r="1.7" fill="#dfe1e4" stroke="#6f737a" stroke-width="0.7" vector-effect="non-scaling-stroke"/><circle cx="5.9" cy="-5.4" r="1.7" fill="#dfe1e4" stroke="#6f737a" stroke-width="0.7" vector-effect="non-scaling-stroke"/><circle cx="14.3" cy="4.4" r="1.7" fill="#dfe1e4" stroke="#6f737a" stroke-width="0.7" vector-effect="non-scaling-stroke"/><circle cx="9.0" cy="12.0" r="1.7" fill="#dfe1e4" stroke="#6f737a" stroke-width="0.7" vector-effect="non-scaling-stroke"/><circle cx="0.2" cy="15.0" r="1.7" fill="#dfe1e4" stroke="#6f737a" stroke-width="0.7" vector-effect="non-scaling-stroke"/><circle cx="-8.6" cy="12.3" r="1.7" fill="#dfe1e4" stroke="#6f737a" stroke-width="0.7" vector-effect="non-scaling-stroke"/><circle cx="-14.2" cy="4.8" r="1.7" fill="#dfe1e4" stroke="#6f737a" stroke-width="0.7" vector-effect="non-scaling-stroke"/><circle cx="-14.3" cy="-4.4" r="1.7" fill="#dfe1e4" stroke="#6f737a" stroke-width="0.7" vector-effect="non-scaling-stroke"/><circle cx="-9.0" cy="-12.0" r="1.7" fill="#dfe1e4" stroke="#6f737a" stroke-width="0.7" vector-effect="non-scaling-stroke"/><circle cx="-0.2" cy="-15.0" r="1.7" fill="#dfe1e4" stroke="#6f737a" stroke-width="0.7" vector-effect="non-scaling-stroke"/><circle cx="8.6" cy="-12.3" r="1.7" fill="#dfe1e4" stroke="#6f737a" stroke-width="0.7" vector-effect="non-scaling-stroke"/><circle cx="14.2" cy="-4.8" r="1.7" fill="#dfe1e4" stroke="#6f737a" stroke-width="0.7" vector-effect="non-scaling-stroke"/><g stroke="#6f737a" stroke-width="1.1" vector-effect="non-scaling-stroke"><line x1="0" y1="0" x2="4.5" y2="0.0"/><line x1="0" y1="0" x2="2.3" y2="3.9"/><line x1="0" y1="0" x2="-2.2" y2="3.9"/><line x1="0" y1="0" x2="-4.5" y2="0.0"/><line x1="0" y1="0" x2="-2.3" y2="-3.9"/><line x1="0" y1="0" x2="2.3" y2="-3.9"/></g><g transform="rotate(-8.8)"><rect x="44" y="-5" width="16" height="10" rx="5" fill="#80848c" stroke="#1f1f1f" stroke-width="0.9" vector-effect="non-scaling-stroke"/></g></g></g>
<g opacity="1.0"><path d="M691.0,1066.2 L691.0,1063.0 L691.3,1059.8 L691.7,1056.5 L692.2,1053.3 L692.9,1050.0 L693.7,1046.7 L694.7,1043.5 L695.8,1040.3 L697.0,1037.2 L698.4,1034.1 L699.9,1031.2 L701.5,1028.3 L703.2,1025.6 L705.0,1022.9 L707.0,1020.4 L709.0,1018.1 L711.0,1015.9 L713.2,1013.8 L715.4,1011.9 L717.7,1010.2 L719.9,1008.7 L722.3,1007.4 L724.6,1006.3 L727.0,1005.4 L729.3,1004.7 L731.7,1004.2 L734.0,1004.0 L736.3,1003.9 L738.6,1004.1 L740.8,1004.4 L742.9,1005.0 L745.0,1005.8 L747.0,1006.8 L748.9,1008.0 L750.7,1009.4 L752.5,1011.0 L754.1,1012.8 L762.3,1022.0 L763.7,1023.9 L765.1,1025.9 L766.3,1028.1 L767.4,1030.5 L768.3,1033.0 L769.1,1035.6 L769.8,1038.3 L770.3,1041.1 L770.7,1044.1 L770.9,1047.1 L771.0,1050.1 L770.9,1053.2 L770.7,1056.4 L770.3,1059.5 L769.8,1062.7 L769.1,1065.9 L768.3,1069.1 L767.4,1072.2 L766.3,1075.3 L765.1,1078.3 L763.8,1081.3 L762.3,1084.2 L760.8,1086.9 L759.1,1089.6 L757.3,1092.2 L755.5,1094.6 L753.5,1096.9 L751.5,1099.0 L749.4,1101.0 L747.3,1102.8 L745.1,1104.5 L742.8,1105.9 L740.6,1107.2 L738.3,1108.3 L736.0,1109.2 L733.7,1109.8 L731.5,1110.3 L729.2,1110.6 L727.0,1110.6 L724.8,1110.5 L722.6,1110.1 L720.5,1109.6 L718.5,1108.8 L716.6,1107.8 L714.7,1106.6 L705.1,1100.0 L703.3,1098.6 L701.5,1097.0 L699.9,1095.2 L698.4,1093.3 L697.1,1091.2 L695.8,1088.9 L694.7,1086.5 L693.7,1083.9 L692.9,1081.2 L692.2,1078.4 L691.7,1075.5 L691.3,1072.5 L691.0,1069.4 Z" fill="#fff" stroke="#1f1f1f" stroke-width="1.1"/><line x1="712.9" y1="1034.4" x2="703.2" y2="1025.6" stroke="#1f1f1f" stroke-width="1"/><g transform="translate(736.0,1062.0) rotate(-72.0) scale(1.0000,0.6600)"><circle r="50" fill="#8f939c" stroke="#1f1f1f" stroke-width="1.1" vector-effect="non-scaling-stroke"/><g fill="#33363b"><rect x="-2.4" y="-1.35" width="4.8" height="2.7" rx="1.3" transform="translate(26.4,5.6) rotate(12)"/><rect x="-2.4" y="-1.35" width="4.8" height="2.7" rx="1.3" transform="translate(25.0,10.2) rotate(22)"/><rect x="-2.4" y="-1.35" width="4.8" height="2.7" rx="1.3" transform="translate(22.8,14.5) rotate(33)"/><rect x="-2.4" y="-1.35" width="4.8" height="2.7" rx="1.3" transform="translate(32.8,6.9) rotate(12)"/><rect x="-2.4" y="-1.35" width="4.8" height="2.7" rx="1.3" transform="translate(31.0,12.7) rotate(22)"/><rect x="-2.4" y="-1.35" width="4.8" height="2.7" rx="1.3" transform="translate(28.2,18.0) rotate(33)"/><rect x="-2.4" y="-1.35" width="4.8" height="2.7" rx="1.3" transform="translate(39.3,7.3) rotate(11)"/><rect x="-2.4" y="-1.35" width="4.8" height="2.7" rx="1.3" transform="translate(38.0,12.6) rotate(18)"/><rect x="-2.4" y="-1.35" width="4.8" height="2.7" rx="1.3" transform="translate(35.9,17.6) rotate(26)"/><rect x="-2.4" y="-1.35" width="4.8" height="2.7" rx="1.3" transform="translate(33.2,22.3) rotate(34)"/><rect x="-2.4" y="-1.35" width="4.8" height="2.7" rx="1.3" transform="translate(45.2,8.4) rotate(11)"/><rect x="-2.4" y="-1.35" width="4.8" height="2.7" rx="1.3" transform="translate(43.7,14.5) rotate(18)"/><rect x="-2.4" y="-1.35" width="4.8" height="2.7" rx="1.3" transform="translate(41.3,20.2) rotate(26)"/><rect x="-2.4" y="-1.35" width="4.8" height="2.7" rx="1.3" transform="translate(38.2,25.6) rotate(34)"/><rect x="-2.4" y="-1.35" width="4.8" height="2.7" rx="1.3" transform="translate(15.0,22.4) rotate(146)"/><rect x="-2.4" y="-1.35" width="4.8" height="2.7" rx="1.3" transform="translate(10.8,24.8) rotate(156)"/><rect x="-2.4" y="-1.35" width="4.8" height="2.7" rx="1.3" transform="translate(6.2,26.3) rotate(167)"/><rect x="-2.4" y="-1.35" width="4.8" height="2.7" rx="1.3" transform="translate(18.7,27.8) rotate(146)"/><rect x="-2.4" y="-1.35" width="4.8" height="2.7" rx="1.3" transform="translate(13.4,30.7) rotate(156)"/><rect x="-2.4" y="-1.35" width="4.8" height="2.7" rx="1.3" transform="translate(7.6,32.6) rotate(167)"/><rect x="-2.4" y="-1.35" width="4.8" height="2.7" rx="1.3" transform="translate(23.0,32.7) rotate(145)"/><rect x="-2.4" y="-1.35" width="4.8" height="2.7" rx="1.3" transform="translate(18.4,35.5) rotate(153)"/><rect x="-2.4" y="-1.35" width="4.8" height="2.7" rx="1.3" transform="translate(13.4,37.7) rotate(160)"/><rect x="-2.4" y="-1.35" width="4.8" height="2.7" rx="1.3" transform="translate(8.2,39.1) rotate(168)"/><rect x="-2.4" y="-1.35" width="4.8" height="2.7" rx="1.3" transform="translate(26.5,37.6) rotate(145)"/><rect x="-2.4" y="-1.35" width="4.8" height="2.7" rx="1.3" transform="translate(21.2,40.8) rotate(153)"/><rect x="-2.4" y="-1.35" width="4.8" height="2.7" rx="1.3" transform="translate(15.5,43.3) rotate(160)"/><rect x="-2.4" y="-1.35" width="4.8" height="2.7" rx="1.3" transform="translate(9.5,45.0) rotate(168)"/><rect x="-2.4" y="-1.35" width="4.8" height="2.7" rx="1.3" transform="translate(-23.4,13.5) rotate(240)"/><rect x="-2.4" y="-1.35" width="4.8" height="2.7" rx="1.3" transform="translate(-25.4,9.0) rotate(250)"/><rect x="-2.4" y="-1.35" width="4.8" height="2.7" rx="1.3" transform="translate(-26.7,4.3) rotate(261)"/><rect x="-2.4" y="-1.35" width="4.8" height="2.7" rx="1.3" transform="translate(-29.0,16.7) rotate(240)"/><rect x="-2.4" y="-1.35" width="4.8" height="2.7" rx="1.3" transform="translate(-31.6,11.2) rotate(250)"/><rect x="-2.4" y="-1.35" width="4.8" height="2.7" rx="1.3" transform="translate(-33.1,5.4) rotate(261)"/><rect x="-2.4" y="-1.35" width="4.8" height="2.7" rx="1.3" transform="translate(-34.2,20.7) rotate(239)"/><rect x="-2.4" y="-1.35" width="4.8" height="2.7" rx="1.3" transform="translate(-36.7,15.9) rotate(247)"/><rect x="-2.4" y="-1.35" width="4.8" height="2.7" rx="1.3" transform="translate(-38.5,10.8) rotate(254)"/><rect x="-2.4" y="-1.35" width="4.8" height="2.7" rx="1.3" transform="translate(-39.6,5.5) rotate(262)"/><rect x="-2.4" y="-1.35" width="4.8" height="2.7" rx="1.3" transform="translate(-39.3,23.8) rotate(239)"/><rect x="-2.4" y="-1.35" width="4.8" height="2.7" rx="1.3" transform="translate(-42.2,18.3) rotate(247)"/><rect x="-2.4" y="-1.35" width="4.8" height="2.7" rx="1.3" transform="translate(-44.3,12.4) rotate(254)"/><rect x="-2.4" y="-1.35" width="4.8" height="2.7" rx="1.3" transform="translate(-45.6,6.4) rotate(262)"/><rect x="-2.4" y="-1.35" width="4.8" height="2.7" rx="1.3" transform="translate(-26.7,-3.9) rotate(188)"/><rect x="-2.4" y="-1.35" width="4.8" height="2.7" rx="1.3" transform="translate(-25.6,-8.6) rotate(199)"/><rect x="-2.4" y="-1.35" width="4.8" height="2.7" rx="1.3" transform="translate(-23.6,-13.0) rotate(209)"/><rect x="-2.4" y="-1.35" width="4.8" height="2.7" rx="1.3" transform="translate(-33.2,-4.8) rotate(188)"/><rect x="-2.4" y="-1.35" width="4.8" height="2.7" rx="1.3" transform="translate(-31.8,-10.7) rotate(199)"/><rect x="-2.4" y="-1.35" width="4.8" height="2.7" rx="1.3" transform="translate(-29.3,-16.2) rotate(209)"/><rect x="-2.4" y="-1.35" width="4.8" height="2.7" rx="1.3" transform="translate(-39.7,-4.8) rotate(187)"/><rect x="-2.4" y="-1.35" width="4.8" height="2.7" rx="1.3" transform="translate(-38.7,-10.1) rotate(195)"/><rect x="-2.4" y="-1.35" width="4.8" height="2.7" rx="1.3" transform="translate(-37.0,-15.3) rotate(202)"/><rect x="-2.4" y="-1.35" width="4.8" height="2.7" rx="1.3" transform="translate(-34.6,-20.1) rotate(210)"/><rect x="-2.4" y="-1.35" width="4.8" height="2.7" rx="1.3" transform="translate(-45.7,-5.5) rotate(187)"/><rect x="-2.4" y="-1.35" width="4.8" height="2.7" rx="1.3" transform="translate(-44.5,-11.7) rotate(195)"/><rect x="-2.4" y="-1.35" width="4.8" height="2.7" rx="1.3" transform="translate(-42.5,-17.5) rotate(202)"/><rect x="-2.4" y="-1.35" width="4.8" height="2.7" rx="1.3" transform="translate(-39.8,-23.1) rotate(210)"/><rect x="-2.4" y="-1.35" width="4.8" height="2.7" rx="1.3" transform="translate(-14.6,-22.7) rotate(327)"/><rect x="-2.4" y="-1.35" width="4.8" height="2.7" rx="1.3" transform="translate(-10.3,-24.9) rotate(338)"/><rect x="-2.4" y="-1.35" width="4.8" height="2.7" rx="1.3" transform="translate(-5.7,-26.4) rotate(348)"/><rect x="-2.4" y="-1.35" width="4.8" height="2.7" rx="1.3" transform="translate(-18.2,-28.2) rotate(327)"/><rect x="-2.4" y="-1.35" width="4.8" height="2.7" rx="1.3" transform="translate(-12.8,-31.0) rotate(338)"/><rect x="-2.4" y="-1.35" width="4.8" height="2.7" rx="1.3" transform="translate(-7.0,-32.8) rotate(348)"/><rect x="-2.4" y="-1.35" width="4.8" height="2.7" rx="1.3" transform="translate(-22.4,-33.1) rotate(326)"/><rect x="-2.4" y="-1.35" width="4.8" height="2.7" rx="1.3" transform="translate(-17.8,-35.8) rotate(334)"/><rect x="-2.4" y="-1.35" width="4.8" height="2.7" rx="1.3" transform="translate(-12.8,-37.9) rotate(341)"/><rect x="-2.4" y="-1.35" width="4.8" height="2.7" rx="1.3" transform="translate(-7.5,-39.3) rotate(349)"/><rect x="-2.4" y="-1.35" width="4.8" height="2.7" rx="1.3" transform="translate(-25.8,-38.1) rotate(326)"/><rect x="-2.4" y="-1.35" width="4.8" height="2.7" rx="1.3" transform="translate(-20.4,-41.2) rotate(334)"/><rect x="-2.4" y="-1.35" width="4.8" height="2.7" rx="1.3" transform="translate(-14.7,-43.6) rotate(341)"/><rect x="-2.4" y="-1.35" width="4.8" height="2.7" rx="1.3" transform="translate(-8.7,-45.2) rotate(349)"/><rect x="-2.4" y="-1.35" width="4.8" height="2.7" rx="1.3" transform="translate(7.1,-26.0) rotate(285)"/><rect x="-2.4" y="-1.35" width="4.8" height="2.7" rx="1.3" transform="translate(11.7,-24.3) rotate(296)"/><rect x="-2.4" y="-1.35" width="4.8" height="2.7" rx="1.3" transform="translate(15.9,-21.8) rotate(306)"/><rect x="-2.4" y="-1.35" width="4.8" height="2.7" rx="1.3" transform="translate(8.9,-32.3) rotate(285)"/><rect x="-2.4" y="-1.35" width="4.8" height="2.7" rx="1.3" transform="translate(14.5,-30.2) rotate(296)"/><rect x="-2.4" y="-1.35" width="4.8" height="2.7" rx="1.3" transform="translate(19.7,-27.1) rotate(306)"/><rect x="-2.4" y="-1.35" width="4.8" height="2.7" rx="1.3" transform="translate(9.7,-38.8) rotate(284)"/><rect x="-2.4" y="-1.35" width="4.8" height="2.7" rx="1.3" transform="translate(14.9,-37.1) rotate(292)"/><rect x="-2.4" y="-1.35" width="4.8" height="2.7" rx="1.3" transform="translate(19.7,-34.8) rotate(300)"/><rect x="-2.4" y="-1.35" width="4.8" height="2.7" rx="1.3" transform="translate(24.2,-31.8) rotate(307)"/><rect x="-2.4" y="-1.35" width="4.8" height="2.7" rx="1.3" transform="translate(11.2,-44.6) rotate(284)"/><rect x="-2.4" y="-1.35" width="4.8" height="2.7" rx="1.3" transform="translate(17.1,-42.7) rotate(292)"/><rect x="-2.4" y="-1.35" width="4.8" height="2.7" rx="1.3" transform="translate(22.7,-40.0) rotate(300)"/><rect x="-2.4" y="-1.35" width="4.8" height="2.7" rx="1.3" transform="translate(27.9,-36.6) rotate(307)"/><rect x="-2.4" y="-1.35" width="4.8" height="2.7" rx="1.3" transform="translate(21.8,-15.9) rotate(414)"/><rect x="-2.4" y="-1.35" width="4.8" height="2.7" rx="1.3" transform="translate(24.3,-11.8) rotate(424)"/><rect x="-2.4" y="-1.35" width="4.8" height="2.7" rx="1.3" transform="translate(26.0,-7.2) rotate(434)"/><rect x="-2.4" y="-1.35" width="4.8" height="2.7" rx="1.3" transform="translate(27.0,-19.8) rotate(414)"/><rect x="-2.4" y="-1.35" width="4.8" height="2.7" rx="1.3" transform="translate(30.1,-14.6) rotate(424)"/><rect x="-2.4" y="-1.35" width="4.8" height="2.7" rx="1.3" transform="translate(32.3,-9.0) rotate(434)"/><rect x="-2.4" y="-1.35" width="4.8" height="2.7" rx="1.3" transform="translate(31.7,-24.3) rotate(413)"/><rect x="-2.4" y="-1.35" width="4.8" height="2.7" rx="1.3" transform="translate(34.7,-19.8) rotate(420)"/><rect x="-2.4" y="-1.35" width="4.8" height="2.7" rx="1.3" transform="translate(37.1,-15.0) rotate(428)"/><rect x="-2.4" y="-1.35" width="4.8" height="2.7" rx="1.3" transform="translate(38.8,-9.8) rotate(436)"/><rect x="-2.4" y="-1.35" width="4.8" height="2.7" rx="1.3" transform="translate(36.5,-28.0) rotate(413)"/><rect x="-2.4" y="-1.35" width="4.8" height="2.7" rx="1.3" transform="translate(39.9,-22.8) rotate(420)"/><rect x="-2.4" y="-1.35" width="4.8" height="2.7" rx="1.3" transform="translate(42.7,-17.2) rotate(428)"/><rect x="-2.4" y="-1.35" width="4.8" height="2.7" rx="1.3" transform="translate(44.6,-11.3) rotate(436)"/></g><path d="M2.2,21.9 L4.8,47.8 L-6.9,47.5 L-3.2,21.8 Z" fill="#33363b" opacity="0.75"/><circle r="21" fill="#a6aab2" stroke="#33363b" stroke-width="1" vector-effect="non-scaling-stroke"/><circle cx="7.6" cy="2.4" r="1.7" fill="#dfe1e4" stroke="#33363b" stroke-width="0.7" vector-effect="non-scaling-stroke"/><circle cx="1.8" cy="7.8" r="1.7" fill="#dfe1e4" stroke="#33363b" stroke-width="0.7" vector-effect="non-scaling-stroke"/><circle cx="-5.9" cy="5.4" r="1.7" fill="#dfe1e4" stroke="#33363b" stroke-width="0.7" vector-effect="non-scaling-stroke"/><circle cx="-7.6" cy="-2.4" r="1.7" fill="#dfe1e4" stroke="#33363b" stroke-width="0.7" vector-effect="non-scaling-stroke"/><circle cx="-1.8" cy="-7.8" r="1.7" fill="#dfe1e4" stroke="#33363b" stroke-width="0.7" vector-effect="non-scaling-stroke"/><circle cx="5.9" cy="-5.4" r="1.7" fill="#dfe1e4" stroke="#33363b" stroke-width="0.7" vector-effect="non-scaling-stroke"/><circle cx="14.3" cy="4.4" r="1.7" fill="#dfe1e4" stroke="#33363b" stroke-width="0.7" vector-effect="non-scaling-stroke"/><circle cx="9.0" cy="12.0" r="1.7" fill="#dfe1e4" stroke="#33363b" stroke-width="0.7" vector-effect="non-scaling-stroke"/><circle cx="0.2" cy="15.0" r="1.7" fill="#dfe1e4" stroke="#33363b" stroke-width="0.7" vector-effect="non-scaling-stroke"/><circle cx="-8.6" cy="12.3" r="1.7" fill="#dfe1e4" stroke="#33363b" stroke-width="0.7" vector-effect="non-scaling-stroke"/><circle cx="-14.2" cy="4.8" r="1.7" fill="#dfe1e4" stroke="#33363b" stroke-width="0.7" vector-effect="non-scaling-stroke"/><circle cx="-14.3" cy="-4.4" r="1.7" fill="#dfe1e4" stroke="#33363b" stroke-width="0.7" vector-effect="non-scaling-stroke"/><circle cx="-9.0" cy="-12.0" r="1.7" fill="#dfe1e4" stroke="#33363b" stroke-width="0.7" vector-effect="non-scaling-stroke"/><circle cx="-0.2" cy="-15.0" r="1.7" fill="#dfe1e4" stroke="#33363b" stroke-width="0.7" vector-effect="non-scaling-stroke"/><circle cx="8.6" cy="-12.3" r="1.7" fill="#dfe1e4" stroke="#33363b" stroke-width="0.7" vector-effect="non-scaling-stroke"/><circle cx="14.2" cy="-4.8" r="1.7" fill="#dfe1e4" stroke="#33363b" stroke-width="0.7" vector-effect="non-scaling-stroke"/><g stroke="#33363b" stroke-width="1.1" vector-effect="non-scaling-stroke"><line x1="0" y1="0" x2="4.5" y2="0.0"/><line x1="0" y1="0" x2="2.3" y2="3.9"/><line x1="0" y1="0" x2="-2.2" y2="3.9"/><line x1="0" y1="0" x2="-4.5" y2="0.0"/><line x1="0" y1="0" x2="-2.3" y2="-3.9"/><line x1="0" y1="0" x2="2.3" y2="-3.9"/></g><g transform="rotate(140.0)"><rect x="44" y="-5" width="16" height="10" rx="5" fill="#80848c" stroke="#1f1f1f" stroke-width="0.9" vector-effect="non-scaling-stroke"/></g></g></g>
</g>
<g opacity="1.0"><path d="M679.4,882.7 L679.6,880.9 L679.9,879.1 L680.4,877.4 L681.1,875.9 L681.9,874.4 L687.2,865.9 L688.2,864.5 L689.3,863.3 L690.6,862.2 L692.1,861.3 L693.6,860.5 L695.4,859.9 L697.2,859.4 L699.2,859.0 L701.2,858.8 L703.4,858.8 L705.7,858.9 L708.0,859.2 L710.4,859.6 L712.9,860.2 L715.4,860.9 L717.9,861.8 L720.5,862.8 L723.1,864.0 L725.7,865.3 L728.3,866.7 L730.9,868.2 L733.5,869.9 L736.0,871.7 L738.5,873.5 L740.9,875.5 L743.2,877.5 L745.5,879.6 L747.7,881.8 L749.7,884.0 L751.7,886.3 L753.5,888.6 L755.3,891.0 L756.9,893.3 L758.3,895.7 L759.6,898.1 L760.8,900.4 L761.8,902.7 L762.6,905.0 L763.3,907.3 L763.8,909.5 L764.2,911.6 L764.3,913.7 L764.3,915.7 L764.2,917.6 L763.8,919.4 L763.3,921.1 L762.7,922.7 L761.8,924.1 L760.8,925.5 L754.1,932.9 L753.0,934.1 L751.7,935.1 L750.3,936.1 L748.7,936.8 L747.1,937.5 L745.3,937.9 L743.3,938.3 L741.3,938.5 L739.2,938.5 L737.0,938.4 L734.7,938.1 L732.3,937.7 L729.9,937.1 L727.4,936.4 L724.9,935.5 L722.4,934.5 L719.8,933.4 L717.3,932.1 L714.7,930.7 L712.2,929.2 L709.7,927.6 L707.2,925.9 L704.8,924.1 L702.4,922.2 L700.1,920.2 L697.9,918.1 L695.8,916.0 L693.8,913.8 L691.8,911.5 L690.0,909.3 L688.3,907.0 L686.8,904.6 L685.3,902.3 L684.1,900.0 L682.9,897.7 L681.9,895.4 L681.1,893.2 L680.5,890.9 L680.0,888.8 L679.6,886.7 L679.4,884.7 Z" fill="#fff" stroke="#1f1f1f" stroke-width="1.1"/><line x1="715.8" y1="872.0" x2="721.7" y2="863.4" stroke="#1f1f1f" stroke-width="1"/><g transform="translate(718.5,903.0) rotate(40.0) scale(0.9300,0.5000)"><circle r="50" fill="#9ca1ab" stroke="#1f1f1f" stroke-width="1.1" vector-effect="non-scaling-stroke"/><g fill="#33363b"><rect x="-2.4" y="-1.35" width="4.8" height="2.7" rx="1.3" transform="translate(26.0,7.4) rotate(16)"/><rect x="-2.4" y="-1.35" width="4.8" height="2.7" rx="1.3" transform="translate(24.2,11.9) rotate(26)"/><rect x="-2.4" y="-1.35" width="4.8" height="2.7" rx="1.3" transform="translate(21.7,16.1) rotate(36)"/><rect x="-2.4" y="-1.35" width="4.8" height="2.7" rx="1.3" transform="translate(32.2,9.1) rotate(16)"/><rect x="-2.4" y="-1.35" width="4.8" height="2.7" rx="1.3" transform="translate(30.1,14.8) rotate(26)"/><rect x="-2.4" y="-1.35" width="4.8" height="2.7" rx="1.3" transform="translate(26.9,19.9) rotate(36)"/><rect x="-2.4" y="-1.35" width="4.8" height="2.7" rx="1.3" transform="translate(38.7,10.0) rotate(15)"/><rect x="-2.4" y="-1.35" width="4.8" height="2.7" rx="1.3" transform="translate(37.0,15.2) rotate(22)"/><rect x="-2.4" y="-1.35" width="4.8" height="2.7" rx="1.3" transform="translate(34.6,20.0) rotate(30)"/><rect x="-2.4" y="-1.35" width="4.8" height="2.7" rx="1.3" transform="translate(31.6,24.5) rotate(38)"/><rect x="-2.4" y="-1.35" width="4.8" height="2.7" rx="1.3" transform="translate(44.5,11.5) rotate(15)"/><rect x="-2.4" y="-1.35" width="4.8" height="2.7" rx="1.3" transform="translate(42.6,17.4) rotate(22)"/><rect x="-2.4" y="-1.35" width="4.8" height="2.7" rx="1.3" transform="translate(39.8,23.0) rotate(30)"/><rect x="-2.4" y="-1.35" width="4.8" height="2.7" rx="1.3" transform="translate(36.4,28.2) rotate(38)"/><rect x="-2.4" y="-1.35" width="4.8" height="2.7" rx="1.3" transform="translate(-4.0,26.7) rotate(99)"/><rect x="-2.4" y="-1.35" width="4.8" height="2.7" rx="1.3" transform="translate(-8.8,25.5) rotate(109)"/><rect x="-2.4" y="-1.35" width="4.8" height="2.7" rx="1.3" transform="translate(-13.2,23.5) rotate(119)"/><rect x="-2.4" y="-1.35" width="4.8" height="2.7" rx="1.3" transform="translate(-5.0,33.1) rotate(99)"/><rect x="-2.4" y="-1.35" width="4.8" height="2.7" rx="1.3" transform="translate(-10.9,31.7) rotate(109)"/><rect x="-2.4" y="-1.35" width="4.8" height="2.7" rx="1.3" transform="translate(-16.4,29.2) rotate(119)"/><rect x="-2.4" y="-1.35" width="4.8" height="2.7" rx="1.3" transform="translate(-5.1,39.7) rotate(97)"/><rect x="-2.4" y="-1.35" width="4.8" height="2.7" rx="1.3" transform="translate(-10.4,38.6) rotate(105)"/><rect x="-2.4" y="-1.35" width="4.8" height="2.7" rx="1.3" transform="translate(-15.5,36.9) rotate(113)"/><rect x="-2.4" y="-1.35" width="4.8" height="2.7" rx="1.3" transform="translate(-20.3,34.4) rotate(121)"/><rect x="-2.4" y="-1.35" width="4.8" height="2.7" rx="1.3" transform="translate(-5.9,45.6) rotate(97)"/><rect x="-2.4" y="-1.35" width="4.8" height="2.7" rx="1.3" transform="translate(-12.0,44.4) rotate(105)"/><rect x="-2.4" y="-1.35" width="4.8" height="2.7" rx="1.3" transform="translate(-17.8,42.4) rotate(113)"/><rect x="-2.4" y="-1.35" width="4.8" height="2.7" rx="1.3" transform="translate(-23.4,39.6) rotate(121)"/><rect x="-2.4" y="-1.35" width="4.8" height="2.7" rx="1.3" transform="translate(-21.8,15.9) rotate(234)"/><rect x="-2.4" y="-1.35" width="4.8" height="2.7" rx="1.3" transform="translate(-24.3,11.8) rotate(244)"/><rect x="-2.4" y="-1.35" width="4.8" height="2.7" rx="1.3" transform="translate(-26.0,7.2) rotate(255)"/><rect x="-2.4" y="-1.35" width="4.8" height="2.7" rx="1.3" transform="translate(-27.0,19.8) rotate(234)"/><rect x="-2.4" y="-1.35" width="4.8" height="2.7" rx="1.3" transform="translate(-30.2,14.6) rotate(244)"/><rect x="-2.4" y="-1.35" width="4.8" height="2.7" rx="1.3" transform="translate(-32.3,8.9) rotate(255)"/><rect x="-2.4" y="-1.35" width="4.8" height="2.7" rx="1.3" transform="translate(-31.8,24.3) rotate(233)"/><rect x="-2.4" y="-1.35" width="4.8" height="2.7" rx="1.3" transform="translate(-34.7,19.8) rotate(240)"/><rect x="-2.4" y="-1.35" width="4.8" height="2.7" rx="1.3" transform="translate(-37.1,14.9) rotate(248)"/><rect x="-2.4" y="-1.35" width="4.8" height="2.7" rx="1.3" transform="translate(-38.8,9.8) rotate(256)"/><rect x="-2.4" y="-1.35" width="4.8" height="2.7" rx="1.3" transform="translate(-36.5,28.0) rotate(233)"/><rect x="-2.4" y="-1.35" width="4.8" height="2.7" rx="1.3" transform="translate(-40.0,22.8) rotate(240)"/><rect x="-2.4" y="-1.35" width="4.8" height="2.7" rx="1.3" transform="translate(-42.7,17.2) rotate(248)"/><rect x="-2.4" y="-1.35" width="4.8" height="2.7" rx="1.3" transform="translate(-44.6,11.3) rotate(256)"/><rect x="-2.4" y="-1.35" width="4.8" height="2.7" rx="1.3" transform="translate(-26.1,-6.9) rotate(195)"/><rect x="-2.4" y="-1.35" width="4.8" height="2.7" rx="1.3" transform="translate(-24.4,-11.5) rotate(205)"/><rect x="-2.4" y="-1.35" width="4.8" height="2.7" rx="1.3" transform="translate(-22.0,-15.7) rotate(216)"/><rect x="-2.4" y="-1.35" width="4.8" height="2.7" rx="1.3" transform="translate(-32.4,-8.6) rotate(195)"/><rect x="-2.4" y="-1.35" width="4.8" height="2.7" rx="1.3" transform="translate(-30.3,-14.3) rotate(205)"/><rect x="-2.4" y="-1.35" width="4.8" height="2.7" rx="1.3" transform="translate(-27.3,-19.5) rotate(216)"/><rect x="-2.4" y="-1.35" width="4.8" height="2.7" rx="1.3" transform="translate(-38.9,-9.4) rotate(194)"/><rect x="-2.4" y="-1.35" width="4.8" height="2.7" rx="1.3" transform="translate(-37.3,-14.5) rotate(201)"/><rect x="-2.4" y="-1.35" width="4.8" height="2.7" rx="1.3" transform="translate(-35.0,-19.4) rotate(209)"/><rect x="-2.4" y="-1.35" width="4.8" height="2.7" rx="1.3" transform="translate(-32.0,-24.0) rotate(217)"/><rect x="-2.4" y="-1.35" width="4.8" height="2.7" rx="1.3" transform="translate(-44.7,-10.8) rotate(194)"/><rect x="-2.4" y="-1.35" width="4.8" height="2.7" rx="1.3" transform="translate(-42.9,-16.7) rotate(201)"/><rect x="-2.4" y="-1.35" width="4.8" height="2.7" rx="1.3" transform="translate(-40.2,-22.3) rotate(209)"/><rect x="-2.4" y="-1.35" width="4.8" height="2.7" rx="1.3" transform="translate(-36.8,-27.6) rotate(217)"/><rect x="-2.4" y="-1.35" width="4.8" height="2.7" rx="1.3" transform="translate(-13.9,-23.2) rotate(329)"/><rect x="-2.4" y="-1.35" width="4.8" height="2.7" rx="1.3" transform="translate(-9.5,-25.3) rotate(339)"/><rect x="-2.4" y="-1.35" width="4.8" height="2.7" rx="1.3" transform="translate(-4.8,-26.6) rotate(350)"/><rect x="-2.4" y="-1.35" width="4.8" height="2.7" rx="1.3" transform="translate(-17.2,-28.7) rotate(329)"/><rect x="-2.4" y="-1.35" width="4.8" height="2.7" rx="1.3" transform="translate(-11.8,-31.4) rotate(339)"/><rect x="-2.4" y="-1.35" width="4.8" height="2.7" rx="1.3" transform="translate(-6.0,-33.0) rotate(350)"/><rect x="-2.4" y="-1.35" width="4.8" height="2.7" rx="1.3" transform="translate(-21.3,-33.8) rotate(328)"/><rect x="-2.4" y="-1.35" width="4.8" height="2.7" rx="1.3" transform="translate(-16.6,-36.4) rotate(336)"/><rect x="-2.4" y="-1.35" width="4.8" height="2.7" rx="1.3" transform="translate(-11.5,-38.3) rotate(343)"/><rect x="-2.4" y="-1.35" width="4.8" height="2.7" rx="1.3" transform="translate(-6.2,-39.5) rotate(351)"/><rect x="-2.4" y="-1.35" width="4.8" height="2.7" rx="1.3" transform="translate(-24.5,-38.9) rotate(328)"/><rect x="-2.4" y="-1.35" width="4.8" height="2.7" rx="1.3" transform="translate(-19.1,-41.9) rotate(336)"/><rect x="-2.4" y="-1.35" width="4.8" height="2.7" rx="1.3" transform="translate(-13.2,-44.1) rotate(343)"/><rect x="-2.4" y="-1.35" width="4.8" height="2.7" rx="1.3" transform="translate(-7.2,-45.4) rotate(351)"/><rect x="-2.4" y="-1.35" width="4.8" height="2.7" rx="1.3" transform="translate(6.3,-26.3) rotate(284)"/><rect x="-2.4" y="-1.35" width="4.8" height="2.7" rx="1.3" transform="translate(10.9,-24.7) rotate(294)"/><rect x="-2.4" y="-1.35" width="4.8" height="2.7" rx="1.3" transform="translate(15.2,-22.3) rotate(304)"/><rect x="-2.4" y="-1.35" width="4.8" height="2.7" rx="1.3" transform="translate(7.8,-32.6) rotate(284)"/><rect x="-2.4" y="-1.35" width="4.8" height="2.7" rx="1.3" transform="translate(13.5,-30.6) rotate(294)"/><rect x="-2.4" y="-1.35" width="4.8" height="2.7" rx="1.3" transform="translate(18.8,-27.7) rotate(304)"/><rect x="-2.4" y="-1.35" width="4.8" height="2.7" rx="1.3" transform="translate(8.5,-39.1) rotate(282)"/><rect x="-2.4" y="-1.35" width="4.8" height="2.7" rx="1.3" transform="translate(13.7,-37.6) rotate(290)"/><rect x="-2.4" y="-1.35" width="4.8" height="2.7" rx="1.3" transform="translate(18.6,-35.4) rotate(298)"/><rect x="-2.4" y="-1.35" width="4.8" height="2.7" rx="1.3" transform="translate(23.2,-32.6) rotate(305)"/><rect x="-2.4" y="-1.35" width="4.8" height="2.7" rx="1.3" transform="translate(9.7,-45.0) rotate(282)"/><rect x="-2.4" y="-1.35" width="4.8" height="2.7" rx="1.3" transform="translate(15.7,-43.2) rotate(290)"/><rect x="-2.4" y="-1.35" width="4.8" height="2.7" rx="1.3" transform="translate(21.4,-40.7) rotate(298)"/><rect x="-2.4" y="-1.35" width="4.8" height="2.7" rx="1.3" transform="translate(26.7,-37.5) rotate(305)"/><rect x="-2.4" y="-1.35" width="4.8" height="2.7" rx="1.3" transform="translate(22.3,-15.2) rotate(416)"/><rect x="-2.4" y="-1.35" width="4.8" height="2.7" rx="1.3" transform="translate(24.7,-11.0) rotate(426)"/><rect x="-2.4" y="-1.35" width="4.8" height="2.7" rx="1.3" transform="translate(26.2,-6.4) rotate(436)"/><rect x="-2.4" y="-1.35" width="4.8" height="2.7" rx="1.3" transform="translate(27.7,-18.9) rotate(416)"/><rect x="-2.4" y="-1.35" width="4.8" height="2.7" rx="1.3" transform="translate(30.6,-13.6) rotate(426)"/><rect x="-2.4" y="-1.35" width="4.8" height="2.7" rx="1.3" transform="translate(32.5,-7.9) rotate(436)"/><rect x="-2.4" y="-1.35" width="4.8" height="2.7" rx="1.3" transform="translate(32.5,-23.3) rotate(414)"/><rect x="-2.4" y="-1.35" width="4.8" height="2.7" rx="1.3" transform="translate(35.3,-18.7) rotate(422)"/><rect x="-2.4" y="-1.35" width="4.8" height="2.7" rx="1.3" transform="translate(37.5,-13.8) rotate(430)"/><rect x="-2.4" y="-1.35" width="4.8" height="2.7" rx="1.3" transform="translate(39.1,-8.6) rotate(438)"/><rect x="-2.4" y="-1.35" width="4.8" height="2.7" rx="1.3" transform="translate(37.4,-26.8) rotate(414)"/><rect x="-2.4" y="-1.35" width="4.8" height="2.7" rx="1.3" transform="translate(40.6,-21.5) rotate(422)"/><rect x="-2.4" y="-1.35" width="4.8" height="2.7" rx="1.3" transform="translate(43.2,-15.9) rotate(430)"/><rect x="-2.4" y="-1.35" width="4.8" height="2.7" rx="1.3" transform="translate(44.9,-9.9) rotate(438)"/></g><path d="M4.9,21.4 L10.8,46.8 L-0.9,48.0 L-0.4,22.0 Z" fill="#33363b" opacity="0.75"/><circle r="21" fill="#a6aab2" stroke="#33363b" stroke-width="1" vector-effect="non-scaling-stroke"/><circle cx="7.6" cy="2.4" r="1.7" fill="#dfe1e4" stroke="#33363b" stroke-width="0.7" vector-effect="non-scaling-stroke"/><circle cx="1.8" cy="7.8" r="1.7" fill="#dfe1e4" stroke="#33363b" stroke-width="0.7" vector-effect="non-scaling-stroke"/><circle cx="-5.9" cy="5.4" r="1.7" fill="#dfe1e4" stroke="#33363b" stroke-width="0.7" vector-effect="non-scaling-stroke"/><circle cx="-7.6" cy="-2.4" r="1.7" fill="#dfe1e4" stroke="#33363b" stroke-width="0.7" vector-effect="non-scaling-stroke"/><circle cx="-1.8" cy="-7.8" r="1.7" fill="#dfe1e4" stroke="#33363b" stroke-width="0.7" vector-effect="non-scaling-stroke"/><circle cx="5.9" cy="-5.4" r="1.7" fill="#dfe1e4" stroke="#33363b" stroke-width="0.7" vector-effect="non-scaling-stroke"/><circle cx="14.3" cy="4.4" r="1.7" fill="#dfe1e4" stroke="#33363b" stroke-width="0.7" vector-effect="non-scaling-stroke"/><circle cx="9.0" cy="12.0" r="1.7" fill="#dfe1e4" stroke="#33363b" stroke-width="0.7" vector-effect="non-scaling-stroke"/><circle cx="0.2" cy="15.0" r="1.7" fill="#dfe1e4" stroke="#33363b" stroke-width="0.7" vector-effect="non-scaling-stroke"/><circle cx="-8.6" cy="12.3" r="1.7" fill="#dfe1e4" stroke="#33363b" stroke-width="0.7" vector-effect="non-scaling-stroke"/><circle cx="-14.2" cy="4.8" r="1.7" fill="#dfe1e4" stroke="#33363b" stroke-width="0.7" vector-effect="non-scaling-stroke"/><circle cx="-14.3" cy="-4.4" r="1.7" fill="#dfe1e4" stroke="#33363b" stroke-width="0.7" vector-effect="non-scaling-stroke"/><circle cx="-9.0" cy="-12.0" r="1.7" fill="#dfe1e4" stroke="#33363b" stroke-width="0.7" vector-effect="non-scaling-stroke"/><circle cx="-0.2" cy="-15.0" r="1.7" fill="#dfe1e4" stroke="#33363b" stroke-width="0.7" vector-effect="non-scaling-stroke"/><circle cx="8.6" cy="-12.3" r="1.7" fill="#dfe1e4" stroke="#33363b" stroke-width="0.7" vector-effect="non-scaling-stroke"/><circle cx="14.2" cy="-4.8" r="1.7" fill="#dfe1e4" stroke="#33363b" stroke-width="0.7" vector-effect="non-scaling-stroke"/><g stroke="#33363b" stroke-width="1.1" vector-effect="non-scaling-stroke"><line x1="0" y1="0" x2="4.5" y2="0.0"/><line x1="0" y1="0" x2="2.3" y2="3.9"/><line x1="0" y1="0" x2="-2.2" y2="3.9"/><line x1="0" y1="0" x2="-4.5" y2="0.0"/><line x1="0" y1="0" x2="-2.3" y2="-3.9"/><line x1="0" y1="0" x2="2.3" y2="-3.9"/></g><g transform="rotate(53.5)"><rect x="44" y="-5" width="16" height="10" rx="5" fill="#80848c" stroke="#1f1f1f" stroke-width="0.9" vector-effect="non-scaling-stroke"/></g></g></g>
<text x="682.08" y="984.70" font-family="Liberation Sans" font-size="21" font-weight="normal" font-style="normal" fill="#1f1f1f" textLength="22.55" lengthAdjust="spacingAndGlyphs">35</text>
<circle cx="709.5" cy="971.5" r="2.2" fill="none" stroke="#1f1f1f" stroke-width="0.9"/>
<line x1="676" y1="995.6" x2="721" y2="995.6" stroke="#1f1f1f" stroke-width="1.3"/><path d="M670.2,995.6 L679.2,991.6 L679.2,999.6 Z" fill="#1f1f1f"/><path d="M726.8,995.6 L717.8,999.6 L717.8,991.6 Z" fill="#1f1f1f"/>
<clipPath id="clipPC"><rect x="980" y="840" width="590" height="312"/></clipPath>
<g clip-path="url(#clipPC)"><g transform="translate(1027.6,472.4)"><g stroke="#1f1f1f" stroke-width="1.1" fill="none"><path d="M256.7,623.4 L280.2,729"/><path d="M269.4,623.4 L290.4,729"/><path d="M294.9,631 L303.8,695.3"/><path d="M309.5,597 L315.9,694.7"/></g><path d="M305,553.5 C309,550 312,549.5 316,549.5 L344,549.3 L344,561.9 L316,562.4 C313,562.4 311,563 308.5,566.6 Z" fill="#fff" stroke="#1f1f1f" stroke-width="1.1"/><ellipse cx="346.8" cy="555.6" rx="6.6" ry="17" fill="#fff" stroke="#1f1f1f" stroke-width="1.1"/><ellipse cx="344.8" cy="555.6" rx="4.5" ry="15.5" fill="none" stroke="#1f1f1f" stroke-width="0.9"/><path d="M266,506 L271.3,521.5 C276,534 279,548 281,558 C283.5,572 287.5,585 291.3,599.1 L310.1,597 C310.5,585 309.5,568 306.5,556 C303.5,543 298.5,530 293.4,517.9 L287,503 Z" fill="#fff" stroke="#1f1f1f" stroke-width="1.1"/><g stroke="#1f1f1f" stroke-width="1.1" fill="#fff" stroke-linejoin="round"><path d="M267,588 C271,584 277,579 283,575 L289.3,596.6 L270,592 Z"/><ellipse cx="278" cy="586.5" rx="5" ry="3.6" transform="rotate(-25 278 586.5)"/><path d="M285.6,591 L289.3,596.6 L290,599 L293,600.3 L308.4,598.4 L307.8,630.6 L307.2,631.2 L275.7,622.5 L268,590 Z" fill="#f6f6f6"/><path d="M290.5,601 C291.5,604 292.5,606.5 293.6,608.3 L305.3,607.1" fill="none"/><path d="M233,586.4 L268.3,588.5 L276.3,622.5 L254,618.2 C246,616 240,612 235.5,607 Z"/><path d="M257.1,589.2 C253,594 251,600 251.6,607 C252,611 253,615 254,618.2" fill="none"/><path d="M239.8,588 C236.5,593 235,600 235.5,607" fill="none"/><path d="M232.4,586.7 L236.1,586.4 L239.8,588 C236.5,593 235,600 235.5,607 L232.4,604.6 C230.5,599 230.5,592 232.4,586.7 Z"/><path d="M269.5,590 C265,596 264,610 267,620.7 L276.3,622.5 L276.3,590 Z" fill="#fff"/><path d="M265,604 L275.5,604.5 M265,607.5 L275.5,608 M265.2,611 L275,611.5 M265.6,614.3 L275,614.8 M266,592 L276,593 M265.5,595 L276,596" stroke-width="1.2"/><ellipse cx="312.5" cy="609.3" rx="4.2" ry="13.2"/><ellipse cx="311" cy="609.3" rx="2.8" ry="12" fill="none" stroke-width="0.8"/><path d="M238,612 L249,606.5 L253.4,619 L243,625.6 Z"/><path d="M241,610.5 L246,623" fill="none" stroke-width="0.8"/><path d="M257.1,621 L269,619.4 L270.7,634 L259.6,636.8 Z"/><path d="M258,626.5 L270,625" fill="none" stroke-width="0.8"/></g></g></g>
<g fill="#fff" stroke="#8a8a8a" stroke-width="1"><path d="M1359.6,985 L1359.6,991.1 C1360,1002 1359,1013 1357.5,1022.6 C1355,1037 1350,1050 1345,1062.4 L1347,1068.7 C1356,1058 1363,1047 1368,1035.1 C1373,1024 1376,1012 1377.5,1001.6 L1378,995 Z"/><path d="M1262,1003 C1264,1005 1266,1006.5 1267.4,1007.9 C1280,1014 1295,1022 1305.1,1030.9 C1310,1040 1313,1049 1315.6,1058.2 L1300,1060 C1298,1058 1297.5,1057 1296.8,1056.1 C1287,1044 1274,1034 1261.1,1026.8 L1258,1024 Z"/></g>
<g transform="translate(1027.6,472.4)"><path d="M266,506 L271.3,521.5 C276,534 279,548 281,558 C283.5,572 287.5,585 291.3,599.1 L310.1,597 C310.5,585 309.5,568 306.5,556 C303.5,543 298.5,530 293.4,517.9 L287,503 Z" fill="#fff" stroke="#1f1f1f" stroke-width="1.1"/></g>
<g opacity="0.65"><path d="M1170.9,999.1 L1171.0,997.7 L1171.3,996.3 L1171.8,995.0 L1172.6,993.7 L1173.5,992.4 L1174.7,991.2 L1176.1,990.0 L1177.7,989.0 L1179.5,988.0 L1181.4,987.0 L1183.6,986.2 L1185.9,985.4 L1188.3,984.7 L1191.0,984.1 L1193.7,983.6 L1196.6,983.1 L1199.6,982.8 L1202.7,982.6 L1205.9,982.4 L1209.1,982.4 L1212.4,982.4 L1215.8,982.6 L1219.2,982.8 L1222.6,983.1 L1226.0,983.6 L1229.4,984.1 L1232.8,984.7 L1236.1,985.4 L1239.4,986.2 L1242.6,987.1 L1245.7,988.0 L1248.7,989.0 L1251.6,990.1 L1254.4,991.3 L1257.1,992.5 L1259.6,993.7 L1261.9,995.0 L1264.1,996.4 L1266.1,997.8 L1267.9,999.2 L1269.6,1000.6 L1271.0,1002.1 L1272.2,1003.6 L1273.2,1005.0 L1274.0,1006.5 L1274.6,1008.0 L1275.0,1009.5 L1275.1,1010.9 L1275.0,1012.3 L1274.5,1018.1 L1274.2,1019.4 L1273.7,1020.8 L1273.0,1022.0 L1272.0,1023.2 L1270.9,1024.4 L1269.5,1025.5 L1268.0,1026.6 L1266.3,1027.5 L1264.4,1028.5 L1262.3,1029.3 L1260.0,1030.0 L1257.6,1030.7 L1255.1,1031.3 L1252.4,1031.8 L1249.6,1032.2 L1246.7,1032.6 L1243.7,1032.8 L1240.6,1032.9 L1237.5,1033.0 L1234.2,1032.9 L1231.0,1032.8 L1227.7,1032.5 L1224.4,1032.2 L1221.1,1031.8 L1217.8,1031.3 L1214.5,1030.7 L1211.3,1030.0 L1208.1,1029.2 L1205.0,1028.4 L1202.0,1027.5 L1199.0,1026.5 L1196.2,1025.5 L1193.5,1024.3 L1190.9,1023.2 L1188.5,1022.0 L1186.2,1020.7 L1184.1,1019.4 L1182.2,1018.0 L1180.4,1016.7 L1178.8,1015.3 L1177.4,1013.8 L1176.2,1012.4 L1175.2,1011.0 L1174.5,1009.5 L1172.0,1003.5 L1171.4,1002.0 L1171.0,1000.5 Z" fill="#fff" stroke="#555" stroke-width="1.1"/><line x1="1220.2" y1="989.4" x2="1219.1" y2="982.8" stroke="#555" stroke-width="1"/><g transform="translate(1224.0,1011.0) rotate(8.0) scale(1.0200,0.4200)"><circle r="50" fill="#c4c7cd" stroke="#555" stroke-width="1.1" vector-effect="non-scaling-stroke"/><g fill="#6f737a"><rect x="-2.4" y="-1.35" width="4.8" height="2.7" rx="1.3" transform="translate(26.3,6.0) rotate(13)"/><rect x="-2.4" y="-1.35" width="4.8" height="2.7" rx="1.3" transform="translate(24.8,10.6) rotate(23)"/><rect x="-2.4" y="-1.35" width="4.8" height="2.7" rx="1.3" transform="translate(22.5,14.9) rotate(33)"/><rect x="-2.4" y="-1.35" width="4.8" height="2.7" rx="1.3" transform="translate(32.7,7.4) rotate(13)"/><rect x="-2.4" y="-1.35" width="4.8" height="2.7" rx="1.3" transform="translate(30.8,13.1) rotate(23)"/><rect x="-2.4" y="-1.35" width="4.8" height="2.7" rx="1.3" transform="translate(28.0,18.4) rotate(33)"/><rect x="-2.4" y="-1.35" width="4.8" height="2.7" rx="1.3" transform="translate(39.2,7.9) rotate(11)"/><rect x="-2.4" y="-1.35" width="4.8" height="2.7" rx="1.3" transform="translate(37.8,13.2) rotate(19)"/><rect x="-2.4" y="-1.35" width="4.8" height="2.7" rx="1.3" transform="translate(35.7,18.1) rotate(27)"/><rect x="-2.4" y="-1.35" width="4.8" height="2.7" rx="1.3" transform="translate(32.9,22.8) rotate(35)"/><rect x="-2.4" y="-1.35" width="4.8" height="2.7" rx="1.3" transform="translate(45.1,9.1) rotate(11)"/><rect x="-2.4" y="-1.35" width="4.8" height="2.7" rx="1.3" transform="translate(43.4,15.1) rotate(19)"/><rect x="-2.4" y="-1.35" width="4.8" height="2.7" rx="1.3" transform="translate(41.0,20.8) rotate(27)"/><rect x="-2.4" y="-1.35" width="4.8" height="2.7" rx="1.3" transform="translate(37.8,26.2) rotate(35)"/><rect x="-2.4" y="-1.35" width="4.8" height="2.7" rx="1.3" transform="translate(-6.0,26.3) rotate(103)"/><rect x="-2.4" y="-1.35" width="4.8" height="2.7" rx="1.3" transform="translate(-10.6,24.8) rotate(113)"/><rect x="-2.4" y="-1.35" width="4.8" height="2.7" rx="1.3" transform="translate(-14.9,22.5) rotate(123)"/><rect x="-2.4" y="-1.35" width="4.8" height="2.7" rx="1.3" transform="translate(-7.4,32.7) rotate(103)"/><rect x="-2.4" y="-1.35" width="4.8" height="2.7" rx="1.3" transform="translate(-13.2,30.8) rotate(113)"/><rect x="-2.4" y="-1.35" width="4.8" height="2.7" rx="1.3" transform="translate(-18.5,27.9) rotate(123)"/><rect x="-2.4" y="-1.35" width="4.8" height="2.7" rx="1.3" transform="translate(-8.0,39.2) rotate(101)"/><rect x="-2.4" y="-1.35" width="4.8" height="2.7" rx="1.3" transform="translate(-13.2,37.8) rotate(109)"/><rect x="-2.4" y="-1.35" width="4.8" height="2.7" rx="1.3" transform="translate(-18.2,35.6) rotate(117)"/><rect x="-2.4" y="-1.35" width="4.8" height="2.7" rx="1.3" transform="translate(-22.8,32.9) rotate(125)"/><rect x="-2.4" y="-1.35" width="4.8" height="2.7" rx="1.3" transform="translate(-9.2,45.1) rotate(101)"/><rect x="-2.4" y="-1.35" width="4.8" height="2.7" rx="1.3" transform="translate(-15.2,43.4) rotate(109)"/><rect x="-2.4" y="-1.35" width="4.8" height="2.7" rx="1.3" transform="translate(-20.9,41.0) rotate(117)"/><rect x="-2.4" y="-1.35" width="4.8" height="2.7" rx="1.3" transform="translate(-26.2,37.8) rotate(125)"/><rect x="-2.4" y="-1.35" width="4.8" height="2.7" rx="1.3" transform="translate(-22.1,15.6) rotate(235)"/><rect x="-2.4" y="-1.35" width="4.8" height="2.7" rx="1.3" transform="translate(-24.5,11.3) rotate(245)"/><rect x="-2.4" y="-1.35" width="4.8" height="2.7" rx="1.3" transform="translate(-26.1,6.8) rotate(255)"/><rect x="-2.4" y="-1.35" width="4.8" height="2.7" rx="1.3" transform="translate(-27.4,19.3) rotate(235)"/><rect x="-2.4" y="-1.35" width="4.8" height="2.7" rx="1.3" transform="translate(-30.4,14.1) rotate(245)"/><rect x="-2.4" y="-1.35" width="4.8" height="2.7" rx="1.3" transform="translate(-32.4,8.4) rotate(255)"/><rect x="-2.4" y="-1.35" width="4.8" height="2.7" rx="1.3" transform="translate(-32.2,23.8) rotate(234)"/><rect x="-2.4" y="-1.35" width="4.8" height="2.7" rx="1.3" transform="translate(-35.1,19.2) rotate(241)"/><rect x="-2.4" y="-1.35" width="4.8" height="2.7" rx="1.3" transform="translate(-37.3,14.3) rotate(249)"/><rect x="-2.4" y="-1.35" width="4.8" height="2.7" rx="1.3" transform="translate(-38.9,9.2) rotate(257)"/><rect x="-2.4" y="-1.35" width="4.8" height="2.7" rx="1.3" transform="translate(-37.0,27.3) rotate(234)"/><rect x="-2.4" y="-1.35" width="4.8" height="2.7" rx="1.3" transform="translate(-40.3,22.1) rotate(241)"/><rect x="-2.4" y="-1.35" width="4.8" height="2.7" rx="1.3" transform="translate(-43.0,16.5) rotate(249)"/><rect x="-2.4" y="-1.35" width="4.8" height="2.7" rx="1.3" transform="translate(-44.8,10.5) rotate(257)"/><rect x="-2.4" y="-1.35" width="4.8" height="2.7" rx="1.3" transform="translate(-26.1,-6.8) rotate(195)"/><rect x="-2.4" y="-1.35" width="4.8" height="2.7" rx="1.3" transform="translate(-24.5,-11.4) rotate(205)"/><rect x="-2.4" y="-1.35" width="4.8" height="2.7" rx="1.3" transform="translate(-22.0,-15.6) rotate(215)"/><rect x="-2.4" y="-1.35" width="4.8" height="2.7" rx="1.3" transform="translate(-32.4,-8.5) rotate(195)"/><rect x="-2.4" y="-1.35" width="4.8" height="2.7" rx="1.3" transform="translate(-30.4,-14.2) rotate(205)"/><rect x="-2.4" y="-1.35" width="4.8" height="2.7" rx="1.3" transform="translate(-27.3,-19.4) rotate(215)"/><rect x="-2.4" y="-1.35" width="4.8" height="2.7" rx="1.3" transform="translate(-38.9,-9.3) rotate(193)"/><rect x="-2.4" y="-1.35" width="4.8" height="2.7" rx="1.3" transform="translate(-37.3,-14.4) rotate(201)"/><rect x="-2.4" y="-1.35" width="4.8" height="2.7" rx="1.3" transform="translate(-35.0,-19.3) rotate(209)"/><rect x="-2.4" y="-1.35" width="4.8" height="2.7" rx="1.3" transform="translate(-32.1,-23.9) rotate(217)"/><rect x="-2.4" y="-1.35" width="4.8" height="2.7" rx="1.3" transform="translate(-44.8,-10.6) rotate(193)"/><rect x="-2.4" y="-1.35" width="4.8" height="2.7" rx="1.3" transform="translate(-42.9,-16.6) rotate(201)"/><rect x="-2.4" y="-1.35" width="4.8" height="2.7" rx="1.3" transform="translate(-40.3,-22.2) rotate(209)"/><rect x="-2.4" y="-1.35" width="4.8" height="2.7" rx="1.3" transform="translate(-36.9,-27.4) rotate(217)"/><rect x="-2.4" y="-1.35" width="4.8" height="2.7" rx="1.3" transform="translate(-13.6,-23.3) rotate(330)"/><rect x="-2.4" y="-1.35" width="4.8" height="2.7" rx="1.3" transform="translate(-9.2,-25.4) rotate(340)"/><rect x="-2.4" y="-1.35" width="4.8" height="2.7" rx="1.3" transform="translate(-4.5,-26.6) rotate(350)"/><rect x="-2.4" y="-1.35" width="4.8" height="2.7" rx="1.3" transform="translate(-16.9,-28.9) rotate(330)"/><rect x="-2.4" y="-1.35" width="4.8" height="2.7" rx="1.3" transform="translate(-11.4,-31.5) rotate(340)"/><rect x="-2.4" y="-1.35" width="4.8" height="2.7" rx="1.3" transform="translate(-5.6,-33.0) rotate(350)"/><rect x="-2.4" y="-1.35" width="4.8" height="2.7" rx="1.3" transform="translate(-20.9,-34.1) rotate(328)"/><rect x="-2.4" y="-1.35" width="4.8" height="2.7" rx="1.3" transform="translate(-16.1,-36.6) rotate(336)"/><rect x="-2.4" y="-1.35" width="4.8" height="2.7" rx="1.3" transform="translate(-11.0,-38.4) rotate(344)"/><rect x="-2.4" y="-1.35" width="4.8" height="2.7" rx="1.3" transform="translate(-5.8,-39.6) rotate(352)"/><rect x="-2.4" y="-1.35" width="4.8" height="2.7" rx="1.3" transform="translate(-24.1,-39.2) rotate(328)"/><rect x="-2.4" y="-1.35" width="4.8" height="2.7" rx="1.3" transform="translate(-18.6,-42.1) rotate(336)"/><rect x="-2.4" y="-1.35" width="4.8" height="2.7" rx="1.3" transform="translate(-12.7,-44.2) rotate(344)"/><rect x="-2.4" y="-1.35" width="4.8" height="2.7" rx="1.3" transform="translate(-6.6,-45.5) rotate(352)"/><rect x="-2.4" y="-1.35" width="4.8" height="2.7" rx="1.3" transform="translate(6.3,-26.3) rotate(283)"/><rect x="-2.4" y="-1.35" width="4.8" height="2.7" rx="1.3" transform="translate(10.9,-24.7) rotate(294)"/><rect x="-2.4" y="-1.35" width="4.8" height="2.7" rx="1.3" transform="translate(15.1,-22.4) rotate(304)"/><rect x="-2.4" y="-1.35" width="4.8" height="2.7" rx="1.3" transform="translate(7.8,-32.6) rotate(283)"/><rect x="-2.4" y="-1.35" width="4.8" height="2.7" rx="1.3" transform="translate(13.5,-30.7) rotate(294)"/><rect x="-2.4" y="-1.35" width="4.8" height="2.7" rx="1.3" transform="translate(18.8,-27.8) rotate(304)"/><rect x="-2.4" y="-1.35" width="4.8" height="2.7" rx="1.3" transform="translate(8.4,-39.1) rotate(282)"/><rect x="-2.4" y="-1.35" width="4.8" height="2.7" rx="1.3" transform="translate(13.6,-37.6) rotate(290)"/><rect x="-2.4" y="-1.35" width="4.8" height="2.7" rx="1.3" transform="translate(18.5,-35.4) rotate(298)"/><rect x="-2.4" y="-1.35" width="4.8" height="2.7" rx="1.3" transform="translate(23.1,-32.6) rotate(305)"/><rect x="-2.4" y="-1.35" width="4.8" height="2.7" rx="1.3" transform="translate(9.6,-45.0) rotate(282)"/><rect x="-2.4" y="-1.35" width="4.8" height="2.7" rx="1.3" transform="translate(15.6,-43.3) rotate(290)"/><rect x="-2.4" y="-1.35" width="4.8" height="2.7" rx="1.3" transform="translate(21.3,-40.8) rotate(298)"/><rect x="-2.4" y="-1.35" width="4.8" height="2.7" rx="1.3" transform="translate(26.6,-37.5) rotate(305)"/><rect x="-2.4" y="-1.35" width="4.8" height="2.7" rx="1.3" transform="translate(22.0,-15.7) rotate(414)"/><rect x="-2.4" y="-1.35" width="4.8" height="2.7" rx="1.3" transform="translate(24.4,-11.5) rotate(425)"/><rect x="-2.4" y="-1.35" width="4.8" height="2.7" rx="1.3" transform="translate(26.1,-6.9) rotate(435)"/><rect x="-2.4" y="-1.35" width="4.8" height="2.7" rx="1.3" transform="translate(27.3,-19.5) rotate(414)"/><rect x="-2.4" y="-1.35" width="4.8" height="2.7" rx="1.3" transform="translate(30.3,-14.3) rotate(425)"/><rect x="-2.4" y="-1.35" width="4.8" height="2.7" rx="1.3" transform="translate(32.4,-8.6) rotate(435)"/><rect x="-2.4" y="-1.35" width="4.8" height="2.7" rx="1.3" transform="translate(32.0,-24.0) rotate(413)"/><rect x="-2.4" y="-1.35" width="4.8" height="2.7" rx="1.3" transform="translate(35.0,-19.4) rotate(421)"/><rect x="-2.4" y="-1.35" width="4.8" height="2.7" rx="1.3" transform="translate(37.3,-14.6) rotate(429)"/><rect x="-2.4" y="-1.35" width="4.8" height="2.7" rx="1.3" transform="translate(38.9,-9.4) rotate(436)"/><rect x="-2.4" y="-1.35" width="4.8" height="2.7" rx="1.3" transform="translate(36.8,-27.6) rotate(413)"/><rect x="-2.4" y="-1.35" width="4.8" height="2.7" rx="1.3" transform="translate(40.2,-22.4) rotate(421)"/><rect x="-2.4" y="-1.35" width="4.8" height="2.7" rx="1.3" transform="translate(42.8,-16.7) rotate(429)"/><rect x="-2.4" y="-1.35" width="4.8" height="2.7" rx="1.3" transform="translate(44.7,-10.8) rotate(436)"/></g><path d="M11.5,18.7 L25.1,40.9 L14.5,45.8 L6.6,21.0 Z" fill="#6f737a" opacity="0.75"/><circle r="21" fill="#a6aab2" stroke="#6f737a" stroke-width="1" vector-effect="non-scaling-stroke"/><circle cx="7.6" cy="2.4" r="1.7" fill="#dfe1e4" stroke="#6f737a" stroke-width="0.7" vector-effect="non-scaling-stroke"/><circle cx="1.8" cy="7.8" r="1.7" fill="#dfe1e4" stroke="#6f737a" stroke-width="0.7" vector-effect="non-scaling-stroke"/><circle cx="-5.9" cy="5.4" r="1.7" fill="#dfe1e4" stroke="#6f737a" stroke-width="0.7" vector-effect="non-scaling-stroke"/><circle cx="-7.6" cy="-2.4" r="1.7" fill="#dfe1e4" stroke="#6f737a" stroke-width="0.7" vector-effect="non-scaling-stroke"/><circle cx="-1.8" cy="-7.8" r="1.7" fill="#dfe1e4" stroke="#6f737a" stroke-width="0.7" vector-effect="non-scaling-stroke"/><circle cx="5.9" cy="-5.4" r="1.7" fill="#dfe1e4" stroke="#6f737a" stroke-width="0.7" vector-effect="non-scaling-stroke"/><circle cx="14.3" cy="4.4" r="1.7" fill="#dfe1e4" stroke="#6f737a" stroke-width="0.7" vector-effect="non-scaling-stroke"/><circle cx="9.0" cy="12.0" r="1.7" fill="#dfe1e4" stroke="#6f737a" stroke-width="0.7" vector-effect="non-scaling-stroke"/><circle cx="0.2" cy="15.0" r="1.7" fill="#dfe1e4" stroke="#6f737a" stroke-width="0.7" vector-effect="non-scaling-stroke"/><circle cx="-8.6" cy="12.3" r="1.7" fill="#dfe1e4" stroke="#6f737a" stroke-width="0.7" vector-effect="non-scaling-stroke"/><circle cx="-14.2" cy="4.8" r="1.7" fill="#dfe1e4" stroke="#6f737a" stroke-width="0.7" vector-effect="non-scaling-stroke"/><circle cx="-14.3" cy="-4.4" r="1.7" fill="#dfe1e4" stroke="#6f737a" stroke-width="0.7" vector-effect="non-scaling-stroke"/><circle cx="-9.0" cy="-12.0" r="1.7" fill="#dfe1e4" stroke="#6f737a" stroke-width="0.7" vector-effect="non-scaling-stroke"/><circle cx="-0.2" cy="-15.0" r="1.7" fill="#dfe1e4" stroke="#6f737a" stroke-width="0.7" vector-effect="non-scaling-stroke"/><circle cx="8.6" cy="-12.3" r="1.7" fill="#dfe1e4" stroke="#6f737a" stroke-width="0.7" vector-effect="non-scaling-stroke"/><circle cx="14.2" cy="-4.8" r="1.7" fill="#dfe1e4" stroke="#6f737a" stroke-width="0.7" vector-effect="non-scaling-stroke"/><g stroke="#6f737a" stroke-width="1.1" vector-effect="non-scaling-stroke"><line x1="0" y1="0" x2="4.5" y2="0.0"/><line x1="0" y1="0" x2="2.3" y2="3.9"/><line x1="0" y1="0" x2="-2.2" y2="3.9"/><line x1="0" y1="0" x2="-4.5" y2="0.0"/><line x1="0" y1="0" x2="-2.3" y2="-3.9"/><line x1="0" y1="0" x2="2.3" y2="-3.9"/></g><g transform="rotate(65.4)"><rect x="44" y="-5" width="16" height="10" rx="5" fill="#80848c" stroke="#555" stroke-width="0.9" vector-effect="non-scaling-stroke"/></g></g></g>
<g opacity="0.65"><path d="M1343.1,930.8 L1343.1,927.9 L1343.3,925.1 L1343.5,922.4 L1343.8,919.9 L1344.3,917.4 L1344.8,915.2 L1345.4,913.0 L1346.2,911.0 L1347.0,909.2 L1347.9,907.6 L1348.9,906.1 L1350.0,904.8 L1351.2,903.7 L1352.4,902.9 L1353.7,902.2 L1355.1,901.7 L1356.5,901.4 L1357.9,901.4 L1363.6,901.9 L1365.2,902.1 L1366.8,902.4 L1368.4,903.0 L1370.1,903.8 L1371.7,904.8 L1373.4,906.0 L1375.1,907.4 L1376.7,909.0 L1378.4,910.7 L1380.1,912.7 L1381.7,914.8 L1383.3,917.1 L1384.8,919.5 L1386.3,922.0 L1387.7,924.7 L1389.1,927.5 L1390.4,930.5 L1391.7,933.5 L1392.9,936.5 L1394.0,939.7 L1395.0,942.9 L1395.9,946.1 L1396.7,949.4 L1397.4,952.7 L1398.1,956.0 L1398.6,959.2 L1399.0,962.4 L1399.3,965.6 L1399.5,968.7 L1399.6,971.8 L1399.6,974.8 L1399.5,977.6 L1399.2,980.4 L1398.9,983.0 L1398.5,985.5 L1397.9,987.9 L1397.2,990.1 L1396.5,992.1 L1395.6,994.0 L1394.7,995.7 L1393.7,997.2 L1392.5,998.5 L1391.3,999.6 L1390.1,1000.6 L1388.7,1001.3 L1387.3,1001.7 L1385.9,1002.0 L1384.4,1002.1 L1382.8,1001.9 L1381.2,1001.6 L1379.6,1001.0 L1377.9,1000.2 L1371.8,996.8 L1370.2,995.8 L1368.6,994.7 L1367.0,993.3 L1365.3,991.8 L1363.7,990.1 L1362.1,988.2 L1360.6,986.1 L1359.0,983.9 L1357.5,981.6 L1356.1,979.1 L1354.7,976.5 L1353.3,973.7 L1352.0,970.9 L1350.8,968.0 L1349.7,965.0 L1348.6,961.9 L1347.6,958.8 L1346.7,955.7 L1345.9,952.5 L1345.2,949.3 L1344.6,946.2 L1344.1,943.0 L1343.7,939.9 L1343.4,936.8 L1343.2,933.7 Z" fill="#fff" stroke="#555" stroke-width="1.1"/><line x1="1387.6" y1="938.7" x2="1394.2" y2="940.4" stroke="#555" stroke-width="1"/><g transform="translate(1368.0,950.0) rotate(75.0) scale(1.0000,0.4400)"><circle r="50" fill="#c4c7cd" stroke="#555" stroke-width="1.1" vector-effect="non-scaling-stroke"/><g fill="#6f737a"><rect x="-2.4" y="-1.35" width="4.8" height="2.7" rx="1.3" transform="translate(26.4,5.5) rotate(12)"/><rect x="-2.4" y="-1.35" width="4.8" height="2.7" rx="1.3" transform="translate(25.0,10.2) rotate(22)"/><rect x="-2.4" y="-1.35" width="4.8" height="2.7" rx="1.3" transform="translate(22.8,14.5) rotate(32)"/><rect x="-2.4" y="-1.35" width="4.8" height="2.7" rx="1.3" transform="translate(32.8,6.8) rotate(12)"/><rect x="-2.4" y="-1.35" width="4.8" height="2.7" rx="1.3" transform="translate(31.0,12.6) rotate(22)"/><rect x="-2.4" y="-1.35" width="4.8" height="2.7" rx="1.3" transform="translate(28.3,18.0) rotate(32)"/><rect x="-2.4" y="-1.35" width="4.8" height="2.7" rx="1.3" transform="translate(39.3,7.3) rotate(10)"/><rect x="-2.4" y="-1.35" width="4.8" height="2.7" rx="1.3" transform="translate(38.0,12.5) rotate(18)"/><rect x="-2.4" y="-1.35" width="4.8" height="2.7" rx="1.3" transform="translate(36.0,17.5) rotate(26)"/><rect x="-2.4" y="-1.35" width="4.8" height="2.7" rx="1.3" transform="translate(33.3,22.2) rotate(34)"/><rect x="-2.4" y="-1.35" width="4.8" height="2.7" rx="1.3" transform="translate(45.2,8.4) rotate(10)"/><rect x="-2.4" y="-1.35" width="4.8" height="2.7" rx="1.3" transform="translate(43.7,14.4) rotate(18)"/><rect x="-2.4" y="-1.35" width="4.8" height="2.7" rx="1.3" transform="translate(41.3,20.2) rotate(26)"/><rect x="-2.4" y="-1.35" width="4.8" height="2.7" rx="1.3" transform="translate(38.3,25.6) rotate(34)"/><rect x="-2.4" y="-1.35" width="4.8" height="2.7" rx="1.3" transform="translate(-7.2,26.0) rotate(106)"/><rect x="-2.4" y="-1.35" width="4.8" height="2.7" rx="1.3" transform="translate(-11.8,24.3) rotate(116)"/><rect x="-2.4" y="-1.35" width="4.8" height="2.7" rx="1.3" transform="translate(-16.0,21.8) rotate(126)"/><rect x="-2.4" y="-1.35" width="4.8" height="2.7" rx="1.3" transform="translate(-9.0,32.3) rotate(106)"/><rect x="-2.4" y="-1.35" width="4.8" height="2.7" rx="1.3" transform="translate(-14.6,30.1) rotate(116)"/><rect x="-2.4" y="-1.35" width="4.8" height="2.7" rx="1.3" transform="translate(-19.8,27.0) rotate(126)"/><rect x="-2.4" y="-1.35" width="4.8" height="2.7" rx="1.3" transform="translate(-9.9,38.8) rotate(104)"/><rect x="-2.4" y="-1.35" width="4.8" height="2.7" rx="1.3" transform="translate(-15.0,37.1) rotate(112)"/><rect x="-2.4" y="-1.35" width="4.8" height="2.7" rx="1.3" transform="translate(-19.9,34.7) rotate(120)"/><rect x="-2.4" y="-1.35" width="4.8" height="2.7" rx="1.3" transform="translate(-24.4,31.7) rotate(128)"/><rect x="-2.4" y="-1.35" width="4.8" height="2.7" rx="1.3" transform="translate(-11.3,44.6) rotate(104)"/><rect x="-2.4" y="-1.35" width="4.8" height="2.7" rx="1.3" transform="translate(-17.2,42.6) rotate(112)"/><rect x="-2.4" y="-1.35" width="4.8" height="2.7" rx="1.3" transform="translate(-22.8,39.9) rotate(120)"/><rect x="-2.4" y="-1.35" width="4.8" height="2.7" rx="1.3" transform="translate(-28.0,36.5) rotate(128)"/><rect x="-2.4" y="-1.35" width="4.8" height="2.7" rx="1.3" transform="translate(-22.6,14.7) rotate(237)"/><rect x="-2.4" y="-1.35" width="4.8" height="2.7" rx="1.3" transform="translate(-24.9,10.5) rotate(247)"/><rect x="-2.4" y="-1.35" width="4.8" height="2.7" rx="1.3" transform="translate(-26.4,5.8) rotate(258)"/><rect x="-2.4" y="-1.35" width="4.8" height="2.7" rx="1.3" transform="translate(-28.1,18.3) rotate(237)"/><rect x="-2.4" y="-1.35" width="4.8" height="2.7" rx="1.3" transform="translate(-30.9,13.0) rotate(247)"/><rect x="-2.4" y="-1.35" width="4.8" height="2.7" rx="1.3" transform="translate(-32.7,7.2) rotate(258)"/><rect x="-2.4" y="-1.35" width="4.8" height="2.7" rx="1.3" transform="translate(-33.0,22.6) rotate(236)"/><rect x="-2.4" y="-1.35" width="4.8" height="2.7" rx="1.3" transform="translate(-35.8,17.9) rotate(243)"/><rect x="-2.4" y="-1.35" width="4.8" height="2.7" rx="1.3" transform="translate(-37.8,13.0) rotate(251)"/><rect x="-2.4" y="-1.35" width="4.8" height="2.7" rx="1.3" transform="translate(-39.2,7.7) rotate(259)"/><rect x="-2.4" y="-1.35" width="4.8" height="2.7" rx="1.3" transform="translate(-38.0,26.0) rotate(236)"/><rect x="-2.4" y="-1.35" width="4.8" height="2.7" rx="1.3" transform="translate(-41.1,20.6) rotate(243)"/><rect x="-2.4" y="-1.35" width="4.8" height="2.7" rx="1.3" transform="translate(-43.5,14.9) rotate(251)"/><rect x="-2.4" y="-1.35" width="4.8" height="2.7" rx="1.3" transform="translate(-45.1,8.9) rotate(259)"/><rect x="-2.4" y="-1.35" width="4.8" height="2.7" rx="1.3" transform="translate(-26.4,-5.7) rotate(192)"/><rect x="-2.4" y="-1.35" width="4.8" height="2.7" rx="1.3" transform="translate(-24.9,-10.4) rotate(203)"/><rect x="-2.4" y="-1.35" width="4.8" height="2.7" rx="1.3" transform="translate(-22.7,-14.7) rotate(213)"/><rect x="-2.4" y="-1.35" width="4.8" height="2.7" rx="1.3" transform="translate(-32.7,-7.1) rotate(192)"/><rect x="-2.4" y="-1.35" width="4.8" height="2.7" rx="1.3" transform="translate(-30.9,-12.9) rotate(203)"/><rect x="-2.4" y="-1.35" width="4.8" height="2.7" rx="1.3" transform="translate(-28.1,-18.2) rotate(213)"/><rect x="-2.4" y="-1.35" width="4.8" height="2.7" rx="1.3" transform="translate(-39.3,-7.6) rotate(191)"/><rect x="-2.4" y="-1.35" width="4.8" height="2.7" rx="1.3" transform="translate(-37.9,-12.8) rotate(199)"/><rect x="-2.4" y="-1.35" width="4.8" height="2.7" rx="1.3" transform="translate(-35.8,-17.8) rotate(206)"/><rect x="-2.4" y="-1.35" width="4.8" height="2.7" rx="1.3" transform="translate(-33.1,-22.5) rotate(214)"/><rect x="-2.4" y="-1.35" width="4.8" height="2.7" rx="1.3" transform="translate(-45.2,-8.7) rotate(191)"/><rect x="-2.4" y="-1.35" width="4.8" height="2.7" rx="1.3" transform="translate(-43.6,-14.7) rotate(199)"/><rect x="-2.4" y="-1.35" width="4.8" height="2.7" rx="1.3" transform="translate(-41.2,-20.5) rotate(206)"/><rect x="-2.4" y="-1.35" width="4.8" height="2.7" rx="1.3" transform="translate(-38.1,-25.8) rotate(214)"/><rect x="-2.4" y="-1.35" width="4.8" height="2.7" rx="1.3" transform="translate(-14.4,-22.9) rotate(328)"/><rect x="-2.4" y="-1.35" width="4.8" height="2.7" rx="1.3" transform="translate(-10.0,-25.1) rotate(338)"/><rect x="-2.4" y="-1.35" width="4.8" height="2.7" rx="1.3" transform="translate(-5.4,-26.5) rotate(349)"/><rect x="-2.4" y="-1.35" width="4.8" height="2.7" rx="1.3" transform="translate(-17.8,-28.4) rotate(328)"/><rect x="-2.4" y="-1.35" width="4.8" height="2.7" rx="1.3" transform="translate(-12.4,-31.1) rotate(338)"/><rect x="-2.4" y="-1.35" width="4.8" height="2.7" rx="1.3" transform="translate(-6.7,-32.8) rotate(349)"/><rect x="-2.4" y="-1.35" width="4.8" height="2.7" rx="1.3" transform="translate(-22.0,-33.4) rotate(327)"/><rect x="-2.4" y="-1.35" width="4.8" height="2.7" rx="1.3" transform="translate(-17.3,-36.1) rotate(334)"/><rect x="-2.4" y="-1.35" width="4.8" height="2.7" rx="1.3" transform="translate(-12.3,-38.1) rotate(342)"/><rect x="-2.4" y="-1.35" width="4.8" height="2.7" rx="1.3" transform="translate(-7.1,-39.4) rotate(350)"/><rect x="-2.4" y="-1.35" width="4.8" height="2.7" rx="1.3" transform="translate(-25.3,-38.4) rotate(327)"/><rect x="-2.4" y="-1.35" width="4.8" height="2.7" rx="1.3" transform="translate(-19.9,-41.5) rotate(334)"/><rect x="-2.4" y="-1.35" width="4.8" height="2.7" rx="1.3" transform="translate(-14.2,-43.8) rotate(342)"/><rect x="-2.4" y="-1.35" width="4.8" height="2.7" rx="1.3" transform="translate(-8.1,-45.3) rotate(350)"/><rect x="-2.4" y="-1.35" width="4.8" height="2.7" rx="1.3" transform="translate(4.5,-26.6) rotate(280)"/><rect x="-2.4" y="-1.35" width="4.8" height="2.7" rx="1.3" transform="translate(9.2,-25.4) rotate(290)"/><rect x="-2.4" y="-1.35" width="4.8" height="2.7" rx="1.3" transform="translate(13.6,-23.3) rotate(300)"/><rect x="-2.4" y="-1.35" width="4.8" height="2.7" rx="1.3" transform="translate(5.6,-33.0) rotate(280)"/><rect x="-2.4" y="-1.35" width="4.8" height="2.7" rx="1.3" transform="translate(11.4,-31.5) rotate(290)"/><rect x="-2.4" y="-1.35" width="4.8" height="2.7" rx="1.3" transform="translate(16.9,-28.9) rotate(300)"/><rect x="-2.4" y="-1.35" width="4.8" height="2.7" rx="1.3" transform="translate(5.8,-39.6) rotate(278)"/><rect x="-2.4" y="-1.35" width="4.8" height="2.7" rx="1.3" transform="translate(11.1,-38.4) rotate(286)"/><rect x="-2.4" y="-1.35" width="4.8" height="2.7" rx="1.3" transform="translate(16.2,-36.6) rotate(294)"/><rect x="-2.4" y="-1.35" width="4.8" height="2.7" rx="1.3" transform="translate(21.0,-34.1) rotate(302)"/><rect x="-2.4" y="-1.35" width="4.8" height="2.7" rx="1.3" transform="translate(6.7,-45.5) rotate(278)"/><rect x="-2.4" y="-1.35" width="4.8" height="2.7" rx="1.3" transform="translate(12.8,-44.2) rotate(286)"/><rect x="-2.4" y="-1.35" width="4.8" height="2.7" rx="1.3" transform="translate(18.6,-42.1) rotate(294)"/><rect x="-2.4" y="-1.35" width="4.8" height="2.7" rx="1.3" transform="translate(24.1,-39.2) rotate(302)"/><rect x="-2.4" y="-1.35" width="4.8" height="2.7" rx="1.3" transform="translate(22.7,-14.6) rotate(417)"/><rect x="-2.4" y="-1.35" width="4.8" height="2.7" rx="1.3" transform="translate(25.0,-10.3) rotate(428)"/><rect x="-2.4" y="-1.35" width="4.8" height="2.7" rx="1.3" transform="translate(26.4,-5.6) rotate(438)"/><rect x="-2.4" y="-1.35" width="4.8" height="2.7" rx="1.3" transform="translate(28.2,-18.1) rotate(417)"/><rect x="-2.4" y="-1.35" width="4.8" height="2.7" rx="1.3" transform="translate(31.0,-12.8) rotate(428)"/><rect x="-2.4" y="-1.35" width="4.8" height="2.7" rx="1.3" transform="translate(32.8,-7.0) rotate(438)"/><rect x="-2.4" y="-1.35" width="4.8" height="2.7" rx="1.3" transform="translate(33.1,-22.4) rotate(416)"/><rect x="-2.4" y="-1.35" width="4.8" height="2.7" rx="1.3" transform="translate(35.9,-17.7) rotate(424)"/><rect x="-2.4" y="-1.35" width="4.8" height="2.7" rx="1.3" transform="translate(37.9,-12.7) rotate(431)"/><rect x="-2.4" y="-1.35" width="4.8" height="2.7" rx="1.3" transform="translate(39.3,-7.5) rotate(439)"/><rect x="-2.4" y="-1.35" width="4.8" height="2.7" rx="1.3" transform="translate(38.1,-25.7) rotate(416)"/><rect x="-2.4" y="-1.35" width="4.8" height="2.7" rx="1.3" transform="translate(41.2,-20.4) rotate(424)"/><rect x="-2.4" y="-1.35" width="4.8" height="2.7" rx="1.3" transform="translate(43.6,-14.6) rotate(431)"/><rect x="-2.4" y="-1.35" width="4.8" height="2.7" rx="1.3" transform="translate(45.2,-8.6) rotate(439)"/></g><path d="M10.1,19.6 L22.0,42.7 L11.0,46.7 L5.0,21.4 Z" fill="#6f737a" opacity="0.75"/><circle r="21" fill="#a6aab2" stroke="#6f737a" stroke-width="1" vector-effect="non-scaling-stroke"/><circle cx="7.6" cy="2.4" r="1.7" fill="#dfe1e4" stroke="#6f737a" stroke-width="0.7" vector-effect="non-scaling-stroke"/><circle cx="1.8" cy="7.8" r="1.7" fill="#dfe1e4" stroke="#6f737a" stroke-width="0.7" vector-effect="non-scaling-stroke"/><circle cx="-5.9" cy="5.4" r="1.7" fill="#dfe1e4" stroke="#6f737a" stroke-width="0.7" vector-effect="non-scaling-stroke"/><circle cx="-7.6" cy="-2.4" r="1.7" fill="#dfe1e4" stroke="#6f737a" stroke-width="0.7" vector-effect="non-scaling-stroke"/><circle cx="-1.8" cy="-7.8" r="1.7" fill="#dfe1e4" stroke="#6f737a" stroke-width="0.7" vector-effect="non-scaling-stroke"/><circle cx="5.9" cy="-5.4" r="1.7" fill="#dfe1e4" stroke="#6f737a" stroke-width="0.7" vector-effect="non-scaling-stroke"/><circle cx="14.3" cy="4.4" r="1.7" fill="#dfe1e4" stroke="#6f737a" stroke-width="0.7" vector-effect="non-scaling-stroke"/><circle cx="9.0" cy="12.0" r="1.7" fill="#dfe1e4" stroke="#6f737a" stroke-width="0.7" vector-effect="non-scaling-stroke"/><circle cx="0.2" cy="15.0" r="1.7" fill="#dfe1e4" stroke="#6f737a" stroke-width="0.7" vector-effect="non-scaling-stroke"/><circle cx="-8.6" cy="12.3" r="1.7" fill="#dfe1e4" stroke="#6f737a" stroke-width="0.7" vector-effect="non-scaling-stroke"/><circle cx="-14.2" cy="4.8" r="1.7" fill="#dfe1e4" stroke="#6f737a" stroke-width="0.7" vector-effect="non-scaling-stroke"/><circle cx="-14.3" cy="-4.4" r="1.7" fill="#dfe1e4" stroke="#6f737a" stroke-width="0.7" vector-effect="non-scaling-stroke"/><circle cx="-9.0" cy="-12.0" r="1.7" fill="#dfe1e4" stroke="#6f737a" stroke-width="0.7" vector-effect="non-scaling-stroke"/><circle cx="-0.2" cy="-15.0" r="1.7" fill="#dfe1e4" stroke="#6f737a" stroke-width="0.7" vector-effect="non-scaling-stroke"/><circle cx="8.6" cy="-12.3" r="1.7" fill="#dfe1e4" stroke="#6f737a" stroke-width="0.7" vector-effect="non-scaling-stroke"/><circle cx="14.2" cy="-4.8" r="1.7" fill="#dfe1e4" stroke="#6f737a" stroke-width="0.7" vector-effect="non-scaling-stroke"/><g stroke="#6f737a" stroke-width="1.1" vector-effect="non-scaling-stroke"><line x1="0" y1="0" x2="4.5" y2="0.0"/><line x1="0" y1="0" x2="2.3" y2="3.9"/><line x1="0" y1="0" x2="-2.2" y2="3.9"/><line x1="0" y1="0" x2="-4.5" y2="0.0"/><line x1="0" y1="0" x2="-2.3" y2="-3.9"/><line x1="0" y1="0" x2="2.3" y2="-3.9"/></g><g transform="rotate(69.7)"><rect x="44" y="-5" width="16" height="10" rx="5" fill="#80848c" stroke="#555" stroke-width="0.9" vector-effect="non-scaling-stroke"/></g></g></g>
<g opacity="1.0"><path d="M1238.7,941.3 L1238.9,939.5 L1239.2,937.8 L1239.7,936.2 L1240.3,934.7 L1241.1,933.3 L1246.4,924.8 L1247.3,923.5 L1248.4,922.3 L1249.7,921.3 L1251.1,920.4 L1252.6,919.6 L1254.3,919.0 L1256.0,918.6 L1257.9,918.2 L1259.9,918.1 L1262.0,918.0 L1264.2,918.2 L1266.4,918.5 L1268.8,918.9 L1271.1,919.4 L1273.6,920.2 L1276.0,921.0 L1278.5,922.0 L1281.1,923.1 L1283.6,924.4 L1286.1,925.8 L1288.6,927.3 L1291.1,928.9 L1293.5,930.6 L1295.9,932.4 L1298.2,934.2 L1300.5,936.2 L1302.7,938.3 L1304.8,940.4 L1306.8,942.5 L1308.7,944.7 L1310.5,947.0 L1312.2,949.2 L1313.7,951.5 L1315.1,953.8 L1316.4,956.1 L1317.5,958.4 L1318.5,960.6 L1319.3,962.8 L1320.0,965.0 L1320.5,967.1 L1320.8,969.2 L1321.0,971.2 L1321.0,973.1 L1320.9,974.9 L1320.5,976.6 L1320.1,978.3 L1319.4,979.8 L1318.6,981.2 L1317.7,982.5 L1311.0,989.9 L1309.9,991.1 L1308.7,992.1 L1307.3,993.0 L1305.8,993.7 L1304.2,994.3 L1302.4,994.8 L1300.6,995.1 L1298.6,995.2 L1296.6,995.3 L1294.5,995.1 L1292.2,994.9 L1290.0,994.5 L1287.6,993.9 L1285.2,993.2 L1282.8,992.4 L1280.4,991.4 L1277.9,990.3 L1275.4,989.1 L1273.0,987.7 L1270.5,986.2 L1268.1,984.7 L1265.7,983.0 L1263.4,981.2 L1261.1,979.4 L1258.9,977.5 L1256.7,975.5 L1254.6,973.4 L1252.7,971.3 L1250.8,969.1 L1249.1,966.9 L1247.4,964.7 L1245.9,962.5 L1244.5,960.2 L1243.3,958.0 L1242.2,955.8 L1241.2,953.5 L1240.4,951.4 L1239.8,949.2 L1239.3,947.2 L1238.9,945.1 L1238.8,943.2 Z" fill="#fff" stroke="#1f1f1f" stroke-width="1.1"/><line x1="1273.9" y1="931.2" x2="1279.8" y2="922.6" stroke="#1f1f1f" stroke-width="1"/><g transform="translate(1276.5,961.0) rotate(40.0) scale(0.9000,0.4800)"><circle r="50" fill="#9ca1ab" stroke="#1f1f1f" stroke-width="1.1" vector-effect="non-scaling-stroke"/><g fill="#33363b"><rect x="-2.4" y="-1.35" width="4.8" height="2.7" rx="1.3" transform="translate(26.0,7.4) rotate(16)"/><rect x="-2.4" y="-1.35" width="4.8" height="2.7" rx="1.3" transform="translate(24.2,11.9) rotate(26)"/><rect x="-2.4" y="-1.35" width="4.8" height="2.7" rx="1.3" transform="translate(21.7,16.1) rotate(36)"/><rect x="-2.4" y="-1.35" width="4.8" height="2.7" rx="1.3" transform="translate(32.2,9.1) rotate(16)"/><rect x="-2.4" y="-1.35" width="4.8" height="2.7" rx="1.3" transform="translate(30.1,14.8) rotate(26)"/><rect x="-2.4" y="-1.35" width="4.8" height="2.7" rx="1.3" transform="translate(26.9,19.9) rotate(36)"/><rect x="-2.4" y="-1.35" width="4.8" height="2.7" rx="1.3" transform="translate(38.7,10.0) rotate(15)"/><rect x="-2.4" y="-1.35" width="4.8" height="2.7" rx="1.3" transform="translate(37.0,15.2) rotate(22)"/><rect x="-2.4" y="-1.35" width="4.8" height="2.7" rx="1.3" transform="translate(34.6,20.0) rotate(30)"/><rect x="-2.4" y="-1.35" width="4.8" height="2.7" rx="1.3" transform="translate(31.6,24.5) rotate(38)"/><rect x="-2.4" y="-1.35" width="4.8" height="2.7" rx="1.3" transform="translate(44.5,11.5) rotate(15)"/><rect x="-2.4" y="-1.35" width="4.8" height="2.7" rx="1.3" transform="translate(42.6,17.4) rotate(22)"/><rect x="-2.4" y="-1.35" width="4.8" height="2.7" rx="1.3" transform="translate(39.8,23.0) rotate(30)"/><rect x="-2.4" y="-1.35" width="4.8" height="2.7" rx="1.3" transform="translate(36.4,28.2) rotate(38)"/><rect x="-2.4" y="-1.35" width="4.8" height="2.7" rx="1.3" transform="translate(-4.0,26.7) rotate(99)"/><rect x="-2.4" y="-1.35" width="4.8" height="2.7" rx="1.3" transform="translate(-8.8,25.5) rotate(109)"/><rect x="-2.4" y="-1.35" width="4.8" height="2.7" rx="1.3" transform="translate(-13.2,23.5) rotate(119)"/><rect x="-2.4" y="-1.35" width="4.8" height="2.7" rx="1.3" transform="translate(-5.0,33.1) rotate(99)"/><rect x="-2.4" y="-1.35" width="4.8" height="2.7" rx="1.3" transform="translate(-10.9,31.7) rotate(109)"/><rect x="-2.4" y="-1.35" width="4.8" height="2.7" rx="1.3" transform="translate(-16.4,29.2) rotate(119)"/><rect x="-2.4" y="-1.35" width="4.8" height="2.7" rx="1.3" transform="translate(-5.1,39.7) rotate(97)"/><rect x="-2.4" y="-1.35" width="4.8" height="2.7" rx="1.3" transform="translate(-10.4,38.6) rotate(105)"/><rect x="-2.4" y="-1.35" width="4.8" height="2.7" rx="1.3" transform="translate(-15.5,36.9) rotate(113)"/><rect x="-2.4" y="-1.35" width="4.8" height="2.7" rx="1.3" transform="translate(-20.3,34.4) rotate(121)"/><rect x="-2.4" y="-1.35" width="4.8" height="2.7" rx="1.3" transform="translate(-5.9,45.6) rotate(97)"/><rect x="-2.4" y="-1.35" width="4.8" height="2.7" rx="1.3" transform="translate(-12.0,44.4) rotate(105)"/><rect x="-2.4" y="-1.35" width="4.8" height="2.7" rx="1.3" transform="translate(-17.8,42.4) rotate(113)"/><rect x="-2.4" y="-1.35" width="4.8" height="2.7" rx="1.3" transform="translate(-23.4,39.6) rotate(121)"/><rect x="-2.4" y="-1.35" width="4.8" height="2.7" rx="1.3" transform="translate(-21.8,15.9) rotate(234)"/><rect x="-2.4" y="-1.35" width="4.8" height="2.7" rx="1.3" transform="translate(-24.3,11.8) rotate(244)"/><rect x="-2.4" y="-1.35" width="4.8" height="2.7" rx="1.3" transform="translate(-26.0,7.2) rotate(255)"/><rect x="-2.4" y="-1.35" width="4.8" height="2.7" rx="1.3" transform="translate(-27.0,19.8) rotate(234)"/><rect x="-2.4" y="-1.35" width="4.8" height="2.7" rx="1.3" transform="translate(-30.2,14.6) rotate(244)"/><rect x="-2.4" y="-1.35" width="4.8" height="2.7" rx="1.3" transform="translate(-32.3,8.9) rotate(255)"/><rect x="-2.4" y="-1.35" width="4.8" height="2.7" rx="1.3" transform="translate(-31.8,24.3) rotate(233)"/><rect x="-2.4" y="-1.35" width="4.8" height="2.7" rx="1.3" transform="translate(-34.7,19.8) rotate(240)"/><rect x="-2.4" y="-1.35" width="4.8" height="2.7" rx="1.3" transform="translate(-37.1,14.9) rotate(248)"/><rect x="-2.4" y="-1.35" width="4.8" height="2.7" rx="1.3" transform="translate(-38.8,9.8) rotate(256)"/><rect x="-2.4" y="-1.35" width="4.8" height="2.7" rx="1.3" transform="translate(-36.5,28.0) rotate(233)"/><rect x="-2.4" y="-1.35" width="4.8" height="2.7" rx="1.3" transform="translate(-40.0,22.8) rotate(240)"/><rect x="-2.4" y="-1.35" width="4.8" height="2.7" rx="1.3" transform="translate(-42.7,17.2) rotate(248)"/><rect x="-2.4" y="-1.35" width="4.8" height="2.7" rx="1.3" transform="translate(-44.6,11.3) rotate(256)"/><rect x="-2.4" y="-1.35" width="4.8" height="2.7" rx="1.3" transform="translate(-26.1,-6.9) rotate(195)"/><rect x="-2.4" y="-1.35" width="4.8" height="2.7" rx="1.3" transform="translate(-24.4,-11.5) rotate(205)"/><rect x="-2.4" y="-1.35" width="4.8" height="2.7" rx="1.3" transform="translate(-22.0,-15.7) rotate(216)"/><rect x="-2.4" y="-1.35" width="4.8" height="2.7" rx="1.3" transform="translate(-32.4,-8.6) rotate(195)"/><rect x="-2.4" y="-1.35" width="4.8" height="2.7" rx="1.3" transform="translate(-30.3,-14.3) rotate(205)"/><rect x="-2.4" y="-1.35" width="4.8" height="2.7" rx="1.3" transform="translate(-27.3,-19.5) rotate(216)"/><rect x="-2.4" y="-1.35" width="4.8" height="2.7" rx="1.3" transform="translate(-38.9,-9.4) rotate(194)"/><rect x="-2.4" y="-1.35" width="4.8" height="2.7" rx="1.3" transform="translate(-37.3,-14.5) rotate(201)"/><rect x="-2.4" y="-1.35" width="4.8" height="2.7" rx="1.3" transform="translate(-35.0,-19.4) rotate(209)"/><rect x="-2.4" y="-1.35" width="4.8" height="2.7" rx="1.3" transform="translate(-32.0,-24.0) rotate(217)"/><rect x="-2.4" y="-1.35" width="4.8" height="2.7" rx="1.3" transform="translate(-44.7,-10.8) rotate(194)"/><rect x="-2.4" y="-1.35" width="4.8" height="2.7" rx="1.3" transform="translate(-42.9,-16.7) rotate(201)"/><rect x="-2.4" y="-1.35" width="4.8" height="2.7" rx="1.3" transform="translate(-40.2,-22.3) rotate(209)"/><rect x="-2.4" y="-1.35" width="4.8" height="2.7" rx="1.3" transform="translate(-36.8,-27.6) rotate(217)"/><rect x="-2.4" y="-1.35" width="4.8" height="2.7" rx="1.3" transform="translate(-13.9,-23.2) rotate(329)"/><rect x="-2.4" y="-1.35" width="4.8" height="2.7" rx="1.3" transform="translate(-9.5,-25.3) rotate(339)"/><rect x="-2.4" y="-1.35" width="4.8" height="2.7" rx="1.3" transform="translate(-4.8,-26.6) rotate(350)"/><rect x="-2.4" y="-1.35" width="4.8" height="2.7" rx="1.3" transform="translate(-17.2,-28.7) rotate(329)"/><rect x="-2.4" y="-1.35" width="4.8" height="2.7" rx="1.3" transform="translate(-11.8,-31.4) rotate(339)"/><rect x="-2.4" y="-1.35" width="4.8" height="2.7" rx="1.3" transform="translate(-6.0,-33.0) rotate(350)"/><rect x="-2.4" y="-1.35" width="4.8" height="2.7" rx="1.3" transform="translate(-21.3,-33.8) rotate(328)"/><rect x="-2.4" y="-1.35" width="4.8" height="2.7" rx="1.3" transform="translate(-16.6,-36.4) rotate(336)"/><rect x="-2.4" y="-1.35" width="4.8" height="2.7" rx="1.3" transform="translate(-11.5,-38.3) rotate(343)"/><rect x="-2.4" y="-1.35" width="4.8" height="2.7" rx="1.3" transform="translate(-6.2,-39.5) rotate(351)"/><rect x="-2.4" y="-1.35" width="4.8" height="2.7" rx="1.3" transform="translate(-24.5,-38.9) rotate(328)"/><rect x="-2.4" y="-1.35" width="4.8" height="2.7" rx="1.3" transform="translate(-19.1,-41.9) rotate(336)"/><rect x="-2.4" y="-1.35" width="4.8" height="2.7" rx="1.3" transform="translate(-13.2,-44.1) rotate(343)"/><rect x="-2.4" y="-1.35" width="4.8" height="2.7" rx="1.3" transform="translate(-7.2,-45.4) rotate(351)"/><rect x="-2.4" y="-1.35" width="4.8" height="2.7" rx="1.3" transform="translate(6.3,-26.3) rotate(284)"/><rect x="-2.4" y="-1.35" width="4.8" height="2.7" rx="1.3" transform="translate(10.9,-24.7) rotate(294)"/><rect x="-2.4" y="-1.35" width="4.8" height="2.7" rx="1.3" transform="translate(15.2,-22.3) rotate(304)"/><rect x="-2.4" y="-1.35" width="4.8" height="2.7" rx="1.3" transform="translate(7.8,-32.6) rotate(284)"/><rect x="-2.4" y="-1.35" width="4.8" height="2.7" rx="1.3" transform="translate(13.5,-30.6) rotate(294)"/><rect x="-2.4" y="-1.35" width="4.8" height="2.7" rx="1.3" transform="translate(18.8,-27.7) rotate(304)"/><rect x="-2.4" y="-1.35" width="4.8" height="2.7" rx="1.3" transform="translate(8.5,-39.1) rotate(282)"/><rect x="-2.4" y="-1.35" width="4.8" height="2.7" rx="1.3" transform="translate(13.7,-37.6) rotate(290)"/><rect x="-2.4" y="-1.35" width="4.8" height="2.7" rx="1.3" transform="translate(18.6,-35.4) rotate(298)"/><rect x="-2.4" y="-1.35" width="4.8" height="2.7" rx="1.3" transform="translate(23.2,-32.6) rotate(305)"/><rect x="-2.4" y="-1.35" width="4.8" height="2.7" rx="1.3" transform="translate(9.7,-45.0) rotate(282)"/><rect x="-2.4" y="-1.35" width="4.8" height="2.7" rx="1.3" transform="translate(15.7,-43.2) rotate(290)"/><rect x="-2.4" y="-1.35" width="4.8" height="2.7" rx="1.3" transform="translate(21.4,-40.7) rotate(298)"/><rect x="-2.4" y="-1.35" width="4.8" height="2.7" rx="1.3" transform="translate(26.7,-37.5) rotate(305)"/><rect x="-2.4" y="-1.35" width="4.8" height="2.7" rx="1.3" transform="translate(22.3,-15.2) rotate(416)"/><rect x="-2.4" y="-1.35" width="4.8" height="2.7" rx="1.3" transform="translate(24.7,-11.0) rotate(426)"/><rect x="-2.4" y="-1.35" width="4.8" height="2.7" rx="1.3" transform="translate(26.2,-6.4) rotate(436)"/><rect x="-2.4" y="-1.35" width="4.8" height="2.7" rx="1.3" transform="translate(27.7,-18.9) rotate(416)"/><rect x="-2.4" y="-1.35" width="4.8" height="2.7" rx="1.3" transform="translate(30.6,-13.6) rotate(426)"/><rect x="-2.4" y="-1.35" width="4.8" height="2.7" rx="1.3" transform="translate(32.5,-7.9) rotate(436)"/><rect x="-2.4" y="-1.35" width="4.8" height="2.7" rx="1.3" transform="translate(32.5,-23.3) rotate(414)"/><rect x="-2.4" y="-1.35" width="4.8" height="2.7" rx="1.3" transform="translate(35.3,-18.7) rotate(422)"/><rect x="-2.4" y="-1.35" width="4.8" height="2.7" rx="1.3" transform="translate(37.5,-13.8) rotate(430)"/><rect x="-2.4" y="-1.35" width="4.8" height="2.7" rx="1.3" transform="translate(39.1,-8.6) rotate(438)"/><rect x="-2.4" y="-1.35" width="4.8" height="2.7" rx="1.3" transform="translate(37.4,-26.8) rotate(414)"/><rect x="-2.4" y="-1.35" width="4.8" height="2.7" rx="1.3" transform="translate(40.6,-21.5) rotate(422)"/><rect x="-2.4" y="-1.35" width="4.8" height="2.7" rx="1.3" transform="translate(43.2,-15.9) rotate(430)"/><rect x="-2.4" y="-1.35" width="4.8" height="2.7" rx="1.3" transform="translate(44.9,-9.9) rotate(438)"/></g><path d="M4.9,21.4 L10.7,46.8 L-0.9,48.0 L-0.4,22.0 Z" fill="#33363b" opacity="0.75"/><circle r="21" fill="#a6aab2" stroke="#33363b" stroke-width="1" vector-effect="non-scaling-stroke"/><circle cx="7.6" cy="2.4" r="1.7" fill="#dfe1e4" stroke="#33363b" stroke-width="0.7" vector-effect="non-scaling-stroke"/><circle cx="1.8" cy="7.8" r="1.7" fill="#dfe1e4" stroke="#33363b" stroke-width="0.7" vector-effect="non-scaling-stroke"/><circle cx="-5.9" cy="5.4" r="1.7" fill="#dfe1e4" stroke="#33363b" stroke-width="0.7" vector-effect="non-scaling-stroke"/><circle cx="-7.6" cy="-2.4" r="1.7" fill="#dfe1e4" stroke="#33363b" stroke-width="0.7" vector-effect="non-scaling-stroke"/><circle cx="-1.8" cy="-7.8" r="1.7" fill="#dfe1e4" stroke="#33363b" stroke-width="0.7" vector-effect="non-scaling-stroke"/><circle cx="5.9" cy="-5.4" r="1.7" fill="#dfe1e4" stroke="#33363b" stroke-width="0.7" vector-effect="non-scaling-stroke"/><circle cx="14.3" cy="4.4" r="1.7" fill="#dfe1e4" stroke="#33363b" stroke-width="0.7" vector-effect="non-scaling-stroke"/><circle cx="9.0" cy="12.0" r="1.7" fill="#dfe1e4" stroke="#33363b" stroke-width="0.7" vector-effect="non-scaling-stroke"/><circle cx="0.2" cy="15.0" r="1.7" fill="#dfe1e4" stroke="#33363b" stroke-width="0.7" vector-effect="non-scaling-stroke"/><circle cx="-8.6" cy="12.3" r="1.7" fill="#dfe1e4" stroke="#33363b" stroke-width="0.7" vector-effect="non-scaling-stroke"/><circle cx="-14.2" cy="4.8" r="1.7" fill="#dfe1e4" stroke="#33363b" stroke-width="0.7" vector-effect="non-scaling-stroke"/><circle cx="-14.3" cy="-4.4" r="1.7" fill="#dfe1e4" stroke="#33363b" stroke-width="0.7" vector-effect="non-scaling-stroke"/><circle cx="-9.0" cy="-12.0" r="1.7" fill="#dfe1e4" stroke="#33363b" stroke-width="0.7" vector-effect="non-scaling-stroke"/><circle cx="-0.2" cy="-15.0" r="1.7" fill="#dfe1e4" stroke="#33363b" stroke-width="0.7" vector-effect="non-scaling-stroke"/><circle cx="8.6" cy="-12.3" r="1.7" fill="#dfe1e4" stroke="#33363b" stroke-width="0.7" vector-effect="non-scaling-stroke"/><circle cx="14.2" cy="-4.8" r="1.7" fill="#dfe1e4" stroke="#33363b" stroke-width="0.7" vector-effect="non-scaling-stroke"/><g stroke="#33363b" stroke-width="1.1" vector-effect="non-scaling-stroke"><line x1="0" y1="0" x2="4.5" y2="0.0"/><line x1="0" y1="0" x2="2.3" y2="3.9"/><line x1="0" y1="0" x2="-2.2" y2="3.9"/><line x1="0" y1="0" x2="-4.5" y2="0.0"/><line x1="0" y1="0" x2="-2.3" y2="-3.9"/><line x1="0" y1="0" x2="2.3" y2="-3.9"/></g><g transform="rotate(53.7)"><rect x="44" y="-5" width="16" height="10" rx="5" fill="#80848c" stroke="#1f1f1f" stroke-width="0.9" vector-effect="non-scaling-stroke"/></g></g></g>
<g opacity="1.0"><path d="M1211.0,1079.3 L1211.0,1077.4 L1211.2,1075.5 L1211.5,1073.8 L1211.9,1072.2 L1212.5,1070.7 L1213.2,1069.3 L1214.0,1068.0 L1220.1,1060.1 L1221.1,1058.9 L1222.2,1057.9 L1223.4,1057.0 L1224.7,1056.2 L1226.2,1055.6 L1227.7,1055.1 L1229.4,1054.8 L1231.1,1054.7 L1232.9,1054.7 L1234.8,1054.9 L1236.7,1055.2 L1238.7,1055.6 L1240.8,1056.3 L1242.9,1057.0 L1245.0,1058.0 L1247.2,1059.0 L1249.3,1060.2 L1251.5,1061.5 L1253.6,1063.0 L1255.8,1064.6 L1257.9,1066.2 L1260.0,1068.0 L1262.0,1069.9 L1264.0,1071.9 L1265.9,1074.0 L1267.8,1076.1 L1269.5,1078.3 L1271.2,1080.6 L1272.8,1082.9 L1274.3,1085.2 L1275.7,1087.5 L1277.0,1089.9 L1278.2,1092.3 L1279.3,1094.7 L1280.2,1097.0 L1281.0,1099.4 L1281.7,1101.7 L1282.2,1103.9 L1282.6,1106.1 L1282.9,1108.2 L1283.0,1110.3 L1283.0,1112.3 L1282.8,1114.1 L1282.5,1115.9 L1282.0,1117.6 L1281.5,1119.2 L1280.7,1120.6 L1279.9,1121.9 L1278.9,1123.1 L1277.8,1124.1 L1270.0,1130.2 L1268.8,1131.1 L1267.5,1131.8 L1266.1,1132.4 L1264.6,1132.8 L1263.0,1133.1 L1261.3,1133.3 L1259.6,1133.3 L1257.8,1133.1 L1255.9,1132.8 L1253.9,1132.3 L1251.9,1131.7 L1249.9,1131.0 L1247.8,1130.1 L1245.8,1129.1 L1243.7,1127.9 L1241.6,1126.6 L1239.5,1125.2 L1237.4,1123.7 L1235.4,1122.0 L1233.3,1120.3 L1231.4,1118.5 L1229.4,1116.5 L1227.6,1114.5 L1225.8,1112.5 L1224.0,1110.3 L1222.4,1108.1 L1220.8,1105.9 L1219.4,1103.6 L1218.0,1101.4 L1216.7,1099.0 L1215.6,1096.7 L1214.6,1094.4 L1213.7,1092.2 L1212.9,1089.9 L1212.2,1087.7 L1211.7,1085.5 L1211.3,1083.3 L1211.1,1081.3 Z" fill="#fff" stroke="#1f1f1f" stroke-width="1.1"/><line x1="1243.0" y1="1068.5" x2="1250.0" y2="1060.6" stroke="#1f1f1f" stroke-width="1"/><g transform="translate(1243.0,1098.0) rotate(50.0) scale(0.8400,0.4500)"><circle r="50" fill="#9ca1ab" stroke="#1f1f1f" stroke-width="1.1" vector-effect="non-scaling-stroke"/><g fill="#33363b"><rect x="-2.4" y="-1.35" width="4.8" height="2.7" rx="1.3" transform="translate(26.6,4.7) rotate(10)"/><rect x="-2.4" y="-1.35" width="4.8" height="2.7" rx="1.3" transform="translate(25.3,9.4) rotate(20)"/><rect x="-2.4" y="-1.35" width="4.8" height="2.7" rx="1.3" transform="translate(23.2,13.8) rotate(31)"/><rect x="-2.4" y="-1.35" width="4.8" height="2.7" rx="1.3" transform="translate(33.0,5.9) rotate(10)"/><rect x="-2.4" y="-1.35" width="4.8" height="2.7" rx="1.3" transform="translate(31.4,11.7) rotate(20)"/><rect x="-2.4" y="-1.35" width="4.8" height="2.7" rx="1.3" transform="translate(28.8,17.1) rotate(31)"/><rect x="-2.4" y="-1.35" width="4.8" height="2.7" rx="1.3" transform="translate(39.5,6.1) rotate(9)"/><rect x="-2.4" y="-1.35" width="4.8" height="2.7" rx="1.3" transform="translate(38.3,11.4) rotate(17)"/><rect x="-2.4" y="-1.35" width="4.8" height="2.7" rx="1.3" transform="translate(36.5,16.4) rotate(24)"/><rect x="-2.4" y="-1.35" width="4.8" height="2.7" rx="1.3" transform="translate(33.9,21.2) rotate(32)"/><rect x="-2.4" y="-1.35" width="4.8" height="2.7" rx="1.3" transform="translate(45.5,7.0) rotate(9)"/><rect x="-2.4" y="-1.35" width="4.8" height="2.7" rx="1.3" transform="translate(44.1,13.1) rotate(17)"/><rect x="-2.4" y="-1.35" width="4.8" height="2.7" rx="1.3" transform="translate(41.9,18.9) rotate(24)"/><rect x="-2.4" y="-1.35" width="4.8" height="2.7" rx="1.3" transform="translate(39.0,24.4) rotate(32)"/><rect x="-2.4" y="-1.35" width="4.8" height="2.7" rx="1.3" transform="translate(-5.2,26.5) rotate(101)"/><rect x="-2.4" y="-1.35" width="4.8" height="2.7" rx="1.3" transform="translate(-9.9,25.1) rotate(111)"/><rect x="-2.4" y="-1.35" width="4.8" height="2.7" rx="1.3" transform="translate(-14.2,22.9) rotate(122)"/><rect x="-2.4" y="-1.35" width="4.8" height="2.7" rx="1.3" transform="translate(-6.5,32.9) rotate(101)"/><rect x="-2.4" y="-1.35" width="4.8" height="2.7" rx="1.3" transform="translate(-12.3,31.2) rotate(111)"/><rect x="-2.4" y="-1.35" width="4.8" height="2.7" rx="1.3" transform="translate(-17.6,28.5) rotate(122)"/><rect x="-2.4" y="-1.35" width="4.8" height="2.7" rx="1.3" transform="translate(-6.8,39.4) rotate(100)"/><rect x="-2.4" y="-1.35" width="4.8" height="2.7" rx="1.3" transform="translate(-12.1,38.1) rotate(108)"/><rect x="-2.4" y="-1.35" width="4.8" height="2.7" rx="1.3" transform="translate(-17.1,36.2) rotate(115)"/><rect x="-2.4" y="-1.35" width="4.8" height="2.7" rx="1.3" transform="translate(-21.8,33.5) rotate(123)"/><rect x="-2.4" y="-1.35" width="4.8" height="2.7" rx="1.3" transform="translate(-7.9,45.3) rotate(100)"/><rect x="-2.4" y="-1.35" width="4.8" height="2.7" rx="1.3" transform="translate(-13.9,43.9) rotate(108)"/><rect x="-2.4" y="-1.35" width="4.8" height="2.7" rx="1.3" transform="translate(-19.7,41.6) rotate(115)"/><rect x="-2.4" y="-1.35" width="4.8" height="2.7" rx="1.3" transform="translate(-25.1,38.5) rotate(123)"/><rect x="-2.4" y="-1.35" width="4.8" height="2.7" rx="1.3" transform="translate(-22.9,14.3) rotate(238)"/><rect x="-2.4" y="-1.35" width="4.8" height="2.7" rx="1.3" transform="translate(-25.1,10.0) rotate(248)"/><rect x="-2.4" y="-1.35" width="4.8" height="2.7" rx="1.3" transform="translate(-26.5,5.3) rotate(259)"/><rect x="-2.4" y="-1.35" width="4.8" height="2.7" rx="1.3" transform="translate(-28.4,17.8) rotate(238)"/><rect x="-2.4" y="-1.35" width="4.8" height="2.7" rx="1.3" transform="translate(-31.1,12.4) rotate(248)"/><rect x="-2.4" y="-1.35" width="4.8" height="2.7" rx="1.3" transform="translate(-32.8,6.6) rotate(259)"/><rect x="-2.4" y="-1.35" width="4.8" height="2.7" rx="1.3" transform="translate(-33.4,22.0) rotate(237)"/><rect x="-2.4" y="-1.35" width="4.8" height="2.7" rx="1.3" transform="translate(-36.1,17.2) rotate(244)"/><rect x="-2.4" y="-1.35" width="4.8" height="2.7" rx="1.3" transform="translate(-38.1,12.2) rotate(252)"/><rect x="-2.4" y="-1.35" width="4.8" height="2.7" rx="1.3" transform="translate(-39.4,7.0) rotate(260)"/><rect x="-2.4" y="-1.35" width="4.8" height="2.7" rx="1.3" transform="translate(-38.4,25.3) rotate(237)"/><rect x="-2.4" y="-1.35" width="4.8" height="2.7" rx="1.3" transform="translate(-41.5,19.8) rotate(244)"/><rect x="-2.4" y="-1.35" width="4.8" height="2.7" rx="1.3" transform="translate(-43.8,14.1) rotate(252)"/><rect x="-2.4" y="-1.35" width="4.8" height="2.7" rx="1.3" transform="translate(-45.3,8.0) rotate(260)"/><rect x="-2.4" y="-1.35" width="4.8" height="2.7" rx="1.3" transform="translate(-26.3,-6.2) rotate(193)"/><rect x="-2.4" y="-1.35" width="4.8" height="2.7" rx="1.3" transform="translate(-24.8,-10.8) rotate(204)"/><rect x="-2.4" y="-1.35" width="4.8" height="2.7" rx="1.3" transform="translate(-22.4,-15.0) rotate(214)"/><rect x="-2.4" y="-1.35" width="4.8" height="2.7" rx="1.3" transform="translate(-32.6,-7.6) rotate(193)"/><rect x="-2.4" y="-1.35" width="4.8" height="2.7" rx="1.3" transform="translate(-30.7,-13.4) rotate(204)"/><rect x="-2.4" y="-1.35" width="4.8" height="2.7" rx="1.3" transform="translate(-27.8,-18.7) rotate(214)"/><rect x="-2.4" y="-1.35" width="4.8" height="2.7" rx="1.3" transform="translate(-39.1,-8.2) rotate(192)"/><rect x="-2.4" y="-1.35" width="4.8" height="2.7" rx="1.3" transform="translate(-37.7,-13.4) rotate(200)"/><rect x="-2.4" y="-1.35" width="4.8" height="2.7" rx="1.3" transform="translate(-35.5,-18.4) rotate(207)"/><rect x="-2.4" y="-1.35" width="4.8" height="2.7" rx="1.3" transform="translate(-32.7,-23.0) rotate(215)"/><rect x="-2.4" y="-1.35" width="4.8" height="2.7" rx="1.3" transform="translate(-45.0,-9.5) rotate(192)"/><rect x="-2.4" y="-1.35" width="4.8" height="2.7" rx="1.3" transform="translate(-43.3,-15.5) rotate(200)"/><rect x="-2.4" y="-1.35" width="4.8" height="2.7" rx="1.3" transform="translate(-40.8,-21.2) rotate(207)"/><rect x="-2.4" y="-1.35" width="4.8" height="2.7" rx="1.3" transform="translate(-37.6,-26.5) rotate(215)"/><rect x="-2.4" y="-1.35" width="4.8" height="2.7" rx="1.3" transform="translate(-16.0,-21.8) rotate(324)"/><rect x="-2.4" y="-1.35" width="4.8" height="2.7" rx="1.3" transform="translate(-11.8,-24.3) rotate(334)"/><rect x="-2.4" y="-1.35" width="4.8" height="2.7" rx="1.3" transform="translate(-7.3,-26.0) rotate(344)"/><rect x="-2.4" y="-1.35" width="4.8" height="2.7" rx="1.3" transform="translate(-19.8,-27.0) rotate(324)"/><rect x="-2.4" y="-1.35" width="4.8" height="2.7" rx="1.3" transform="translate(-14.7,-30.1) rotate(334)"/><rect x="-2.4" y="-1.35" width="4.8" height="2.7" rx="1.3" transform="translate(-9.0,-32.3) rotate(344)"/><rect x="-2.4" y="-1.35" width="4.8" height="2.7" rx="1.3" transform="translate(-24.4,-31.7) rotate(322)"/><rect x="-2.4" y="-1.35" width="4.8" height="2.7" rx="1.3" transform="translate(-19.9,-34.7) rotate(330)"/><rect x="-2.4" y="-1.35" width="4.8" height="2.7" rx="1.3" transform="translate(-15.0,-37.1) rotate(338)"/><rect x="-2.4" y="-1.35" width="4.8" height="2.7" rx="1.3" transform="translate(-9.9,-38.8) rotate(346)"/><rect x="-2.4" y="-1.35" width="4.8" height="2.7" rx="1.3" transform="translate(-28.1,-36.4) rotate(322)"/><rect x="-2.4" y="-1.35" width="4.8" height="2.7" rx="1.3" transform="translate(-22.9,-39.9) rotate(330)"/><rect x="-2.4" y="-1.35" width="4.8" height="2.7" rx="1.3" transform="translate(-17.3,-42.6) rotate(338)"/><rect x="-2.4" y="-1.35" width="4.8" height="2.7" rx="1.3" transform="translate(-11.4,-44.6) rotate(346)"/><rect x="-2.4" y="-1.35" width="4.8" height="2.7" rx="1.3" transform="translate(3.9,-26.7) rotate(278)"/><rect x="-2.4" y="-1.35" width="4.8" height="2.7" rx="1.3" transform="translate(8.6,-25.6) rotate(289)"/><rect x="-2.4" y="-1.35" width="4.8" height="2.7" rx="1.3" transform="translate(13.1,-23.6) rotate(299)"/><rect x="-2.4" y="-1.35" width="4.8" height="2.7" rx="1.3" transform="translate(4.8,-33.2) rotate(278)"/><rect x="-2.4" y="-1.35" width="4.8" height="2.7" rx="1.3" transform="translate(10.7,-31.7) rotate(289)"/><rect x="-2.4" y="-1.35" width="4.8" height="2.7" rx="1.3" transform="translate(16.2,-29.3) rotate(299)"/><rect x="-2.4" y="-1.35" width="4.8" height="2.7" rx="1.3" transform="translate(4.9,-39.7) rotate(277)"/><rect x="-2.4" y="-1.35" width="4.8" height="2.7" rx="1.3" transform="translate(10.2,-38.7) rotate(285)"/><rect x="-2.4" y="-1.35" width="4.8" height="2.7" rx="1.3" transform="translate(15.3,-37.0) rotate(292)"/><rect x="-2.4" y="-1.35" width="4.8" height="2.7" rx="1.3" transform="translate(20.1,-34.6) rotate(300)"/><rect x="-2.4" y="-1.35" width="4.8" height="2.7" rx="1.3" transform="translate(5.6,-45.7) rotate(277)"/><rect x="-2.4" y="-1.35" width="4.8" height="2.7" rx="1.3" transform="translate(11.7,-44.5) rotate(285)"/><rect x="-2.4" y="-1.35" width="4.8" height="2.7" rx="1.3" transform="translate(17.6,-42.5) rotate(292)"/><rect x="-2.4" y="-1.35" width="4.8" height="2.7" rx="1.3" transform="translate(23.2,-39.7) rotate(300)"/><rect x="-2.4" y="-1.35" width="4.8" height="2.7" rx="1.3" transform="translate(23.4,-13.6) rotate(420)"/><rect x="-2.4" y="-1.35" width="4.8" height="2.7" rx="1.3" transform="translate(25.4,-9.1) rotate(430)"/><rect x="-2.4" y="-1.35" width="4.8" height="2.7" rx="1.3" transform="translate(26.6,-4.4) rotate(441)"/><rect x="-2.4" y="-1.35" width="4.8" height="2.7" rx="1.3" transform="translate(29.0,-16.8) rotate(420)"/><rect x="-2.4" y="-1.35" width="4.8" height="2.7" rx="1.3" transform="translate(31.5,-11.3) rotate(430)"/><rect x="-2.4" y="-1.35" width="4.8" height="2.7" rx="1.3" transform="translate(33.0,-5.5) rotate(441)"/><rect x="-2.4" y="-1.35" width="4.8" height="2.7" rx="1.3" transform="translate(34.1,-20.9) rotate(419)"/><rect x="-2.4" y="-1.35" width="4.8" height="2.7" rx="1.3" transform="translate(36.6,-16.1) rotate(426)"/><rect x="-2.4" y="-1.35" width="4.8" height="2.7" rx="1.3" transform="translate(38.5,-11.0) rotate(434)"/><rect x="-2.4" y="-1.35" width="4.8" height="2.7" rx="1.3" transform="translate(39.6,-5.7) rotate(442)"/><rect x="-2.4" y="-1.35" width="4.8" height="2.7" rx="1.3" transform="translate(39.3,-24.0) rotate(419)"/><rect x="-2.4" y="-1.35" width="4.8" height="2.7" rx="1.3" transform="translate(42.1,-18.5) rotate(426)"/><rect x="-2.4" y="-1.35" width="4.8" height="2.7" rx="1.3" transform="translate(44.2,-12.6) rotate(434)"/><rect x="-2.4" y="-1.35" width="4.8" height="2.7" rx="1.3" transform="translate(45.5,-6.5) rotate(442)"/></g><path d="M5.8,21.2 L12.6,46.3 L1.0,48.0 L0.4,22.0 Z" fill="#33363b" opacity="0.75"/><circle r="21" fill="#a6aab2" stroke="#33363b" stroke-width="1" vector-effect="non-scaling-stroke"/><circle cx="7.6" cy="2.4" r="1.7" fill="#dfe1e4" stroke="#33363b" stroke-width="0.7" vector-effect="non-scaling-stroke"/><circle cx="1.8" cy="7.8" r="1.7" fill="#dfe1e4" stroke="#33363b" stroke-width="0.7" vector-effect="non-scaling-stroke"/><circle cx="-5.9" cy="5.4" r="1.7" fill="#dfe1e4" stroke="#33363b" stroke-width="0.7" vector-effect="non-scaling-stroke"/><circle cx="-7.6" cy="-2.4" r="1.7" fill="#dfe1e4" stroke="#33363b" stroke-width="0.7" vector-effect="non-scaling-stroke"/><circle cx="-1.8" cy="-7.8" r="1.7" fill="#dfe1e4" stroke="#33363b" stroke-width="0.7" vector-effect="non-scaling-stroke"/><circle cx="5.9" cy="-5.4" r="1.7" fill="#dfe1e4" stroke="#33363b" stroke-width="0.7" vector-effect="non-scaling-stroke"/><circle cx="14.3" cy="4.4" r="1.7" fill="#dfe1e4" stroke="#33363b" stroke-width="0.7" vector-effect="non-scaling-stroke"/><circle cx="9.0" cy="12.0" r="1.7" fill="#dfe1e4" stroke="#33363b" stroke-width="0.7" vector-effect="non-scaling-stroke"/><circle cx="0.2" cy="15.0" r="1.7" fill="#dfe1e4" stroke="#33363b" stroke-width="0.7" vector-effect="non-scaling-stroke"/><circle cx="-8.6" cy="12.3" r="1.7" fill="#dfe1e4" stroke="#33363b" stroke-width="0.7" vector-effect="non-scaling-stroke"/><circle cx="-14.2" cy="4.8" r="1.7" fill="#dfe1e4" stroke="#33363b" stroke-width="0.7" vector-effect="non-scaling-stroke"/><circle cx="-14.3" cy="-4.4" r="1.7" fill="#dfe1e4" stroke="#33363b" stroke-width="0.7" vector-effect="non-scaling-stroke"/><circle cx="-9.0" cy="-12.0" r="1.7" fill="#dfe1e4" stroke="#33363b" stroke-width="0.7" vector-effect="non-scaling-stroke"/><circle cx="-0.2" cy="-15.0" r="1.7" fill="#dfe1e4" stroke="#33363b" stroke-width="0.7" vector-effect="non-scaling-stroke"/><circle cx="8.6" cy="-12.3" r="1.7" fill="#dfe1e4" stroke="#33363b" stroke-width="0.7" vector-effect="non-scaling-stroke"/><circle cx="14.2" cy="-4.8" r="1.7" fill="#dfe1e4" stroke="#33363b" stroke-width="0.7" vector-effect="non-scaling-stroke"/><g stroke="#33363b" stroke-width="1.1" vector-effect="non-scaling-stroke"><line x1="0" y1="0" x2="4.5" y2="0.0"/><line x1="0" y1="0" x2="2.3" y2="3.9"/><line x1="0" y1="0" x2="-2.2" y2="3.9"/><line x1="0" y1="0" x2="-4.5" y2="0.0"/><line x1="0" y1="0" x2="-2.3" y2="-3.9"/><line x1="0" y1="0" x2="2.3" y2="-3.9"/></g><g transform="rotate(55.6)"><rect x="44" y="-5" width="16" height="10" rx="5" fill="#80848c" stroke="#1f1f1f" stroke-width="0.9" vector-effect="non-scaling-stroke"/></g></g></g>
<path d="M1201.3,977.7 C1205,960 1217,945 1231,939" fill="none" stroke="#1f1f1f" stroke-width="1.3"/><path d="M1234.0,938.0 L1229.3,941.8 L1228.0,937.0 Z" fill="#1f1f1f"/><path d="M1200.5,980.0 L1199.0,974.2 L1203.9,975.0 Z" fill="#1f1f1f"/>
<path d="M1296,919 C1310,904 1328,900 1340,905" fill="none" stroke="#1f1f1f" stroke-width="1.3"/><path d="M1294.0,922.0 L1295.1,916.1 L1299.2,918.9 Z" fill="#1f1f1f"/><path d="M1343.0,907.0 L1337.2,905.4 L1340.4,901.6 Z" fill="#1f1f1f"/>
<path d="M71.2,1130.3 C72.3,1130.3 73,1131 73.8,1132.3 L90.6,1161.5 C91.8,1163.8 90.8,1165.8 88.3,1165.8 L54,1165.8 C51.5,1165.8 50.5,1163.8 51.7,1161.5 L68.6,1132.3 C69.4,1131 70.1,1130.3 71.2,1130.3 Z" fill="#77787c"/>
<path d="M69.9,1139.8 L72.7,1139.8 L72.2,1154.6 L70.4,1154.6 Z" fill="#fff"/><circle cx="71.4" cy="1160.4" r="2.1" fill="#fff"/>
</svg>

<svg class="abs" width="1618" height="1336" viewBox="0 0 1618 1336">
 <g fill="none" stroke="#1a1a1a">
  <rect x="30" y="185.3" width="1553" height="1007" stroke-width="2.3"/>
  <line x1="30" y1="772.7" x2="1583" y2="772.7" stroke-width="2.3"/>
  <line x1="478.8" y1="183" x2="478.8" y2="772" stroke-width="2.2" stroke-dasharray="26.2 16.75"/>
  <line x1="876" y1="185.4" x2="876" y2="772" stroke-width="2.4" stroke-dasharray="26.5 16.5"/>
  <line x1="1237.3" y1="187.8" x2="1237.3" y2="772" stroke-width="2.4" stroke-dasharray="26.3 16.7"/>
  <line x1="967.3" y1="775.8" x2="967.3" y2="1192" stroke-width="2.4" stroke-dasharray="26.6 16.33"/>
  <line x1="43.7" y1="1122.1" x2="967" y2="1122.1" stroke-width="2.4" stroke-dasharray="27.6 28.4"/>
 </g>
</svg>
<div class="t" style="left:137.41px;top:38.87px;font-size:28.5px;font-weight:bold;font-style:normal;color:#231f20;transform:scaleX(1.1825);-webkit-text-stroke:1px #231f20;">ANA BATH</div><div class="t" style="left:46.15px;top:105.20px;font-size:30px;font-weight:bold;font-style:normal;color:#231f20;letter-spacing:-0.356px;">Combo Shower System</div><div class="t" style="left:46.65px;top:146.05px;font-size:16px;font-weight:normal;font-style:normal;color:#231f20;letter-spacing:0.667px;">OPERATION INSTRUCTIONS</div><div class="t" style="left:44.75px;top:194.54px;font-size:27px;font-weight:normal;font-style:normal;color:#231f20;transform:scaleX(0.8527);">A. Directing water path function.</div><div class="t" style="left:492.40px;top:199.54px;font-size:27px;font-weight:normal;font-style:normal;color:#231f20;transform:scaleX(0.8489);">1. Handheld shower head.</div><div class="t" style="left:893.93px;top:197.74px;font-size:27px;font-weight:normal;font-style:normal;color:#231f20;transform:scaleX(0.8527);">2. Fixed showerhead.</div><div class="t" style="left:1248.54px;top:199.64px;font-size:27px;font-weight:normal;font-style:normal;color:#231f20;transform:scaleX(0.8581);">3. Both shower heads.</div><div class="t" style="left:43.77px;top:786.14px;font-size:27px;font-weight:normal;font-style:normal;color:#231f20;transform:scaleX(0.8591);">B. Adjusting fixed showerhead angle.</div><div class="t" style="left:74.19px;top:824.89px;font-size:25.4px;font-weight:normal;font-style:normal;color:#231f20;transform:scaleX(0.9085);">a. Vertically</div><div class="t" style="left:614.92px;top:824.89px;font-size:25.4px;font-weight:normal;font-style:normal;color:#231f20;transform:scaleX(0.9024);">b. Horizontally</div><div class="t" style="left:981.93px;top:786.34px;font-size:27px;font-weight:normal;font-style:normal;color:#231f20;transform:scaleX(0.8566);">C. Adjusting handheld shower head angle.</div><div class="t" style="left:108.48px;top:1134.76px;font-size:26.5px;font-weight:normal;font-style:normal;color:#231f20;transform:scaleX(0.8706);">WARNING: Total angle adjustment for shower head CANNOT exceed 35 degrees</div><div class="t" style="left:235.67px;top:1161.56px;font-size:26.5px;font-weight:normal;font-style:normal;color:#231f20;transform:scaleX(0.8752);">both vertically and horizontally.</div><div class="t" style="left:1314.40px;top:1206.93px;font-size:23px;font-weight:normal;font-style:normal;color:#231f20;transform:scaleX(1.0000);">Ana Bath, Inc.</div><div class="t" style="left:1313.40px;top:1231.73px;font-size:23px;font-weight:normal;font-style:normal;color:#231f20;transform:scaleX(1.0000);">anabath.com</div><div class="t" style="left:1313.40px;top:1256.53px;font-size:23px;font-weight:normal;font-style:normal;color:#231f20;transform:scaleX(1.0000);">cs@anabath.com</div><div class="t" style="left:1313.40px;top:1281.33px;font-size:23px;font-weight:normal;font-style:normal;color:#231f20;transform:scaleX(1.0000);">anabath.cs@gmail.com</div>
</body></html>
